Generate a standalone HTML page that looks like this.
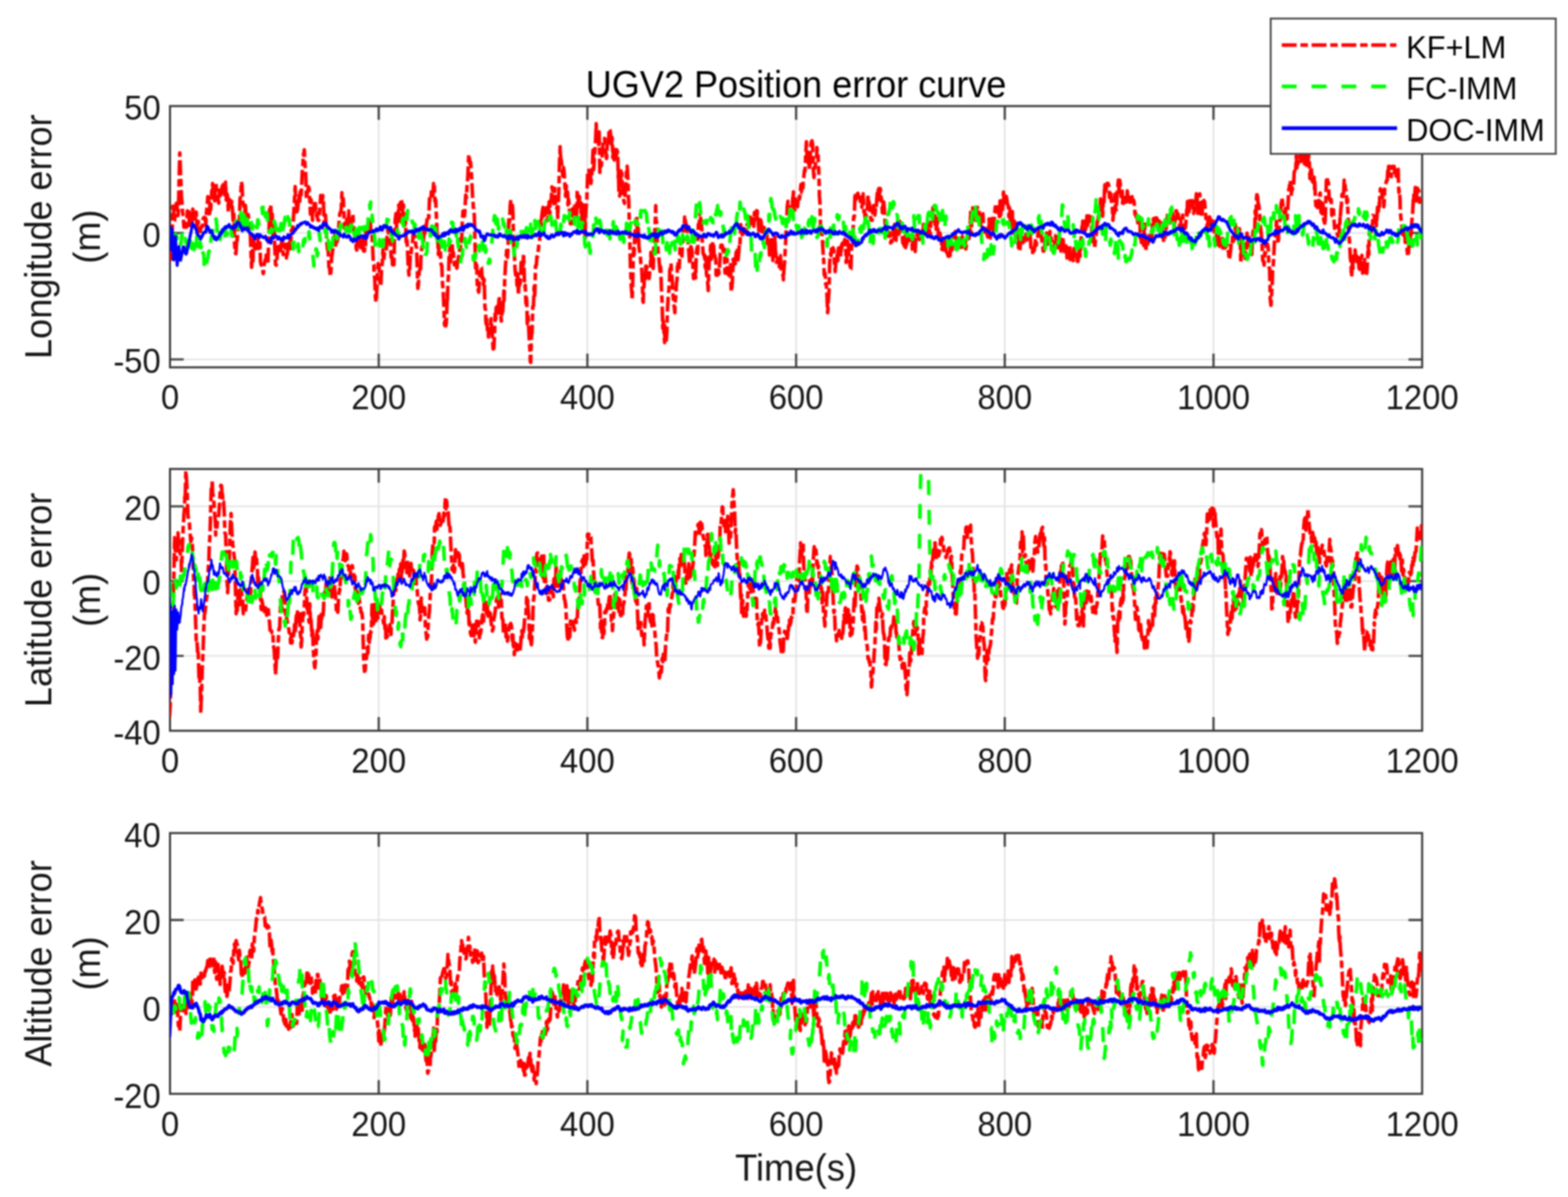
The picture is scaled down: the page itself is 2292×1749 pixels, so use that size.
<!DOCTYPE html><html><head><meta charset="utf-8"><title>UGV2 Position error curve</title><style>html,body{margin:0;padding:0;background:#fff;}svg{display:block;filter:blur(0.9px);}text{font-family:'Liberation Sans', Arial, Helvetica, sans-serif;}</style></head><body>
<svg width="2292" height="1749" viewBox="0 0 2292 1749">
<rect width="2292" height="1749" fill="#fff"/>
<defs>
<clipPath id="c0"><rect x="248.5" y="154.9" width="1830.3" height="381.8"/></clipPath>
<clipPath id="c1"><rect x="248.5" y="685.2" width="1830.3" height="382.5"/></clipPath>
<clipPath id="c2"><rect x="248.5" y="1217.3" width="1830.3" height="381.0"/></clipPath>
</defs>
<path d="M553.6 154.9V536.7M858.6 154.9V536.7M1163.7 154.9V536.7M1468.7 154.9V536.7M1773.8 154.9V536.7M248.5 340.4H2078.8M248.5 525.1H2078.8" stroke="#e3e3e3" stroke-width="2.4" fill="none"/>
<path d="M553.6 536.7v-20M553.6 154.9v20M858.6 536.7v-20M858.6 154.9v20M1163.7 536.7v-20M1163.7 154.9v20M1468.7 536.7v-20M1468.7 154.9v20M1773.8 536.7v-20M1773.8 154.9v20M248.5 340.4h20M2078.8 340.4h-20M248.5 525.1h20M2078.8 525.1h-20" stroke="#4a4a4a" stroke-width="3.4" fill="none"/>
<path d="M248.5 154.9H2078.8V536.7H248.5Z" stroke="#3a3a3a" stroke-width="3" fill="none" stroke-linejoin="miter"/>
<g clip-path="url(#c0)" fill="none" stroke-width="5.2" stroke-linejoin="round">
<path d="M247.8 364.6 248.8 370.5 249.8 378.8 250.2 375.5 250.8 356.8 251.8 336.1 252.8 301.1 253.8 306.2 254.8 323.3 255.2 322.6 255.8 312.1 256.8 304.9 257.8 297.2 258.8 301.1 259.8 315.2 260.2 314.9 260.8 306.9 261.8 261.6 262.8 223.4 263.8 249.8 264.8 275.5 265.2 288.0 265.8 293.5 266.8 309.3 267.8 316.0 268.8 332.0 269.8 332.0 270.8 325.8 271.5 332.1 271.8 329.2 272.8 332.0 273.8 308.0 274.0 315.0 274.8 321.0 275.8 305.5 276.8 329.4 277.8 321.2 278.8 311.6 279.8 317.6 280.8 326.7 281.5 311.8 281.8 305.5 282.8 312.2 283.8 307.1 284.8 318.1 285.2 313.7 285.8 320.2 286.8 309.8 287.8 327.9 288.8 339.5 289.0 323.4 289.8 323.3 290.8 335.4 291.8 334.2 292.8 338.2 293.8 331.7 294.8 331.7 295.8 331.1 296.5 321.2 296.8 319.8 297.8 318.2 298.8 320.4 299.8 315.5 300.2 313.8 300.8 329.5 301.8 309.5 302.8 301.4 303.8 287.3 304.8 292.3 305.8 316.3 306.5 310.7 306.8 296.8 307.8 308.1 308.8 294.8 309.5 278.6 309.8 290.6 310.8 268.0 311.8 284.3 312.8 277.0 313.8 293.6 314.8 277.2 315.8 268.0 316.5 280.8 316.8 284.4 317.8 292.6 318.8 289.1 319.0 291.3 319.8 296.8 320.8 277.7 321.8 281.6 322.8 285.0 323.8 281.6 324.8 272.1 325.8 273.9 326.5 268.3 326.8 265.5 327.8 281.8 328.8 285.0 329.8 266.2 330.2 282.1 330.8 292.5 331.8 283.4 332.8 287.4 333.8 309.5 334.0 293.8 334.8 296.5 335.8 291.8 336.8 302.1 337.8 301.2 338.8 294.2 339.8 306.9 340.8 322.2 341.5 314.6 341.8 312.9 342.8 354.5 343.5 366.8 343.8 369.2 344.8 370.7 345.8 354.4 346.5 346.8 346.8 351.1 347.8 331.2 348.8 323.0 349.8 330.0 350.2 314.1 350.8 291.2 351.8 285.9 352.8 265.3 353.8 270.7 354.8 295.7 355.2 296.3 355.8 298.2 356.8 302.7 357.8 309.0 358.8 300.1 359.8 321.5 360.8 331.6 361.5 317.1 361.8 314.2 362.8 313.7 363.8 320.8 364.8 337.2 365.2 339.8 365.8 338.7 366.8 367.5 367.8 390.6 368.8 366.0 369.8 381.8 370.2 359.1 370.8 348.0 371.8 361.7 372.8 362.3 373.8 359.4 374.0 363.5 374.8 357.1 375.8 362.9 376.8 348.0 377.8 359.4 378.8 363.0 379.8 352.3 380.8 382.6 381.5 386.4 381.8 387.3 382.8 386.7 383.8 393.5 384.8 399.8 385.2 398.6 385.8 388.1 386.8 383.9 387.8 379.4 388.8 380.8 389.0 372.8 389.8 378.7 390.8 372.7 391.5 384.2 391.8 379.0 392.8 349.9 393.8 317.2 394.0 306.3 394.8 319.1 395.8 298.0 396.8 326.7 397.8 309.9 398.8 340.8 399.8 347.8 400.2 342.8 400.8 338.2 401.8 363.3 402.8 386.6 403.8 387.4 404.8 378.5 405.8 364.8 406.5 360.9 406.8 360.0 407.8 366.8 408.8 362.3 409.8 366.3 410.2 370.2 410.8 358.5 411.8 353.0 412.8 353.0 413.8 372.1 414.0 360.4 414.8 359.5 415.8 358.6 416.8 362.7 417.8 356.9 418.8 377.0 419.0 368.6 419.8 372.0 420.8 364.7 421.8 357.0 422.8 354.8 423.8 345.7 424.0 348.2 424.8 363.3 425.8 336.6 426.8 335.3 427.8 333.3 428.8 325.2 429.0 317.5 429.8 304.9 430.8 285.4 431.5 272.5 431.8 280.9 432.8 296.9 433.8 301.0 434.0 309.6 434.8 307.0 435.8 297.4 436.5 293.3 436.8 284.2 437.8 298.3 438.8 280.4 439.8 289.2 440.2 284.5 440.8 274.7 441.8 251.7 442.8 239.6 443.5 225.2 443.8 227.0 444.8 218.9 445.8 242.0 446.5 246.8 446.8 252.2 447.8 290.6 448.8 283.6 449.0 283.2 449.8 279.7 450.8 272.9 451.8 275.0 452.8 292.4 453.8 313.0 454.8 291.9 455.8 310.1 456.5 315.4 456.8 322.0 457.8 302.6 458.8 297.8 459.8 307.7 460.2 299.1 460.8 293.0 461.8 309.7 462.8 315.5 463.8 310.9 464.0 318.4 464.8 321.8 465.8 322.0 466.8 316.7 467.8 300.2 468.8 285.5 469.8 287.6 470.8 296.4 471.5 288.7 471.8 285.5 472.8 294.8 473.8 327.9 474.8 319.8 475.2 319.1 475.8 314.1 476.8 333.9 477.8 355.3 478.8 364.8 479.0 356.3 479.8 368.1 480.8 390.2 481.8 392.4 482.8 403.9 483.8 395.5 484.8 375.9 485.8 369.5 486.5 364.6 486.8 347.6 487.8 349.2 488.8 354.4 489.8 341.3 490.2 349.8 490.8 358.4 491.8 345.9 492.8 353.3 493.8 349.1 494.0 348.1 494.8 337.0 495.8 321.5 496.8 311.5 497.8 310.5 498.8 305.7 499.8 281.5 500.2 290.3 500.8 294.1 501.8 290.3 502.8 313.2 503.8 334.1 504.8 325.7 505.8 336.0 506.5 334.4 506.8 320.5 507.8 336.1 508.8 327.9 509.8 308.0 510.2 323.6 510.8 331.9 511.8 316.2 512.8 325.4 513.8 329.2 514.0 322.1 514.8 314.4 515.8 313.0 516.8 329.9 517.8 339.0 518.8 345.7 519.8 345.8 520.8 363.7 521.5 365.4 521.8 355.3 522.8 340.3 523.8 348.3 524.8 359.7 525.2 353.4 525.8 348.2 526.8 361.7 527.8 359.6 528.8 349.2 529.0 355.1 529.8 350.7 530.8 365.0 531.8 367.0 532.8 367.0 533.8 352.4 534.0 362.7 534.8 338.7 535.8 338.5 536.8 344.4 537.8 338.4 538.8 333.6 539.8 332.0 540.8 328.2 541.5 322.9 541.8 333.8 542.8 341.3 543.8 342.9 544.8 364.4 545.8 385.8 546.5 386.8 546.8 398.7 547.8 407.5 548.8 434.6 549.0 436.3 549.8 441.6 550.8 421.5 551.8 397.1 552.8 385.2 553.8 387.8 554.0 388.4 554.8 409.6 555.8 415.6 556.5 418.1 556.8 414.8 557.8 391.6 558.8 384.2 559.8 364.8 560.2 374.0 560.8 381.7 561.8 371.5 562.8 365.8 563.8 363.0 564.0 362.4 564.8 363.8 565.8 345.6 566.8 335.5 567.8 338.3 568.8 355.2 569.8 350.4 570.8 352.2 571.5 370.6 571.8 376.1 572.8 372.2 573.8 387.0 574.8 385.2 575.2 380.0 575.8 387.0 576.8 339.6 577.8 320.3 578.8 312.0 579.8 333.4 580.8 315.6 581.5 315.5 581.8 316.0 582.8 299.5 583.8 310.2 584.8 323.2 585.2 297.7 585.8 293.6 586.8 290.8 587.8 299.8 588.8 310.2 589.0 312.4 589.8 299.3 590.8 333.9 591.8 328.9 592.8 323.7 593.8 354.0 594.8 348.9 595.2 356.7 595.8 368.0 596.8 391.1 597.8 402.1 598.8 394.6 599.8 369.9 600.8 371.8 601.5 363.5 601.8 359.7 602.8 357.4 603.8 344.3 604.0 341.4 604.8 342.8 605.8 346.2 606.8 345.8 607.8 358.7 608.8 361.2 609.8 388.9 610.8 421.4 611.5 415.6 611.8 412.2 612.8 396.7 613.8 393.2 614.8 396.8 615.2 377.5 615.8 369.7 616.8 360.8 617.8 361.9 618.8 350.5 619.0 352.6 619.8 337.3 620.8 343.7 621.8 327.1 622.8 333.9 623.8 324.3 624.8 316.9 625.8 318.5 626.5 315.0 626.8 318.5 627.8 290.1 628.8 294.3 629.8 291.5 630.2 285.7 630.8 278.0 631.8 285.5 632.8 285.2 633.8 268.0 634.0 272.3 634.8 270.5 635.8 294.5 636.8 291.9 637.8 314.0 638.8 339.8 639.8 345.8 640.2 357.2 640.8 371.9 641.8 357.6 642.8 360.6 643.8 367.1 644.0 375.6 644.8 386.6 645.8 387.8 646.8 413.6 647.8 425.4 648.8 447.5 649.8 474.8 650.8 468.1 651.5 479.1 651.8 479.5 652.8 464.3 653.8 427.6 654.0 439.7 654.8 412.5 655.8 399.2 656.5 373.6 656.8 373.4 657.8 361.1 658.8 382.5 659.8 361.6 660.2 354.8 660.8 354.6 661.8 369.9 662.8 369.3 663.8 384.7 664.0 387.1 664.8 382.8 665.8 384.3 666.8 388.6 667.8 391.8 668.8 384.0 669.8 377.6 670.8 372.2 671.5 372.6 671.8 366.2 672.8 364.6 673.8 348.4 674.8 353.1 675.2 338.3 675.8 323.8 676.8 308.5 677.8 316.2 678.8 310.6 679.0 315.5 679.8 302.7 680.8 284.9 681.8 289.1 682.8 269.3 683.8 259.5 684.8 234.5 685.2 225.9 685.8 226.3 686.8 239.5 687.8 236.6 688.8 248.3 689.0 254.0 689.8 267.7 690.8 287.5 691.5 293.1 691.8 303.2 692.8 305.0 693.8 328.0 694.0 339.7 694.8 377.5 695.2 391.9 695.8 396.1 696.8 387.0 697.8 421.2 698.8 424.0 699.0 423.1 699.8 427.0 700.8 410.1 701.8 391.1 702.8 390.8 703.8 391.2 704.8 407.2 705.8 405.5 706.5 415.8 706.8 413.5 707.8 408.5 708.8 448.2 709.8 453.8 710.2 469.7 710.8 473.7 711.8 466.9 712.8 487.4 713.8 485.5 714.0 492.5 714.8 477.2 715.8 478.4 716.8 474.8 717.8 465.7 718.8 479.0 719.8 491.9 720.8 509.9 721.5 504.4 721.8 509.5 722.8 490.6 723.8 458.3 724.8 466.2 725.2 449.7 725.8 455.4 726.8 447.6 727.8 452.8 728.8 457.6 729.0 443.5 729.8 432.5 730.8 452.4 731.8 457.9 732.8 469.2 733.8 457.1 734.8 455.6 735.8 439.5 736.5 425.1 736.8 439.2 737.8 408.1 738.8 389.2 739.0 386.4 739.8 376.9 740.8 363.0 741.8 376.1 742.8 356.8 743.8 316.5 744.8 324.5 745.2 314.7 745.8 299.7 746.8 292.0 747.8 306.7 748.8 299.8 749.0 300.3 749.8 312.0 750.8 360.0 751.5 367.2 751.8 368.8 752.8 392.8 753.8 402.0 754.0 401.4 754.8 398.7 755.8 417.2 756.8 400.6 757.8 431.3 758.8 408.0 759.8 416.1 760.8 410.2 761.5 389.3 761.8 383.6 762.8 396.9 763.8 383.1 764.8 387.8 765.2 370.7 765.8 385.8 766.8 418.2 767.8 417.0 768.8 443.6 769.0 442.5 769.8 433.1 770.8 473.1 771.8 462.1 772.8 479.3 773.8 499.8 774.8 513.6 775.2 528.6 775.8 529.5 776.8 491.8 777.8 484.6 778.8 447.9 779.8 447.0 780.8 418.4 781.5 431.9 781.8 429.5 782.8 388.5 783.8 387.2 784.0 387.6 784.8 375.2 785.8 375.3 786.8 366.1 787.8 356.0 788.8 352.6 789.8 324.2 790.2 322.6 790.8 329.1 791.8 316.7 792.8 308.3 793.8 303.0 794.0 307.2 794.8 315.7 795.8 308.1 796.8 313.7 797.8 306.1 798.8 303.5 799.0 320.4 799.8 322.0 800.8 321.7 801.8 308.5 802.8 294.9 803.8 313.4 804.0 297.0 804.8 293.5 805.8 291.6 806.8 273.0 807.8 278.7 808.8 294.4 809.8 297.6 810.8 275.1 811.5 297.5 811.8 284.9 812.8 298.2 813.8 304.4 814.8 301.6 815.2 317.8 815.8 304.4 816.8 280.9 817.8 238.5 818.8 214.4 819.0 224.0 819.8 230.3 820.8 236.8 821.8 249.7 822.8 257.4 823.8 244.9 824.8 254.1 825.8 271.3 826.5 281.9 826.8 287.0 827.8 271.4 828.8 276.6 829.8 282.2 830.2 299.3 830.8 290.6 831.8 296.9 832.8 314.6 833.8 327.0 834.0 322.9 834.8 327.0 835.8 327.0 836.8 305.0 837.8 316.6 838.8 309.1 839.0 312.6 839.8 301.0 840.8 309.3 841.8 313.4 842.8 316.6 843.8 279.2 844.0 278.5 844.8 287.5 845.8 301.7 846.8 286.9 847.8 299.0 848.8 295.8 849.8 320.6 850.8 312.4 851.5 317.9 851.8 298.9 852.8 301.5 853.8 337.7 854.8 320.6 855.2 347.6 855.8 320.9 856.8 302.0 857.8 291.0 858.8 260.8 859.0 252.6 859.8 253.5 860.8 248.7 861.8 257.1 862.8 252.1 863.8 268.2 864.0 266.7 864.8 256.9 865.8 245.4 866.8 219.4 867.8 247.8 868.8 231.1 869.8 216.4 870.8 200.6 871.5 180.5 871.8 203.8 872.8 200.2 873.8 200.4 874.8 211.4 875.2 213.8 875.8 192.7 876.8 252.0 877.8 243.7 878.8 241.5 879.0 242.1 879.8 231.9 880.8 218.7 881.8 203.0 882.8 202.5 883.8 202.3 884.8 222.7 885.8 222.9 886.5 231.6 886.8 231.0 887.8 203.9 888.8 205.4 889.8 208.6 890.2 191.8 890.8 188.0 891.8 190.1 892.8 200.1 893.8 203.9 894.0 211.5 894.8 200.8 895.8 230.4 896.8 218.6 897.8 233.8 898.8 225.5 899.8 218.4 900.8 227.4 901.5 214.8 901.8 224.7 902.8 221.9 903.8 259.5 904.0 252.4 904.8 283.5 905.8 286.5 906.5 281.0 906.8 275.0 907.8 249.6 908.8 256.8 909.0 252.7 909.8 272.5 910.8 280.1 911.8 293.4 912.8 297.2 913.8 282.2 914.8 272.9 915.8 248.5 916.5 246.8 916.8 242.8 917.8 261.9 918.8 292.3 919.0 291.5 919.8 320.7 920.8 359.4 921.5 389.4 921.8 394.3 922.8 419.1 923.8 430.9 924.0 438.5 924.8 415.6 925.8 370.5 926.5 362.5 926.8 374.8 927.8 342.1 928.8 334.7 929.8 320.9 930.2 315.3 930.8 318.9 931.8 357.0 932.8 328.9 933.8 355.1 934.0 360.7 934.8 366.7 935.8 371.9 936.8 385.1 937.8 389.2 938.8 411.0 939.8 439.8 940.2 441.8 940.8 426.0 941.8 410.9 942.8 413.0 943.8 395.0 944.0 384.5 944.8 393.8 945.8 390.6 946.8 403.8 947.8 405.6 948.8 406.9 949.8 396.9 950.8 389.9 951.5 368.5 951.8 383.3 952.8 373.6 953.8 375.0 954.8 392.3 955.2 381.1 955.8 355.0 956.8 344.5 957.8 323.0 958.5 300.3 958.8 321.2 959.8 324.8 960.8 350.6 961.5 359.7 961.8 366.5 962.8 374.6 963.8 385.1 964.8 396.7 965.2 389.1 965.8 391.5 966.8 421.2 967.8 440.9 968.8 479.7 969.0 466.9 969.8 471.9 970.8 490.1 971.5 500.7 971.8 476.2 972.8 501.3 973.8 499.3 974.8 484.2 975.2 467.1 975.8 450.4 976.8 432.8 977.8 422.3 978.8 408.1 979.0 394.8 979.8 392.7 980.8 384.9 981.8 400.2 982.8 412.7 983.8 431.3 984.8 442.6 985.8 450.5 986.5 457.0 986.8 444.2 987.8 431.4 988.8 414.2 989.8 407.0 990.2 389.0 990.8 382.7 991.8 389.5 992.8 391.3 993.8 370.5 994.0 362.5 994.8 360.9 995.8 371.8 996.8 374.1 997.8 351.5 998.8 330.1 999.8 337.3 1000.8 317.2 1001.5 323.0 1001.8 321.7 1002.8 329.7 1003.8 328.8 1004.0 334.2 1004.8 338.3 1005.8 357.3 1006.8 367.0 1007.8 381.7 1008.8 385.7 1009.8 360.4 1010.8 363.3 1011.5 367.1 1011.8 376.5 1012.8 387.6 1013.8 407.1 1014.8 400.8 1015.2 406.1 1015.8 398.2 1016.8 406.2 1017.8 369.1 1018.8 363.7 1019.0 358.6 1019.8 370.7 1020.8 327.9 1021.8 331.3 1022.8 313.7 1023.8 308.0 1024.0 319.2 1024.8 321.8 1025.8 334.8 1026.8 355.8 1027.8 370.3 1028.8 373.1 1029.8 372.4 1030.8 390.0 1031.5 392.1 1031.8 375.1 1032.8 401.9 1033.8 404.6 1034.8 418.0 1035.2 424.6 1035.8 403.3 1036.8 377.1 1037.8 373.7 1038.8 358.7 1039.0 366.0 1039.8 378.9 1040.8 370.7 1041.8 353.0 1042.8 354.1 1043.8 372.9 1044.8 375.1 1045.8 371.0 1046.5 385.6 1046.8 402.0 1047.8 396.7 1048.8 402.0 1049.8 400.4 1050.2 394.2 1050.8 400.0 1051.8 388.3 1052.8 370.4 1053.8 358.4 1054.0 364.3 1054.8 358.0 1055.8 358.7 1056.8 366.4 1057.8 367.9 1058.8 363.9 1059.0 371.2 1059.8 399.0 1060.8 396.9 1061.8 399.3 1062.8 378.6 1063.8 394.3 1064.0 391.6 1064.8 401.4 1065.8 401.4 1066.8 407.2 1067.8 386.6 1068.8 426.4 1069.0 422.1 1069.8 420.7 1070.8 406.4 1071.8 378.6 1072.8 386.6 1073.8 381.8 1074.8 385.5 1075.8 371.7 1076.5 364.7 1076.8 379.0 1077.8 363.1 1078.8 379.8 1079.8 369.6 1080.8 356.3 1081.5 358.6 1081.8 351.9 1082.8 328.0 1083.8 338.7 1084.8 343.0 1085.8 331.2 1086.5 341.4 1086.8 341.5 1087.8 334.1 1088.8 334.9 1089.8 335.8 1090.8 337.8 1091.5 335.0 1091.8 328.4 1092.8 328.5 1093.8 326.2 1094.8 334.7 1095.8 324.0 1096.5 322.4 1096.8 317.2 1097.8 329.0 1098.8 326.3 1099.8 316.6 1100.8 317.1 1101.5 315.8 1101.8 330.6 1102.8 310.7 1103.8 318.8 1104.8 313.7 1105.8 308.0 1106.5 320.7 1106.8 308.0 1107.8 317.2 1108.8 332.0 1109.8 342.0 1110.2 327.9 1110.8 321.9 1111.8 321.2 1112.8 325.7 1113.8 339.0 1114.0 335.4 1114.8 332.0 1115.8 336.5 1116.8 332.4 1117.8 334.1 1118.8 334.8 1119.0 337.0 1119.8 335.7 1120.8 336.7 1121.8 355.6 1122.8 361.3 1123.8 357.3 1124.0 351.0 1124.8 372.6 1125.8 365.0 1126.8 361.3 1127.8 345.6 1128.8 363.7 1129.0 362.0 1129.8 380.7 1130.8 364.4 1131.8 368.1 1132.8 345.6 1133.8 375.7 1134.0 368.3 1134.8 383.4 1135.8 382.0 1136.8 377.8 1137.8 381.2 1138.8 377.1 1139.0 389.6 1139.8 375.0 1140.8 373.4 1141.8 392.5 1142.8 397.9 1143.8 400.9 1144.8 402.6 1145.2 409.0 1145.8 394.0 1146.8 384.0 1147.8 365.0 1148.8 344.8 1149.8 320.4 1150.2 318.3 1150.8 301.5 1151.8 294.1 1152.8 301.1 1153.8 302.0 1154.0 302.8 1154.8 307.0 1155.8 307.7 1156.8 308.1 1157.8 309.0 1158.8 288.6 1159.0 294.7 1159.8 280.3 1160.8 307.0 1161.8 307.0 1162.8 288.3 1163.8 287.0 1164.0 290.7 1164.8 299.6 1165.8 302.0 1166.8 286.8 1167.8 286.4 1168.8 290.6 1169.8 280.6 1170.8 269.5 1171.5 275.8 1171.8 281.5 1172.8 280.7 1173.8 273.1 1174.0 264.2 1174.8 259.7 1175.8 250.2 1176.5 247.3 1176.8 249.8 1177.8 224.0 1178.8 207.0 1179.0 211.1 1179.8 234.8 1180.8 237.2 1181.8 223.7 1182.8 242.7 1183.8 247.1 1184.8 217.0 1185.8 208.1 1186.5 213.9 1186.8 205.5 1187.8 210.9 1188.8 246.6 1189.8 259.5 1190.2 250.6 1190.8 243.7 1191.8 242.2 1192.8 232.2 1193.8 230.3 1194.0 215.5 1194.8 224.2 1195.8 227.2 1196.5 250.5 1196.8 246.1 1197.8 286.6 1198.8 300.4 1199.0 317.3 1199.8 340.6 1200.8 333.8 1201.5 343.1 1201.8 343.4 1202.8 362.6 1203.8 379.8 1204.0 378.5 1204.8 401.6 1205.8 398.8 1206.5 404.1 1206.8 415.2 1207.8 414.5 1208.8 431.2 1209.8 457.0 1210.2 452.3 1210.8 439.1 1211.8 425.9 1212.8 383.6 1213.8 371.1 1214.8 373.5 1215.2 361.2 1215.8 368.2 1216.8 365.7 1217.8 362.0 1218.8 366.3 1219.8 385.9 1220.8 397.0 1221.5 386.3 1221.8 382.3 1222.8 385.9 1223.8 371.1 1224.8 380.8 1225.2 362.6 1225.8 358.9 1226.8 368.6 1227.8 370.0 1228.8 375.2 1229.0 360.6 1229.8 368.8 1230.8 356.2 1231.8 356.5 1232.8 350.4 1233.8 357.6 1234.8 349.8 1235.8 364.2 1236.5 367.2 1236.8 383.5 1237.8 378.3 1238.8 351.8 1239.8 359.8 1240.2 356.3 1240.8 373.7 1241.8 376.4 1242.8 394.6 1243.8 393.5 1244.8 360.8 1245.2 360.1 1245.8 345.5 1246.8 341.1 1247.8 316.8 1248.8 316.9 1249.8 282.0 1250.2 283.3 1250.8 292.4 1251.8 285.8 1252.8 284.0 1253.8 288.8 1254.0 282.3 1254.8 287.8 1255.8 285.2 1256.8 282.4 1257.8 300.3 1258.8 300.7 1259.8 302.6 1260.8 294.1 1261.5 290.3 1261.8 283.0 1262.8 309.7 1263.8 309.2 1264.8 322.0 1265.2 312.9 1265.8 318.2 1266.8 308.9 1267.8 305.0 1268.8 283.8 1269.0 301.4 1269.8 293.9 1270.8 298.1 1271.8 304.1 1272.8 319.2 1273.8 322.0 1274.8 322.0 1275.8 309.9 1276.5 309.9 1276.8 300.4 1277.8 304.8 1278.8 314.3 1279.8 304.1 1280.2 300.6 1280.8 302.5 1281.8 289.1 1282.8 276.1 1283.8 275.5 1284.0 284.6 1284.8 292.0 1285.8 281.1 1286.8 275.5 1287.8 287.7 1288.8 292.7 1289.8 310.8 1290.8 298.8 1291.5 309.8 1291.8 295.2 1292.8 307.0 1293.8 327.1 1294.8 321.1 1295.2 328.6 1295.8 347.4 1296.8 336.8 1297.8 332.7 1298.8 335.6 1299.0 345.3 1299.8 339.6 1300.8 345.1 1301.8 355.1 1302.8 351.4 1303.8 353.3 1304.8 346.6 1305.8 333.2 1306.5 334.6 1306.8 348.8 1307.8 327.8 1308.8 328.7 1309.8 351.1 1310.2 330.7 1310.8 331.3 1311.8 328.1 1312.8 333.3 1313.8 330.8 1314.0 342.2 1314.8 323.0 1315.8 327.1 1316.8 328.4 1317.8 340.3 1318.8 345.2 1319.8 355.6 1320.8 355.3 1321.5 351.3 1321.8 359.4 1322.8 345.7 1323.8 362.0 1324.8 337.9 1325.2 353.1 1325.8 357.3 1326.8 355.9 1327.8 349.4 1328.8 351.5 1329.0 343.6 1329.8 348.4 1330.8 351.0 1331.8 350.5 1332.8 350.6 1333.8 366.9 1334.8 344.5 1335.8 355.6 1336.5 359.2 1336.8 357.2 1337.8 367.6 1338.8 345.4 1339.8 343.4 1340.2 341.5 1340.8 344.6 1341.8 340.3 1342.8 340.8 1343.8 350.2 1344.0 344.6 1344.8 347.0 1345.8 335.3 1346.8 342.9 1347.8 339.2 1348.8 344.3 1349.8 327.9 1350.8 341.8 1351.5 330.2 1351.8 342.2 1352.8 342.0 1353.8 340.8 1354.8 338.8 1355.2 330.6 1355.8 330.0 1356.8 334.7 1357.8 324.8 1358.8 341.4 1359.0 338.6 1359.8 344.5 1360.8 315.9 1361.8 312.9 1362.8 313.6 1363.8 303.0 1364.8 311.1 1365.8 327.1 1366.5 315.0 1366.8 327.8 1367.8 324.2 1368.8 337.3 1369.8 325.1 1370.2 318.9 1370.8 333.3 1371.8 344.1 1372.8 340.5 1373.8 348.4 1374.0 340.5 1374.8 346.8 1375.8 344.1 1376.8 364.5 1377.8 359.3 1378.8 355.3 1379.8 370.1 1380.8 361.4 1381.5 353.6 1381.8 349.5 1382.8 367.5 1383.8 363.8 1384.8 371.0 1385.2 370.0 1385.8 374.2 1386.8 374.5 1387.8 369.7 1388.8 373.6 1389.0 361.4 1389.8 357.6 1390.8 357.3 1391.8 365.1 1392.8 353.2 1393.8 345.2 1394.0 343.2 1394.8 341.6 1395.8 345.7 1396.8 338.0 1397.8 352.7 1398.8 358.6 1399.0 358.3 1399.8 362.0 1400.8 351.4 1401.8 353.9 1402.8 349.3 1403.8 349.3 1404.0 357.3 1404.8 361.6 1405.8 349.1 1406.8 345.6 1407.8 357.4 1408.8 358.6 1409.0 357.7 1409.8 364.6 1410.8 348.2 1411.8 363.9 1412.8 357.1 1413.8 348.6 1414.8 339.3 1415.8 348.1 1416.5 348.3 1416.8 340.3 1417.8 335.5 1418.8 310.2 1419.0 320.6 1419.8 342.7 1420.8 312.5 1421.8 303.7 1422.8 308.9 1423.8 305.2 1424.8 317.6 1425.8 322.0 1426.5 314.8 1426.8 317.5 1427.8 303.4 1428.8 303.0 1429.8 311.2 1430.8 324.4 1431.5 310.2 1431.8 324.7 1432.8 316.2 1433.8 329.7 1434.8 317.7 1435.2 324.2 1435.8 321.2 1436.8 312.3 1437.8 335.6 1438.8 333.8 1439.0 342.9 1439.8 341.5 1440.8 334.2 1441.8 338.0 1442.8 342.5 1443.8 346.3 1444.8 345.8 1445.8 319.9 1446.5 341.6 1446.8 341.1 1447.8 347.6 1448.8 328.0 1449.8 328.6 1450.2 324.3 1450.8 315.0 1451.8 336.6 1452.8 325.4 1453.8 315.3 1454.0 311.7 1454.8 302.3 1455.8 309.8 1456.8 302.4 1457.8 302.6 1458.8 303.8 1459.8 304.3 1460.8 319.5 1461.5 308.3 1461.8 293.7 1462.8 314.3 1463.8 305.0 1464.8 293.1 1465.2 303.0 1465.8 307.8 1466.8 280.5 1467.8 297.5 1468.8 300.4 1469.0 292.7 1469.8 296.2 1470.8 286.9 1471.8 291.7 1472.8 299.0 1473.8 300.5 1474.8 316.8 1475.8 303.6 1476.5 314.0 1476.8 320.7 1477.8 325.0 1478.8 328.9 1479.8 309.0 1480.2 327.7 1480.8 336.8 1481.8 339.9 1482.8 323.1 1483.8 343.3 1484.0 332.2 1484.8 326.7 1485.8 342.1 1486.8 335.2 1487.8 343.4 1488.8 362.2 1489.0 360.1 1489.8 347.6 1490.8 367.0 1491.8 349.0 1492.8 342.7 1493.8 342.2 1494.8 346.7 1495.8 352.1 1496.8 355.5 1497.8 356.0 1498.8 348.3 1499.8 342.2 1500.8 350.9 1501.8 342.7 1502.8 338.9 1503.8 349.3 1504.8 349.4 1505.8 344.0 1506.5 353.4 1506.8 361.6 1507.8 362.4 1508.8 359.0 1509.8 372.0 1510.8 366.2 1511.5 364.6 1511.8 366.3 1512.8 357.2 1513.8 348.5 1514.8 358.4 1515.2 354.1 1515.8 352.8 1516.8 347.1 1517.8 333.0 1518.8 344.1 1519.0 332.7 1519.8 344.5 1520.8 341.9 1521.8 342.1 1522.8 350.9 1523.8 355.9 1524.8 367.0 1525.8 367.0 1526.5 358.7 1526.8 359.7 1527.8 347.3 1528.8 354.4 1529.8 340.4 1530.2 343.3 1530.8 357.1 1531.8 342.8 1532.8 343.3 1533.8 360.7 1534.0 351.1 1534.8 338.0 1535.8 349.0 1536.8 348.3 1537.8 362.5 1538.8 367.0 1539.0 360.2 1539.8 367.0 1540.8 367.0 1541.8 354.7 1542.8 344.5 1543.8 354.1 1544.0 346.1 1544.8 343.0 1545.8 352.5 1546.8 364.5 1547.8 352.3 1548.8 362.8 1549.0 357.4 1549.8 348.4 1550.8 367.0 1551.8 350.3 1552.8 357.9 1553.8 357.2 1554.0 350.1 1554.8 365.5 1555.8 365.8 1556.8 371.4 1557.8 356.3 1558.8 355.4 1559.0 366.5 1559.8 377.2 1560.8 373.3 1561.8 374.7 1562.8 376.4 1563.8 359.3 1564.8 382.0 1565.8 382.0 1566.5 377.1 1566.8 375.0 1567.8 378.0 1568.8 380.9 1569.8 363.0 1570.2 367.2 1570.8 378.5 1571.8 370.3 1572.8 374.1 1573.8 373.6 1574.0 375.6 1574.8 382.0 1575.8 382.0 1576.8 372.1 1577.8 362.9 1578.8 374.3 1579.8 352.3 1580.8 344.9 1581.5 331.4 1581.8 338.7 1582.8 323.0 1583.8 323.0 1584.8 337.2 1585.2 338.5 1585.8 330.4 1586.8 335.5 1587.8 330.4 1588.8 315.3 1589.0 328.5 1589.8 333.4 1590.8 317.2 1591.8 315.5 1592.8 317.8 1593.8 319.6 1594.8 313.0 1595.8 337.3 1596.5 330.3 1596.8 338.4 1597.8 357.5 1598.8 346.6 1599.8 357.3 1600.2 363.4 1600.8 354.3 1601.8 347.2 1602.8 339.7 1603.8 323.3 1604.0 326.8 1604.8 323.5 1605.8 314.0 1606.8 309.7 1607.8 307.3 1608.8 290.6 1609.8 307.5 1610.8 300.4 1611.5 302.3 1611.8 315.8 1612.8 289.5 1613.8 295.1 1614.8 270.0 1615.2 284.0 1615.8 277.9 1616.8 277.5 1617.8 268.4 1618.8 268.0 1619.0 267.9 1619.8 268.0 1620.8 271.5 1621.8 288.9 1622.8 293.1 1623.8 283.2 1624.8 297.7 1625.8 301.7 1626.5 314.2 1626.8 322.0 1627.8 308.6 1628.8 315.6 1629.0 304.7 1629.8 283.6 1630.8 307.2 1631.8 306.5 1632.8 284.6 1633.8 273.9 1634.8 263.0 1635.8 280.8 1636.5 271.3 1636.8 263.3 1637.8 271.6 1638.8 287.1 1639.8 288.0 1640.2 274.9 1640.8 297.0 1641.8 288.5 1642.8 297.0 1643.8 288.6 1644.0 288.6 1644.8 290.1 1645.8 290.2 1646.8 295.2 1647.8 278.9 1648.8 288.0 1649.8 292.6 1650.8 288.0 1651.5 289.1 1651.8 295.6 1652.8 295.1 1653.8 294.9 1654.8 287.4 1655.2 294.6 1655.8 291.5 1656.8 292.0 1657.8 295.2 1658.8 307.1 1659.0 313.2 1659.8 307.5 1660.8 317.2 1661.8 314.7 1662.8 322.1 1663.8 329.4 1664.8 323.3 1665.8 314.0 1666.5 332.3 1666.8 347.9 1667.8 348.9 1668.8 357.1 1669.8 344.5 1670.2 355.1 1670.8 349.7 1671.8 358.7 1672.8 323.1 1673.8 337.9 1674.0 354.1 1674.8 367.0 1675.8 355.1 1676.8 347.6 1677.8 356.4 1678.8 353.9 1679.0 351.9 1679.8 340.7 1680.8 349.5 1681.8 345.5 1682.8 344.7 1683.8 347.9 1684.8 324.3 1685.8 319.9 1686.5 326.0 1686.8 330.7 1687.8 318.8 1688.8 318.6 1689.8 320.8 1690.2 320.7 1690.8 318.5 1691.8 321.5 1692.8 327.7 1693.8 333.0 1694.0 335.7 1694.8 323.2 1695.8 336.7 1696.8 323.3 1697.8 333.0 1698.8 329.1 1699.8 346.8 1700.8 350.8 1701.5 353.7 1701.8 352.4 1702.8 350.1 1703.8 325.4 1704.8 334.3 1705.2 325.6 1705.8 324.6 1706.8 310.3 1707.8 313.1 1708.8 319.8 1709.0 321.4 1709.8 326.0 1710.8 312.4 1711.8 308.0 1712.8 313.0 1713.8 308.0 1714.8 314.4 1715.8 326.3 1716.8 332.0 1717.8 317.9 1718.8 308.0 1719.8 308.0 1720.8 318.6 1721.8 308.0 1722.8 323.0 1723.8 327.8 1724.8 332.7 1725.8 327.8 1726.8 315.4 1727.8 318.8 1728.8 314.3 1729.8 326.1 1730.8 332.2 1731.5 334.2 1731.8 333.3 1732.8 332.7 1733.8 320.1 1734.8 306.5 1735.2 314.3 1735.8 294.3 1736.8 306.0 1737.8 314.2 1738.8 294.3 1739.0 293.3 1739.8 299.9 1740.8 293.8 1741.8 304.0 1742.8 293.0 1743.8 303.9 1744.0 305.4 1744.8 312.0 1745.8 304.1 1746.8 304.9 1747.8 295.2 1748.8 283.0 1749.0 305.8 1749.8 287.4 1750.8 312.0 1751.8 306.9 1752.8 311.7 1753.8 283.0 1754.0 293.9 1754.8 294.8 1755.8 301.0 1756.8 316.9 1757.8 301.2 1758.8 303.6 1759.0 296.4 1759.8 292.8 1760.8 295.1 1761.8 306.5 1762.8 319.0 1763.8 325.5 1764.8 332.0 1765.8 322.6 1766.5 322.9 1766.8 328.5 1767.8 316.9 1768.8 318.4 1769.8 323.6 1770.2 322.7 1770.8 331.3 1771.8 322.7 1772.8 326.3 1773.8 323.4 1774.0 333.8 1774.8 340.7 1775.8 339.3 1776.8 342.2 1777.8 337.8 1778.8 351.5 1779.0 351.9 1779.8 360.4 1780.8 336.3 1781.8 354.5 1782.8 360.0 1783.8 351.9 1784.0 356.1 1784.8 350.4 1785.8 357.3 1786.8 348.3 1787.8 365.9 1788.8 367.3 1789.0 365.7 1789.8 357.7 1790.8 359.8 1791.8 361.4 1792.8 355.6 1793.8 357.2 1794.0 362.7 1794.8 365.1 1795.8 368.1 1796.8 379.5 1797.8 373.2 1798.8 365.9 1799.8 353.9 1800.8 356.2 1801.5 351.3 1801.8 341.8 1802.8 352.7 1803.8 348.3 1804.8 349.5 1805.8 325.3 1806.5 331.3 1806.8 342.6 1807.8 334.2 1808.8 344.1 1809.8 335.4 1810.8 354.0 1811.5 349.4 1811.8 334.1 1812.8 347.5 1813.8 384.5 1814.8 356.5 1815.8 372.8 1816.5 363.0 1816.8 371.1 1817.8 364.0 1818.8 356.6 1819.8 374.6 1820.2 377.7 1820.8 368.7 1821.8 371.6 1822.8 340.5 1823.8 353.2 1824.0 347.1 1824.8 356.5 1825.8 346.9 1826.8 359.5 1827.8 350.9 1828.8 368.5 1829.0 369.0 1829.8 372.0 1830.8 347.9 1831.8 337.4 1832.8 337.8 1833.8 341.8 1834.0 339.7 1834.8 308.0 1835.8 320.2 1836.8 287.8 1837.8 281.2 1838.8 295.9 1839.8 299.0 1840.8 305.4 1841.5 314.2 1841.8 327.3 1842.8 334.1 1843.8 343.3 1844.8 355.9 1845.2 369.0 1845.8 380.6 1846.8 381.0 1847.8 387.4 1848.8 369.2 1849.8 370.3 1850.8 357.6 1851.5 359.1 1851.8 355.9 1852.8 356.9 1853.8 362.8 1854.8 390.3 1855.2 391.2 1855.8 391.4 1856.8 437.4 1857.8 446.2 1858.8 430.2 1859.8 410.1 1860.2 395.3 1860.8 392.9 1861.8 376.7 1862.8 354.6 1863.8 348.0 1864.0 348.7 1864.8 339.6 1865.8 323.7 1866.8 341.0 1867.8 349.5 1868.8 355.6 1869.0 337.7 1869.8 332.7 1870.8 320.5 1871.8 320.1 1872.8 295.9 1873.8 297.5 1874.0 287.9 1874.8 296.0 1875.8 305.0 1876.8 308.4 1877.8 313.0 1878.8 304.5 1879.8 313.1 1880.8 318.6 1881.5 320.0 1881.8 311.9 1882.8 297.6 1883.8 276.7 1884.8 273.4 1885.2 264.1 1885.8 264.4 1886.8 271.8 1887.8 286.2 1888.8 274.0 1889.0 276.4 1889.8 275.7 1890.8 271.5 1891.8 251.3 1892.8 249.6 1893.8 252.0 1894.8 228.2 1895.8 245.2 1896.5 235.4 1896.8 240.3 1897.8 237.1 1898.8 233.2 1899.8 229.5 1900.8 222.8 1901.5 239.4 1901.8 220.5 1902.8 220.5 1903.8 233.7 1904.8 222.7 1905.8 222.0 1906.5 229.5 1906.8 239.3 1907.8 227.4 1908.8 236.6 1909.8 241.6 1910.2 241.2 1910.8 232.8 1911.8 241.2 1912.8 225.8 1913.8 236.2 1914.0 238.0 1914.8 261.0 1915.8 246.8 1916.8 244.4 1917.8 263.3 1918.8 265.8 1919.8 260.5 1920.8 258.8 1921.5 276.1 1921.8 262.7 1922.8 291.1 1923.8 304.1 1924.8 298.7 1925.2 297.8 1925.8 303.3 1926.8 300.5 1927.8 292.9 1928.8 294.1 1929.0 283.7 1929.8 282.0 1930.8 310.2 1931.8 302.4 1932.8 312.6 1933.8 297.3 1934.8 320.2 1935.8 324.6 1936.5 326.1 1936.8 328.9 1937.8 302.3 1938.8 263.5 1939.8 263.9 1940.2 258.2 1940.8 266.9 1941.8 266.7 1942.8 287.8 1943.8 292.3 1944.0 290.6 1944.8 297.7 1945.8 291.3 1946.8 314.8 1947.8 311.8 1948.8 301.7 1949.8 318.0 1950.8 333.7 1951.5 331.2 1951.8 329.9 1952.8 330.4 1953.8 335.1 1954.8 342.5 1955.2 343.5 1955.8 344.9 1956.8 328.7 1957.8 339.6 1958.8 318.1 1959.0 320.0 1959.8 307.5 1960.8 297.9 1961.8 283.8 1962.8 286.1 1963.8 289.4 1964.8 263.0 1965.8 266.2 1966.5 275.0 1966.8 276.1 1967.8 281.1 1968.8 296.3 1969.8 291.1 1970.2 308.1 1970.8 319.6 1971.8 343.5 1972.8 355.7 1973.8 376.4 1974.8 383.3 1975.2 397.0 1975.8 404.5 1976.8 380.0 1977.8 392.1 1978.8 373.7 1979.0 375.4 1979.8 379.6 1980.8 365.2 1981.8 377.7 1982.8 373.7 1983.8 382.5 1984.8 375.7 1985.8 382.5 1986.5 391.1 1986.8 397.0 1987.8 397.0 1988.8 371.3 1989.8 376.6 1990.2 377.2 1990.8 373.0 1991.8 399.1 1992.8 385.4 1993.8 398.2 1994.0 385.4 1994.8 379.4 1995.8 394.8 1996.8 390.1 1997.8 399.5 1998.8 385.2 1999.8 358.8 2000.2 363.6 2000.8 372.1 2001.8 334.7 2002.8 331.9 2003.8 332.2 2004.8 338.3 2005.8 328.8 2006.5 324.4 2006.8 314.7 2007.8 315.1 2008.8 316.8 2009.8 320.2 2010.8 325.3 2011.5 315.4 2011.8 330.0 2012.8 316.0 2013.8 300.9 2014.8 308.6 2015.8 295.1 2016.5 301.8 2016.8 287.0 2017.8 275.8 2018.8 287.1 2019.8 287.9 2020.2 283.0 2020.8 288.9 2021.8 274.8 2022.8 302.2 2023.8 288.0 2024.0 275.4 2024.8 271.0 2025.8 267.7 2026.8 263.9 2027.8 263.7 2028.8 245.5 2029.0 260.7 2029.8 243.0 2030.8 243.0 2031.8 243.0 2032.8 243.9 2033.8 258.2 2034.0 251.0 2034.8 245.5 2035.8 243.0 2036.8 243.0 2037.8 243.0 2038.8 252.6 2039.8 251.2 2040.2 247.8 2040.8 257.3 2041.8 257.8 2042.8 245.3 2043.8 247.7 2044.0 259.3 2044.8 281.1 2045.8 279.0 2046.5 292.6 2046.8 306.7 2047.8 319.4 2048.8 322.6 2049.8 340.4 2050.2 342.5 2050.8 338.3 2051.8 346.5 2052.8 346.9 2053.8 339.3 2054.0 354.0 2054.8 353.1 2055.8 348.1 2056.8 365.4 2057.8 374.5 2058.8 374.5 2059.0 366.4 2059.8 349.2 2060.8 360.1 2061.8 340.0 2062.8 343.0 2063.8 322.2 2064.8 313.0 2065.8 293.0 2066.5 285.0 2066.8 293.7 2067.8 290.2 2068.8 273.8 2069.8 293.8 2070.2 283.4 2070.8 286.5 2071.8 274.9 2072.8 277.2 2073.8 278.1 2074.0 286.7 2074.8 295.6 2075.8 291.7 2076.8 289.7 2077.8 294.7" stroke="#ff0000" stroke-dasharray="21.8 5.5 10.9 5.4"/>
<path d="M247.8 340.2 248.8 335.0 249.8 343.2 250.8 342.0 251.8 337.9 252.8 341.6 253.8 335.0 254.0 346.4 254.8 346.8 255.8 349.8 256.8 342.7 257.8 349.2 258.8 349.2 259.0 344.4 259.8 345.1 260.8 357.5 261.8 353.0 262.8 354.3 263.8 357.2 264.0 355.2 264.8 355.5 265.8 342.5 266.8 352.8 267.8 356.7 268.8 355.4 269.0 347.7 269.8 350.0 270.8 348.5 271.8 354.6 272.8 351.8 273.8 364.0 274.0 358.4 274.8 352.5 275.8 349.6 276.8 352.8 277.8 358.5 278.8 352.6 279.0 358.6 279.8 362.9 280.8 357.4 281.8 346.4 282.8 358.3 283.8 365.0 284.0 350.2 284.8 345.1 285.8 348.0 286.8 359.7 287.8 345.5 288.8 358.2 289.0 354.8 289.8 364.8 290.8 358.4 291.8 355.0 292.8 354.2 293.8 362.2 294.0 359.6 294.8 357.3 295.8 351.9 296.8 370.5 297.8 371.7 298.8 392.5 299.8 386.1 300.2 391.2 300.8 388.0 301.8 387.5 302.8 378.7 303.8 376.9 304.0 376.5 304.8 368.3 305.8 366.8 306.8 372.8 307.8 355.9 308.8 346.2 309.8 346.5 310.8 339.3 311.5 331.3 311.8 329.7 312.8 334.2 313.8 327.5 314.8 323.4 315.2 321.4 315.8 320.0 316.8 329.1 317.8 342.9 318.8 337.3 319.0 341.9 319.8 335.4 320.8 340.2 321.8 350.1 322.8 342.6 323.8 343.2 324.0 348.2 324.8 352.2 325.8 351.4 326.8 352.5 327.8 350.6 328.8 352.5 329.0 343.3 329.8 336.4 330.8 341.6 331.8 339.8 332.8 342.8 333.8 337.2 334.0 339.2 334.8 334.5 335.8 337.6 336.8 330.8 337.8 336.5 338.8 345.0 339.0 342.4 339.8 345.0 340.8 332.3 341.8 328.7 342.8 330.0 343.8 328.9 344.0 328.4 344.8 330.6 345.8 322.4 346.8 327.8 347.8 334.3 348.8 324.2 349.0 321.8 349.8 318.3 350.8 311.7 351.8 310.0 352.8 323.0 353.8 330.9 354.0 311.2 354.8 310.0 355.8 315.2 356.8 315.1 357.8 319.3 358.8 331.1 359.0 327.4 359.8 333.8 360.8 319.7 361.8 326.2 362.8 337.5 363.8 330.1 364.0 328.9 364.8 326.0 365.8 330.0 366.8 322.5 367.8 329.0 368.8 334.8 369.0 329.3 369.8 329.3 370.8 330.1 371.8 330.8 372.8 324.4 373.8 328.7 374.0 335.7 374.8 337.6 375.8 333.2 376.8 321.0 377.8 325.7 378.8 327.1 379.0 323.0 379.8 322.8 380.8 313.4 381.8 306.6 382.8 303.7 383.8 312.3 384.8 297.5 385.8 301.1 386.8 311.9 387.8 316.9 388.8 310.6 389.8 312.2 390.8 312.3 391.5 331.6 391.8 335.4 392.8 330.3 393.8 340.0 394.8 340.0 395.8 340.0 396.5 336.1 396.8 334.1 397.8 338.5 398.8 326.3 399.8 333.9 400.8 323.0 401.5 326.6 401.8 325.5 402.8 329.7 403.8 337.0 404.8 335.4 405.8 329.9 406.5 329.4 406.8 324.9 407.8 323.6 408.8 337.5 409.8 335.3 410.8 326.7 411.5 337.3 411.8 331.5 412.8 339.9 413.8 332.1 414.8 331.0 415.8 324.5 416.5 318.1 416.8 317.4 417.8 317.9 418.8 315.1 419.8 325.0 420.8 316.5 421.5 322.2 421.8 319.0 422.8 320.7 423.8 333.0 424.8 343.1 425.8 345.0 426.5 347.0 426.8 352.3 427.8 355.2 428.8 363.9 429.8 354.0 430.8 359.2 431.5 359.3 431.8 356.3 432.8 359.0 433.8 366.2 434.8 360.5 435.8 356.4 436.5 367.7 436.8 367.3 437.8 366.0 438.8 367.0 439.8 368.6 440.8 365.9 441.5 356.5 441.8 354.1 442.8 359.5 443.8 350.7 444.8 354.6 445.8 353.5 446.5 338.4 446.8 338.6 447.8 335.0 448.8 336.2 449.8 340.2 450.8 344.5 451.5 345.8 451.8 338.6 452.8 349.8 453.8 354.6 454.8 356.1 455.8 368.1 456.5 369.4 456.8 369.8 457.8 376.9 458.8 388.8 459.0 384.1 459.8 377.8 460.8 380.6 461.8 363.7 462.8 364.1 463.8 374.1 464.8 367.0 465.8 355.7 466.5 349.8 466.8 340.0 467.8 351.6 468.8 342.2 469.8 345.5 470.8 342.4 471.5 343.1 471.8 338.7 472.8 335.0 473.8 335.0 474.8 335.0 475.2 339.0 475.8 336.5 476.8 335.0 477.8 358.6 478.8 359.9 479.0 358.1 479.8 350.8 480.8 364.3 481.8 362.4 482.8 362.1 483.8 357.6 484.8 344.0 485.8 359.5 486.8 347.6 487.8 344.9 488.8 339.8 489.8 338.8 490.8 346.5 491.5 350.0 491.8 337.0 492.8 349.1 493.8 343.7 494.8 333.5 495.8 341.0 496.5 339.1 496.8 334.8 497.8 327.5 498.8 332.1 499.8 327.5 500.8 327.5 501.5 333.9 501.8 334.5 502.8 327.5 503.8 327.5 504.8 330.6 505.8 337.3 506.5 333.3 506.8 331.8 507.8 337.5 508.8 342.3 509.8 327.5 510.8 328.7 511.5 336.3 511.8 338.4 512.8 328.8 513.8 328.8 514.8 341.9 515.8 337.0 516.5 339.7 516.8 335.4 517.8 343.2 518.8 345.0 519.8 345.0 520.8 329.6 521.5 336.0 521.8 340.1 522.8 333.6 523.8 332.0 524.8 341.8 525.8 332.2 526.5 326.9 526.8 339.5 527.8 336.5 528.8 332.4 529.8 334.6 530.8 336.0 531.5 332.5 531.8 336.9 532.8 331.2 533.8 335.4 534.8 337.5 535.8 331.2 536.5 324.9 536.8 334.7 537.8 323.9 538.8 307.7 539.8 305.4 540.2 296.8 540.8 305.3 541.8 295.0 542.8 310.3 543.8 322.7 544.0 314.4 544.8 325.3 545.8 336.6 546.8 332.4 547.8 353.4 548.8 365.0 549.8 359.6 550.8 365.0 551.5 360.9 551.8 357.6 552.8 357.6 553.8 354.6 554.8 350.0 555.2 358.6 555.8 365.0 556.8 353.1 557.8 348.9 558.8 349.3 559.0 356.9 559.8 360.1 560.8 343.9 561.8 345.2 562.8 344.8 563.8 332.9 564.0 329.3 564.8 332.6 565.8 320.3 566.8 322.7 567.8 321.4 568.8 338.0 569.8 339.7 570.8 340.8 571.5 338.4 571.8 344.1 572.8 342.2 573.8 352.5 574.8 347.7 575.8 347.2 576.5 346.3 576.8 345.4 577.8 349.0 578.8 338.9 579.8 341.4 580.8 335.6 581.5 341.5 581.8 345.6 582.8 337.0 583.8 334.9 584.8 337.9 585.8 328.7 586.5 331.1 586.8 329.0 587.8 323.3 588.8 319.3 589.8 330.5 590.8 326.1 591.5 321.5 591.8 311.1 592.8 312.7 593.8 320.4 594.8 320.5 595.8 307.6 596.8 312.5 597.8 312.9 598.8 320.3 599.8 317.6 600.8 317.0 601.5 320.9 601.8 319.7 602.8 325.1 603.8 326.1 604.8 326.0 605.8 333.2 606.5 332.4 606.8 324.3 607.8 331.3 608.8 333.1 609.8 336.1 610.8 334.6 611.5 340.7 611.8 347.9 612.8 339.3 613.8 339.6 614.8 351.3 615.8 339.2 616.5 348.2 616.8 349.1 617.8 351.0 618.8 365.4 619.8 371.0 620.2 377.9 620.8 379.4 621.8 372.1 622.8 371.8 623.8 368.8 624.0 368.6 624.8 350.4 625.8 352.5 626.8 354.1 627.8 344.8 628.8 348.7 629.8 335.7 630.8 330.9 631.5 332.0 631.8 327.5 632.8 346.7 633.8 331.4 634.8 336.0 635.8 327.5 636.5 339.4 636.8 333.5 637.8 346.4 638.8 347.0 639.8 357.9 640.8 349.2 641.5 352.7 641.8 350.6 642.8 354.0 643.8 348.4 644.8 351.0 645.8 361.1 646.5 357.0 646.8 347.5 647.8 356.7 648.8 359.3 649.8 352.7 650.8 365.4 651.5 363.2 651.8 365.2 652.8 368.0 653.8 354.7 654.8 358.5 655.8 358.4 656.5 349.0 656.8 351.4 657.8 354.5 658.8 347.9 659.8 328.8 660.2 324.5 660.8 325.0 661.8 325.2 662.8 343.2 663.8 336.1 664.0 343.0 664.8 334.1 665.8 337.3 666.8 344.7 667.8 339.4 668.8 359.7 669.0 348.8 669.8 358.6 670.8 366.6 671.8 384.1 672.8 384.9 673.8 379.4 674.8 375.2 675.8 372.7 676.5 364.9 676.8 371.7 677.8 354.6 678.8 354.3 679.8 348.4 680.8 357.4 681.5 360.2 681.8 361.3 682.8 354.1 683.8 352.5 684.8 361.4 685.8 351.1 686.5 348.6 686.8 350.9 687.8 345.0 688.8 356.9 689.8 364.4 690.8 368.1 691.5 373.0 691.8 380.0 692.8 380.0 693.8 378.6 694.8 377.1 695.8 360.6 696.5 364.3 696.8 362.6 697.8 361.0 698.8 365.1 699.8 358.8 700.8 366.6 701.5 355.4 701.8 356.7 702.8 363.2 703.8 360.9 704.8 351.0 705.8 361.4 706.5 358.6 706.8 370.6 707.8 376.6 708.8 359.0 709.8 368.8 710.8 363.0 711.5 360.9 711.8 367.8 712.8 377.6 713.8 385.0 714.8 383.2 715.2 378.7 715.8 383.9 716.8 370.7 717.8 363.5 718.8 358.9 719.0 351.2 719.8 346.6 720.8 330.1 721.5 316.9 721.8 322.3 722.8 315.0 723.8 316.1 724.8 327.1 725.8 320.7 726.5 328.9 726.8 319.8 727.8 328.1 728.8 335.2 729.8 328.6 730.8 327.2 731.5 331.7 731.8 323.4 732.8 325.0 733.8 324.6 734.8 320.0 735.8 328.7 736.5 326.6 736.8 326.0 737.8 332.6 738.8 341.0 739.8 330.4 740.8 345.0 741.5 336.6 741.8 336.2 742.8 343.6 743.8 332.7 744.8 338.1 745.8 336.9 746.5 340.3 746.8 354.0 747.8 344.9 748.8 349.2 749.8 358.1 750.8 361.8 751.5 373.1 751.8 364.3 752.8 373.9 753.8 363.5 754.8 363.8 755.8 358.1 756.5 345.0 756.8 347.4 757.8 351.6 758.8 341.3 759.8 341.6 760.8 340.3 761.5 337.1 761.8 335.0 762.8 343.8 763.8 343.2 764.8 345.7 765.8 335.0 766.8 336.6 767.8 347.7 768.8 335.0 769.0 341.6 769.8 332.7 770.8 340.7 771.8 347.5 772.8 347.5 773.8 335.8 774.8 339.1 775.8 327.5 776.5 339.9 776.8 335.1 777.8 347.5 778.8 329.4 779.8 326.1 780.8 326.9 781.5 334.0 781.8 322.2 782.8 334.2 783.8 324.3 784.8 330.3 785.2 323.6 785.8 320.0 786.8 329.0 787.8 328.9 788.8 330.8 789.8 335.5 790.8 342.5 791.5 342.5 791.8 342.5 792.8 342.5 793.8 333.9 794.8 342.5 795.8 326.7 796.8 323.0 797.8 334.3 798.8 332.0 799.8 332.7 800.8 326.2 801.8 324.5 802.8 318.3 803.8 316.7 804.8 315.7 805.8 320.5 806.8 329.2 807.8 316.8 808.8 322.1 809.8 323.9 810.8 327.5 811.8 322.7 812.8 330.5 813.8 338.6 814.8 327.7 815.8 340.0 816.8 339.8 817.8 340.0 818.8 340.0 819.0 338.2 819.8 327.7 820.8 330.7 821.8 336.7 822.8 323.5 823.8 320.0 824.0 323.8 824.8 315.0 825.8 315.5 826.8 317.5 827.8 316.4 828.8 322.0 829.0 327.0 829.8 313.9 830.8 315.3 831.8 321.9 832.8 310.0 833.8 316.4 834.0 323.8 834.8 322.5 835.8 320.2 836.8 322.7 837.8 319.1 838.8 318.5 839.8 327.7 840.2 311.6 840.8 313.4 841.8 316.3 842.8 324.8 843.8 324.9 844.8 332.7 845.2 330.8 845.8 314.7 846.8 319.3 847.8 326.5 848.8 321.0 849.8 326.0 850.2 334.0 850.8 325.0 851.8 325.8 852.8 338.3 853.8 335.7 854.0 340.0 854.8 356.9 855.8 360.8 856.8 357.8 857.8 367.8 858.8 367.6 859.8 365.0 860.8 354.8 861.8 363.3 862.8 370.0 863.8 354.2 864.0 355.0 864.8 356.9 865.8 352.6 866.8 343.8 867.8 328.7 868.8 333.2 869.0 328.1 869.8 315.0 870.8 317.9 871.8 326.5 872.8 321.3 873.8 327.2 874.8 329.7 875.8 339.0 876.8 321.9 877.8 327.1 878.8 337.2 879.8 338.1 880.8 334.1 881.5 336.2 881.8 335.0 882.8 337.8 883.8 333.9 884.8 332.2 885.8 338.8 886.5 341.9 886.8 336.2 887.8 341.2 888.8 347.7 889.8 355.0 890.8 342.4 891.5 349.1 891.8 333.7 892.8 341.3 893.8 342.3 894.8 341.3 895.8 329.0 896.5 323.8 896.8 329.9 897.8 335.8 898.8 320.0 899.8 329.1 900.8 333.5 901.5 338.6 901.8 333.3 902.8 351.9 903.8 348.5 904.8 351.0 905.8 343.6 906.5 349.9 906.8 348.5 907.8 345.0 908.8 336.5 909.8 353.5 910.8 344.8 911.5 348.7 911.8 354.2 912.8 342.5 913.8 343.6 914.8 348.2 915.8 326.2 916.5 335.9 916.8 333.6 917.8 345.6 918.8 333.9 919.8 334.8 920.8 334.4 921.5 326.1 921.8 328.1 922.8 317.8 923.8 319.4 924.8 319.1 925.8 317.0 926.5 322.1 926.8 327.3 927.8 323.7 928.8 325.0 929.8 322.3 930.8 328.1 931.5 324.8 931.8 325.6 932.8 328.4 933.8 318.4 934.8 310.9 935.8 308.2 936.5 317.6 936.8 307.5 937.8 307.5 938.8 308.3 939.8 318.4 940.8 316.8 941.5 311.2 941.8 313.3 942.8 307.5 943.8 310.6 944.8 311.4 945.8 324.2 946.5 324.1 946.8 339.1 947.8 330.9 948.8 336.9 949.8 343.2 950.8 363.0 951.5 353.4 951.8 342.4 952.8 341.8 953.8 363.0 954.8 372.5 955.2 369.3 955.8 369.6 956.8 368.9 957.8 371.0 958.8 348.2 959.8 346.1 960.2 342.2 960.8 348.3 961.8 341.7 962.8 335.0 963.8 343.8 964.0 341.3 964.8 341.8 965.8 349.2 966.8 335.0 967.8 339.6 968.8 350.0 969.0 354.4 969.8 366.4 970.8 370.0 971.8 370.0 972.8 363.4 973.8 359.5 974.0 365.2 974.8 358.0 975.8 350.0 976.8 350.1 977.8 353.3 978.8 370.0 979.0 361.0 979.8 358.8 980.8 359.1 981.8 355.0 982.8 368.5 983.8 365.1 984.0 363.9 984.8 355.1 985.8 352.6 986.8 365.0 987.8 352.6 988.8 357.0 989.0 360.8 989.8 354.5 990.8 343.4 991.8 348.4 992.8 355.0 993.8 349.5 994.0 344.2 994.8 357.0 995.8 355.2 996.8 349.4 997.8 343.0 998.8 348.1 999.0 340.8 999.8 339.6 1000.8 337.0 1001.8 347.4 1002.8 350.5 1003.8 348.1 1004.0 347.8 1004.8 344.7 1005.8 352.9 1006.8 357.2 1007.8 353.7 1008.8 358.9 1009.0 362.1 1009.8 362.6 1010.8 353.8 1011.8 340.9 1012.8 328.7 1013.8 343.6 1014.0 348.0 1014.8 353.8 1015.8 338.2 1016.8 315.1 1017.8 299.5 1018.8 304.4 1019.0 298.3 1019.8 295.2 1020.8 297.3 1021.8 302.5 1022.8 296.0 1023.8 308.5 1024.0 311.6 1024.8 310.1 1025.8 310.3 1026.8 311.7 1027.8 329.4 1028.8 323.2 1029.0 325.6 1029.8 324.3 1030.8 323.2 1031.8 324.6 1032.8 326.8 1033.8 319.1 1034.0 319.2 1034.8 317.3 1035.8 315.0 1036.8 315.0 1037.8 326.4 1038.8 317.8 1039.0 320.4 1039.8 322.8 1040.8 319.5 1041.8 321.3 1042.8 332.5 1043.8 331.3 1044.0 327.0 1044.8 323.6 1045.8 312.9 1046.8 314.1 1047.8 305.6 1048.8 306.7 1049.0 300.2 1049.8 302.0 1050.8 318.1 1051.8 308.7 1052.8 314.9 1053.8 309.7 1054.0 319.3 1054.8 315.2 1055.8 322.9 1056.8 329.1 1057.8 337.4 1058.8 335.6 1059.0 345.6 1059.8 355.6 1060.8 359.9 1061.8 373.2 1062.8 371.9 1063.8 364.6 1064.8 368.3 1065.8 352.6 1066.5 347.9 1066.8 353.0 1067.8 342.6 1068.8 333.2 1069.8 336.2 1070.8 335.0 1071.5 328.3 1071.8 324.5 1072.8 333.0 1073.8 341.1 1074.8 324.2 1075.8 336.6 1076.5 322.5 1076.8 317.5 1077.8 312.5 1078.8 305.7 1079.8 315.0 1080.8 315.6 1081.5 299.3 1081.8 295.3 1082.8 306.3 1083.8 303.5 1084.8 295.0 1085.8 298.1 1086.5 302.1 1086.8 304.5 1087.8 308.5 1088.8 309.4 1089.8 319.9 1090.8 305.7 1091.5 311.5 1091.8 309.2 1092.8 316.4 1093.8 328.0 1094.8 337.8 1095.8 339.9 1096.5 337.6 1096.8 334.8 1097.8 344.4 1098.8 370.7 1099.8 370.8 1100.8 371.6 1101.5 369.1 1101.8 369.6 1102.8 374.0 1103.8 367.4 1104.8 395.0 1105.8 379.3 1106.5 390.0 1106.8 395.0 1107.8 386.0 1108.8 390.2 1109.8 395.0 1110.2 380.8 1110.8 372.1 1111.8 374.9 1112.8 365.9 1113.8 352.5 1114.0 355.5 1114.8 348.6 1115.8 356.5 1116.8 354.9 1117.8 364.2 1118.8 340.1 1119.0 343.1 1119.8 337.9 1120.8 335.4 1121.8 339.5 1122.8 333.8 1123.8 313.6 1124.0 323.0 1124.8 321.0 1125.8 290.9 1126.5 294.4 1126.8 290.0 1127.8 294.9 1128.8 304.7 1129.8 318.2 1130.2 308.4 1130.8 305.7 1131.8 308.3 1132.8 316.0 1133.8 320.2 1134.0 318.6 1134.8 320.3 1135.8 321.7 1136.8 318.3 1137.8 312.0 1138.8 319.0 1139.0 319.3 1139.8 316.3 1140.8 316.5 1141.8 319.0 1142.8 319.0 1143.8 326.7 1144.0 326.2 1144.8 319.2 1145.8 333.3 1146.8 329.8 1147.8 331.1 1148.8 327.6 1149.0 331.5 1149.8 320.2 1150.8 323.1 1151.8 310.2 1152.8 323.4 1153.8 318.0 1154.0 316.8 1154.8 305.5 1155.8 310.3 1156.8 300.0 1157.8 300.0 1158.8 312.1 1159.0 308.1 1159.8 320.9 1160.8 320.0 1161.8 313.1 1162.8 313.5 1163.8 320.7 1164.0 330.7 1164.8 333.2 1165.8 337.3 1166.8 333.3 1167.8 330.4 1168.8 348.5 1169.0 345.0 1169.8 342.8 1170.8 340.6 1171.8 347.1 1172.8 339.0 1173.8 346.0 1174.0 342.7 1174.8 350.0 1175.8 333.4 1176.8 339.4 1177.8 339.1 1178.8 341.5 1179.0 332.6 1179.8 333.1 1180.8 319.2 1181.8 329.9 1182.8 321.1 1183.8 324.0 1184.0 319.4 1184.8 328.1 1185.8 330.6 1186.8 316.6 1187.8 327.6 1188.8 344.8 1189.0 330.8 1189.8 326.0 1190.8 319.0 1191.8 332.8 1192.8 335.5 1193.8 334.7 1194.0 346.8 1194.8 346.2 1195.8 344.5 1196.8 331.8 1197.8 338.9 1198.8 329.4 1199.0 326.6 1199.8 334.9 1200.8 330.0 1201.8 336.6 1202.8 335.5 1203.8 337.0 1204.0 342.1 1204.8 350.0 1205.8 344.2 1206.8 348.5 1207.8 351.8 1208.8 357.0 1209.0 360.0 1209.8 345.2 1210.8 353.4 1211.8 349.1 1212.8 341.6 1213.8 346.3 1214.0 333.0 1214.8 333.3 1215.8 341.3 1216.8 330.6 1217.8 325.8 1218.8 330.3 1219.0 337.4 1219.8 342.5 1220.8 340.4 1221.8 323.2 1222.8 325.3 1223.8 313.9 1224.0 313.8 1224.8 320.8 1225.8 320.8 1226.8 314.3 1227.8 310.0 1228.8 319.3 1229.8 319.5 1230.8 321.6 1231.5 324.8 1231.8 326.6 1232.8 324.8 1233.8 335.2 1234.8 337.9 1235.8 336.7 1236.5 335.8 1236.8 331.3 1237.8 335.6 1238.8 334.2 1239.8 338.8 1240.8 333.6 1241.5 344.6 1241.8 339.0 1242.8 341.1 1243.8 344.4 1244.8 341.5 1245.8 351.7 1246.5 347.6 1246.8 335.0 1247.8 346.5 1248.8 346.7 1249.8 345.8 1250.8 364.3 1251.5 366.6 1251.8 354.2 1252.8 351.2 1253.8 355.7 1254.8 348.3 1255.8 335.4 1256.5 340.7 1256.8 333.5 1257.8 339.1 1258.8 339.3 1259.8 321.1 1260.8 322.2 1261.5 320.8 1261.8 334.4 1262.8 328.1 1263.8 326.0 1264.8 319.4 1265.8 318.8 1266.5 315.7 1266.8 307.5 1267.8 325.8 1268.8 323.7 1269.8 332.0 1270.8 336.7 1271.5 340.4 1271.8 357.9 1272.8 339.0 1273.8 360.0 1274.8 351.0 1275.8 354.4 1276.5 355.8 1276.8 344.0 1277.8 341.7 1278.8 342.0 1279.8 342.7 1280.8 337.7 1281.5 338.6 1281.8 344.5 1282.8 346.5 1283.8 346.1 1284.8 334.7 1285.8 334.1 1286.5 335.5 1286.8 333.7 1287.8 333.9 1288.8 342.0 1289.8 342.4 1290.8 339.3 1291.5 348.2 1291.8 350.0 1292.8 336.4 1293.8 347.8 1294.8 336.8 1295.8 322.7 1296.5 332.0 1296.8 341.1 1297.8 314.0 1298.8 313.2 1299.8 307.7 1300.8 304.0 1301.5 292.2 1301.8 290.0 1302.8 291.7 1303.8 306.5 1304.8 300.4 1305.2 302.0 1305.8 294.6 1306.8 296.3 1307.8 306.4 1308.8 311.7 1309.8 310.1 1310.2 316.6 1310.8 313.6 1311.8 314.9 1312.8 333.1 1313.8 329.0 1314.8 318.5 1315.2 324.0 1315.8 326.9 1316.8 328.1 1317.8 329.1 1318.8 325.9 1319.8 334.9 1320.2 345.8 1320.8 349.3 1321.8 344.5 1322.8 340.5 1323.8 339.2 1324.8 335.6 1325.8 344.9 1326.5 344.7 1326.8 340.3 1327.8 344.1 1328.8 352.5 1329.8 339.4 1330.8 341.6 1331.8 345.1 1332.8 348.1 1333.8 349.9 1334.0 333.9 1334.8 336.3 1335.8 315.0 1336.8 331.9 1337.8 323.3 1338.8 320.3 1339.0 319.1 1339.8 324.2 1340.8 324.7 1341.8 315.0 1342.8 315.0 1343.8 315.0 1344.0 329.7 1344.8 336.6 1345.8 348.5 1346.8 342.1 1347.8 344.0 1348.8 346.8 1349.0 355.3 1349.8 341.2 1350.8 342.7 1351.8 329.3 1352.8 336.4 1353.8 327.7 1354.0 333.1 1354.8 338.2 1355.8 319.2 1356.8 311.7 1357.8 310.0 1358.8 310.0 1359.0 316.0 1359.8 304.2 1360.8 312.8 1361.8 311.7 1362.8 320.7 1363.8 309.8 1364.0 310.6 1364.8 318.4 1365.8 300.1 1366.8 300.0 1367.8 300.7 1368.8 308.1 1369.8 309.0 1370.8 309.7 1371.5 314.2 1371.8 301.2 1372.8 313.6 1373.8 322.0 1374.8 310.8 1375.8 322.0 1376.5 318.6 1376.8 313.8 1377.8 307.5 1378.8 328.9 1379.8 337.6 1380.8 334.5 1381.5 326.9 1381.8 316.2 1382.8 315.8 1383.8 337.5 1384.8 339.6 1385.8 360.0 1386.5 357.6 1386.8 365.0 1387.8 357.1 1388.8 358.2 1389.8 345.7 1390.8 356.8 1391.5 355.2 1391.8 357.1 1392.8 355.1 1393.8 350.0 1394.8 360.0 1395.8 362.7 1396.5 359.1 1396.8 352.4 1397.8 365.0 1398.8 350.0 1399.8 359.8 1400.8 363.2 1401.5 358.0 1401.8 347.5 1402.8 353.2 1403.8 348.6 1404.8 356.8 1405.8 353.7 1406.5 356.2 1406.8 352.9 1407.8 351.0 1408.8 349.9 1409.8 360.0 1410.8 357.1 1411.5 351.6 1411.8 359.4 1412.8 360.0 1413.8 343.8 1414.8 331.6 1415.8 337.4 1416.5 331.1 1416.8 331.0 1417.8 329.1 1418.8 320.6 1419.8 325.7 1420.8 316.1 1421.5 309.5 1421.8 310.4 1422.8 316.7 1423.8 312.3 1424.8 313.1 1425.2 307.3 1425.8 302.5 1426.8 316.2 1427.8 325.8 1428.8 319.0 1429.0 326.2 1429.8 328.3 1430.8 317.3 1431.8 334.1 1432.8 329.1 1433.8 337.6 1434.0 333.9 1434.8 351.8 1435.8 356.7 1436.8 371.2 1437.8 379.2 1438.8 371.0 1439.8 377.4 1440.8 369.0 1441.5 377.6 1441.8 383.0 1442.8 375.0 1443.8 364.3 1444.8 379.3 1445.8 365.7 1446.5 371.8 1446.8 371.8 1447.8 370.5 1448.8 357.6 1449.8 369.8 1450.8 360.3 1451.5 364.4 1451.8 371.1 1452.8 364.6 1453.8 348.8 1454.8 340.8 1455.2 342.4 1455.8 339.6 1456.8 323.3 1457.8 323.8 1458.8 323.3 1459.0 324.5 1459.8 322.5 1460.8 317.9 1461.8 319.7 1462.8 317.5 1463.8 322.4 1464.0 320.9 1464.8 317.5 1465.8 326.4 1466.8 320.8 1467.8 328.5 1468.8 334.0 1469.0 330.8 1469.8 326.2 1470.8 331.7 1471.8 324.5 1472.8 326.3 1473.8 326.3 1474.0 328.7 1474.8 325.0 1475.8 332.8 1476.8 353.3 1477.8 346.5 1478.8 359.3 1479.0 353.6 1479.8 351.2 1480.8 351.3 1481.8 343.2 1482.8 348.0 1483.8 354.2 1484.0 348.8 1484.8 338.7 1485.8 342.4 1486.8 343.3 1487.8 338.6 1488.8 330.0 1489.0 334.3 1489.8 331.5 1490.8 342.2 1491.8 350.1 1492.8 333.0 1493.8 341.4 1494.0 341.6 1494.8 331.8 1495.8 330.5 1496.8 331.4 1497.8 331.8 1498.8 331.0 1499.0 332.6 1499.8 325.0 1500.8 333.4 1501.8 330.6 1502.8 344.3 1503.8 328.9 1504.0 327.0 1504.8 326.0 1505.8 337.1 1506.8 333.0 1507.8 328.7 1508.8 341.1 1509.0 340.6 1509.8 339.2 1510.8 336.8 1511.8 333.7 1512.8 335.8 1513.8 332.9 1514.0 333.3 1514.8 326.1 1515.8 322.4 1516.8 323.7 1517.8 318.3 1518.8 326.2 1519.0 315.1 1519.8 322.8 1520.8 327.3 1521.8 319.1 1522.8 339.7 1523.8 342.3 1524.8 345.5 1525.8 349.3 1526.5 348.9 1526.8 350.7 1527.8 363.7 1528.8 343.7 1529.8 345.6 1530.8 355.1 1531.5 357.0 1531.8 349.0 1532.8 348.4 1533.8 346.9 1534.8 353.1 1535.8 357.6 1536.5 359.9 1536.8 367.8 1537.8 356.4 1538.8 362.1 1539.8 370.0 1540.8 370.0 1541.5 363.7 1541.8 365.5 1542.8 358.8 1543.8 357.6 1544.8 360.0 1545.8 347.6 1546.5 346.6 1546.8 355.4 1547.8 351.7 1548.8 338.7 1549.8 339.2 1550.2 337.9 1550.8 332.9 1551.8 317.7 1552.8 299.4 1553.8 301.5 1554.0 300.0 1554.8 307.0 1555.8 325.1 1556.8 333.5 1557.8 334.9 1558.8 326.0 1559.8 326.5 1560.8 310.4 1561.5 327.9 1561.8 336.5 1562.8 338.3 1563.8 335.9 1564.8 337.5 1565.8 335.1 1566.5 338.2 1566.8 334.1 1567.8 334.3 1568.8 328.3 1569.8 340.3 1570.8 353.7 1571.5 351.1 1571.8 344.1 1572.8 360.4 1573.8 364.0 1574.8 348.5 1575.8 345.8 1576.5 362.1 1576.8 362.0 1577.8 353.1 1578.8 362.9 1579.8 361.9 1580.8 358.1 1581.5 367.5 1581.8 357.8 1582.8 350.2 1583.8 371.0 1584.8 361.9 1585.8 361.5 1586.5 370.5 1586.8 374.6 1587.8 365.5 1588.8 363.1 1589.8 361.4 1590.8 368.6 1591.5 357.7 1591.8 353.1 1592.8 354.8 1593.8 349.8 1594.8 338.4 1595.8 338.3 1596.5 329.0 1596.8 337.7 1597.8 311.5 1598.8 301.2 1599.8 306.4 1600.2 308.9 1600.8 309.7 1601.8 298.5 1602.8 284.3 1603.8 299.7 1604.8 300.1 1605.8 310.9 1606.5 314.8 1606.8 320.8 1607.8 321.3 1608.8 320.6 1609.8 316.9 1610.2 335.9 1610.8 331.7 1611.8 342.4 1612.8 341.0 1613.8 349.8 1614.0 353.7 1614.8 358.3 1615.8 357.7 1616.8 331.9 1617.8 335.9 1618.8 342.3 1619.8 343.8 1620.8 342.9 1621.5 342.5 1621.8 350.8 1622.8 358.5 1623.8 349.4 1624.8 353.7 1625.2 357.4 1625.8 368.5 1626.8 369.8 1627.8 365.4 1628.8 368.8 1629.0 370.5 1629.8 364.5 1630.8 355.0 1631.8 350.2 1632.8 365.0 1633.8 358.2 1634.0 363.7 1634.8 377.4 1635.8 353.4 1636.8 351.5 1637.8 354.1 1638.8 354.0 1639.0 354.5 1639.8 357.9 1640.8 357.1 1641.8 367.6 1642.8 370.5 1643.8 382.5 1644.0 377.0 1644.8 373.2 1645.8 382.5 1646.8 382.5 1647.8 378.0 1648.8 368.2 1649.0 375.5 1649.8 381.6 1650.8 381.7 1651.8 376.2 1652.8 376.3 1653.8 370.9 1654.0 372.5 1654.8 365.2 1655.8 373.6 1656.8 369.3 1657.8 358.5 1658.8 357.1 1659.0 358.2 1659.8 347.0 1660.8 343.4 1661.5 329.5 1661.8 330.5 1662.8 315.0 1663.8 321.0 1664.8 316.4 1665.2 325.9 1665.8 316.7 1666.8 318.8 1667.8 322.2 1668.8 320.9 1669.0 319.0 1669.8 333.5 1670.8 333.2 1671.8 326.8 1672.8 324.9 1673.8 325.4 1674.0 326.9 1674.8 335.3 1675.8 336.2 1676.8 331.0 1677.8 329.0 1678.8 319.9 1679.0 325.8 1679.8 336.5 1680.8 328.3 1681.8 330.6 1682.8 337.7 1683.8 340.0 1684.0 336.1 1684.8 340.0 1685.8 336.2 1686.8 326.3 1687.8 329.9 1688.8 336.9 1689.0 337.2 1689.8 337.8 1690.8 327.5 1691.8 327.5 1692.8 336.7 1693.8 337.3 1694.0 335.2 1694.8 342.5 1695.8 330.1 1696.8 339.1 1697.8 336.9 1698.8 328.0 1699.0 340.5 1699.8 339.1 1700.8 342.5 1701.8 339.5 1702.8 321.4 1703.8 327.5 1704.0 334.0 1704.8 322.6 1705.8 320.9 1706.8 321.6 1707.8 314.2 1708.8 325.5 1709.8 303.6 1710.2 309.7 1710.8 306.2 1711.8 312.7 1712.8 302.5 1713.8 312.7 1714.0 317.0 1714.8 314.6 1715.8 330.8 1716.8 352.5 1717.8 335.0 1718.8 342.2 1719.8 341.6 1720.8 350.1 1721.5 349.8 1721.8 351.1 1722.8 339.2 1723.8 358.5 1724.8 353.4 1725.8 347.5 1726.5 358.3 1726.8 356.6 1727.8 340.0 1728.8 348.9 1729.8 357.2 1730.8 354.4 1731.5 353.3 1731.8 356.1 1732.8 341.9 1733.8 348.1 1734.8 354.0 1735.8 346.8 1736.5 346.3 1736.8 345.1 1737.8 356.8 1738.8 358.2 1739.8 360.4 1740.8 349.9 1741.8 354.4 1742.8 364.4 1743.8 366.1 1744.8 355.2 1745.8 362.3 1746.5 351.5 1746.8 351.8 1747.8 354.7 1748.8 342.2 1749.8 340.4 1750.8 340.0 1751.5 343.9 1751.8 335.0 1752.8 347.6 1753.8 342.0 1754.8 343.8 1755.8 340.6 1756.5 341.2 1756.8 346.7 1757.8 338.9 1758.8 335.0 1759.8 336.4 1760.8 336.1 1761.5 339.3 1761.8 335.0 1762.8 335.9 1763.8 339.3 1764.8 344.6 1765.8 354.0 1766.5 346.1 1766.8 339.7 1767.8 360.0 1768.8 355.9 1769.8 360.0 1770.8 354.7 1771.5 356.4 1771.8 357.8 1772.8 360.0 1773.8 355.8 1774.8 347.6 1775.8 359.4 1776.5 351.7 1776.8 341.4 1777.8 346.2 1778.8 331.1 1779.8 332.4 1780.8 344.1 1781.5 328.6 1781.8 341.3 1782.8 336.4 1783.8 338.3 1784.8 345.6 1785.2 336.9 1785.8 341.0 1786.8 342.6 1787.8 354.5 1788.8 353.5 1789.0 357.4 1789.8 344.1 1790.8 342.0 1791.8 358.9 1792.8 355.9 1793.8 354.2 1794.0 350.3 1794.8 335.7 1795.8 343.3 1796.8 332.8 1797.8 318.9 1798.8 320.8 1799.0 317.9 1799.8 316.5 1800.8 329.1 1801.8 335.2 1802.8 321.9 1803.8 321.7 1804.0 329.8 1804.8 325.5 1805.8 333.4 1806.8 332.0 1807.8 333.5 1808.8 339.2 1809.0 334.7 1809.8 337.7 1810.8 355.9 1811.8 355.6 1812.8 355.9 1813.8 355.8 1814.0 356.4 1814.8 358.8 1815.8 363.2 1816.8 351.1 1817.8 369.5 1818.8 375.2 1819.0 364.5 1819.8 364.1 1820.8 373.9 1821.8 371.4 1822.8 379.1 1823.8 378.1 1824.0 373.5 1824.8 373.6 1825.8 363.6 1826.8 375.2 1827.8 369.2 1828.8 355.9 1829.0 365.5 1829.8 362.1 1830.8 363.1 1831.8 358.2 1832.8 360.2 1833.8 358.2 1834.0 344.4 1834.8 332.1 1835.8 333.3 1836.8 326.2 1837.8 337.9 1838.8 327.1 1839.0 327.1 1839.8 332.0 1840.8 317.5 1841.8 321.3 1842.8 323.3 1843.8 323.3 1844.0 323.7 1844.8 319.9 1845.8 324.2 1846.8 319.2 1847.8 317.5 1848.8 325.6 1849.0 328.3 1849.8 317.5 1850.8 326.8 1851.8 330.4 1852.8 330.5 1853.8 345.0 1854.0 341.3 1854.8 334.6 1855.8 329.5 1856.8 339.3 1857.8 318.7 1858.8 331.0 1859.0 332.0 1859.8 328.8 1860.8 325.6 1861.8 310.8 1862.8 321.2 1863.8 319.1 1864.0 322.6 1864.8 313.4 1865.8 300.3 1866.8 310.2 1867.8 294.8 1868.8 296.9 1869.0 296.5 1869.8 300.3 1870.8 317.9 1871.8 305.5 1872.8 307.6 1873.8 308.2 1874.0 316.2 1874.8 315.7 1875.8 321.1 1876.8 315.5 1877.8 322.5 1878.8 335.0 1879.0 329.6 1879.8 330.5 1880.8 331.3 1881.8 342.2 1882.8 330.4 1883.8 332.1 1884.0 334.3 1884.8 337.0 1885.8 330.4 1886.8 334.1 1887.8 332.6 1888.8 339.0 1889.0 335.8 1889.8 334.1 1890.8 342.5 1891.8 322.9 1892.8 328.3 1893.8 315.0 1894.0 322.0 1894.8 330.2 1895.8 315.0 1896.8 315.0 1897.8 321.3 1898.8 315.0 1899.0 332.7 1899.8 330.6 1900.8 332.4 1901.8 325.5 1902.8 332.9 1903.8 337.7 1904.0 343.4 1904.8 339.1 1905.8 330.9 1906.8 333.8 1907.8 338.1 1908.8 336.9 1909.0 343.4 1909.8 337.9 1910.8 343.6 1911.8 348.8 1912.8 356.8 1913.8 348.8 1914.0 351.9 1914.8 351.4 1915.8 353.8 1916.8 357.8 1917.8 363.5 1918.8 362.3 1919.0 360.3 1919.8 347.2 1920.8 350.5 1921.8 336.8 1922.8 330.0 1923.8 330.0 1924.0 336.1 1924.8 341.3 1925.8 344.1 1926.8 356.3 1927.8 352.3 1928.8 349.2 1929.0 344.4 1929.8 356.9 1930.8 347.3 1931.8 365.0 1932.8 355.9 1933.8 363.2 1934.0 361.8 1934.8 353.7 1935.8 362.4 1936.8 359.4 1937.8 346.6 1938.8 344.0 1939.0 355.7 1939.8 359.5 1940.8 358.2 1941.8 364.5 1942.8 367.7 1943.8 371.2 1944.0 368.7 1944.8 371.6 1945.8 366.3 1946.8 378.1 1947.8 378.5 1948.8 381.2 1949.0 380.4 1949.8 382.5 1950.8 372.5 1951.8 361.7 1952.8 362.2 1953.8 378.8 1954.0 369.4 1954.8 370.5 1955.8 367.4 1956.8 353.9 1957.8 352.0 1958.8 360.1 1959.0 355.5 1959.8 349.3 1960.8 342.1 1961.8 353.4 1962.8 345.5 1963.8 341.0 1964.0 336.1 1964.8 344.8 1965.8 354.0 1966.8 327.2 1967.8 323.5 1968.8 323.5 1969.0 322.1 1969.8 328.0 1970.8 325.0 1971.8 325.6 1972.8 336.4 1973.8 330.8 1974.0 333.1 1974.8 329.9 1975.8 329.9 1976.8 324.1 1977.8 325.8 1978.8 324.7 1979.0 321.7 1979.8 320.7 1980.8 316.5 1981.8 314.2 1982.8 317.2 1983.8 315.4 1984.0 315.0 1984.8 321.0 1985.8 305.0 1986.8 313.5 1987.8 305.0 1988.8 305.0 1989.0 308.1 1989.8 305.0 1990.8 305.9 1991.8 305.0 1992.8 317.0 1993.8 315.2 1994.0 313.3 1994.8 309.8 1995.8 332.8 1996.8 311.0 1997.8 309.9 1998.8 319.6 1999.0 321.3 1999.8 316.4 2000.8 330.2 2001.8 339.9 2002.8 343.0 2003.8 352.5 2004.0 348.2 2004.8 351.5 2005.8 348.5 2006.8 352.5 2007.8 352.5 2008.8 346.1 2009.0 346.5 2009.8 348.8 2010.8 335.5 2011.8 338.3 2012.8 345.2 2013.8 344.4 2014.0 339.5 2014.8 354.5 2015.8 361.9 2016.8 366.5 2017.8 376.9 2018.8 381.4 2019.8 379.5 2020.8 362.7 2021.5 368.2 2021.8 365.6 2022.8 357.9 2023.8 360.7 2024.8 350.3 2025.8 356.3 2026.5 353.3 2026.8 360.3 2027.8 360.8 2028.8 358.0 2029.8 352.7 2030.8 364.0 2031.5 350.6 2031.8 347.5 2032.8 349.9 2033.8 347.4 2034.8 354.0 2035.8 351.9 2036.8 357.5 2037.8 353.8 2038.8 349.7 2039.8 347.4 2040.8 345.6 2041.8 352.0 2042.8 354.0 2043.8 348.7 2044.0 343.6 2044.8 331.8 2045.8 330.0 2046.8 331.1 2047.8 332.7 2048.8 330.9 2049.0 338.0 2049.8 334.2 2050.8 330.0 2051.8 334.8 2052.8 334.7 2053.8 330.0 2054.0 346.5 2054.8 349.8 2055.8 351.8 2056.8 336.7 2057.8 350.8 2058.8 340.4 2059.0 355.9 2059.8 347.8 2060.8 356.6 2061.8 353.0 2062.8 342.5 2063.8 342.5 2064.0 351.8 2064.8 359.8 2065.8 354.0 2066.8 349.9 2067.8 350.9 2068.8 356.2 2069.0 359.4 2069.8 350.9 2070.8 344.1 2071.8 358.0 2072.8 338.4 2073.8 334.7 2074.0 337.4 2074.8 337.7 2075.8 334.0 2076.8 347.9 2077.8 341.1 2078.8 336.0" stroke="#00ff00" stroke-dasharray="21.8 21.8"/>
<path d="M249.0 330.3 250.0 358.9 250.2 365.3 251.0 345.9 251.5 334.7 252.0 345.6 253.0 361.9 254.0 379.8 255.0 367.1 256.0 355.1 256.5 345.4 257.0 356.4 258.0 371.4 259.0 387.8 260.0 377.1 261.0 365.7 261.5 360.4 262.0 365.5 263.0 373.5 264.0 380.3 265.0 375.2 266.0 370.6 267.0 365.1 267.8 360.7 268.0 362.3 269.0 361.0 270.0 364.5 271.0 370.3 271.5 370.3 272.0 371.4 273.0 369.1 274.0 363.5 275.0 359.8 275.2 358.5 276.0 353.9 277.0 349.4 278.0 344.5 279.0 340.1 280.0 335.2 281.0 326.5 281.5 327.0 282.0 328.5 283.0 330.7 284.0 329.2 285.0 331.9 285.2 332.8 286.0 334.3 287.0 335.7 288.0 341.3 289.0 342.3 290.0 344.6 291.0 344.4 292.0 346.0 292.8 346.7 293.0 349.5 294.0 347.9 295.0 346.3 296.0 343.7 296.5 343.4 297.0 340.3 298.0 340.4 299.0 339.8 300.0 338.8 300.2 337.7 301.0 339.1 302.0 332.2 303.0 330.5 304.0 331.8 305.0 334.3 306.0 336.4 307.0 339.7 308.0 337.1 309.0 336.9 310.0 340.0 311.0 344.2 312.0 344.7 312.8 344.9 313.0 347.3 314.0 349.5 315.0 346.4 316.0 348.3 316.5 350.6 317.0 348.9 318.0 348.4 319.0 347.6 320.0 345.0 320.2 344.4 321.0 344.9 322.0 340.9 323.0 339.6 324.0 340.9 325.0 335.4 325.2 336.5 326.0 337.6 327.0 335.8 328.0 332.6 329.0 333.8 330.0 331.1 330.2 332.3 331.0 332.3 332.0 332.5 333.0 329.9 334.0 329.9 335.0 328.0 335.2 329.7 336.0 330.8 337.0 332.4 338.0 332.7 339.0 331.7 340.0 331.2 340.2 334.3 341.0 334.5 342.0 331.6 343.0 331.3 344.0 328.8 345.0 331.6 346.0 327.0 347.0 324.8 348.0 325.8 349.0 325.6 350.0 326.3 351.0 330.9 352.0 330.1 353.0 333.9 354.0 337.3 355.0 336.4 356.0 334.8 357.0 332.9 358.0 334.4 359.0 335.5 360.0 334.9 361.0 333.0 362.0 333.0 363.0 337.9 364.0 337.7 365.0 340.2 366.0 341.2 367.0 340.9 368.0 343.1 369.0 342.8 370.0 343.3 371.0 347.3 372.0 346.7 372.8 349.2 373.0 347.6 374.0 344.9 375.0 343.2 376.0 343.0 376.5 342.4 377.0 343.5 378.0 344.2 379.0 347.1 380.0 342.8 381.0 344.9 381.5 345.3 382.0 344.5 383.0 345.6 384.0 346.2 385.0 347.4 386.0 347.4 387.0 346.6 387.8 346.7 388.0 345.2 389.0 348.3 390.0 351.2 391.0 351.9 392.0 352.2 393.0 350.9 394.0 353.8 395.0 353.8 396.0 355.3 397.0 346.9 398.0 346.2 399.0 347.8 400.0 347.4 401.0 346.5 402.0 344.9 403.0 344.2 404.0 345.7 405.0 346.1 406.0 349.5 407.0 348.4 408.0 346.4 409.0 348.3 410.0 350.0 411.0 349.9 412.0 350.7 413.0 347.9 414.0 350.7 415.0 345.9 416.0 347.1 417.0 347.9 418.0 347.7 419.0 347.4 420.0 346.4 421.0 343.1 422.0 348.1 423.0 346.3 424.0 343.6 425.0 342.8 426.0 342.3 427.0 341.6 428.0 340.8 429.0 339.9 430.0 337.0 430.2 338.1 431.0 334.6 432.0 336.1 433.0 334.4 434.0 333.2 435.0 329.6 436.0 331.5 436.5 330.7 437.0 329.9 438.0 328.6 439.0 327.1 440.0 327.9 441.0 326.0 442.0 326.2 443.0 325.7 444.0 325.1 445.0 324.6 446.0 324.2 447.0 324.6 448.0 327.7 449.0 326.3 450.0 325.4 451.0 327.9 452.0 328.0 453.0 328.9 454.0 332.0 455.0 329.9 455.2 330.1 456.0 330.9 457.0 330.9 458.0 333.0 459.0 332.3 460.0 333.7 461.0 333.1 461.5 334.5 462.0 334.1 463.0 335.2 464.0 333.3 465.0 336.5 466.0 336.9 466.5 334.1 467.0 332.5 468.0 330.9 469.0 332.0 470.0 332.4 471.0 333.2 471.5 330.3 472.0 327.1 473.0 328.4 474.0 328.8 475.0 326.6 475.2 326.1 476.0 327.1 477.0 327.0 478.0 330.7 479.0 331.2 480.0 333.5 480.2 332.4 481.0 332.8 482.0 334.8 483.0 334.9 484.0 336.6 485.0 339.5 485.2 337.8 486.0 338.3 487.0 336.6 488.0 339.3 489.0 338.0 490.0 336.6 491.0 338.3 491.5 339.1 492.0 338.3 493.0 338.6 494.0 340.9 495.0 339.4 496.0 341.5 496.5 341.5 497.0 342.8 498.0 344.5 499.0 343.8 500.0 344.7 501.0 344.6 502.0 346.4 502.8 343.0 503.0 342.0 504.0 345.3 505.0 344.7 506.0 345.0 507.0 346.8 508.0 345.8 509.0 344.3 510.0 344.1 511.0 346.4 512.0 346.8 513.0 350.9 514.0 350.5 515.0 350.9 516.0 353.2 517.0 349.0 518.0 349.5 519.0 351.3 520.0 351.8 521.0 350.7 522.0 348.8 523.0 346.6 524.0 347.3 525.0 347.7 526.0 346.3 527.0 345.4 528.0 344.6 529.0 344.5 530.0 345.1 531.0 346.4 532.0 348.2 533.0 344.3 534.0 346.5 535.0 346.9 535.2 346.2 536.0 348.2 537.0 342.6 538.0 341.1 539.0 340.0 540.0 339.4 541.0 339.7 542.0 339.3 543.0 339.3 544.0 337.4 545.0 337.1 546.0 338.8 547.0 337.0 548.0 336.9 549.0 337.2 550.0 334.5 551.0 334.5 552.0 337.2 553.0 334.9 554.0 336.0 555.0 335.3 556.0 331.2 557.0 336.0 558.0 335.4 559.0 336.0 560.0 331.7 561.0 329.6 561.5 330.6 562.0 331.0 563.0 332.0 564.0 329.8 565.0 331.6 566.0 332.5 567.0 331.9 568.0 333.5 569.0 334.2 570.0 336.0 571.0 332.2 572.0 338.3 573.0 336.9 574.0 340.8 575.0 340.7 576.0 341.7 576.5 340.1 577.0 340.9 578.0 343.3 579.0 344.2 580.0 344.3 581.0 344.4 582.0 346.5 583.0 349.4 584.0 347.3 585.0 345.0 586.0 344.8 587.0 345.2 588.0 344.8 589.0 344.9 590.0 344.1 591.0 342.9 592.0 343.8 593.0 342.0 594.0 340.4 595.0 341.0 596.0 340.1 597.0 338.0 598.0 338.4 599.0 337.8 600.0 339.2 601.0 338.7 601.5 338.5 602.0 337.7 603.0 337.1 604.0 338.6 605.0 342.0 606.0 339.3 607.0 337.3 608.0 334.9 609.0 338.0 610.0 337.3 611.0 335.9 612.0 334.7 613.0 336.8 614.0 336.0 615.0 333.0 616.0 333.6 617.0 335.3 618.0 331.2 619.0 331.4 620.0 334.3 621.0 334.3 622.0 333.5 623.0 335.8 624.0 334.6 625.0 335.1 626.0 336.7 626.5 335.1 627.0 336.4 628.0 336.4 629.0 335.6 630.0 335.6 631.0 336.0 632.0 338.9 633.0 338.9 634.0 340.5 635.0 343.2 636.0 340.9 637.0 344.7 638.0 344.3 639.0 345.7 640.0 348.2 640.2 346.1 641.0 348.2 642.0 346.3 643.0 345.6 644.0 345.4 645.0 344.6 646.0 345.2 646.5 344.0 647.0 341.5 648.0 342.8 649.0 344.7 650.0 340.1 651.0 343.6 652.0 342.0 653.0 340.2 654.0 339.7 655.0 339.1 656.0 341.9 657.0 336.9 658.0 337.8 659.0 335.5 660.0 337.8 661.0 338.9 661.5 338.0 662.0 338.0 663.0 338.3 664.0 336.1 665.0 339.5 666.0 335.2 667.0 338.7 668.0 335.1 669.0 337.1 670.0 337.4 671.0 337.2 672.0 333.5 673.0 334.0 674.0 335.9 675.0 333.2 676.0 331.4 676.5 335.3 677.0 336.8 678.0 335.1 679.0 331.1 680.0 332.2 681.0 329.5 682.0 331.0 682.8 329.5 683.0 331.9 684.0 327.4 685.0 330.3 686.0 329.5 687.0 329.6 687.8 327.6 688.0 329.3 689.0 329.2 690.0 328.5 691.0 329.3 692.0 330.8 693.0 331.6 694.0 332.2 695.0 335.9 696.0 335.2 697.0 336.7 698.0 336.5 699.0 337.8 700.0 339.0 701.0 337.5 702.0 341.5 703.0 346.3 704.0 345.5 705.0 345.7 706.0 344.9 707.0 350.1 707.8 350.0 708.0 351.8 709.0 350.1 710.0 345.6 711.0 343.5 711.5 343.1 712.0 341.6 713.0 341.7 714.0 342.7 715.0 343.3 716.0 343.4 717.0 343.4 718.0 343.1 719.0 343.4 720.0 343.4 721.0 344.4 722.0 343.4 723.0 343.7 724.0 345.5 725.0 346.5 726.0 344.5 726.5 345.2 727.0 345.2 728.0 346.4 729.0 344.9 730.0 341.8 731.0 341.8 732.0 343.2 733.0 344.6 734.0 344.5 735.0 345.3 736.0 345.9 737.0 344.1 738.0 344.5 739.0 345.9 740.0 346.7 741.0 348.4 741.5 347.6 742.0 348.7 743.0 344.8 744.0 344.7 745.0 348.7 746.0 344.3 746.5 345.2 747.0 345.5 748.0 345.4 749.0 347.9 750.0 350.6 751.0 349.1 751.5 349.6 752.0 348.0 753.0 348.3 754.0 349.6 755.0 346.9 756.0 347.6 756.5 346.5 757.0 346.8 758.0 349.8 759.0 346.3 760.0 345.0 761.0 344.6 762.0 345.5 763.0 347.1 764.0 345.2 765.0 344.2 766.0 345.8 767.0 347.0 768.0 343.8 769.0 346.7 770.0 344.5 771.0 348.2 771.5 346.1 772.0 343.9 773.0 346.6 774.0 346.2 775.0 346.3 776.0 347.3 777.0 345.9 778.0 345.2 779.0 345.4 780.0 345.0 781.0 344.0 782.0 343.3 783.0 342.1 784.0 344.6 785.0 343.8 786.0 342.9 786.5 342.3 787.0 341.4 788.0 339.2 789.0 341.6 790.0 345.2 791.0 342.7 792.0 343.4 793.0 341.5 794.0 341.0 795.0 340.0 796.0 343.6 797.0 344.1 798.0 345.8 799.0 346.6 800.0 345.0 800.2 347.4 801.0 348.5 802.0 347.7 803.0 348.5 804.0 348.0 805.0 344.4 806.0 345.2 806.5 344.4 807.0 343.2 808.0 344.7 809.0 346.2 810.0 345.7 811.0 343.9 812.0 343.6 813.0 340.9 814.0 343.1 815.0 341.5 816.0 340.1 817.0 343.0 818.0 342.0 819.0 339.9 820.0 340.3 821.0 339.9 822.0 339.5 823.0 343.3 824.0 344.8 825.0 339.8 826.0 339.8 827.0 341.4 828.0 343.6 829.0 341.2 830.0 341.3 831.0 342.1 832.0 342.6 833.0 345.4 834.0 342.0 835.0 343.3 836.0 342.6 837.0 340.1 838.0 339.6 839.0 338.5 840.0 338.6 841.0 339.6 841.5 340.0 842.0 338.8 843.0 336.8 844.0 341.3 845.0 337.6 846.0 338.1 847.0 341.3 848.0 339.3 849.0 338.7 850.0 338.0 851.0 339.4 852.0 339.6 853.0 338.9 854.0 338.2 855.0 339.4 856.0 337.8 856.5 340.5 857.0 342.4 858.0 343.3 859.0 341.5 860.0 341.9 861.0 343.3 862.0 342.0 863.0 341.4 864.0 342.2 865.0 343.1 866.0 342.7 867.0 341.8 868.0 340.2 869.0 338.5 870.0 336.0 871.0 335.9 872.0 334.3 872.8 333.8 873.0 337.0 874.0 335.3 875.0 335.0 876.0 340.3 877.0 338.2 878.0 336.1 879.0 336.2 880.0 338.1 881.0 337.5 882.0 337.1 883.0 340.4 884.0 339.0 885.0 337.5 886.0 339.5 886.5 338.8 887.0 339.6 888.0 340.1 889.0 339.9 890.0 341.8 891.0 337.2 892.0 340.3 893.0 340.7 894.0 339.6 895.0 337.8 896.0 339.6 897.0 341.5 898.0 340.2 899.0 339.2 900.0 340.1 901.0 342.2 901.5 339.7 902.0 338.6 903.0 338.0 904.0 338.0 905.0 341.7 906.0 341.1 907.0 341.1 908.0 339.9 909.0 340.5 910.0 338.8 911.0 339.7 912.0 340.4 913.0 340.9 914.0 338.3 915.0 339.2 916.0 341.8 916.5 341.3 917.0 340.0 918.0 341.1 919.0 341.5 920.0 341.4 921.0 341.1 922.0 341.4 923.0 343.4 924.0 343.1 925.0 342.8 926.0 342.6 927.0 345.0 928.0 343.9 929.0 343.4 930.0 343.5 931.0 346.0 931.5 344.5 932.0 341.8 933.0 342.0 934.0 345.0 935.0 343.8 936.0 343.9 937.0 345.3 938.0 344.3 939.0 344.2 940.0 346.5 941.0 346.8 942.0 343.4 943.0 346.8 944.0 347.2 945.0 346.4 946.0 348.2 946.5 346.3 947.0 348.2 948.0 346.8 949.0 347.4 950.0 344.3 951.0 345.3 952.0 344.4 953.0 342.2 954.0 343.7 955.0 344.0 956.0 341.5 957.0 343.7 958.0 346.1 959.0 341.6 960.0 342.3 961.0 346.9 961.5 343.0 962.0 345.8 963.0 344.2 964.0 341.1 965.0 340.0 966.0 339.5 967.0 338.9 968.0 342.4 969.0 339.9 970.0 341.0 971.0 339.6 972.0 337.5 973.0 340.1 974.0 337.5 975.0 338.3 976.0 338.7 976.5 336.2 977.0 335.8 978.0 337.4 979.0 338.0 980.0 337.4 981.0 338.1 982.0 340.0 982.8 338.2 983.0 338.0 984.0 338.9 985.0 339.5 986.0 343.3 987.0 341.6 988.0 343.6 989.0 342.2 990.0 339.3 991.0 338.9 992.0 336.8 993.0 337.6 994.0 335.2 995.0 336.0 996.0 335.8 997.0 332.8 998.0 330.3 999.0 331.0 1000.0 329.2 1001.0 330.8 1002.0 330.4 1003.0 330.0 1004.0 334.5 1005.0 332.6 1006.0 332.6 1006.5 332.8 1007.0 331.4 1008.0 335.3 1009.0 335.7 1010.0 339.7 1011.0 339.1 1012.0 337.3 1013.0 336.5 1014.0 338.8 1015.0 338.5 1016.0 342.2 1017.0 343.2 1018.0 341.2 1019.0 343.2 1020.0 343.7 1021.0 345.0 1021.5 344.1 1022.0 346.5 1023.0 345.9 1024.0 345.0 1025.0 345.0 1026.0 345.4 1026.5 345.1 1027.0 345.2 1028.0 344.3 1029.0 342.2 1030.0 345.6 1031.0 344.9 1031.5 343.5 1032.0 346.6 1033.0 345.1 1034.0 342.5 1035.0 341.1 1036.0 342.6 1037.0 341.7 1038.0 342.3 1039.0 344.3 1040.0 343.2 1041.0 343.1 1042.0 343.3 1043.0 345.4 1044.0 344.0 1045.0 342.1 1046.0 342.0 1046.5 341.7 1047.0 339.2 1048.0 340.3 1049.0 344.4 1050.0 347.2 1051.0 344.8 1052.0 345.1 1053.0 344.2 1054.0 346.1 1055.0 342.9 1056.0 346.3 1057.0 346.3 1058.0 345.0 1059.0 342.6 1060.0 342.5 1061.0 340.2 1061.5 342.3 1062.0 341.3 1063.0 341.4 1064.0 340.3 1065.0 339.8 1066.0 337.9 1067.0 340.5 1068.0 338.6 1069.0 337.9 1070.0 336.5 1071.0 334.9 1072.0 332.3 1073.0 330.8 1074.0 329.7 1075.0 327.8 1076.0 328.4 1076.5 326.8 1077.0 326.5 1078.0 327.2 1079.0 330.8 1080.0 333.5 1081.0 331.4 1081.5 332.1 1082.0 333.5 1083.0 335.2 1084.0 334.7 1085.0 335.3 1086.0 334.0 1086.5 336.9 1087.0 335.6 1088.0 338.6 1089.0 338.2 1090.0 339.5 1091.0 339.2 1091.5 339.9 1092.0 342.8 1093.0 339.1 1094.0 343.1 1095.0 340.4 1096.0 341.3 1097.0 343.8 1098.0 342.7 1099.0 342.1 1100.0 341.5 1101.0 340.4 1102.0 342.7 1103.0 343.3 1104.0 346.1 1105.0 342.4 1106.0 343.0 1106.5 343.1 1107.0 344.6 1108.0 342.1 1109.0 345.4 1110.0 344.7 1111.0 348.6 1111.5 348.9 1112.0 347.7 1113.0 348.9 1114.0 346.5 1115.0 348.7 1116.0 347.7 1116.5 345.2 1117.0 345.0 1118.0 341.9 1119.0 341.6 1120.0 339.1 1121.0 338.1 1122.0 338.2 1123.0 335.2 1124.0 334.8 1125.0 336.7 1126.0 337.1 1127.0 339.5 1128.0 339.6 1129.0 341.4 1130.0 343.8 1131.0 341.9 1132.0 341.1 1133.0 340.5 1134.0 340.8 1135.0 340.6 1136.0 340.9 1136.5 342.2 1137.0 342.5 1138.0 345.7 1139.0 346.1 1140.0 346.8 1141.0 347.0 1141.5 345.0 1142.0 347.0 1143.0 344.1 1144.0 345.7 1145.0 345.2 1146.0 346.3 1146.5 345.6 1147.0 347.0 1148.0 347.0 1149.0 344.8 1150.0 343.4 1151.0 341.1 1152.0 341.9 1153.0 343.5 1154.0 340.0 1155.0 340.7 1156.0 337.4 1157.0 339.1 1158.0 342.1 1159.0 340.5 1160.0 339.3 1161.0 340.8 1161.5 342.3 1162.0 342.4 1163.0 341.1 1164.0 341.0 1165.0 340.4 1166.0 341.4 1167.0 339.7 1168.0 339.1 1169.0 338.7 1170.0 338.8 1171.0 341.3 1172.0 336.1 1173.0 337.4 1174.0 338.0 1175.0 339.9 1176.0 340.6 1177.0 336.7 1178.0 338.3 1179.0 336.4 1180.0 340.7 1181.0 338.7 1181.5 339.3 1182.0 338.1 1183.0 337.8 1184.0 337.3 1185.0 340.8 1186.0 340.8 1187.0 337.6 1188.0 337.3 1189.0 336.9 1190.0 336.2 1191.0 337.2 1192.0 339.0 1193.0 335.9 1194.0 335.6 1195.0 338.6 1196.0 335.5 1196.5 334.9 1197.0 334.5 1198.0 336.1 1199.0 336.0 1200.0 333.0 1201.0 333.8 1202.0 334.2 1203.0 336.5 1204.0 335.9 1205.0 337.8 1206.0 339.3 1207.0 341.0 1208.0 337.5 1209.0 339.3 1210.0 338.0 1211.0 337.2 1211.5 339.8 1212.0 336.6 1213.0 338.5 1214.0 338.6 1215.0 337.4 1216.0 339.4 1217.0 340.1 1218.0 341.9 1219.0 341.5 1220.0 338.7 1221.0 338.4 1222.0 341.6 1223.0 339.6 1224.0 339.9 1225.0 342.1 1226.0 340.7 1226.5 340.6 1227.0 338.0 1228.0 339.5 1229.0 340.6 1230.0 340.4 1231.0 341.6 1232.0 339.3 1233.0 339.2 1234.0 340.8 1235.0 343.5 1236.0 341.4 1237.0 343.8 1238.0 345.2 1239.0 345.0 1240.0 346.4 1241.0 346.9 1241.5 347.0 1242.0 346.6 1243.0 348.3 1244.0 347.2 1245.0 351.4 1246.0 352.5 1247.0 354.1 1248.0 351.2 1249.0 352.2 1250.0 355.7 1251.0 359.3 1252.0 357.5 1253.0 354.6 1254.0 354.1 1255.0 356.1 1255.2 357.3 1256.0 356.4 1257.0 355.4 1258.0 354.8 1259.0 354.4 1260.0 352.7 1260.2 349.4 1261.0 347.5 1262.0 348.9 1263.0 345.7 1264.0 344.6 1265.0 343.1 1266.0 344.7 1266.5 343.1 1267.0 343.5 1268.0 341.2 1269.0 341.6 1270.0 339.1 1271.0 336.5 1272.0 336.3 1273.0 339.7 1274.0 337.2 1275.0 338.3 1276.0 335.6 1277.0 338.3 1278.0 335.3 1279.0 336.6 1280.0 339.2 1281.0 339.0 1281.5 337.7 1282.0 338.4 1283.0 337.0 1284.0 335.8 1285.0 336.7 1286.0 336.3 1287.0 337.3 1288.0 337.9 1289.0 335.6 1290.0 335.5 1291.0 335.4 1292.0 332.7 1293.0 333.7 1294.0 330.5 1295.0 334.3 1296.0 335.9 1296.5 332.5 1297.0 331.8 1298.0 332.2 1299.0 332.3 1300.0 331.8 1301.0 332.1 1302.0 332.8 1303.0 332.9 1304.0 333.4 1305.0 334.8 1306.0 331.4 1307.0 330.0 1308.0 329.2 1309.0 329.0 1310.0 329.4 1311.0 326.8 1311.5 325.8 1312.0 327.8 1313.0 326.8 1314.0 328.4 1315.0 330.7 1316.0 333.6 1317.0 333.7 1317.8 333.3 1318.0 331.5 1319.0 334.7 1320.0 331.7 1321.0 331.2 1322.0 332.8 1323.0 330.5 1324.0 332.9 1325.0 334.3 1326.0 337.8 1327.0 335.2 1328.0 333.9 1329.0 335.3 1330.0 335.1 1331.0 336.0 1331.5 334.8 1332.0 335.8 1333.0 333.4 1334.0 335.7 1335.0 337.4 1336.0 336.9 1337.0 337.7 1338.0 336.2 1339.0 338.0 1340.0 336.5 1341.0 337.7 1342.0 336.2 1343.0 338.6 1344.0 338.3 1345.0 338.9 1346.0 340.8 1346.5 340.3 1347.0 339.9 1348.0 338.2 1349.0 337.8 1350.0 340.7 1351.0 341.1 1352.0 340.7 1353.0 341.3 1354.0 344.0 1355.0 343.9 1356.0 346.3 1357.0 344.7 1358.0 344.3 1359.0 345.0 1360.0 346.1 1361.0 347.1 1361.5 346.8 1362.0 344.9 1363.0 347.2 1364.0 347.0 1365.0 348.8 1366.0 348.7 1367.0 347.7 1368.0 345.5 1369.0 347.3 1370.0 346.0 1371.0 347.6 1372.0 350.5 1373.0 351.0 1374.0 351.2 1375.0 350.7 1376.0 349.4 1376.5 350.1 1377.0 352.0 1378.0 347.9 1379.0 348.4 1380.0 347.8 1381.0 348.1 1382.0 347.1 1383.0 346.7 1384.0 345.6 1385.0 345.7 1386.0 345.2 1387.0 347.9 1388.0 345.3 1389.0 345.7 1390.0 345.1 1391.0 344.4 1391.5 344.0 1392.0 342.1 1393.0 341.6 1394.0 340.7 1395.0 342.2 1396.0 340.0 1397.0 339.2 1398.0 339.7 1399.0 337.9 1400.0 337.4 1401.0 335.5 1402.0 337.4 1403.0 338.7 1404.0 339.4 1405.0 339.3 1406.0 339.5 1406.5 340.6 1407.0 339.3 1408.0 339.7 1409.0 338.9 1410.0 338.6 1411.0 339.0 1412.0 338.6 1413.0 340.1 1414.0 338.9 1415.0 340.5 1416.0 337.6 1417.0 341.4 1418.0 340.8 1419.0 343.2 1420.0 342.3 1421.0 342.3 1421.5 343.6 1422.0 342.7 1423.0 342.3 1424.0 344.0 1425.0 342.4 1426.0 344.4 1427.0 342.3 1428.0 340.9 1429.0 342.8 1430.0 341.7 1431.0 341.7 1432.0 338.0 1433.0 337.4 1434.0 336.7 1435.0 334.9 1436.0 333.4 1436.5 332.4 1437.0 332.2 1438.0 334.2 1439.0 335.9 1440.0 336.4 1441.0 337.1 1442.0 335.5 1443.0 337.8 1444.0 337.5 1445.0 338.2 1446.0 338.6 1447.0 340.6 1448.0 342.7 1449.0 343.3 1450.0 342.7 1451.0 339.8 1451.5 342.4 1452.0 341.2 1453.0 341.6 1454.0 345.1 1455.0 346.4 1456.0 345.5 1456.5 347.1 1457.0 349.5 1458.0 345.7 1459.0 347.1 1460.0 343.6 1461.0 344.4 1462.0 346.5 1463.0 342.5 1464.0 343.6 1465.0 343.4 1466.0 345.5 1467.0 344.9 1468.0 347.2 1469.0 348.2 1470.0 346.3 1471.0 345.7 1471.5 344.9 1472.0 344.9 1473.0 342.8 1474.0 342.0 1475.0 340.9 1476.0 339.9 1477.0 341.3 1478.0 341.1 1479.0 337.5 1480.0 337.5 1481.0 337.5 1482.0 337.3 1483.0 335.6 1484.0 335.5 1485.0 334.6 1486.0 332.9 1487.0 330.7 1488.0 325.8 1489.0 327.1 1490.0 325.8 1491.0 327.1 1491.5 325.0 1492.0 325.7 1493.0 327.9 1494.0 327.4 1495.0 330.2 1496.0 329.9 1497.0 329.4 1498.0 330.9 1499.0 333.2 1500.0 334.1 1501.0 332.8 1502.0 335.4 1503.0 331.1 1504.0 329.6 1505.0 330.9 1506.0 333.2 1506.5 332.3 1507.0 331.2 1508.0 334.9 1509.0 334.7 1510.0 336.3 1511.0 336.0 1511.5 337.3 1512.0 338.9 1513.0 335.9 1514.0 335.2 1515.0 335.5 1516.0 334.8 1517.0 333.0 1518.0 334.0 1519.0 332.1 1520.0 332.3 1521.0 331.1 1522.0 331.7 1523.0 330.9 1524.0 330.6 1525.0 333.6 1526.0 329.0 1527.0 329.6 1528.0 327.6 1529.0 326.9 1530.0 327.8 1531.0 328.3 1531.5 325.9 1532.0 326.8 1533.0 326.5 1534.0 328.4 1535.0 327.8 1536.0 329.1 1536.5 327.9 1537.0 324.4 1538.0 324.8 1539.0 325.7 1540.0 329.6 1541.0 330.4 1542.0 328.8 1543.0 329.0 1544.0 332.0 1545.0 333.0 1546.0 332.3 1547.0 335.6 1548.0 335.0 1549.0 336.0 1550.0 337.1 1551.0 332.4 1551.5 335.3 1552.0 334.7 1553.0 334.2 1554.0 335.7 1555.0 336.5 1556.0 338.0 1557.0 338.1 1558.0 336.6 1559.0 336.0 1560.0 336.4 1561.0 336.2 1562.0 336.5 1563.0 337.8 1564.0 340.4 1565.0 341.0 1566.0 340.8 1567.0 340.2 1568.0 340.5 1569.0 338.7 1570.0 338.2 1571.0 337.4 1571.5 338.8 1572.0 340.2 1573.0 335.9 1574.0 336.0 1575.0 336.7 1576.0 337.2 1577.0 339.4 1578.0 338.2 1579.0 337.9 1580.0 339.1 1581.0 339.3 1582.0 339.5 1583.0 340.0 1584.0 339.5 1585.0 338.3 1586.0 341.8 1587.0 342.3 1588.0 342.5 1589.0 345.5 1590.0 343.5 1591.0 343.0 1591.5 344.4 1592.0 345.2 1593.0 342.4 1594.0 343.7 1595.0 341.6 1596.0 342.5 1597.0 343.4 1598.0 340.9 1599.0 338.9 1600.0 339.3 1601.0 336.7 1602.0 338.0 1603.0 334.6 1604.0 333.3 1605.0 332.8 1606.0 334.4 1606.5 334.1 1607.0 332.6 1608.0 331.5 1609.0 330.9 1610.0 330.6 1611.0 334.0 1611.5 329.2 1612.0 329.9 1613.0 329.1 1614.0 327.5 1615.0 326.2 1616.0 328.8 1617.0 329.4 1618.0 327.7 1619.0 327.4 1620.0 328.4 1621.0 328.5 1622.0 332.4 1623.0 333.8 1624.0 332.5 1625.0 333.8 1626.0 334.2 1626.5 334.7 1627.0 334.6 1628.0 336.3 1629.0 337.0 1630.0 336.8 1631.0 339.3 1632.0 341.7 1633.0 342.1 1634.0 343.4 1635.0 344.9 1636.0 340.0 1637.0 341.3 1638.0 340.9 1639.0 340.1 1640.0 338.9 1641.0 341.5 1642.0 337.8 1643.0 334.8 1644.0 334.5 1645.0 333.6 1646.0 333.2 1647.0 334.8 1648.0 337.6 1649.0 337.6 1650.0 338.5 1651.0 337.8 1652.0 338.5 1653.0 338.6 1654.0 339.0 1655.0 340.6 1656.0 342.2 1656.5 341.7 1657.0 342.9 1658.0 342.2 1659.0 341.3 1660.0 341.5 1661.0 341.5 1662.0 342.1 1663.0 343.5 1664.0 342.1 1665.0 344.6 1666.0 345.3 1667.0 344.4 1668.0 343.2 1669.0 344.8 1670.0 345.3 1671.0 346.0 1671.5 344.3 1672.0 343.3 1673.0 346.4 1674.0 345.6 1675.0 347.7 1676.0 348.0 1677.0 347.7 1678.0 346.8 1679.0 348.4 1680.0 349.5 1681.0 351.5 1682.0 349.4 1683.0 349.1 1684.0 351.7 1685.0 353.9 1685.2 352.8 1686.0 353.4 1687.0 349.6 1688.0 348.3 1689.0 346.5 1690.0 344.2 1691.0 345.5 1691.5 344.6 1692.0 344.6 1693.0 345.2 1694.0 345.5 1695.0 342.8 1696.0 344.7 1697.0 345.0 1698.0 345.9 1699.0 342.9 1700.0 344.6 1701.0 341.2 1702.0 339.2 1703.0 341.3 1704.0 338.7 1705.0 340.8 1706.0 341.4 1706.5 341.1 1707.0 342.9 1708.0 340.0 1709.0 341.6 1710.0 341.5 1711.0 338.2 1712.0 340.3 1713.0 338.5 1714.0 339.1 1715.0 336.8 1716.0 336.5 1717.0 338.2 1718.0 336.8 1719.0 335.6 1720.0 334.5 1721.0 333.4 1721.5 334.7 1722.0 334.7 1723.0 334.0 1724.0 333.3 1725.0 335.2 1726.0 337.4 1726.5 333.9 1727.0 335.4 1728.0 333.3 1729.0 334.8 1730.0 337.9 1731.0 340.2 1732.0 339.8 1733.0 341.7 1734.0 340.0 1735.0 341.1 1736.0 342.7 1737.0 343.9 1738.0 348.5 1739.0 348.2 1740.0 347.2 1741.0 351.1 1741.5 347.8 1742.0 350.2 1743.0 350.7 1744.0 352.4 1745.0 351.6 1746.0 352.5 1746.5 352.8 1747.0 353.5 1748.0 351.8 1749.0 350.1 1750.0 347.1 1751.0 348.3 1752.0 346.4 1752.8 345.7 1753.0 344.1 1754.0 340.7 1755.0 344.6 1756.0 340.4 1757.0 337.4 1758.0 338.0 1759.0 335.9 1760.0 335.1 1761.0 335.8 1762.0 333.0 1763.0 334.0 1764.0 336.0 1765.0 334.5 1766.0 337.5 1766.5 337.3 1767.0 337.1 1768.0 336.6 1769.0 334.6 1770.0 336.4 1771.0 332.8 1772.0 327.7 1773.0 330.4 1774.0 330.2 1775.0 329.6 1776.0 327.8 1777.0 325.8 1778.0 323.1 1779.0 321.8 1780.0 319.6 1781.0 316.6 1781.5 317.0 1782.0 318.0 1783.0 317.2 1784.0 320.9 1785.0 320.8 1786.0 322.0 1787.0 322.3 1787.8 320.8 1788.0 320.4 1789.0 322.0 1790.0 322.6 1791.0 322.8 1792.0 324.4 1793.0 323.9 1794.0 326.2 1795.0 329.0 1796.0 331.3 1797.0 332.8 1798.0 335.8 1799.0 337.3 1800.0 337.3 1801.0 338.9 1802.0 340.8 1803.0 341.8 1804.0 344.4 1805.0 345.3 1806.0 344.1 1807.0 344.5 1808.0 345.1 1809.0 348.2 1810.0 349.4 1811.0 346.5 1812.0 343.9 1813.0 341.8 1814.0 343.4 1815.0 341.8 1816.0 346.1 1817.0 346.6 1818.0 348.6 1819.0 347.3 1820.0 347.2 1821.0 346.6 1822.0 347.9 1823.0 348.1 1824.0 347.6 1825.0 350.6 1826.0 349.5 1827.0 349.1 1828.0 352.6 1829.0 351.1 1830.0 352.3 1831.0 349.9 1832.0 349.4 1833.0 349.5 1834.0 349.4 1835.0 350.3 1836.0 351.8 1837.0 349.0 1838.0 349.3 1839.0 348.4 1840.0 349.7 1841.0 348.5 1842.0 351.9 1843.0 349.0 1844.0 350.0 1845.0 350.7 1846.0 354.2 1847.0 351.2 1848.0 356.1 1849.0 355.8 1850.0 354.8 1851.0 351.5 1852.0 350.7 1853.0 350.6 1854.0 347.2 1855.0 344.4 1856.0 343.2 1857.0 343.9 1858.0 343.1 1859.0 342.6 1860.0 341.5 1861.0 342.0 1862.0 342.6 1863.0 342.4 1864.0 337.3 1865.0 339.2 1866.0 337.3 1866.5 339.7 1867.0 341.5 1868.0 340.8 1869.0 338.2 1870.0 338.5 1871.0 338.1 1872.0 336.0 1873.0 337.3 1874.0 337.0 1875.0 337.1 1876.0 335.5 1877.0 335.0 1878.0 332.7 1879.0 334.3 1880.0 332.8 1880.2 333.6 1881.0 331.8 1882.0 334.3 1883.0 337.8 1884.0 334.6 1885.0 338.0 1886.0 337.1 1886.5 338.3 1887.0 339.0 1888.0 340.6 1889.0 338.4 1890.0 338.4 1891.0 340.9 1892.0 340.2 1892.8 340.6 1893.0 339.4 1894.0 341.0 1895.0 337.6 1896.0 335.0 1897.0 338.2 1898.0 335.4 1899.0 334.5 1900.0 332.8 1901.0 331.9 1902.0 330.1 1903.0 329.9 1904.0 330.8 1905.0 328.5 1906.0 327.0 1906.5 327.6 1907.0 328.7 1908.0 326.2 1909.0 326.6 1910.0 325.6 1911.0 326.4 1912.0 323.2 1913.0 325.1 1914.0 323.8 1915.0 323.7 1916.0 326.8 1917.0 326.1 1918.0 329.2 1919.0 329.2 1920.0 327.2 1921.0 330.3 1921.5 330.7 1922.0 333.6 1923.0 330.8 1924.0 331.6 1925.0 331.7 1926.0 335.9 1927.0 337.0 1928.0 336.7 1929.0 337.7 1930.0 339.6 1931.0 339.3 1932.0 340.1 1933.0 340.6 1934.0 335.9 1935.0 339.1 1936.0 340.4 1936.5 340.8 1937.0 340.6 1938.0 341.2 1939.0 342.8 1940.0 343.1 1941.0 344.8 1942.0 345.8 1943.0 343.4 1944.0 345.3 1945.0 346.8 1946.0 347.5 1947.0 347.1 1948.0 347.5 1949.0 347.3 1950.0 349.6 1951.0 350.9 1951.5 349.8 1952.0 354.0 1953.0 349.0 1954.0 351.1 1955.0 353.0 1956.0 353.8 1957.0 355.7 1958.0 355.5 1959.0 355.3 1960.0 353.5 1961.0 352.7 1962.0 351.5 1963.0 350.2 1964.0 346.7 1965.0 347.7 1966.0 344.7 1966.5 345.4 1967.0 342.0 1968.0 341.5 1969.0 341.5 1970.0 340.0 1971.0 337.7 1972.0 335.0 1973.0 334.6 1974.0 331.7 1975.0 330.4 1976.0 328.8 1977.0 327.9 1978.0 328.4 1979.0 329.5 1980.0 329.0 1980.2 327.5 1981.0 329.9 1982.0 328.1 1983.0 329.2 1984.0 331.0 1985.0 330.5 1986.0 330.1 1986.5 330.1 1987.0 326.9 1988.0 327.7 1989.0 329.1 1990.0 329.3 1991.0 330.1 1992.0 329.5 1993.0 327.5 1994.0 330.4 1995.0 330.7 1996.0 332.5 1997.0 329.3 1998.0 330.4 1999.0 328.6 2000.0 332.1 2001.0 334.5 2001.5 332.7 2002.0 331.0 2003.0 333.7 2004.0 335.0 2005.0 336.4 2006.0 334.9 2007.0 334.1 2007.8 335.1 2008.0 332.6 2009.0 335.7 2010.0 336.9 2011.0 338.7 2012.0 341.3 2013.0 342.6 2014.0 341.8 2015.0 343.7 2016.0 343.2 2017.0 344.3 2018.0 342.8 2019.0 342.9 2020.0 339.3 2021.0 341.3 2021.5 341.7 2022.0 342.8 2023.0 341.5 2024.0 340.6 2025.0 339.8 2026.0 338.6 2027.0 336.0 2027.8 337.4 2028.0 336.6 2029.0 336.9 2030.0 340.2 2031.0 336.6 2032.0 337.4 2033.0 336.9 2034.0 340.1 2035.0 341.9 2036.0 341.6 2037.0 340.2 2038.0 341.1 2039.0 343.8 2040.0 341.6 2041.0 344.5 2041.5 342.8 2042.0 343.1 2043.0 344.5 2044.0 342.1 2045.0 340.4 2046.0 340.7 2046.5 340.2 2047.0 339.3 2048.0 337.7 2049.0 336.9 2050.0 337.2 2051.0 336.8 2052.0 335.5 2053.0 335.7 2054.0 333.6 2055.0 334.3 2056.0 332.7 2057.0 333.7 2058.0 336.2 2059.0 333.0 2060.0 333.7 2061.0 333.5 2061.5 332.2 2062.0 332.5 2063.0 329.1 2064.0 332.2 2065.0 331.9 2066.0 329.3 2067.0 331.5 2068.0 328.1 2069.0 328.6 2070.0 331.2 2071.0 328.3 2072.0 331.9 2073.0 329.1 2074.0 332.4 2075.0 334.8 2076.0 336.6 2077.0 335.3 2078.0 339.5 2078.8 338.3" stroke="#0000ff" stroke-width="4.4"/>
</g>
<text transform="translate(248.5 598.47) scale(1 1.045)" font-size="48.0" fill="#161616" text-anchor="middle">0</text>
<text transform="translate(553.6 598.47) scale(1 1.045)" font-size="48.0" fill="#161616" text-anchor="middle">200</text>
<text transform="translate(858.6 598.47) scale(1 1.045)" font-size="48.0" fill="#161616" text-anchor="middle">400</text>
<text transform="translate(1163.7 598.47) scale(1 1.045)" font-size="48.0" fill="#161616" text-anchor="middle">600</text>
<text transform="translate(1468.7 598.47) scale(1 1.045)" font-size="48.0" fill="#161616" text-anchor="middle">800</text>
<text transform="translate(1773.8 598.47) scale(1 1.045)" font-size="48.0" fill="#161616" text-anchor="middle">1000</text>
<text transform="translate(2078.8 598.47) scale(1 1.045)" font-size="48.0" fill="#161616" text-anchor="middle">1200</text>
<text transform="translate(235.0 175.17) scale(1 1.045)" font-size="48.0" fill="#161616" text-anchor="end">50</text>
<text transform="translate(235.0 360.67) scale(1 1.045)" font-size="48.0" fill="#161616" text-anchor="end">0</text>
<text transform="translate(235.0 545.37) scale(1 1.045)" font-size="48.0" fill="#161616" text-anchor="end">-50</text>
<text transform="translate(74.6 345.8) rotate(-90) translate(0 0.85) scale(1 1.045)" font-size="52.7" fill="#161616" text-anchor="middle">Longitude error</text>
<text transform="translate(145.4 345.8) rotate(-90) translate(0 0.85) scale(1 1.045)" font-size="52.7" fill="#161616" text-anchor="middle">(m)</text>
<path d="M553.6 685.2V1067.7M858.6 685.2V1067.7M1163.7 685.2V1067.7M1468.7 685.2V1067.7M1773.8 685.2V1067.7M248.5 739.9H2078.8M248.5 849.1H2078.8M248.5 958.4H2078.8" stroke="#e3e3e3" stroke-width="2.4" fill="none"/>
<path d="M553.6 1067.7v-20M553.6 685.2v20M858.6 1067.7v-20M858.6 685.2v20M1163.7 1067.7v-20M1163.7 685.2v20M1468.7 1067.7v-20M1468.7 685.2v20M1773.8 1067.7v-20M1773.8 685.2v20M248.5 739.9h20M2078.8 739.9h-20M248.5 849.1h20M2078.8 849.1h-20M248.5 958.4h20M2078.8 958.4h-20" stroke="#4a4a4a" stroke-width="3.4" fill="none"/>
<path d="M248.5 685.2H2078.8V1067.7H248.5Z" stroke="#3a3a3a" stroke-width="3" fill="none" stroke-linejoin="miter"/>
<g clip-path="url(#c1)" fill="none" stroke-width="5.2" stroke-linejoin="round">
<path d="M247.8 1047.6 248.8 1031.6 249.8 996.5 250.2 986.8 250.8 960.1 251.8 928.3 252.8 894.8 253.8 854.9 254.8 810.2 255.2 785.6 255.8 801.1 256.8 811.8 257.8 817.9 258.8 795.7 259.8 782.8 260.2 778.7 260.8 798.7 261.8 788.8 262.8 807.3 263.8 809.5 264.8 813.8 265.2 833.6 265.8 822.6 266.8 793.0 267.8 771.1 268.8 752.1 269.8 742.0 270.2 722.8 270.8 726.5 271.5 693.6 271.8 688.1 272.8 703.4 273.8 721.2 274.0 733.2 274.8 755.3 275.8 757.9 276.5 761.1 276.8 763.8 277.8 778.3 278.8 790.1 279.0 791.5 279.8 785.5 280.8 789.4 281.5 803.5 281.8 815.2 282.8 840.8 283.8 856.0 284.0 869.1 284.8 872.4 285.8 904.6 286.5 922.3 286.8 935.2 287.8 933.6 288.8 952.6 289.0 946.3 289.8 953.8 290.8 987.8 291.5 994.9 291.8 990.2 292.8 1007.8 293.5 1042.0 293.8 1032.1 294.8 1007.1 295.2 989.9 295.8 971.9 296.8 953.6 297.8 919.1 298.8 898.0 299.8 893.9 300.2 890.4 300.8 880.4 301.8 874.7 302.8 869.5 303.8 839.2 304.8 825.4 305.2 822.2 305.8 801.0 306.8 783.8 307.8 752.3 308.8 714.4 309.8 718.9 310.2 701.2 310.8 720.1 311.8 725.8 312.8 735.9 313.8 750.9 314.8 763.2 315.2 781.8 315.8 761.7 316.8 775.1 317.8 760.6 318.8 754.3 319.8 753.1 320.2 745.1 320.8 738.3 321.8 719.5 322.8 709.1 323.8 709.6 324.8 728.4 325.2 721.8 325.8 734.2 326.8 733.3 327.8 750.4 328.8 778.7 329.8 781.6 330.2 795.0 330.8 808.3 331.8 846.4 332.8 866.1 333.8 840.0 334.8 818.4 335.2 818.1 335.8 797.7 336.8 762.0 337.8 750.3 338.8 775.0 339.8 789.7 340.2 796.6 340.8 798.8 341.8 809.3 342.8 816.6 343.8 847.9 344.8 882.4 345.2 896.8 345.8 882.7 346.8 892.5 347.8 871.2 348.8 874.1 349.8 858.0 350.2 883.6 350.8 874.1 351.8 861.7 352.8 863.0 353.8 871.6 354.8 878.9 355.2 889.8 355.8 897.0 356.8 896.0 357.8 897.0 358.8 894.1 359.0 891.3 359.8 880.4 360.8 880.3 361.8 861.7 362.8 875.4 363.8 874.7 364.8 866.6 365.8 875.2 366.5 861.6 366.8 852.6 367.8 843.4 368.8 828.4 369.0 827.5 369.8 814.7 370.8 829.8 371.5 813.2 371.8 828.9 372.8 806.5 373.8 819.4 374.0 818.3 374.8 812.3 375.8 829.0 376.5 836.2 376.8 853.0 377.8 843.9 378.8 854.1 379.8 857.0 380.2 861.3 380.8 874.9 381.8 890.5 382.8 876.7 383.8 883.2 384.0 882.9 384.8 894.0 385.8 897.0 386.8 897.0 387.8 884.1 388.8 888.8 389.8 899.0 390.8 897.9 391.5 889.1 391.8 886.0 392.8 899.1 393.8 908.6 394.0 908.9 394.8 921.0 395.8 921.2 396.8 921.9 397.8 924.9 398.8 923.7 399.8 945.9 400.2 944.9 400.8 949.9 401.8 965.9 402.8 985.6 403.8 965.9 404.8 949.0 405.2 955.4 405.8 961.1 406.8 935.0 407.8 918.6 408.8 917.5 409.8 888.4 410.2 881.5 410.8 878.9 411.8 893.0 412.8 867.7 413.8 868.6 414.8 864.4 415.8 865.0 416.5 873.8 416.8 892.6 417.8 899.4 418.8 910.0 419.0 902.2 419.8 907.5 420.8 914.4 421.8 916.3 422.8 924.5 423.8 925.6 424.8 939.5 425.8 926.7 426.5 937.1 426.8 939.5 427.8 927.6 428.8 929.3 429.8 923.3 430.2 919.0 430.8 909.0 431.8 924.3 432.8 903.6 433.8 895.1 434.0 908.5 434.8 894.2 435.8 910.2 436.8 900.3 437.8 892.9 438.8 923.8 439.8 932.4 440.2 945.3 440.8 938.8 441.8 912.1 442.8 896.3 443.8 899.1 444.8 886.5 445.2 875.0 445.8 864.9 446.8 858.0 447.8 861.2 448.8 889.4 449.8 883.7 450.2 892.4 450.8 901.3 451.8 909.1 452.8 882.2 453.8 907.8 454.0 903.7 454.8 907.4 455.8 929.0 456.8 917.7 457.8 944.6 458.8 963.4 459.8 974.1 460.2 975.7 460.8 969.8 461.8 957.1 462.8 929.0 463.8 921.4 464.0 921.9 464.8 933.7 465.8 911.8 466.5 897.2 466.8 900.8 467.8 905.9 468.8 917.0 469.8 893.8 470.2 903.6 470.8 905.2 471.8 906.0 472.8 890.6 473.8 868.9 474.0 874.2 474.8 864.8 475.8 864.3 476.8 852.6 477.8 855.9 478.8 848.2 479.8 864.9 480.8 851.4 481.5 850.2 481.8 844.6 482.8 856.0 483.8 866.6 484.8 861.8 485.2 872.5 485.8 863.1 486.8 863.7 487.8 867.4 488.8 854.0 489.0 859.9 489.8 866.1 490.8 876.2 491.8 894.5 492.8 891.8 493.8 894.5 494.8 874.0 495.8 864.8 496.5 860.6 496.8 862.4 497.8 841.1 498.8 844.5 499.8 823.7 500.2 823.1 500.8 821.1 501.8 815.9 502.8 805.3 503.8 818.6 504.0 810.5 504.8 819.4 505.8 817.9 506.8 809.4 507.8 823.9 508.8 826.9 509.8 828.1 510.8 842.6 511.5 839.8 511.8 844.8 512.8 828.6 513.8 830.3 514.8 826.5 515.2 827.9 515.8 835.7 516.8 839.8 517.8 846.2 518.8 841.9 519.0 853.3 519.8 868.2 520.8 863.6 521.8 864.4 522.8 868.9 523.8 881.6 524.8 872.3 525.8 880.1 526.5 889.3 526.8 888.1 527.8 895.0 528.8 895.0 529.8 902.2 530.2 907.3 530.8 934.8 531.8 968.6 532.8 981.1 533.8 979.6 534.8 963.7 535.8 961.2 536.5 946.5 536.8 946.5 537.8 954.2 538.8 927.8 539.8 938.7 540.2 933.3 540.8 932.6 541.8 922.7 542.8 922.9 543.8 883.8 544.0 897.9 544.8 909.4 545.8 911.8 546.8 907.5 547.8 883.0 548.8 900.5 549.0 891.8 549.8 907.0 550.8 902.7 551.8 900.4 552.8 902.7 553.8 894.3 554.0 895.9 554.8 883.1 555.8 892.2 556.8 893.8 557.8 891.1 558.8 903.6 559.8 904.5 560.8 910.9 561.5 909.3 561.8 900.9 562.8 918.8 563.8 911.5 564.0 932.2 564.8 924.6 565.8 931.0 566.8 927.4 567.8 920.2 568.8 922.4 569.8 912.9 570.8 917.7 571.5 927.2 571.8 919.0 572.8 914.3 573.8 891.8 574.0 893.1 574.8 877.7 575.8 865.1 576.8 858.1 577.8 857.2 578.8 862.6 579.8 857.6 580.8 842.4 581.5 845.6 581.8 839.0 582.8 848.6 583.8 831.8 584.8 830.9 585.2 838.6 585.8 823.8 586.8 846.4 587.8 834.0 588.8 823.0 589.0 818.3 589.8 829.7 590.8 805.1 591.5 807.6 591.8 812.0 592.8 829.3 593.8 828.0 594.8 837.0 595.2 827.5 595.8 818.5 596.8 829.9 597.8 825.3 598.8 841.8 599.0 834.2 599.8 832.8 600.8 823.1 601.8 835.7 602.8 831.9 603.8 833.3 604.8 833.7 605.8 854.6 606.5 843.4 606.8 846.6 607.8 839.2 608.8 857.8 609.8 861.8 610.2 867.1 610.8 875.9 611.8 882.4 612.8 882.1 613.8 897.4 614.0 905.8 614.8 898.3 615.8 873.6 616.8 896.8 617.8 896.6 618.8 890.2 619.8 888.0 620.8 888.0 621.5 901.9 621.8 916.6 622.8 924.8 623.8 934.0 624.8 929.4 625.2 930.2 625.8 913.6 626.8 900.2 627.8 891.5 628.8 869.8 629.8 862.1 630.2 851.7 630.8 845.3 631.8 807.5 632.8 795.0 633.8 790.8 634.8 793.0 635.2 770.7 635.8 769.4 636.8 768.6 637.8 761.7 638.8 773.3 639.0 765.6 639.8 767.4 640.8 753.8 641.8 750.5 642.8 760.3 643.8 767.3 644.8 764.3 645.8 757.3 646.5 757.4 646.8 759.2 647.8 761.4 648.8 749.7 649.8 753.9 650.2 747.0 650.8 727.6 651.8 743.7 652.8 731.5 653.8 744.5 654.8 748.1 655.2 749.0 655.8 760.4 656.8 773.3 657.8 770.1 658.8 792.4 659.8 813.5 660.2 817.5 660.8 832.7 661.8 830.0 662.8 825.9 663.8 839.5 664.0 832.5 664.8 832.4 665.8 803.0 666.8 808.6 667.8 813.2 668.8 803.0 669.8 808.1 670.8 809.7 671.5 811.5 671.8 825.6 672.8 825.5 673.8 831.1 674.8 831.6 675.2 819.4 675.8 821.2 676.8 836.2 677.8 845.6 678.8 848.3 679.8 869.3 680.2 871.9 680.8 873.4 681.8 884.9 682.8 896.1 683.8 887.9 684.8 887.3 685.8 916.0 686.5 908.9 686.8 915.9 687.8 925.4 688.8 928.7 689.8 924.1 690.2 915.8 690.8 910.2 691.8 913.4 692.8 929.2 693.8 918.6 694.0 926.7 694.8 938.3 695.8 917.0 696.8 907.6 697.8 908.7 698.8 904.3 699.8 920.9 700.8 932.0 701.5 920.0 701.8 927.0 702.8 923.6 703.8 912.7 704.8 904.1 705.2 898.6 705.8 898.0 706.8 910.0 707.8 879.1 708.8 883.3 709.0 889.1 709.8 879.9 710.8 894.3 711.8 897.1 712.8 884.2 713.8 900.9 714.8 902.1 715.8 901.7 716.5 895.5 716.8 897.6 717.8 908.2 718.8 916.4 719.8 922.0 720.2 919.2 720.8 919.0 721.8 904.3 722.8 900.4 723.8 893.1 724.0 891.2 724.8 883.8 725.8 875.9 726.8 874.3 727.8 868.5 728.8 887.1 729.8 880.4 730.8 868.0 731.5 881.2 731.8 876.0 732.8 877.0 733.8 908.3 734.8 904.4 735.2 906.5 735.8 922.4 736.8 925.0 737.8 925.0 738.8 910.9 739.0 918.3 739.8 931.2 740.8 926.9 741.8 937.0 742.8 928.0 743.8 917.8 744.8 913.7 745.8 912.7 746.5 911.0 746.8 911.2 747.8 915.9 748.8 935.9 749.8 927.9 750.2 942.1 750.8 944.3 751.8 956.6 752.8 939.9 753.8 944.2 754.0 948.4 754.8 946.7 755.8 941.7 756.8 949.6 757.8 948.1 758.8 944.8 759.8 952.8 760.8 944.0 761.5 936.1 761.8 924.5 762.8 921.6 763.8 930.5 764.8 925.4 765.2 921.4 765.8 918.3 766.8 905.9 767.8 899.7 768.8 899.8 769.0 891.3 769.8 873.0 770.8 888.7 771.5 877.2 771.8 889.0 772.8 898.2 773.8 932.9 774.0 932.8 774.8 914.6 775.8 936.6 776.5 940.4 776.8 942.1 777.8 927.5 778.8 905.5 779.0 892.7 779.8 877.4 780.8 869.7 781.5 855.5 781.8 854.7 782.8 831.8 783.8 835.9 784.0 821.8 784.8 808.9 785.8 808.0 786.8 829.9 787.8 817.1 788.8 828.3 789.8 823.5 790.8 815.0 791.5 825.5 791.8 812.6 792.8 824.2 793.8 844.1 794.8 808.6 795.2 837.6 795.8 849.9 796.8 837.1 797.8 853.7 798.8 871.8 799.0 858.0 799.8 856.6 800.8 858.4 801.8 877.0 802.8 877.0 803.8 875.8 804.0 867.9 804.8 862.3 805.8 858.5 806.8 862.5 807.8 857.2 808.8 872.2 809.8 845.5 810.8 847.5 811.5 846.9 811.8 856.8 812.8 828.0 813.8 837.2 814.8 850.6 815.2 846.8 815.8 857.0 816.8 847.1 817.8 854.5 818.8 850.6 819.0 834.6 819.8 843.6 820.8 849.9 821.8 850.6 822.8 847.5 823.8 862.7 824.8 875.3 825.8 876.9 826.5 883.1 826.8 883.0 827.8 902.5 828.8 921.1 829.8 937.0 830.2 935.1 830.8 922.2 831.8 929.6 832.8 931.0 833.8 907.3 834.0 912.9 834.8 916.8 835.8 911.7 836.8 908.2 837.8 912.7 838.8 916.6 839.8 920.9 840.8 908.5 841.5 905.5 841.8 906.1 842.8 909.4 843.8 904.5 844.8 883.0 845.2 880.1 845.8 883.0 846.8 872.9 847.8 851.6 848.8 843.4 849.0 839.2 849.8 823.8 850.8 819.5 851.8 817.2 852.8 828.0 853.8 812.0 854.8 821.6 855.8 824.5 856.5 821.6 856.8 816.0 857.8 817.4 858.8 780.5 859.8 788.0 860.2 783.7 860.8 780.5 861.8 784.5 862.8 783.7 863.8 784.9 864.0 791.4 864.8 801.9 865.8 819.3 866.5 820.8 866.8 815.3 867.8 837.5 868.8 852.0 869.0 846.4 869.8 848.4 870.8 863.8 871.8 854.4 872.8 861.5 873.8 874.1 874.8 885.5 875.8 884.0 876.5 881.6 876.8 885.3 877.8 917.8 878.8 906.9 879.8 931.1 880.2 931.4 880.8 931.7 881.8 913.5 882.8 925.8 883.8 912.5 884.0 894.6 884.8 892.9 885.8 894.4 886.8 889.2 887.8 890.0 888.8 877.3 889.8 879.4 890.8 872.2 891.5 873.2 891.8 868.0 892.8 885.8 893.8 907.4 894.8 907.0 895.2 921.5 895.8 913.1 896.8 900.7 897.8 883.8 898.8 868.1 899.0 885.1 899.8 883.2 900.8 888.1 901.8 876.6 902.8 873.0 903.8 881.1 904.8 893.8 905.8 875.5 906.5 883.8 906.8 898.6 907.8 899.7 908.8 902.7 909.8 899.3 910.2 896.9 910.8 883.7 911.8 881.9 912.8 874.4 913.8 864.5 914.0 868.2 914.8 864.3 915.8 841.3 916.8 842.0 917.8 834.0 918.8 818.0 919.8 808.0 920.2 813.0 920.8 809.6 921.8 831.9 922.8 817.3 923.8 852.2 924.0 832.5 924.8 829.5 925.8 842.0 926.8 848.6 927.8 866.7 928.8 876.0 929.8 879.8 930.8 859.7 931.5 882.6 931.8 891.8 932.8 918.5 933.8 905.4 934.8 908.7 935.2 913.5 935.8 917.1 936.8 909.6 937.8 925.9 938.8 932.9 939.0 932.0 939.8 929.7 940.8 926.3 941.5 942.3 941.8 935.7 942.8 910.0 943.8 896.7 944.0 896.6 944.8 885.4 945.8 899.4 946.8 897.5 947.8 884.8 948.8 878.0 949.8 903.7 950.8 908.3 951.5 909.7 951.8 904.9 952.8 914.7 953.8 897.9 954.8 898.7 955.2 910.8 955.8 910.2 956.8 918.6 957.8 930.4 958.8 941.2 959.0 941.3 959.8 958.1 960.8 964.6 961.8 972.2 962.8 974.7 963.8 990.6 964.0 989.3 964.8 983.3 965.8 977.7 966.8 982.3 967.8 962.4 968.8 967.0 969.8 955.4 970.8 951.9 971.5 957.2 971.8 967.8 972.8 945.3 973.8 932.7 974.8 925.8 975.2 921.1 975.8 922.2 976.8 889.4 977.8 898.3 978.8 886.5 979.0 883.8 979.8 886.5 980.8 876.7 981.8 873.9 982.8 867.6 983.8 851.6 984.8 865.9 985.8 851.1 986.5 842.7 986.8 847.3 987.8 852.0 988.8 842.5 989.8 841.8 990.8 843.6 991.5 833.5 991.8 844.1 992.8 824.3 993.8 816.0 994.8 829.2 995.2 827.2 995.8 810.0 996.8 820.1 997.8 812.4 998.8 810.8 999.8 817.4 1000.8 828.7 1001.5 841.7 1001.8 851.9 1002.8 852.0 1003.8 841.1 1004.8 842.7 1005.2 832.5 1005.8 846.0 1006.8 823.7 1007.8 837.2 1008.8 840.0 1009.0 843.2 1009.8 837.4 1010.8 843.9 1011.8 834.7 1012.8 825.4 1013.8 817.8 1014.8 806.8 1015.8 789.8 1016.5 774.5 1016.8 782.4 1017.8 778.7 1018.8 770.5 1019.8 769.9 1020.2 767.0 1020.8 765.9 1021.8 773.1 1022.8 779.3 1023.8 763.0 1024.0 775.0 1024.8 770.0 1025.8 765.5 1026.8 778.3 1027.8 784.0 1028.8 787.8 1029.8 788.0 1030.8 797.8 1031.5 798.0 1031.8 811.5 1032.8 804.7 1033.8 781.3 1034.8 780.7 1035.2 800.6 1035.8 789.4 1036.8 798.3 1037.8 812.1 1038.8 821.0 1039.0 810.0 1039.8 819.2 1040.8 818.1 1041.8 824.8 1042.8 819.7 1043.8 831.5 1044.8 828.4 1045.8 811.5 1046.5 817.9 1046.8 815.6 1047.8 809.9 1048.8 826.5 1049.8 804.0 1050.2 812.5 1050.8 811.2 1051.8 802.9 1052.8 765.7 1053.8 765.2 1054.0 766.4 1054.8 755.9 1055.8 740.5 1056.5 741.4 1056.8 751.5 1057.8 766.0 1058.8 768.8 1059.8 764.2 1060.2 760.3 1060.8 781.4 1061.8 763.8 1062.8 767.1 1063.8 754.3 1064.0 773.0 1064.8 768.1 1065.8 793.6 1066.8 791.1 1067.8 787.9 1068.8 763.2 1069.8 741.7 1070.2 726.5 1070.8 726.2 1071.8 715.5 1072.8 734.3 1073.8 746.3 1074.8 778.1 1075.2 772.9 1075.8 777.0 1076.8 802.3 1077.8 819.2 1078.8 824.5 1079.8 821.5 1080.8 843.7 1081.5 838.7 1081.8 850.2 1082.8 877.7 1083.8 869.1 1084.0 894.9 1084.8 888.8 1085.8 877.4 1086.8 900.4 1087.8 899.6 1088.8 896.2 1089.8 891.1 1090.8 900.4 1091.5 886.2 1091.8 891.9 1092.8 875.4 1093.8 854.6 1094.8 844.7 1095.2 852.9 1095.8 860.0 1096.8 854.8 1097.8 864.9 1098.8 851.8 1099.0 847.1 1099.8 854.0 1100.8 862.2 1101.8 870.0 1102.8 874.4 1103.8 874.4 1104.8 875.1 1105.8 874.4 1106.5 895.1 1106.8 903.3 1107.8 912.8 1108.8 910.2 1109.8 930.3 1110.2 942.5 1110.8 945.3 1111.8 936.9 1112.8 915.5 1113.8 901.6 1114.0 903.4 1114.8 896.6 1115.8 902.4 1116.8 900.6 1117.8 891.7 1118.8 893.9 1119.8 904.1 1120.8 911.0 1121.5 922.1 1121.8 926.6 1122.8 934.4 1123.8 947.0 1124.8 934.9 1125.2 940.1 1125.8 947.0 1126.8 925.5 1127.8 925.8 1128.8 922.8 1129.0 916.9 1129.8 909.7 1130.8 911.6 1131.8 900.9 1132.8 893.5 1133.8 885.8 1134.8 901.8 1135.8 902.8 1136.5 901.7 1136.8 906.5 1137.8 912.9 1138.8 920.0 1139.8 930.2 1140.2 938.3 1140.8 942.2 1141.8 949.2 1142.8 957.0 1143.8 948.6 1144.0 947.5 1144.8 955.0 1145.8 929.2 1146.8 922.4 1147.8 923.3 1148.8 926.4 1149.8 921.0 1150.8 933.0 1151.5 924.2 1151.8 928.0 1152.8 915.3 1153.8 906.4 1154.8 913.5 1155.2 911.4 1155.8 910.1 1156.8 901.6 1157.8 901.8 1158.8 898.0 1159.0 899.3 1159.8 875.5 1160.8 876.7 1161.8 878.3 1162.8 867.8 1163.8 870.0 1164.8 843.8 1165.8 845.2 1166.5 843.8 1166.8 841.0 1167.8 848.4 1168.8 820.2 1169.8 804.0 1170.2 793.1 1170.8 806.2 1171.8 810.9 1172.8 799.4 1173.8 798.5 1174.0 792.2 1174.8 825.7 1175.8 844.2 1176.5 844.6 1176.8 845.0 1177.8 858.2 1178.8 877.9 1179.0 889.0 1179.8 897.0 1180.8 871.1 1181.8 861.8 1182.8 869.7 1183.8 845.6 1184.8 857.5 1185.8 849.9 1186.5 845.8 1186.8 852.4 1187.8 849.5 1188.8 819.1 1189.8 802.2 1190.2 798.8 1190.8 805.8 1191.8 803.2 1192.8 803.8 1193.8 819.2 1194.0 824.4 1194.8 821.6 1195.8 829.8 1196.8 827.9 1197.8 845.8 1198.8 844.8 1199.8 860.3 1200.8 858.8 1201.5 871.0 1201.8 881.1 1202.8 865.4 1203.8 898.1 1204.8 904.1 1205.2 908.6 1205.8 914.9 1206.8 890.4 1207.8 889.8 1208.8 868.5 1209.0 865.8 1209.8 864.5 1210.8 868.3 1211.8 844.0 1212.8 830.1 1213.8 813.0 1214.8 814.4 1215.2 817.9 1215.8 832.1 1216.8 844.4 1217.8 873.0 1218.8 894.7 1219.0 895.1 1219.8 891.9 1220.8 920.0 1221.8 920.4 1222.8 936.3 1223.8 927.0 1224.8 929.6 1225.8 927.3 1226.5 921.1 1226.8 927.2 1227.8 927.3 1228.8 927.6 1229.8 925.3 1230.2 932.8 1230.8 926.4 1231.8 928.9 1232.8 913.8 1233.8 898.5 1234.0 903.6 1234.8 895.7 1235.8 888.0 1236.8 909.7 1237.8 896.3 1238.8 893.9 1239.8 890.7 1240.8 912.6 1241.5 901.2 1241.8 895.8 1242.8 928.9 1243.8 916.4 1244.8 925.6 1245.2 926.7 1245.8 920.5 1246.8 917.0 1247.8 891.3 1248.8 872.2 1249.0 881.1 1249.8 889.2 1250.8 862.0 1251.8 836.7 1252.8 827.1 1253.8 829.1 1254.8 842.5 1255.8 851.9 1256.5 843.9 1256.8 852.6 1257.8 863.8 1258.8 877.3 1259.8 894.3 1260.2 888.3 1260.8 905.9 1261.8 893.3 1262.8 900.5 1263.8 920.8 1264.0 911.3 1264.8 920.5 1265.8 939.4 1266.8 940.1 1267.8 945.1 1268.8 962.7 1269.8 962.0 1270.8 968.2 1271.5 967.0 1271.8 971.4 1272.8 976.2 1273.8 1004.0 1274.0 1003.4 1274.8 991.0 1275.8 984.2 1276.5 974.1 1276.8 971.9 1277.8 955.0 1278.8 942.4 1279.8 921.1 1280.2 909.1 1280.8 920.2 1281.8 887.8 1282.8 895.2 1283.8 889.9 1284.0 875.7 1284.8 874.2 1285.8 884.5 1286.8 892.9 1287.8 893.4 1288.8 901.9 1289.8 896.7 1290.8 919.7 1291.5 926.5 1291.8 923.0 1292.8 935.3 1293.8 969.8 1294.8 970.9 1295.2 971.0 1295.8 959.9 1296.8 963.9 1297.8 947.5 1298.8 934.1 1299.0 931.9 1299.8 936.4 1300.8 933.1 1301.8 917.0 1302.8 918.1 1303.8 914.4 1304.8 907.5 1305.8 909.9 1306.5 901.4 1306.8 903.0 1307.8 902.0 1308.8 904.8 1309.8 925.4 1310.2 920.9 1310.8 930.8 1311.8 929.2 1312.8 926.2 1313.8 932.7 1314.0 944.1 1314.8 954.5 1315.8 963.6 1316.8 963.4 1317.8 962.5 1318.8 976.2 1319.8 969.1 1320.8 980.0 1321.5 979.7 1321.8 966.5 1322.8 979.4 1323.8 990.6 1324.8 1014.1 1325.2 1014.0 1325.8 1015.0 1326.8 997.0 1327.8 977.6 1328.8 978.4 1329.0 978.2 1329.8 953.8 1330.8 966.8 1331.8 963.1 1332.8 944.0 1333.8 929.7 1334.8 915.6 1335.8 908.0 1336.5 916.1 1336.8 911.6 1337.8 926.5 1338.8 911.5 1339.8 916.0 1340.2 920.7 1340.8 916.4 1341.8 923.1 1342.8 955.9 1343.8 931.5 1344.0 936.5 1344.8 947.4 1345.8 947.1 1346.8 959.6 1347.8 953.7 1348.8 931.7 1349.8 925.0 1350.2 902.6 1350.8 896.1 1351.8 888.3 1352.8 890.6 1353.8 897.2 1354.0 877.3 1354.8 868.8 1355.8 867.0 1356.8 851.8 1357.8 848.8 1358.8 853.5 1359.8 833.8 1360.8 839.0 1361.5 821.3 1361.8 828.7 1362.8 825.0 1363.8 811.9 1364.8 803.0 1365.8 804.1 1366.5 807.3 1366.8 790.0 1367.8 819.3 1368.8 807.5 1369.8 810.8 1370.8 804.1 1371.5 807.1 1371.8 812.5 1372.8 810.0 1373.8 804.5 1374.8 787.6 1375.2 785.7 1375.8 795.8 1376.8 785.2 1377.8 789.2 1378.8 794.0 1379.0 797.6 1379.8 804.7 1380.8 810.0 1381.8 811.4 1382.8 814.8 1383.8 810.8 1384.8 809.0 1385.8 802.5 1386.5 802.9 1386.8 808.7 1387.8 800.3 1388.8 806.9 1389.8 822.1 1390.2 816.0 1390.8 812.6 1391.8 834.9 1392.8 858.6 1393.8 880.3 1394.0 880.1 1394.8 888.4 1395.8 881.4 1396.5 897.0 1396.8 889.6 1397.8 897.2 1398.8 875.2 1399.8 870.8 1400.2 867.4 1400.8 850.1 1401.8 863.3 1402.8 846.7 1403.8 833.7 1404.0 837.6 1404.8 836.3 1405.8 810.9 1406.8 807.4 1407.8 804.8 1408.8 800.5 1409.8 778.9 1410.8 776.9 1411.5 777.9 1411.8 771.6 1412.8 770.0 1413.8 785.2 1414.8 771.0 1415.2 767.1 1415.8 774.8 1416.8 780.8 1417.8 772.6 1418.8 767.4 1419.0 779.0 1419.8 790.8 1420.8 804.8 1421.5 809.5 1421.8 815.7 1422.8 846.5 1423.8 849.4 1424.0 863.6 1424.8 861.2 1425.8 893.6 1426.5 918.2 1426.8 930.1 1427.8 946.4 1428.8 950.4 1429.0 961.7 1429.8 950.4 1430.8 956.6 1431.8 933.7 1432.8 929.8 1433.8 915.0 1434.8 918.6 1435.8 908.9 1436.5 908.2 1436.8 918.7 1437.8 936.0 1438.8 943.6 1439.8 980.7 1440.2 991.2 1440.8 994.5 1441.8 969.2 1442.8 950.9 1443.8 955.8 1444.0 964.5 1444.8 963.0 1445.8 948.5 1446.8 945.4 1447.8 942.1 1448.8 930.7 1449.8 918.2 1450.8 904.3 1451.5 903.8 1451.8 905.1 1452.8 887.0 1453.8 878.9 1454.8 869.1 1455.2 872.1 1455.8 872.3 1456.8 868.9 1457.8 853.3 1458.8 843.0 1459.0 846.6 1459.8 858.6 1460.8 851.1 1461.8 856.3 1462.8 869.1 1463.8 875.9 1464.8 877.0 1465.8 887.8 1466.5 886.4 1466.8 888.9 1467.8 875.7 1468.8 887.8 1469.8 868.2 1470.8 859.1 1471.5 857.7 1471.8 838.0 1472.8 853.7 1473.8 857.9 1474.8 852.5 1475.2 846.6 1475.8 832.4 1476.8 837.3 1477.8 830.6 1478.8 825.5 1479.0 831.6 1479.8 853.2 1480.8 857.9 1481.8 859.6 1482.8 873.2 1483.8 870.2 1484.0 879.8 1484.8 883.9 1485.8 881.5 1486.5 866.6 1486.8 843.6 1487.8 839.8 1488.8 833.0 1489.8 826.2 1490.2 829.3 1490.8 821.5 1491.8 792.2 1492.8 793.6 1493.8 791.8 1494.0 777.0 1494.8 806.1 1495.8 779.7 1496.8 812.1 1497.8 813.6 1498.8 810.4 1499.8 821.9 1500.8 828.2 1501.5 829.5 1501.8 833.6 1502.8 834.6 1503.8 819.1 1504.8 824.4 1505.2 830.2 1505.8 830.6 1506.8 819.3 1507.8 821.9 1508.8 816.9 1509.0 811.7 1509.8 834.6 1510.8 819.0 1511.8 812.5 1512.8 792.0 1513.8 783.9 1514.8 797.9 1515.2 797.1 1515.8 799.2 1516.8 807.0 1517.8 801.7 1518.8 796.9 1519.8 783.7 1520.8 779.2 1521.5 782.0 1521.8 780.0 1522.8 772.0 1523.8 771.9 1524.0 770.4 1524.8 788.9 1525.8 797.7 1526.5 793.2 1526.8 785.6 1527.8 825.6 1528.8 825.5 1529.0 851.5 1529.8 848.8 1530.8 849.1 1531.8 869.0 1532.8 871.3 1533.8 890.6 1534.8 892.2 1535.8 897.0 1536.5 886.4 1536.8 888.9 1537.8 879.1 1538.8 868.4 1539.8 863.7 1540.2 859.9 1540.8 862.2 1541.8 876.0 1542.8 885.7 1543.8 886.9 1544.0 885.7 1544.8 887.4 1545.8 863.3 1546.8 878.0 1547.8 865.9 1548.8 854.6 1549.8 835.4 1550.8 840.4 1551.5 829.8 1551.8 823.5 1552.8 820.0 1553.8 824.1 1554.0 825.5 1554.8 850.2 1555.8 889.4 1556.5 911.8 1556.8 910.3 1557.8 887.0 1558.8 878.9 1559.0 876.2 1559.8 874.5 1560.8 857.4 1561.8 850.0 1562.8 833.8 1563.8 826.7 1564.8 826.8 1565.8 821.9 1566.5 828.5 1566.8 824.5 1567.8 831.2 1568.8 855.9 1569.8 849.2 1570.2 864.4 1570.8 872.6 1571.8 869.5 1572.8 881.3 1573.8 905.2 1574.0 894.4 1574.8 907.4 1575.8 914.1 1576.5 913.1 1576.8 912.3 1577.8 914.0 1578.8 907.3 1579.8 900.7 1580.2 895.5 1580.8 896.7 1581.8 892.4 1582.8 887.6 1583.8 914.6 1584.0 895.6 1584.8 879.2 1585.8 880.2 1586.8 864.6 1587.8 880.8 1588.8 863.5 1589.8 869.5 1590.8 872.3 1591.5 864.6 1591.8 869.8 1592.8 872.4 1593.8 877.4 1594.8 871.0 1595.2 874.9 1595.8 886.8 1596.8 886.6 1597.8 899.0 1598.8 898.8 1599.0 895.5 1599.8 886.8 1600.8 886.9 1601.8 896.0 1602.8 885.8 1603.8 881.2 1604.8 864.9 1605.8 861.5 1606.5 844.7 1606.8 839.7 1607.8 818.6 1608.8 804.6 1609.8 812.9 1610.2 810.9 1610.8 802.2 1611.8 783.0 1612.8 785.3 1613.8 785.8 1614.8 799.5 1615.2 807.5 1615.8 819.2 1616.8 819.2 1617.8 834.2 1618.8 844.5 1619.0 846.7 1619.8 846.9 1620.8 859.4 1621.8 861.2 1622.8 862.9 1623.8 860.4 1624.8 857.6 1625.8 892.2 1626.5 888.0 1626.8 902.2 1627.8 901.3 1628.8 921.6 1629.0 920.0 1629.8 937.0 1630.8 929.2 1631.8 936.1 1632.8 953.3 1633.8 909.1 1634.8 898.1 1635.2 908.6 1635.8 893.5 1636.8 907.2 1637.8 880.7 1638.8 876.2 1639.0 874.6 1639.8 885.4 1640.8 878.3 1641.5 864.1 1641.8 877.0 1642.8 848.8 1643.8 845.4 1644.8 841.3 1645.2 834.5 1645.8 835.1 1646.8 829.6 1647.8 834.5 1648.8 816.0 1649.0 816.0 1649.8 813.0 1650.8 813.0 1651.8 817.6 1652.8 819.2 1653.8 834.1 1654.8 851.8 1655.8 855.7 1656.5 860.1 1656.8 858.6 1657.8 869.3 1658.8 885.8 1659.0 889.5 1659.8 905.2 1660.8 892.3 1661.8 887.0 1662.8 893.2 1663.8 902.9 1664.8 925.3 1665.8 922.0 1666.5 921.9 1666.8 909.4 1667.8 920.8 1668.8 931.1 1669.8 936.9 1670.2 931.9 1670.8 935.3 1671.8 927.9 1672.8 947.0 1673.8 938.7 1674.0 940.1 1674.8 930.6 1675.8 936.3 1676.8 946.4 1677.8 930.0 1678.8 906.8 1679.8 913.9 1680.8 921.5 1681.5 914.5 1681.8 918.5 1682.8 911.3 1683.8 908.9 1684.8 913.8 1685.2 892.3 1685.8 890.1 1686.8 885.3 1687.8 899.4 1688.8 873.5 1689.0 875.5 1689.8 880.7 1690.8 865.9 1691.8 873.9 1692.8 856.7 1693.8 848.9 1694.8 821.7 1695.8 808.0 1696.5 818.1 1696.8 810.8 1697.8 810.6 1698.8 809.6 1699.8 808.9 1700.2 812.0 1700.8 815.7 1701.8 809.9 1702.8 820.0 1703.8 828.3 1704.0 832.8 1704.8 842.0 1705.8 842.0 1706.8 842.0 1707.8 821.6 1708.8 815.9 1709.8 819.0 1710.2 806.2 1710.8 807.5 1711.8 825.2 1712.8 839.2 1713.8 840.5 1714.0 828.4 1714.8 825.5 1715.8 840.3 1716.8 819.3 1717.8 849.5 1718.8 859.8 1719.8 858.2 1720.8 858.1 1721.5 853.3 1721.8 862.7 1722.8 861.0 1723.8 845.7 1724.8 857.3 1725.2 863.1 1725.8 867.7 1726.8 879.0 1727.8 878.2 1728.8 894.9 1729.0 883.5 1729.8 884.9 1730.8 902.8 1731.8 899.9 1732.8 909.4 1733.8 922.6 1734.8 909.7 1735.8 916.4 1736.5 931.1 1736.8 919.0 1737.8 937.0 1738.8 926.6 1739.0 916.1 1739.8 906.8 1740.8 910.0 1741.8 903.8 1742.8 883.0 1743.8 892.5 1744.8 878.2 1745.8 864.1 1746.5 859.9 1746.8 846.2 1747.8 858.8 1748.8 858.5 1749.8 846.2 1750.2 841.3 1750.8 829.3 1751.8 846.1 1752.8 847.2 1753.8 838.7 1754.0 828.8 1754.8 820.6 1755.8 819.5 1756.8 803.8 1757.8 797.1 1758.8 792.0 1759.8 781.4 1760.8 778.9 1761.5 785.0 1761.8 781.0 1762.8 796.0 1763.8 778.3 1764.8 750.9 1765.2 760.1 1765.8 756.8 1766.8 760.2 1767.8 758.1 1768.8 745.1 1769.0 754.2 1769.8 757.1 1770.8 753.1 1771.8 742.3 1772.8 744.7 1773.8 769.1 1774.8 743.5 1775.8 744.1 1776.5 759.4 1776.8 760.9 1777.8 773.5 1778.8 784.6 1779.8 779.1 1780.2 779.9 1780.8 808.3 1781.8 791.1 1782.8 803.1 1783.8 808.3 1784.0 795.7 1784.8 773.0 1785.8 807.7 1786.8 808.6 1787.8 811.3 1788.8 836.0 1789.8 831.1 1790.8 845.7 1791.5 862.9 1791.8 861.0 1792.8 887.6 1793.8 906.8 1794.0 912.5 1794.8 927.0 1795.8 917.4 1796.5 917.9 1796.8 920.9 1797.8 914.1 1798.8 897.1 1799.0 907.7 1799.8 890.6 1800.8 906.8 1801.8 881.5 1802.8 876.0 1803.8 886.2 1804.8 891.7 1805.8 871.3 1806.5 889.8 1806.8 892.0 1807.8 873.2 1808.8 870.5 1809.8 883.5 1810.2 871.1 1810.8 866.9 1811.8 869.9 1812.8 848.5 1813.8 860.1 1814.0 855.6 1814.8 871.8 1815.8 859.7 1816.8 870.0 1817.8 880.8 1818.8 877.8 1819.8 849.4 1820.8 832.8 1821.5 822.2 1821.8 815.9 1822.8 817.9 1823.8 813.0 1824.8 820.7 1825.2 820.4 1825.8 822.9 1826.8 834.4 1827.8 814.1 1828.8 842.0 1829.0 836.6 1829.8 835.4 1830.8 822.7 1831.5 819.4 1831.8 826.4 1832.8 816.9 1833.8 814.3 1834.8 819.9 1835.2 806.6 1835.8 815.9 1836.8 819.2 1837.8 812.4 1838.8 827.8 1839.0 826.9 1839.8 820.6 1840.8 800.3 1841.5 784.4 1841.8 779.6 1842.8 776.1 1843.8 782.7 1844.0 773.9 1844.8 788.8 1845.8 796.8 1846.8 790.1 1847.8 794.6 1848.8 788.2 1849.8 794.5 1850.8 790.1 1851.5 783.4 1851.8 784.7 1852.8 803.3 1853.8 818.1 1854.0 809.9 1854.8 811.8 1855.8 820.1 1856.5 822.4 1856.8 837.0 1857.8 855.8 1858.8 874.8 1859.0 889.6 1859.8 888.9 1860.8 867.2 1861.5 852.4 1861.8 842.0 1862.8 860.0 1863.8 849.2 1864.8 838.0 1865.2 843.0 1865.8 853.9 1866.8 867.0 1867.8 851.3 1868.8 865.8 1869.0 859.2 1869.8 858.0 1870.8 842.5 1871.8 857.9 1872.8 845.9 1873.8 834.6 1874.8 813.0 1875.8 822.5 1876.5 820.0 1876.8 828.7 1877.8 833.1 1878.8 835.1 1879.8 848.7 1880.2 842.0 1880.8 863.5 1881.8 879.3 1882.8 907.9 1883.8 894.6 1884.8 903.0 1885.8 895.8 1886.5 889.8 1886.8 885.6 1887.8 876.9 1888.8 871.2 1889.8 874.4 1890.2 866.7 1890.8 863.0 1891.8 874.6 1892.8 893.9 1893.8 902.0 1894.0 896.6 1894.8 897.3 1895.8 891.1 1896.8 878.3 1897.8 879.7 1898.8 841.1 1899.8 813.2 1900.2 811.9 1900.8 812.0 1901.8 801.9 1902.8 794.6 1903.8 793.2 1904.0 791.9 1904.8 793.8 1905.8 769.3 1906.8 758.9 1907.8 756.6 1908.8 774.9 1909.8 758.0 1910.8 755.3 1911.5 750.7 1911.8 743.0 1912.8 756.6 1913.8 768.5 1914.8 778.9 1915.2 777.5 1915.8 785.9 1916.8 784.2 1917.8 795.3 1918.8 777.8 1919.8 784.8 1920.8 791.4 1921.5 787.3 1921.8 786.1 1922.8 797.9 1923.8 792.1 1924.8 812.0 1925.2 808.8 1925.8 796.8 1926.8 803.0 1927.8 814.5 1928.8 824.9 1929.0 814.3 1929.8 804.8 1930.8 808.8 1931.8 802.6 1932.8 796.5 1933.8 800.4 1934.8 801.2 1935.8 810.3 1936.5 812.7 1936.8 813.6 1937.8 824.1 1938.8 827.0 1939.8 812.5 1940.2 812.9 1940.8 818.3 1941.8 819.9 1942.8 806.0 1943.8 788.0 1944.0 792.4 1944.8 800.6 1945.8 804.7 1946.8 829.9 1947.8 818.9 1948.8 835.2 1949.8 862.5 1950.2 866.2 1950.8 879.3 1951.8 909.2 1952.8 921.9 1953.8 922.4 1954.8 940.1 1955.8 937.3 1956.5 934.7 1956.8 926.7 1957.8 926.0 1958.8 920.5 1959.0 911.1 1959.8 905.9 1960.8 896.0 1961.8 887.5 1962.8 874.5 1963.8 863.6 1964.8 877.9 1965.8 880.0 1966.5 877.6 1966.8 873.9 1967.8 860.4 1968.8 881.1 1969.8 874.0 1970.2 866.0 1970.8 865.1 1971.8 867.6 1972.8 861.6 1973.8 861.9 1974.0 879.5 1974.8 887.0 1975.8 887.0 1976.8 873.8 1977.8 862.4 1978.8 855.3 1979.8 854.5 1980.8 844.0 1981.5 827.9 1981.8 816.2 1982.8 822.0 1983.8 808.0 1984.8 808.0 1985.2 812.3 1985.8 827.3 1986.8 856.4 1987.8 872.7 1988.8 884.4 1989.0 884.3 1989.8 899.7 1990.8 904.6 1991.5 921.2 1991.8 928.0 1992.8 920.0 1993.8 935.8 1994.8 952.0 1995.2 943.6 1995.8 931.4 1996.8 937.2 1997.8 929.2 1998.8 922.2 1999.0 922.0 1999.8 921.7 2000.8 932.5 2001.8 942.7 2002.8 939.1 2003.8 936.9 2004.8 948.7 2005.8 941.0 2006.5 949.6 2006.8 944.2 2007.8 938.7 2008.8 909.9 2009.0 913.6 2009.8 898.6 2010.8 891.3 2011.8 897.6 2012.8 890.5 2013.8 884.7 2014.8 877.2 2015.8 838.0 2016.5 840.8 2016.8 838.0 2017.8 867.3 2018.8 846.9 2019.8 843.5 2020.2 853.4 2020.8 854.1 2021.8 872.0 2022.8 860.8 2023.8 854.3 2024.0 863.1 2024.8 847.0 2025.8 869.8 2026.8 838.7 2027.8 824.6 2028.8 820.3 2029.8 818.0 2030.8 837.2 2031.5 827.3 2031.8 835.7 2032.8 820.9 2033.8 836.7 2034.8 838.5 2035.2 839.2 2035.8 833.0 2036.8 817.0 2037.8 822.1 2038.8 831.1 2039.0 817.4 2039.8 801.8 2040.8 807.1 2041.8 798.9 2042.8 797.1 2043.8 807.9 2044.8 812.0 2045.8 808.5 2046.5 816.9 2046.8 810.8 2047.8 817.5 2048.8 834.7 2049.8 818.1 2050.2 829.2 2050.8 840.0 2051.8 832.1 2052.8 839.9 2053.8 853.7 2054.0 846.4 2054.8 858.0 2055.8 852.3 2056.8 856.1 2057.8 854.6 2058.8 849.4 2059.8 836.7 2060.8 837.3 2061.5 838.5 2061.8 840.1 2062.8 837.5 2063.8 825.3 2064.8 818.5 2065.2 826.1 2065.8 814.9 2066.8 820.1 2067.8 813.4 2068.8 802.3 2069.0 803.3 2069.8 805.8 2070.8 789.8 2071.8 771.6 2072.8 781.4 2073.8 784.4 2074.8 779.5 2075.8 787.0 2076.5 777.3 2076.8 789.7 2077.8 768.0 2078.8 779.9" stroke="#ff0000" stroke-dasharray="21.8 5.5 10.9 5.4"/>
<path d="M247.8 849.6 248.8 858.6 249.8 869.7 250.8 870.4 251.5 884.3 251.8 878.9 252.8 884.5 253.8 870.8 254.8 860.4 255.2 862.8 255.8 858.4 256.8 847.3 257.8 859.1 258.8 848.8 259.0 848.9 259.8 840.0 260.8 843.9 261.8 844.9 262.8 854.8 263.8 841.6 264.8 858.1 265.8 852.3 266.5 847.8 266.8 845.7 267.8 840.3 268.8 840.9 269.8 834.2 270.2 828.4 270.8 827.5 271.8 822.5 272.8 816.5 273.8 810.2 274.0 809.8 274.8 798.3 275.8 801.9 276.8 792.5 277.8 792.5 278.8 792.5 279.0 795.8 279.8 802.8 280.8 799.9 281.8 820.3 282.8 811.8 283.8 832.7 284.8 825.4 285.8 830.8 286.5 834.4 286.8 825.2 287.8 841.5 288.8 845.5 289.8 838.7 290.2 847.8 290.8 852.1 291.8 837.4 292.8 857.3 293.8 862.8 294.0 859.8 294.8 857.6 295.8 870.0 296.8 868.6 297.8 865.4 298.8 853.1 299.8 853.9 300.8 864.2 301.5 859.9 301.8 866.9 302.8 870.0 303.8 870.0 304.8 857.0 305.2 850.7 305.8 849.1 306.8 849.3 307.8 862.7 308.8 858.4 309.0 854.9 309.8 861.5 310.8 847.5 311.8 868.5 312.8 864.1 313.8 862.4 314.8 851.4 315.8 859.4 316.5 865.5 316.8 872.5 317.8 864.8 318.8 852.0 319.8 852.1 320.2 847.8 320.8 843.5 321.8 840.4 322.8 821.9 323.8 814.6 324.0 812.5 324.8 806.5 325.8 807.4 326.8 806.5 327.8 809.5 328.8 818.5 329.8 805.9 330.8 806.4 331.5 818.8 331.8 824.0 332.8 810.6 333.8 832.5 334.8 828.8 335.2 825.0 335.8 822.2 336.8 817.1 337.8 834.0 338.8 828.4 339.0 824.4 339.8 823.9 340.8 820.1 341.8 830.3 342.8 834.3 343.8 826.5 344.0 828.9 344.8 832.8 345.8 820.0 346.8 833.5 347.8 833.4 348.8 831.4 349.0 824.3 349.8 827.1 350.8 827.2 351.8 845.8 352.8 840.6 353.8 857.1 354.8 865.4 355.8 852.5 356.5 859.9 356.8 864.0 357.8 869.2 358.8 877.5 359.8 878.9 360.8 872.5 361.5 872.6 361.8 866.8 362.8 879.3 363.8 885.0 364.8 882.7 365.8 873.7 366.5 876.8 366.8 871.9 367.8 880.3 368.8 878.4 369.8 867.6 370.8 875.2 371.5 864.6 371.8 866.6 372.8 862.6 373.8 873.8 374.8 863.1 375.8 863.0 376.5 864.6 376.8 868.3 377.8 862.1 378.8 854.7 379.8 874.3 380.8 875.0 381.5 862.6 381.8 860.2 382.8 852.5 383.8 863.0 384.8 853.6 385.2 848.9 385.8 856.9 386.8 831.9 387.8 835.6 388.8 818.1 389.0 824.2 389.8 824.5 390.8 832.3 391.8 827.4 392.8 804.2 393.8 804.1 394.0 812.4 394.8 811.1 395.8 810.4 396.8 808.7 397.8 813.6 398.8 808.0 399.0 806.6 399.8 800.0 400.8 800.1 401.8 804.3 402.8 824.5 403.8 811.6 404.0 821.9 404.8 832.0 405.8 831.0 406.8 843.3 407.8 844.6 408.8 862.3 409.8 875.6 410.2 881.6 410.8 891.0 411.8 897.9 412.8 902.7 413.8 902.0 414.8 897.3 415.8 909.7 416.5 908.5 416.8 915.0 417.8 897.8 418.8 896.4 419.8 890.3 420.2 899.8 420.8 889.6 421.8 876.9 422.8 888.8 423.8 862.1 424.8 841.6 425.2 821.5 425.8 828.0 426.8 813.3 427.8 814.2 428.8 787.6 429.0 788.7 429.8 788.6 430.8 782.8 431.8 785.6 432.8 791.1 433.8 792.3 434.0 786.5 434.8 788.4 435.8 785.3 436.8 789.3 437.8 809.4 438.8 800.4 439.0 797.3 439.8 802.5 440.8 812.9 441.8 823.3 442.8 819.6 443.8 836.5 444.8 838.7 445.8 860.0 446.5 842.1 446.8 856.8 447.8 850.8 448.8 849.5 449.8 861.5 450.8 848.2 451.5 857.2 451.8 854.6 452.8 861.2 453.8 861.9 454.8 856.3 455.8 861.3 456.5 862.9 456.8 850.9 457.8 869.4 458.8 867.9 459.8 868.6 460.8 865.3 461.5 860.3 461.8 855.6 462.8 855.0 463.8 871.9 464.8 873.5 465.8 868.8 466.5 862.3 466.8 862.3 467.8 866.1 468.8 861.3 469.8 867.8 470.8 869.8 471.5 869.1 471.8 871.2 472.8 868.7 473.8 874.5 474.8 866.0 475.8 875.0 476.5 868.7 476.8 860.6 477.8 863.7 478.8 868.1 479.8 870.9 480.8 854.7 481.5 857.8 481.8 847.4 482.8 858.3 483.8 855.8 484.8 837.6 485.2 845.5 485.8 834.5 486.8 814.5 487.8 794.1 488.8 792.5 489.8 793.0 490.8 805.3 491.5 809.5 491.8 798.1 492.8 816.0 493.8 802.7 494.8 804.4 495.2 815.1 495.8 817.6 496.8 827.7 497.8 850.0 498.8 841.1 499.0 840.7 499.8 825.5 500.8 842.5 501.8 832.1 502.8 834.1 503.8 846.1 504.0 842.7 504.8 846.0 505.8 853.1 506.8 861.2 507.8 867.0 508.8 870.1 509.0 885.4 509.8 878.8 510.8 894.2 511.5 900.6 511.8 893.1 512.8 905.0 513.8 902.9 514.8 896.1 515.2 883.9 515.8 877.4 516.8 874.1 517.8 869.1 518.8 865.0 519.0 875.5 519.8 882.1 520.8 871.2 521.8 878.9 522.8 875.7 523.8 874.9 524.0 869.2 524.8 880.0 525.8 861.5 526.8 862.9 527.8 867.1 528.8 865.6 529.0 862.9 529.8 866.8 530.8 862.1 531.8 861.4 532.8 847.2 533.8 845.5 534.0 854.3 534.8 836.9 535.8 811.3 536.8 804.2 537.8 790.0 538.8 786.5 539.8 780.0 540.8 791.2 541.5 786.5 541.8 781.2 542.8 790.9 543.8 802.9 544.8 814.8 545.2 815.6 545.8 835.5 546.8 838.4 547.8 860.2 548.8 876.3 549.0 869.2 549.8 866.2 550.8 863.0 551.8 891.2 552.8 882.2 553.8 882.2 554.0 890.8 554.8 891.2 555.8 884.0 556.8 882.2 557.8 882.3 558.8 868.8 559.8 863.3 560.8 872.3 561.5 865.0 561.8 858.3 562.8 859.0 563.8 842.6 564.8 824.8 565.2 827.6 565.8 828.4 566.8 818.8 567.8 808.8 568.8 800.8 569.0 803.7 569.8 827.0 570.8 818.6 571.8 816.9 572.8 818.4 573.8 834.6 574.8 842.7 575.8 868.7 576.5 871.8 576.8 875.0 577.8 889.4 578.8 894.4 579.0 899.4 579.8 892.1 580.8 900.7 581.5 909.6 581.8 919.5 582.8 909.8 583.8 928.1 584.8 942.3 585.2 940.4 585.8 945.0 586.8 930.2 587.8 918.4 588.8 935.4 589.0 925.2 589.8 909.7 590.8 911.1 591.8 916.3 592.8 901.7 593.8 894.7 594.8 906.5 595.8 899.7 596.5 888.3 596.8 884.1 597.8 881.3 598.8 867.5 599.8 859.8 600.2 860.4 600.8 863.5 601.8 863.8 602.8 854.1 603.8 848.3 604.0 849.5 604.8 848.0 605.8 853.9 606.8 853.5 607.8 846.3 608.8 846.5 609.8 844.3 610.8 842.7 611.5 847.4 611.8 847.1 612.8 836.4 613.8 823.5 614.8 828.9 615.2 823.5 615.8 823.4 616.8 823.9 617.8 823.6 618.8 826.4 619.0 811.7 619.8 814.9 620.8 810.0 621.8 822.7 622.8 829.6 623.8 835.0 624.8 835.0 625.8 835.0 626.5 821.7 626.8 820.5 627.8 825.7 628.8 824.3 629.8 819.1 630.2 816.5 630.8 830.0 631.8 829.2 632.8 813.6 633.8 814.0 634.0 809.9 634.8 825.0 635.8 809.8 636.8 808.5 637.8 798.3 638.8 800.1 639.0 796.8 639.8 788.8 640.8 802.2 641.8 796.3 642.8 790.6 643.8 798.5 644.8 801.8 645.8 802.4 646.5 802.3 646.8 801.8 647.8 793.4 648.8 806.7 649.8 824.9 650.2 819.5 650.8 823.8 651.8 829.3 652.8 836.6 653.8 831.8 654.0 838.7 654.8 851.9 655.8 856.4 656.5 863.3 656.8 867.7 657.8 872.9 658.8 896.4 659.0 896.1 659.8 900.5 660.8 889.1 661.8 901.1 662.8 908.1 663.8 914.3 664.8 911.8 665.8 912.4 666.5 906.1 666.8 910.2 667.8 891.7 668.8 889.0 669.8 880.5 670.2 882.7 670.8 869.6 671.8 878.3 672.8 871.8 673.8 866.5 674.0 870.6 674.8 865.6 675.8 863.5 676.8 854.9 677.8 857.3 678.8 852.5 679.8 859.5 680.8 867.8 681.5 861.3 681.8 859.3 682.8 858.5 683.8 861.5 684.8 887.2 685.2 873.0 685.8 883.3 686.8 873.4 687.8 874.2 688.8 880.8 689.0 886.3 689.8 888.4 690.8 878.8 691.8 877.9 692.8 873.4 693.8 849.4 694.8 836.5 695.8 842.9 696.5 843.5 696.8 850.6 697.8 832.4 698.8 837.3 699.8 837.0 700.2 834.1 700.8 836.3 701.8 844.7 702.8 857.2 703.8 875.7 704.0 865.6 704.8 869.6 705.8 867.8 706.8 878.6 707.8 875.0 708.8 867.8 709.8 873.4 710.8 855.0 711.5 864.9 711.8 878.0 712.8 869.7 713.8 873.6 714.8 876.7 715.2 882.8 715.8 872.9 716.8 881.2 717.8 879.5 718.8 868.2 719.0 869.8 719.8 873.6 720.8 857.4 721.8 851.3 722.8 851.2 723.8 845.8 724.8 860.7 725.8 855.3 726.5 859.2 726.8 840.0 727.8 857.5 728.8 874.6 729.8 868.4 730.2 873.3 730.8 873.5 731.8 855.3 732.8 858.6 733.8 852.0 734.0 844.1 734.8 834.8 735.8 815.6 736.5 802.8 736.8 805.0 737.8 806.4 738.8 800.9 739.8 805.5 740.8 813.2 741.5 806.0 741.8 800.0 742.8 814.4 743.8 818.7 744.8 806.7 745.2 815.5 745.8 808.5 746.8 831.6 747.8 829.6 748.8 841.5 749.0 845.2 749.8 849.8 750.8 855.8 751.8 863.1 752.8 863.1 753.8 865.0 754.8 847.8 755.8 855.0 756.5 853.9 756.8 862.0 757.8 865.0 758.8 850.1 759.8 849.2 760.8 848.0 761.5 854.7 761.8 851.1 762.8 859.5 763.8 860.2 764.8 860.1 765.8 848.2 766.5 849.0 766.8 852.8 767.8 847.1 768.8 846.7 769.8 849.0 770.8 856.0 771.5 845.4 771.8 846.5 772.8 842.2 773.8 847.6 774.8 838.1 775.8 843.7 776.5 839.4 776.8 843.5 777.8 825.5 778.8 823.6 779.8 815.0 780.2 821.6 780.8 824.2 781.8 820.8 782.8 826.7 783.8 822.2 784.0 824.0 784.8 831.6 785.8 828.6 786.8 828.9 787.8 824.1 788.8 822.8 789.8 835.4 790.8 840.4 791.5 838.7 791.8 842.8 792.8 845.0 793.8 843.0 794.8 841.5 795.2 837.8 795.8 845.0 796.8 832.3 797.8 826.0 798.8 834.0 799.0 829.8 799.8 836.5 800.8 825.6 801.8 830.4 802.8 824.8 803.8 819.2 804.0 827.5 804.8 810.0 805.8 821.9 806.8 815.1 807.8 810.0 808.8 810.0 809.0 817.2 809.8 823.3 810.8 820.5 811.8 826.5 812.8 813.4 813.8 824.2 814.0 828.2 814.8 835.2 815.8 842.5 816.8 850.0 817.8 837.0 818.8 850.0 819.0 846.9 819.8 839.3 820.8 828.0 821.8 829.9 822.8 825.4 823.8 824.5 824.8 820.6 825.8 810.2 826.5 813.6 826.8 812.7 827.8 811.3 828.8 820.8 829.8 828.8 830.2 825.2 830.8 840.0 831.8 833.3 832.8 827.5 833.8 827.7 834.0 830.5 834.8 827.0 835.8 840.5 836.8 844.9 837.8 849.6 838.8 847.3 839.8 859.4 840.8 861.0 841.5 863.8 841.8 857.7 842.8 869.1 843.8 865.6 844.8 884.3 845.2 885.3 845.8 888.7 846.8 883.8 847.8 863.2 848.8 875.2 849.0 875.2 849.8 879.9 850.8 882.0 851.8 875.4 852.8 871.6 853.8 854.3 854.0 869.8 854.8 865.0 855.8 866.0 856.8 859.0 857.8 857.3 858.8 856.0 859.0 854.8 859.8 852.5 860.8 858.0 861.8 861.3 862.8 854.4 863.8 842.3 864.0 845.6 864.8 853.2 865.8 849.6 866.8 849.4 867.8 853.5 868.8 849.4 869.8 865.8 870.8 865.3 871.5 860.1 871.8 851.8 872.8 852.9 873.8 867.5 874.8 851.7 875.2 846.9 875.8 843.0 876.8 836.0 877.8 833.9 878.8 839.3 879.0 832.2 879.8 843.0 880.8 832.8 881.8 831.5 882.8 845.9 883.8 850.3 884.8 844.4 885.8 852.1 886.5 857.3 886.8 857.3 887.8 851.6 888.8 851.3 889.8 840.6 890.2 844.2 890.8 849.0 891.8 838.1 892.8 835.0 893.8 844.4 894.0 838.6 894.8 836.0 895.8 860.4 896.5 885.1 896.8 877.4 897.8 887.9 898.8 868.0 899.0 874.2 899.8 877.8 900.8 861.9 901.8 860.1 902.8 844.1 903.8 838.0 904.8 852.3 905.8 850.1 906.5 841.7 906.8 838.6 907.8 846.8 908.8 845.0 909.8 839.7 910.2 845.2 910.8 840.5 911.8 840.0 912.8 839.2 913.8 827.9 914.0 830.0 914.8 821.3 915.8 826.3 916.8 819.8 917.8 819.1 918.8 829.0 919.8 825.4 920.8 826.5 921.5 834.9 921.8 831.2 922.8 834.5 923.8 835.9 924.8 843.0 925.2 864.3 925.8 854.1 926.8 865.4 927.8 870.1 928.8 873.5 929.0 870.3 929.8 856.8 930.8 863.3 931.8 861.5 932.8 858.4 933.8 857.7 934.8 850.0 935.8 840.0 936.5 845.2 936.8 840.0 937.8 855.4 938.8 849.6 939.8 856.0 940.2 855.5 940.8 854.4 941.8 852.4 942.8 850.4 943.8 865.0 944.0 859.7 944.8 858.5 945.8 850.0 946.8 845.8 947.8 829.3 948.8 832.1 949.8 823.5 950.8 822.5 951.5 827.3 951.8 822.5 952.8 832.9 953.8 832.8 954.8 831.3 955.2 830.6 955.8 831.4 956.8 832.2 957.8 834.6 958.8 832.5 959.0 833.4 959.8 816.5 960.8 802.8 961.5 796.6 961.8 800.2 962.8 816.0 963.8 827.6 964.0 819.2 964.8 830.9 965.8 832.5 966.8 826.9 967.8 834.8 968.8 835.9 969.8 838.2 970.8 837.8 971.5 847.7 971.8 851.4 972.8 842.2 973.8 855.5 974.8 863.1 975.2 870.4 975.8 857.2 976.8 857.7 977.8 840.8 978.8 826.4 979.0 828.8 979.8 826.5 980.8 827.1 981.8 828.1 982.8 835.7 983.8 826.8 984.8 855.4 985.8 844.5 986.5 856.3 986.8 861.0 987.8 852.9 988.8 866.4 989.8 856.0 990.2 870.4 990.8 871.6 991.8 880.0 992.8 883.4 993.8 885.0 994.0 883.6 994.8 882.1 995.8 875.8 996.8 872.5 997.8 857.5 998.8 833.3 999.8 820.0 1000.2 800.1 1000.8 799.0 1001.8 803.7 1002.8 798.1 1003.8 794.6 1004.0 794.2 1004.8 802.6 1005.8 808.4 1006.8 803.1 1007.8 808.7 1008.8 804.2 1009.8 802.9 1010.8 819.2 1011.5 808.1 1011.8 815.7 1012.8 832.3 1013.8 841.5 1014.0 838.2 1014.8 833.9 1015.8 846.8 1016.5 858.1 1016.8 860.8 1017.8 882.2 1018.8 901.0 1019.0 894.5 1019.8 896.7 1020.8 909.3 1021.5 907.7 1021.8 904.2 1022.8 899.1 1023.8 901.9 1024.8 906.9 1025.2 901.5 1025.8 896.2 1026.8 895.3 1027.8 878.9 1028.8 876.0 1029.0 883.7 1029.8 874.4 1030.8 872.1 1031.5 863.4 1031.8 860.6 1032.8 850.4 1033.8 831.9 1034.0 830.1 1034.8 837.1 1035.8 819.6 1036.8 819.9 1037.8 808.5 1038.8 794.2 1039.8 787.6 1040.2 779.6 1040.8 789.9 1041.8 794.7 1042.8 789.7 1043.8 809.1 1044.0 799.1 1044.8 804.8 1045.8 787.9 1046.8 805.0 1047.8 797.8 1048.8 799.7 1049.8 792.1 1050.8 785.0 1051.5 788.5 1051.8 788.8 1052.8 786.0 1053.8 802.9 1054.8 811.2 1055.2 806.9 1055.8 802.0 1056.8 823.5 1057.8 822.2 1058.8 823.9 1059.0 830.2 1059.8 834.1 1060.8 843.8 1061.5 851.2 1061.8 847.7 1062.8 858.1 1063.8 865.2 1064.0 874.4 1064.8 874.2 1065.8 872.4 1066.8 875.1 1067.8 871.7 1068.8 865.3 1069.8 847.9 1070.8 848.4 1071.5 843.1 1071.8 835.7 1072.8 840.9 1073.8 838.6 1074.8 826.3 1075.2 825.3 1075.8 829.4 1076.8 824.3 1077.8 825.9 1078.8 822.4 1079.0 821.9 1079.8 824.1 1080.8 824.9 1081.8 825.0 1082.8 824.3 1083.8 815.0 1084.8 823.6 1085.8 823.5 1086.5 826.7 1086.8 820.0 1087.8 820.0 1088.8 836.0 1089.8 822.1 1090.2 828.9 1090.8 825.7 1091.8 845.9 1092.8 838.6 1093.8 845.8 1094.0 843.1 1094.8 842.1 1095.8 847.8 1096.8 858.4 1097.8 860.6 1098.8 861.5 1099.8 875.3 1100.8 885.0 1101.5 882.4 1101.8 874.6 1102.8 859.3 1103.8 835.4 1104.0 816.6 1104.8 821.2 1105.8 821.3 1106.8 830.3 1107.8 810.1 1108.8 808.5 1109.8 819.9 1110.8 813.8 1111.5 813.9 1111.8 821.7 1112.8 820.8 1113.8 826.2 1114.8 821.5 1115.2 823.9 1115.8 832.7 1116.8 845.9 1117.8 858.6 1118.8 863.7 1119.0 874.4 1119.8 855.9 1120.8 871.4 1121.8 871.5 1122.8 884.2 1123.8 879.5 1124.8 880.1 1125.8 896.2 1126.5 896.9 1126.8 896.6 1127.8 900.0 1128.8 897.0 1129.8 898.4 1130.2 891.6 1130.8 884.5 1131.8 883.1 1132.8 874.2 1133.8 874.1 1134.0 885.8 1134.8 884.0 1135.8 863.9 1136.8 848.7 1137.8 854.7 1138.8 833.6 1139.8 838.7 1140.8 837.1 1141.5 828.2 1141.8 840.7 1142.8 826.6 1143.8 835.1 1144.8 835.1 1145.2 826.1 1145.8 825.2 1146.8 825.5 1147.8 836.5 1148.8 833.8 1149.0 839.7 1149.8 834.3 1150.8 845.0 1151.8 842.1 1152.8 833.4 1153.8 833.0 1154.0 829.8 1154.8 825.0 1155.8 833.6 1156.8 843.4 1157.8 838.3 1158.8 838.8 1159.0 836.1 1159.8 842.1 1160.8 838.4 1161.8 845.0 1162.8 837.4 1163.8 839.2 1164.0 833.1 1164.8 836.2 1165.8 843.2 1166.8 842.5 1167.8 839.6 1168.8 847.5 1169.0 840.9 1169.8 834.6 1170.8 844.2 1171.8 844.0 1172.8 847.5 1173.8 833.9 1174.0 839.8 1174.8 837.1 1175.8 847.5 1176.8 839.5 1177.8 836.2 1178.8 839.6 1179.8 836.7 1180.8 822.3 1181.5 821.4 1181.8 831.7 1182.8 820.0 1183.8 830.9 1184.8 834.6 1185.8 832.0 1186.5 843.5 1186.8 840.7 1187.8 830.8 1188.8 841.8 1189.8 835.1 1190.2 835.1 1190.8 841.3 1191.8 846.5 1192.8 868.2 1193.8 875.0 1194.0 868.0 1194.8 860.1 1195.8 875.0 1196.8 862.5 1197.8 862.1 1198.8 843.7 1199.8 841.4 1200.8 847.4 1201.5 847.2 1201.8 851.8 1202.8 835.2 1203.8 836.1 1204.8 820.0 1205.2 822.5 1205.8 822.0 1206.8 831.8 1207.8 820.8 1208.8 820.0 1209.0 827.5 1209.8 824.4 1210.8 834.7 1211.8 834.4 1212.8 841.7 1213.8 843.3 1214.8 863.9 1215.8 849.1 1216.5 862.0 1216.8 851.1 1217.8 855.3 1218.8 846.7 1219.8 865.0 1220.2 845.6 1220.8 844.0 1221.8 843.6 1222.8 849.4 1223.8 854.4 1224.0 858.4 1224.8 870.2 1225.8 866.0 1226.8 880.4 1227.8 880.5 1228.8 877.5 1229.8 869.8 1230.8 866.9 1231.5 869.4 1231.8 861.5 1232.8 877.0 1233.8 865.6 1234.8 872.2 1235.2 861.0 1235.8 863.6 1236.8 867.0 1237.8 851.2 1238.8 852.2 1239.0 848.0 1239.8 849.0 1240.8 856.4 1241.8 846.6 1242.8 842.0 1243.8 843.8 1244.8 844.5 1245.8 845.1 1246.5 850.7 1246.8 852.3 1247.8 837.9 1248.8 838.5 1249.8 836.3 1250.2 840.0 1250.8 839.5 1251.8 845.5 1252.8 855.9 1253.8 860.0 1254.0 853.8 1254.8 870.0 1255.8 854.9 1256.8 844.3 1257.8 850.3 1258.8 852.7 1259.8 870.3 1260.8 857.3 1261.5 869.0 1261.8 875.6 1262.8 870.5 1263.8 868.0 1264.8 866.4 1265.2 876.1 1265.8 878.8 1266.8 864.5 1267.8 864.8 1268.8 846.4 1269.0 848.8 1269.8 838.9 1270.8 846.7 1271.8 821.9 1272.8 815.6 1273.8 812.5 1274.8 827.4 1275.8 826.9 1276.5 826.7 1276.8 819.2 1277.8 841.9 1278.8 840.3 1279.8 848.8 1280.2 844.6 1280.8 842.8 1281.8 845.9 1282.8 859.0 1283.8 856.4 1284.0 850.5 1284.8 844.1 1285.8 852.7 1286.8 863.7 1287.8 862.8 1288.8 861.9 1289.8 858.8 1290.8 869.8 1291.5 873.3 1291.8 874.7 1292.8 872.8 1293.8 862.3 1294.8 861.5 1295.2 869.4 1295.8 871.8 1296.8 886.4 1297.8 887.6 1298.8 890.0 1299.0 886.0 1299.8 873.9 1300.8 849.8 1301.8 846.5 1302.8 842.5 1303.8 841.2 1304.8 851.6 1305.8 861.3 1306.5 869.0 1306.8 866.1 1307.8 881.8 1308.8 877.9 1309.8 881.2 1310.2 897.0 1310.8 896.7 1311.8 891.3 1312.8 934.6 1313.8 929.7 1314.0 938.3 1314.8 940.7 1315.8 939.1 1316.8 943.5 1317.8 943.7 1318.8 931.0 1319.8 936.2 1320.8 932.3 1321.5 939.8 1321.8 926.1 1322.8 937.8 1323.8 925.3 1324.8 923.6 1325.2 921.8 1325.8 933.2 1326.8 936.6 1327.8 929.6 1328.8 928.7 1329.0 932.4 1329.8 941.0 1330.8 931.4 1331.8 934.6 1332.8 948.3 1333.8 936.8 1334.8 945.7 1335.8 949.3 1336.5 942.0 1336.8 937.7 1337.8 938.1 1338.8 919.7 1339.0 913.4 1339.8 888.6 1340.8 896.7 1341.5 884.8 1341.8 874.4 1342.8 865.0 1343.2 845.7 1343.8 814.8 1344.2 782.1 1344.8 743.4 1345.2 719.3 1345.8 694.9 1346.2 670.4 1346.8 669.1 1347.8 671.0 1348.8 665.0 1349.8 668.9 1350.8 679.7 1351.8 673.1 1352.8 680.5 1353.8 678.6 1354.8 679.4 1355.8 668.3 1356.8 669.9 1357.8 730.3 1358.8 792.8 1359.8 830.8 1360.0 840.7 1360.8 845.1 1361.8 843.9 1362.8 845.2 1363.8 842.1 1364.8 851.1 1365.2 841.1 1365.8 847.7 1366.8 861.6 1367.8 853.8 1368.8 847.9 1369.0 850.9 1369.8 850.9 1370.8 859.2 1371.8 859.3 1372.8 858.9 1373.8 859.7 1374.8 856.0 1375.8 864.5 1376.5 867.9 1376.8 858.1 1377.8 858.9 1378.8 852.4 1379.8 842.3 1380.2 846.6 1380.8 839.7 1381.8 845.4 1382.8 838.2 1383.8 839.5 1384.0 837.0 1384.8 838.5 1385.8 834.2 1386.8 825.0 1387.8 831.1 1388.8 828.7 1389.8 836.1 1390.8 835.3 1391.5 839.5 1391.8 835.8 1392.8 853.7 1393.8 839.9 1394.8 847.3 1395.8 845.9 1396.5 847.7 1396.8 845.0 1397.8 845.3 1398.8 870.0 1399.8 881.3 1400.2 887.7 1400.8 880.6 1401.8 875.6 1402.8 855.1 1403.8 872.3 1404.0 864.1 1404.8 867.8 1405.8 854.6 1406.8 847.3 1407.8 851.2 1408.8 853.7 1409.8 846.5 1410.8 839.2 1411.5 845.2 1411.8 845.5 1412.8 843.7 1413.8 832.3 1414.8 825.5 1415.2 832.6 1415.8 842.3 1416.8 820.5 1417.8 815.0 1418.8 818.4 1419.0 820.3 1419.8 822.3 1420.8 837.1 1421.8 843.4 1422.8 836.8 1423.8 835.4 1424.8 828.6 1425.8 850.0 1426.5 844.6 1426.8 850.0 1427.8 843.8 1428.8 837.1 1429.8 832.9 1430.2 833.6 1430.8 845.1 1431.8 837.9 1432.8 847.5 1433.8 845.0 1434.0 841.9 1434.8 847.1 1435.8 854.6 1436.8 840.6 1437.8 839.6 1438.8 852.9 1439.0 850.9 1439.8 844.5 1440.8 856.8 1441.8 856.2 1442.8 847.8 1443.8 856.5 1444.0 853.5 1444.8 861.3 1445.8 858.1 1446.8 853.7 1447.8 856.9 1448.8 852.5 1449.0 859.4 1449.8 865.0 1450.8 866.7 1451.8 863.1 1452.8 875.0 1453.8 875.0 1454.0 870.3 1454.8 870.1 1455.8 864.0 1456.8 867.5 1457.8 845.0 1458.8 850.2 1459.0 850.6 1459.8 846.2 1460.8 843.4 1461.8 836.9 1462.8 830.8 1463.8 832.2 1464.8 837.5 1465.8 842.0 1466.5 847.1 1466.8 845.3 1467.8 846.6 1468.8 848.5 1469.8 875.0 1470.8 875.0 1471.5 867.9 1471.8 874.4 1472.8 873.7 1473.8 857.2 1474.8 859.0 1475.8 860.5 1476.5 846.8 1476.8 853.8 1477.8 841.4 1478.8 846.6 1479.8 840.0 1480.2 842.2 1480.8 844.6 1481.8 857.9 1482.8 871.7 1483.8 880.0 1484.0 878.9 1484.8 872.3 1485.8 857.0 1486.8 871.7 1487.8 858.0 1488.8 860.0 1489.8 858.0 1490.8 854.0 1491.5 843.9 1491.8 843.9 1492.8 835.1 1493.8 812.0 1494.8 814.1 1495.2 816.1 1495.8 818.8 1496.8 823.7 1497.8 834.9 1498.8 826.7 1499.0 830.7 1499.8 847.1 1500.8 826.3 1501.8 837.7 1502.8 842.0 1503.8 844.7 1504.8 850.4 1505.8 865.3 1506.5 850.9 1506.8 847.3 1507.8 863.0 1508.8 865.4 1509.8 883.6 1510.2 887.2 1510.8 880.9 1511.8 886.5 1512.8 906.6 1513.8 899.9 1514.0 908.7 1514.8 897.5 1515.8 905.1 1516.8 912.2 1517.8 899.0 1518.8 897.0 1519.8 873.9 1520.8 872.0 1521.5 880.2 1521.8 865.6 1522.8 888.1 1523.8 878.7 1524.8 871.3 1525.2 874.4 1525.8 874.2 1526.8 870.1 1527.8 868.9 1528.8 868.2 1529.0 855.6 1529.8 847.5 1530.8 849.1 1531.8 848.8 1532.8 843.2 1533.8 847.8 1534.0 843.1 1534.8 852.4 1535.8 841.7 1536.8 840.2 1537.8 856.8 1538.8 850.7 1539.8 877.7 1540.8 855.6 1541.5 875.1 1541.8 876.2 1542.8 879.9 1543.8 879.9 1544.8 888.1 1545.8 877.6 1546.5 890.5 1546.8 887.5 1547.8 872.9 1548.8 887.7 1549.8 869.2 1550.2 864.4 1550.8 860.1 1551.8 847.0 1552.8 847.1 1553.8 828.6 1554.0 831.6 1554.8 814.6 1555.8 815.3 1556.8 814.6 1557.8 814.4 1558.8 807.5 1559.8 812.7 1560.8 805.0 1561.5 807.2 1561.8 811.1 1562.8 805.0 1563.8 805.0 1564.8 813.0 1565.2 823.5 1565.8 810.0 1566.8 835.0 1567.8 816.2 1568.8 813.5 1569.8 810.9 1570.2 810.2 1570.8 817.1 1571.8 814.4 1572.8 815.0 1573.8 839.2 1574.0 841.4 1574.8 846.0 1575.8 850.2 1576.8 847.0 1577.8 854.2 1578.8 858.9 1579.8 874.6 1580.8 887.3 1581.5 882.6 1581.8 883.7 1582.8 868.7 1583.8 877.2 1584.8 868.0 1585.2 867.3 1585.8 863.0 1586.8 850.2 1587.8 855.1 1588.8 854.9 1589.0 853.9 1589.8 851.8 1590.8 844.1 1591.8 839.3 1592.8 828.2 1593.8 821.5 1594.8 823.1 1595.8 820.8 1596.5 818.7 1596.8 811.9 1597.8 810.0 1598.8 823.7 1599.8 828.1 1600.2 813.9 1600.8 828.0 1601.8 817.6 1602.8 825.7 1603.8 833.1 1604.0 831.7 1604.8 824.2 1605.8 826.7 1606.8 836.3 1607.8 832.7 1608.8 837.7 1609.0 835.2 1609.8 828.7 1610.8 823.3 1611.8 817.3 1612.8 806.7 1613.8 808.8 1614.8 805.6 1615.8 810.3 1616.5 827.7 1616.8 827.9 1617.8 830.4 1618.8 816.7 1619.8 835.2 1620.2 846.1 1620.8 864.6 1621.8 853.3 1622.8 852.6 1623.8 858.0 1624.0 851.6 1624.8 849.5 1625.8 852.0 1626.8 862.5 1627.8 860.4 1628.8 857.8 1629.8 865.5 1630.8 870.0 1631.5 864.8 1631.8 869.9 1632.8 865.8 1633.8 856.5 1634.8 844.3 1635.2 850.6 1635.8 866.4 1636.8 857.0 1637.8 854.2 1638.8 845.5 1639.0 841.2 1639.8 832.0 1640.8 826.7 1641.8 828.1 1642.8 824.7 1643.8 830.6 1644.8 809.6 1645.8 808.3 1646.5 809.1 1646.8 807.5 1647.8 810.5 1648.8 820.4 1649.8 818.0 1650.2 815.8 1650.8 817.6 1651.8 826.0 1652.8 826.8 1653.8 836.5 1654.0 836.0 1654.8 840.9 1655.8 848.4 1656.8 842.8 1657.8 858.6 1658.8 862.3 1659.8 851.7 1660.8 844.9 1661.5 847.7 1661.8 834.7 1662.8 849.4 1663.8 836.8 1664.8 830.9 1665.2 826.0 1665.8 828.1 1666.8 820.6 1667.8 812.0 1668.8 834.1 1669.0 826.0 1669.8 821.0 1670.8 813.2 1671.8 824.4 1672.8 824.8 1673.8 818.6 1674.0 813.9 1674.8 814.8 1675.8 812.4 1676.8 810.6 1677.8 807.7 1678.8 811.6 1679.0 804.1 1679.8 805.0 1680.8 815.0 1681.8 807.3 1682.8 811.7 1683.8 806.8 1684.0 809.0 1684.8 815.0 1685.8 801.9 1686.8 800.0 1687.8 803.1 1688.8 800.0 1689.8 800.0 1690.8 800.0 1691.5 806.7 1691.8 800.0 1692.8 808.4 1693.8 803.6 1694.8 815.1 1695.2 814.3 1695.8 822.4 1696.8 811.6 1697.8 820.9 1698.8 824.7 1699.0 822.4 1699.8 834.4 1700.8 818.8 1701.8 832.2 1702.8 833.9 1703.8 844.3 1704.8 863.7 1705.8 866.3 1706.5 871.2 1706.8 864.2 1707.8 877.7 1708.8 879.7 1709.8 875.1 1710.2 883.5 1710.8 874.5 1711.8 884.9 1712.8 873.7 1713.8 876.7 1714.0 874.5 1714.8 879.1 1715.8 890.0 1716.8 890.0 1717.8 885.7 1718.8 890.0 1719.8 853.7 1720.8 856.4 1721.5 845.3 1721.8 844.8 1722.8 855.9 1723.8 844.6 1724.8 838.5 1725.2 831.0 1725.8 827.9 1726.8 835.2 1727.8 847.4 1728.8 859.7 1729.0 855.0 1729.8 866.2 1730.8 854.1 1731.8 863.0 1732.8 863.7 1733.8 862.8 1734.8 865.3 1735.8 860.1 1736.5 881.3 1736.8 890.0 1737.8 890.0 1738.8 888.1 1739.8 884.6 1740.2 888.5 1740.8 885.7 1741.8 873.4 1742.8 868.7 1743.8 869.1 1744.0 866.9 1744.8 856.8 1745.8 850.0 1746.8 861.3 1747.8 851.9 1748.8 844.8 1749.8 834.2 1750.8 844.8 1751.5 824.7 1751.8 829.7 1752.8 818.8 1753.8 818.0 1754.8 800.0 1755.2 809.1 1755.8 805.7 1756.8 804.5 1757.8 800.0 1758.8 811.0 1759.0 811.0 1759.8 807.8 1760.8 809.9 1761.8 816.3 1762.8 820.0 1763.8 813.5 1764.8 824.1 1765.8 830.0 1766.5 825.0 1766.8 830.0 1767.8 829.9 1768.8 825.3 1769.8 810.8 1770.8 810.1 1771.5 820.7 1771.8 820.4 1772.8 815.0 1773.8 815.0 1774.8 815.0 1775.8 828.2 1776.5 824.5 1776.8 825.2 1777.8 820.5 1778.8 825.5 1779.8 823.9 1780.8 815.0 1781.5 822.9 1781.8 823.8 1782.8 821.2 1783.8 815.0 1784.8 824.7 1785.8 826.1 1786.5 828.2 1786.8 832.9 1787.8 837.5 1788.8 820.4 1789.8 832.0 1790.2 829.5 1790.8 823.1 1791.8 842.3 1792.8 836.0 1793.8 831.7 1794.0 834.3 1794.8 831.5 1795.8 833.9 1796.8 831.4 1797.8 843.3 1798.8 842.8 1799.8 852.4 1800.8 852.5 1801.5 860.3 1801.8 867.8 1802.8 864.6 1803.8 880.1 1804.8 874.0 1805.2 869.5 1805.8 874.8 1806.8 885.8 1807.8 875.9 1808.8 877.0 1809.0 887.2 1809.8 883.7 1810.8 893.6 1811.8 895.6 1812.8 896.8 1813.8 892.2 1814.8 882.1 1815.8 888.4 1816.5 885.9 1816.8 893.3 1817.8 883.9 1818.8 885.9 1819.8 857.3 1820.2 864.5 1820.8 863.6 1821.8 854.7 1822.8 856.9 1823.8 848.0 1824.0 845.6 1824.8 846.0 1825.8 844.5 1826.8 854.8 1827.8 853.9 1828.8 849.9 1829.8 851.1 1830.8 853.5 1831.5 851.3 1831.8 862.3 1832.8 864.1 1833.8 853.5 1834.8 854.5 1835.2 861.0 1835.8 858.5 1836.8 856.7 1837.8 853.7 1838.8 842.0 1839.0 843.9 1839.8 842.2 1840.8 841.2 1841.8 830.0 1842.8 825.4 1843.8 815.3 1844.8 805.0 1845.8 800.0 1846.5 804.1 1846.8 800.7 1847.8 806.6 1848.8 819.4 1849.8 820.9 1850.2 817.8 1850.8 818.1 1851.8 829.9 1852.8 839.2 1853.8 836.8 1854.0 839.3 1854.8 845.0 1855.8 826.6 1856.8 824.9 1857.8 822.7 1858.8 820.9 1859.8 817.7 1860.8 819.9 1861.5 815.5 1861.8 820.1 1862.8 813.5 1863.8 814.4 1864.8 805.0 1865.2 808.0 1865.8 818.0 1866.8 821.1 1867.8 830.1 1868.8 832.2 1869.0 832.6 1869.8 845.3 1870.8 859.9 1871.8 862.1 1872.8 885.4 1873.8 884.6 1874.8 882.5 1875.8 879.5 1876.5 880.2 1876.8 883.7 1877.8 870.9 1878.8 884.5 1879.8 863.2 1880.2 862.5 1880.8 858.9 1881.8 855.1 1882.8 844.0 1883.8 845.7 1884.0 840.6 1884.8 850.8 1885.8 836.6 1886.8 825.0 1887.8 827.5 1888.8 832.8 1889.8 825.0 1890.8 827.9 1891.5 829.6 1891.8 825.9 1892.8 840.8 1893.8 844.4 1894.8 848.5 1895.2 852.3 1895.8 858.9 1896.8 855.8 1897.8 879.3 1898.8 903.8 1899.0 903.2 1899.8 905.0 1900.8 898.8 1901.8 885.4 1902.8 893.0 1903.8 881.8 1904.8 898.9 1905.8 888.3 1906.5 892.1 1906.8 895.1 1907.8 882.4 1908.8 860.4 1909.8 842.7 1910.2 844.9 1910.8 852.7 1911.8 841.4 1912.8 826.0 1913.8 802.6 1914.0 815.0 1914.8 808.1 1915.8 799.1 1916.8 804.9 1917.8 791.3 1918.8 789.9 1919.8 794.3 1920.8 817.9 1921.5 811.5 1921.8 802.0 1922.8 812.9 1923.8 812.2 1924.8 830.2 1925.2 826.1 1925.8 835.7 1926.8 835.3 1927.8 856.3 1928.8 841.7 1929.0 845.0 1929.8 850.4 1930.8 851.3 1931.8 853.4 1932.8 855.8 1933.8 867.8 1934.8 871.2 1935.8 879.8 1936.5 884.0 1936.8 887.5 1937.8 878.4 1938.8 864.4 1939.8 863.4 1940.2 861.2 1940.8 862.8 1941.8 861.0 1942.8 858.0 1943.8 842.0 1944.0 842.4 1944.8 848.3 1945.8 829.2 1946.8 829.2 1947.8 823.8 1948.8 834.5 1949.8 832.3 1950.8 844.0 1951.5 846.9 1951.8 859.0 1952.8 845.0 1953.8 873.7 1954.8 880.0 1955.2 870.4 1955.8 870.2 1956.8 874.4 1957.8 878.6 1958.8 880.0 1959.0 875.7 1959.8 879.4 1960.8 853.1 1961.8 859.5 1962.8 863.0 1963.8 861.0 1964.8 840.0 1965.8 843.3 1966.5 838.0 1966.8 854.3 1967.8 848.7 1968.8 857.6 1969.8 846.1 1970.2 852.4 1970.8 855.0 1971.8 851.5 1972.8 855.0 1973.8 840.9 1974.0 847.7 1974.8 840.2 1975.8 846.7 1976.8 839.5 1977.8 846.3 1978.8 823.3 1979.0 833.5 1979.8 829.1 1980.8 820.9 1981.8 834.1 1982.8 830.7 1983.8 821.8 1984.0 817.7 1984.8 818.5 1985.8 821.3 1986.8 831.6 1987.8 822.0 1988.8 809.5 1989.0 811.8 1989.8 795.9 1990.8 804.3 1991.8 801.6 1992.8 812.1 1993.8 805.8 1994.0 807.1 1994.8 806.9 1995.8 797.4 1996.8 785.0 1997.8 790.3 1998.8 797.2 1999.8 795.7 2000.8 806.7 2001.5 800.1 2001.8 798.7 2002.8 806.6 2003.8 808.3 2004.8 807.8 2005.2 814.3 2005.8 813.2 2006.8 820.4 2007.8 821.0 2008.8 821.5 2009.0 828.2 2009.8 835.2 2010.8 831.5 2011.8 843.6 2012.8 834.0 2013.8 844.9 2014.8 852.2 2015.8 861.0 2016.5 862.4 2016.8 868.8 2017.8 881.6 2018.8 876.1 2019.8 885.0 2020.2 877.6 2020.8 872.2 2021.8 876.9 2022.8 881.4 2023.8 866.2 2024.0 875.2 2024.8 879.9 2025.8 873.7 2026.8 874.8 2027.8 865.2 2028.8 863.7 2029.8 867.8 2030.8 852.3 2031.5 846.7 2031.8 847.7 2032.8 847.2 2033.8 844.4 2034.8 828.1 2035.2 835.1 2035.8 835.2 2036.8 823.2 2037.8 830.9 2038.8 820.0 2039.0 826.4 2039.8 833.2 2040.8 836.7 2041.8 847.0 2042.8 840.3 2043.8 840.4 2044.8 854.2 2045.8 855.5 2046.5 850.0 2046.8 852.0 2047.8 858.9 2048.8 867.0 2049.8 860.0 2050.2 854.5 2050.8 850.1 2051.8 859.8 2052.8 845.0 2053.8 869.8 2054.0 864.3 2054.8 854.1 2055.8 868.8 2056.8 868.0 2057.8 867.5 2058.8 873.1 2059.8 869.1 2060.8 883.7 2061.5 886.6 2061.8 885.8 2062.8 894.7 2063.8 882.1 2064.8 877.1 2065.2 891.0 2065.8 899.5 2066.8 884.6 2067.8 884.3 2068.8 862.2 2069.0 867.1 2069.8 853.4 2070.8 857.4 2071.8 855.9 2072.8 842.2 2073.8 837.1 2074.8 840.3 2075.8 816.0 2076.5 818.6 2076.8 812.9 2077.8 797.2 2078.8 791.6" stroke="#00ff00" stroke-dasharray="21.8 21.8"/>
<path d="M247.8 850.5 248.5 1020.1 248.7 1001.6 249.5 884.9 249.6 893.7 250.4 1006.5 250.5 1014.4 251.3 912.2 251.5 893.2 252.2 973.8 252.5 999.5 253.2 926.3 253.5 890.5 254.1 944.6 254.5 985.1 254.9 935.4 255.5 885.1 255.8 916.6 256.5 979.9 256.8 963.5 257.6 893.7 257.8 890.5 258.6 907.5 259.0 919.9 259.4 913.3 260.4 898.8 260.5 894.7 261.2 903.0 262.1 910.1 262.8 909.5 263.1 905.6 263.9 900.6 264.9 888.7 265.8 883.8 266.5 882.9 266.6 877.5 267.6 872.7 268.4 865.3 269.0 859.0 269.4 863.2 270.2 854.6 271.1 855.3 272.1 850.7 272.8 845.6 272.9 846.0 273.9 840.9 274.8 833.7 275.6 833.1 276.5 824.2 276.6 829.1 277.4 823.4 278.4 819.0 279.2 816.1 280.1 810.1 280.2 812.4 281.1 812.9 281.9 818.3 282.9 830.8 283.8 831.7 284.0 832.0 284.6 841.3 285.6 847.9 286.4 861.8 287.4 872.2 287.8 874.3 288.2 881.2 289.1 891.2 290.1 893.0 290.2 896.6 290.9 891.4 291.9 886.6 292.8 889.5 293.6 879.9 294.0 875.5 294.6 880.2 295.4 888.1 296.4 893.3 296.5 889.4 297.2 884.0 298.1 883.3 299.1 874.1 299.9 868.3 300.2 859.2 300.9 861.7 301.8 853.2 302.6 850.6 303.6 850.2 304.0 850.2 304.4 848.1 305.4 841.2 306.2 830.8 307.1 832.8 308.1 829.8 308.9 819.1 309.0 817.7 309.9 826.4 310.8 825.4 311.6 830.5 312.6 839.3 312.8 839.8 313.4 834.3 314.4 837.0 315.2 840.4 316.1 840.4 317.1 842.3 317.8 839.1 317.9 836.2 318.9 838.8 319.8 838.8 320.6 832.4 321.5 824.8 321.6 823.2 322.4 826.7 323.4 830.0 324.2 830.4 325.1 828.7 326.1 830.9 326.5 834.4 326.9 836.9 327.9 838.4 328.8 837.1 329.6 838.3 330.6 839.2 331.4 841.8 331.5 839.7 332.4 838.0 333.2 844.3 334.1 845.9 335.1 848.8 335.9 851.0 336.5 849.6 336.9 846.1 337.8 843.7 338.6 843.0 339.6 846.1 340.2 839.6 340.4 842.2 341.4 842.4 342.2 843.3 343.1 845.0 344.0 844.9 344.1 846.2 344.9 849.5 345.9 845.2 346.8 848.0 347.6 853.7 348.6 851.7 349.0 854.1 349.4 854.9 350.4 853.5 351.2 856.8 352.1 856.1 353.1 854.4 353.9 852.7 354.0 849.9 354.9 849.8 355.8 856.1 356.6 861.4 357.6 859.7 357.8 862.2 358.4 861.6 359.4 865.2 360.2 865.0 361.1 866.1 361.5 865.8 362.1 866.2 362.9 867.8 363.9 858.8 364.8 857.8 365.2 854.0 365.6 853.1 366.6 848.5 367.4 843.6 368.4 840.3 369.0 839.9 369.2 843.8 370.1 844.1 371.1 847.5 371.9 853.0 372.8 851.4 372.9 853.9 373.8 856.0 374.6 854.0 375.6 854.7 376.4 857.1 376.5 859.1 377.4 859.2 378.2 855.7 379.1 852.7 380.1 855.3 380.9 851.1 381.5 853.6 381.9 852.1 382.8 853.8 383.6 850.0 384.6 848.9 385.4 847.1 386.4 845.9 386.5 845.2 387.2 847.5 388.1 848.8 389.1 847.9 389.9 845.2 390.9 849.2 391.5 852.4 391.8 855.5 392.6 852.2 393.6 851.9 394.4 848.4 395.4 844.6 396.2 842.8 396.5 839.6 397.1 840.3 398.1 837.4 398.9 831.3 399.9 830.2 400.2 830.4 400.8 833.5 401.6 838.5 402.6 832.6 403.4 832.3 404.4 833.8 405.2 839.9 406.1 841.8 407.1 841.0 407.9 842.1 408.9 842.7 409.8 843.1 410.2 844.4 410.6 844.4 411.6 847.1 412.4 852.6 413.4 858.4 414.0 858.5 414.2 861.8 415.1 861.5 416.1 865.0 416.9 870.2 417.9 873.5 418.8 875.5 419.0 877.6 419.6 876.1 420.6 874.3 421.4 874.6 422.4 869.0 422.8 867.6 423.2 871.1 424.1 867.7 425.1 865.0 425.9 862.1 426.5 867.5 426.9 868.0 427.8 863.7 428.6 861.2 429.6 862.9 430.2 857.8 430.4 861.6 431.4 863.4 432.2 857.6 433.1 861.6 434.0 867.7 434.1 867.5 434.9 867.3 435.9 868.5 436.8 864.4 437.6 866.1 437.8 865.3 438.6 865.8 439.4 861.8 440.4 859.7 441.2 853.7 441.5 854.2 442.1 852.8 443.1 851.6 443.9 848.1 444.9 850.2 445.8 848.0 446.5 847.0 446.6 844.5 447.6 848.6 448.4 853.1 449.4 849.6 450.2 849.6 451.1 851.7 451.5 849.5 452.1 853.0 452.9 848.3 453.9 850.3 454.8 849.7 455.6 848.6 456.5 850.5 456.6 853.0 457.4 848.2 458.4 848.5 459.2 849.0 460.1 850.9 461.1 852.6 461.5 849.0 461.9 847.7 462.9 845.2 463.8 848.4 464.6 848.4 465.6 841.3 466.4 848.0 466.5 844.4 467.4 843.8 468.2 840.6 469.1 839.7 470.1 842.4 470.2 842.6 470.9 841.8 471.9 846.7 472.8 843.2 473.6 839.5 474.0 842.9 474.6 844.6 475.4 842.5 476.4 852.6 477.2 847.9 478.1 853.2 479.0 854.3 479.1 855.5 479.9 851.1 480.9 848.9 481.8 849.6 482.6 853.3 483.6 844.7 484.0 846.9 484.4 845.7 485.4 848.3 486.2 843.3 487.1 852.4 488.1 848.8 488.9 851.4 489.0 850.6 489.9 849.9 490.8 846.3 491.6 847.6 492.6 848.6 493.4 844.7 494.0 841.0 494.4 840.6 495.2 841.1 496.1 840.9 497.1 835.1 497.9 837.8 498.9 834.9 499.0 832.7 499.8 831.7 500.6 832.3 501.6 839.1 502.4 840.4 503.4 841.2 504.0 840.8 504.2 841.8 505.1 839.4 506.1 847.2 506.9 845.6 507.9 843.8 508.8 847.0 509.0 843.8 509.6 843.8 510.6 843.8 511.4 843.3 512.4 840.8 513.2 846.4 514.0 849.2 514.1 849.9 515.0 853.9 516.0 848.9 516.9 852.7 517.8 852.6 518.6 850.5 519.0 853.8 519.5 853.2 520.5 859.3 521.4 854.4 522.2 858.8 523.1 854.6 524.0 856.3 524.0 852.0 525.0 856.1 525.9 856.5 526.8 858.9 527.6 863.0 528.5 861.7 529.0 860.9 529.5 859.7 530.4 860.7 531.2 860.1 532.1 860.4 533.0 859.3 534.0 857.2 534.0 857.8 534.9 853.6 535.8 847.3 536.6 850.2 537.5 843.3 537.8 844.3 538.5 848.3 539.4 845.8 540.2 848.0 541.1 848.5 541.5 853.0 542.0 847.3 543.0 850.7 543.9 854.4 544.8 852.0 545.6 862.6 546.5 859.0 546.5 861.2 547.5 863.0 548.4 857.7 549.2 857.3 550.1 857.2 551.0 858.3 552.0 859.6 552.9 855.5 553.8 854.7 554.0 856.4 554.6 855.9 555.5 854.9 556.5 860.7 557.4 858.2 558.2 855.2 559.0 855.2 559.1 854.2 560.0 857.0 561.0 855.9 561.9 854.2 562.8 853.3 563.6 857.7 564.0 856.0 564.5 855.5 565.5 855.3 566.4 855.0 567.2 856.3 568.1 859.5 569.0 859.9 569.0 856.9 570.0 860.3 570.9 862.6 571.8 864.8 572.6 871.9 573.5 866.8 574.0 870.1 574.5 870.6 575.4 865.2 576.2 864.6 577.1 861.1 578.0 859.0 579.0 853.3 579.0 852.4 579.9 850.5 580.8 855.2 581.6 850.9 582.5 849.6 583.5 845.6 584.0 848.0 584.4 848.9 585.2 844.5 586.1 849.6 587.0 853.2 588.0 852.0 588.9 850.3 589.0 849.9 589.8 850.0 590.6 845.8 591.5 848.6 592.5 853.6 593.4 855.2 594.0 852.8 594.2 853.2 595.1 854.8 596.0 854.7 597.0 855.5 597.9 855.5 598.8 858.0 599.0 853.9 599.6 858.0 600.5 852.8 601.5 846.1 602.4 848.9 603.2 848.6 604.0 844.2 604.1 846.2 605.0 837.2 606.0 842.0 606.9 842.8 607.8 839.2 608.6 839.9 609.0 837.6 609.5 839.0 610.5 843.3 611.4 834.3 612.2 835.1 613.1 834.1 614.0 834.6 614.0 832.0 615.0 835.9 615.9 842.4 616.8 841.6 617.6 841.6 617.8 843.7 618.5 847.7 619.5 842.1 620.4 837.1 621.2 842.8 621.5 843.6 622.1 841.4 623.0 848.2 624.0 851.8 624.9 853.3 625.8 855.8 626.5 856.1 626.6 856.9 627.5 853.0 628.5 858.4 629.4 856.5 630.2 860.8 631.1 863.0 631.5 861.0 632.0 856.7 633.0 861.4 633.9 860.4 634.8 851.9 635.6 859.9 636.5 857.2 636.5 859.3 637.5 857.2 638.4 854.1 639.2 847.0 640.1 847.6 641.0 847.0 641.5 850.0 642.0 850.5 642.9 850.0 643.8 849.2 644.6 851.4 645.5 849.4 646.5 847.9 646.5 850.8 647.4 849.8 648.2 848.6 649.1 841.5 650.0 843.4 650.2 845.6 651.0 840.3 651.9 843.1 652.8 844.4 653.6 837.0 654.0 841.8 654.5 845.1 655.5 839.7 656.4 838.6 657.2 841.9 657.8 840.2 658.1 844.9 659.0 842.6 660.0 842.9 660.9 846.8 661.5 847.8 661.8 848.4 662.6 848.9 663.5 854.2 664.5 851.6 665.2 856.6 665.4 861.2 666.2 861.8 667.1 861.6 668.0 866.5 669.0 870.5 669.0 867.6 669.9 869.0 670.8 864.4 671.6 866.4 672.5 861.4 673.5 862.8 674.0 865.2 674.4 860.7 675.2 860.1 676.1 867.3 677.0 869.9 678.0 866.0 678.9 870.3 679.0 870.7 679.8 871.6 680.6 871.1 681.5 869.3 682.5 864.7 683.4 859.5 684.0 863.1 684.2 861.8 685.1 863.5 686.0 863.5 687.0 870.0 687.9 858.1 688.8 862.0 689.0 862.6 689.6 865.0 690.5 860.2 691.5 860.3 692.4 857.4 693.2 857.5 694.0 860.8 694.1 865.5 695.0 856.9 696.0 858.7 696.9 854.7 697.8 850.7 698.6 849.8 699.0 849.6 699.5 845.1 700.5 844.9 701.4 845.4 702.2 846.7 703.1 843.6 704.0 840.0 704.0 838.9 705.0 836.9 705.9 838.6 706.8 836.4 707.6 838.9 708.5 842.4 709.0 837.9 709.5 839.6 710.4 840.2 711.2 841.8 712.1 834.5 713.0 841.8 714.0 843.0 714.0 842.4 714.9 841.5 715.8 845.6 716.6 843.6 717.5 843.5 718.5 848.2 719.0 843.7 719.4 848.4 720.2 847.4 721.1 846.1 722.0 846.0 723.0 851.7 723.9 849.1 724.0 848.1 724.8 846.4 725.6 851.7 726.5 852.1 727.5 849.7 728.4 855.6 729.0 853.5 729.2 859.3 730.1 859.6 731.0 860.6 732.0 860.1 732.9 860.0 733.8 864.9 734.0 864.2 734.6 867.4 735.5 862.9 736.5 868.3 737.4 866.7 738.2 866.0 739.0 865.8 739.1 868.6 740.0 865.6 741.0 865.4 741.9 865.5 742.8 869.2 743.6 865.2 744.0 866.4 744.5 867.1 745.5 867.9 746.4 870.5 747.2 867.0 748.1 870.5 749.0 868.5 749.0 868.0 750.0 866.7 750.9 862.5 751.8 860.9 752.6 855.2 753.5 848.7 754.0 850.3 754.5 852.1 755.4 851.9 756.2 848.2 757.1 849.6 758.0 845.9 759.0 848.1 759.0 847.9 759.9 847.5 760.8 847.8 761.6 848.1 762.5 838.3 763.5 839.0 764.0 843.7 764.4 836.9 765.2 834.9 766.1 840.7 767.0 839.4 768.0 835.0 768.9 837.7 769.0 835.5 769.8 836.9 770.6 830.1 771.5 825.9 772.5 830.4 772.8 825.8 773.4 826.8 774.2 828.6 775.1 829.7 776.0 831.8 776.5 832.8 777.0 829.2 777.9 831.9 778.8 841.4 779.6 834.5 780.5 839.1 781.5 845.9 781.5 845.7 782.4 846.5 783.2 853.5 784.1 854.9 785.0 858.6 786.0 852.0 786.5 857.8 786.9 860.8 787.8 862.8 788.6 866.5 789.5 868.0 790.2 866.5 790.5 862.9 791.4 865.6 792.2 868.9 793.1 864.1 794.0 861.8 794.0 867.8 795.0 861.4 795.9 862.1 796.8 864.6 797.6 859.4 798.5 867.5 799.0 860.8 799.5 862.4 800.4 855.8 801.2 858.1 802.1 863.0 803.0 859.0 804.0 857.3 804.0 857.7 804.9 858.7 805.8 857.6 806.6 854.6 807.5 858.0 808.5 857.7 809.0 859.5 809.4 861.6 810.2 861.2 811.1 861.3 812.0 863.2 813.0 863.0 813.9 865.2 814.0 865.1 814.8 864.8 815.6 864.8 816.5 863.8 817.5 862.1 818.4 864.3 819.0 862.1 819.2 861.8 820.1 853.5 821.0 855.4 822.0 859.2 822.9 852.5 823.8 848.0 824.0 850.1 824.6 848.9 825.5 848.5 826.5 849.9 827.4 846.8 828.2 844.9 829.0 847.7 829.1 850.4 830.0 849.2 831.0 852.0 831.9 849.7 832.8 845.4 833.6 841.7 834.0 845.1 834.5 843.1 835.5 841.2 836.4 843.6 837.2 838.9 838.1 835.4 839.0 835.7 839.0 837.4 840.0 830.5 840.9 833.3 841.8 837.0 842.6 836.0 843.5 830.2 844.0 830.5 844.5 830.5 845.4 839.1 846.2 833.3 847.1 839.1 848.0 837.4 849.0 841.8 849.0 842.9 849.9 843.2 850.8 849.0 851.6 845.4 852.5 843.4 853.5 843.1 854.0 844.6 854.4 845.3 855.2 849.0 856.1 850.5 857.0 848.7 858.0 851.6 858.9 856.6 859.0 855.0 859.8 857.1 860.6 852.9 861.5 854.8 862.5 858.2 863.4 853.9 864.0 856.8 864.2 856.8 865.1 860.9 866.0 861.8 867.0 857.4 867.9 857.6 868.8 857.5 869.0 855.5 869.6 852.0 870.5 852.1 871.5 856.6 872.4 856.8 873.2 855.7 874.0 856.2 874.1 856.7 875.0 856.5 876.0 852.1 876.9 857.0 877.8 852.0 878.6 854.4 879.0 854.8 879.5 852.0 880.5 852.0 881.4 854.3 882.2 857.2 883.1 858.6 884.0 860.4 884.0 856.8 885.0 856.6 885.9 853.6 886.8 858.9 887.6 857.8 888.5 857.8 889.0 855.5 889.5 855.8 890.4 852.9 891.2 856.5 892.1 852.0 893.0 850.8 894.0 856.5 894.0 852.6 894.9 852.9 895.8 856.0 896.6 852.3 897.5 849.5 898.5 852.8 899.0 854.9 899.4 853.1 900.2 856.6 901.1 856.3 902.0 858.2 903.0 859.5 903.9 858.2 904.0 859.5 904.8 862.7 905.6 859.2 906.5 858.0 907.5 858.1 908.4 857.5 909.0 855.7 909.2 857.0 910.1 855.1 911.0 862.1 912.0 853.7 912.9 849.0 913.8 851.3 914.0 850.5 914.6 849.9 915.5 848.1 916.5 846.7 917.4 843.8 917.8 844.9 918.2 843.4 919.1 839.7 920.0 837.0 921.0 840.3 921.5 839.1 921.9 838.8 922.8 845.4 923.6 848.7 924.5 843.7 925.2 849.3 925.5 849.9 926.4 852.6 927.2 858.2 928.1 860.7 929.0 866.6 929.0 863.7 930.0 864.3 930.9 867.4 931.8 864.8 932.6 867.2 933.5 868.2 934.0 867.9 934.5 870.3 935.4 867.1 936.2 867.5 937.1 866.9 938.0 867.5 939.0 866.0 939.0 864.7 939.9 863.0 940.8 870.3 941.6 867.5 942.5 873.0 943.5 870.2 944.0 869.5 944.4 867.8 945.2 868.5 946.1 859.5 947.0 858.3 948.0 862.0 948.9 856.0 949.0 855.7 949.8 852.4 950.6 853.5 951.5 851.6 952.5 847.1 953.4 847.0 954.0 849.5 954.2 847.0 955.1 852.1 956.0 848.5 957.0 851.4 957.9 854.2 958.8 851.8 959.0 852.6 959.6 854.7 960.5 852.7 961.5 858.5 962.4 863.0 963.2 866.6 964.0 868.5 964.1 867.7 965.0 867.1 966.0 869.0 966.9 862.6 967.8 860.6 968.6 856.0 969.0 859.0 969.5 859.2 970.5 853.7 971.4 862.5 972.2 855.5 973.1 852.3 974.0 853.6 974.0 852.3 975.0 854.7 975.9 856.9 976.8 848.4 977.6 847.6 978.5 848.7 979.0 846.0 979.5 845.7 980.4 845.4 981.2 848.4 982.1 845.6 982.8 845.1 983.0 846.8 984.0 853.3 984.9 855.4 985.8 855.4 986.5 860.1 986.6 863.8 987.5 864.6 988.5 861.6 989.4 862.7 990.2 866.2 991.1 867.8 991.5 865.4 992.0 866.1 993.0 861.9 993.9 866.9 994.8 869.3 995.6 865.2 996.5 868.5 996.5 866.1 997.5 867.6 998.4 868.8 999.2 868.0 1000.1 870.0 1001.0 871.1 1001.5 872.4 1002.0 870.9 1002.9 875.4 1003.8 878.0 1004.6 874.5 1005.5 876.6 1006.5 882.3 1006.5 877.7 1007.4 881.0 1008.2 881.8 1009.1 879.0 1010.0 884.3 1010.2 887.7 1011.0 890.5 1011.9 880.8 1012.8 881.4 1013.6 879.4 1014.0 876.8 1014.5 876.5 1015.5 874.9 1016.4 872.8 1017.2 873.3 1017.8 871.1 1018.1 873.3 1019.0 871.3 1020.0 870.2 1020.9 864.4 1021.5 867.1 1021.8 868.5 1022.6 864.7 1023.5 871.5 1024.5 865.4 1025.2 861.2 1025.3 858.9 1026.2 864.6 1027.2 859.4 1028.0 862.4 1029.0 862.7 1029.0 861.8 1029.8 859.9 1030.8 861.1 1031.7 863.4 1032.5 864.2 1032.8 864.8 1033.5 863.1 1034.3 866.0 1035.2 865.5 1036.2 859.3 1036.5 859.2 1037.0 859.0 1038.0 862.1 1038.8 853.8 1039.8 853.4 1040.7 853.0 1041.5 853.0 1041.5 852.8 1042.5 851.4 1043.3 847.8 1044.2 847.3 1045.2 848.5 1046.0 846.2 1046.5 845.0 1047.0 843.9 1047.8 844.6 1048.8 850.0 1049.7 843.0 1050.2 840.4 1050.5 837.5 1051.5 844.8 1052.3 848.5 1053.2 855.4 1054.0 853.5 1054.2 847.9 1055.0 852.5 1056.0 851.1 1056.8 843.2 1057.8 839.0 1058.7 830.4 1059.5 824.1 1060.2 824.1 1060.5 824.6 1061.3 822.6 1062.2 824.3 1063.2 829.7 1064.0 826.0 1064.0 823.3 1065.0 826.8 1065.8 826.8 1066.8 828.3 1067.7 828.1 1067.8 830.4 1068.5 830.3 1069.5 833.3 1070.3 832.7 1071.2 829.4 1071.5 827.6 1072.2 829.9 1073.0 828.2 1074.0 835.1 1074.8 834.5 1075.2 832.0 1075.8 831.2 1076.7 830.9 1077.5 830.1 1078.5 837.8 1079.0 838.6 1079.3 842.0 1080.2 841.1 1081.2 843.5 1082.0 841.8 1082.8 846.3 1083.0 844.9 1083.8 850.9 1084.8 848.1 1085.7 848.7 1086.5 849.8 1086.5 849.3 1087.5 845.3 1088.3 847.7 1089.2 847.2 1090.2 851.8 1091.0 852.4 1091.5 850.7 1092.0 848.3 1092.8 850.4 1093.8 844.3 1094.7 844.1 1095.5 847.8 1096.5 847.4 1096.5 845.1 1097.3 844.4 1098.2 848.6 1099.2 847.3 1100.0 849.9 1100.2 849.5 1101.0 851.2 1101.8 858.1 1102.8 855.9 1103.7 856.8 1104.0 858.6 1104.5 851.7 1105.5 857.1 1106.3 857.2 1107.2 858.0 1108.2 852.4 1109.0 860.9 1109.0 861.6 1110.0 861.0 1110.8 858.8 1111.8 854.5 1112.7 859.5 1113.5 852.0 1114.0 857.2 1114.5 855.8 1115.3 855.6 1116.2 853.4 1117.2 853.1 1117.8 848.5 1118.0 849.4 1119.0 853.8 1119.8 852.9 1120.8 859.9 1121.5 860.2 1121.7 859.0 1122.5 857.8 1123.5 863.2 1124.3 862.7 1125.2 866.6 1126.2 869.5 1126.5 867.4 1127.0 861.9 1128.0 864.9 1128.8 865.0 1129.8 860.9 1130.7 860.9 1131.5 859.7 1131.5 859.8 1132.5 852.0 1133.3 858.7 1134.2 852.0 1135.2 852.0 1135.2 854.4 1136.0 852.0 1137.0 853.5 1137.8 856.3 1138.8 862.4 1139.0 858.7 1139.7 861.8 1140.5 868.1 1141.5 868.6 1142.3 870.9 1143.2 872.5 1144.0 874.3 1144.2 873.7 1145.0 871.4 1146.0 875.5 1146.8 872.7 1147.8 867.6 1148.7 870.9 1149.0 871.1 1149.5 869.5 1150.5 865.5 1151.3 865.6 1152.2 866.4 1153.2 863.9 1154.0 860.2 1154.0 858.5 1155.0 855.1 1155.8 857.2 1156.8 854.6 1157.7 856.4 1158.5 860.2 1159.0 856.3 1159.5 859.3 1160.3 859.7 1161.2 864.4 1162.2 863.6 1163.0 864.1 1164.0 863.7 1164.0 864.8 1164.8 864.2 1165.8 860.4 1166.7 863.0 1167.5 858.6 1168.5 857.1 1169.0 855.3 1169.3 853.2 1170.2 850.3 1171.2 853.3 1172.0 853.3 1173.0 849.5 1173.8 854.6 1174.0 852.8 1174.8 854.6 1175.7 860.3 1176.5 859.0 1177.5 858.6 1178.3 862.4 1179.0 861.1 1179.2 857.1 1180.2 858.5 1181.0 861.8 1182.0 856.7 1182.8 855.5 1183.8 850.6 1184.0 852.4 1184.7 851.7 1185.5 855.0 1186.5 851.1 1187.3 852.4 1188.2 854.7 1189.0 854.8 1189.2 854.5 1190.0 855.9 1191.0 860.1 1191.8 862.4 1192.8 859.9 1193.7 859.5 1194.0 859.9 1194.5 862.4 1195.5 859.6 1196.3 855.7 1197.2 854.0 1198.2 854.3 1199.0 850.4 1199.0 846.1 1200.0 849.6 1200.8 844.2 1201.8 850.9 1202.7 850.4 1203.5 849.5 1204.0 845.0 1204.5 843.8 1205.3 846.1 1206.2 848.2 1207.2 844.2 1208.0 845.9 1209.0 843.2 1209.0 842.4 1209.8 840.6 1210.8 837.2 1211.7 836.2 1212.5 841.6 1213.5 841.7 1214.0 839.1 1214.3 839.6 1215.2 835.0 1216.2 827.4 1217.0 823.7 1217.8 819.4 1218.0 825.2 1218.8 820.7 1219.8 821.9 1220.7 832.0 1221.5 824.9 1221.5 821.7 1222.5 829.8 1223.3 828.6 1224.2 831.1 1225.2 833.9 1225.2 834.7 1226.0 839.8 1227.0 841.0 1227.8 840.5 1228.8 840.9 1229.0 842.8 1229.7 839.1 1230.5 844.5 1231.5 842.1 1232.3 845.7 1233.2 843.0 1234.0 844.4 1234.2 844.5 1235.0 846.4 1236.0 847.2 1236.8 851.2 1237.8 850.0 1238.7 851.0 1239.0 850.2 1239.5 852.9 1240.5 850.9 1241.3 853.2 1242.2 852.8 1242.8 857.8 1243.2 860.5 1244.0 851.9 1245.0 846.6 1245.8 842.5 1246.5 839.2 1246.8 840.6 1247.7 839.0 1248.5 844.4 1249.5 847.5 1250.2 845.3 1250.3 840.1 1251.2 845.6 1252.2 845.5 1253.0 845.5 1254.0 845.8 1254.0 847.4 1254.8 846.7 1255.8 850.3 1256.7 851.4 1257.5 848.4 1258.5 850.0 1259.0 852.6 1259.3 856.5 1260.2 856.9 1261.2 853.1 1262.0 858.0 1263.0 856.5 1263.8 852.9 1264.0 855.5 1264.8 857.8 1265.7 853.9 1266.5 854.3 1267.5 846.6 1268.3 849.2 1269.0 851.0 1269.2 850.4 1270.2 852.3 1271.0 844.6 1272.0 848.6 1272.8 843.3 1273.8 841.8 1274.0 845.0 1274.7 843.1 1275.5 842.9 1276.5 838.1 1277.3 841.9 1278.2 840.0 1279.0 839.6 1279.2 840.5 1280.0 840.5 1281.0 838.9 1281.8 843.5 1282.8 841.4 1283.7 847.1 1284.0 841.9 1284.5 840.4 1285.5 844.5 1286.3 842.8 1287.2 842.1 1288.2 846.0 1289.0 844.7 1289.0 842.4 1290.0 841.2 1290.8 835.6 1291.8 831.5 1292.7 833.7 1293.5 831.5 1294.0 829.2 1294.5 830.3 1295.3 833.6 1296.2 835.1 1297.2 838.3 1297.8 842.3 1298.0 843.7 1299.0 852.2 1299.8 848.3 1300.8 856.4 1301.5 855.2 1301.7 854.2 1302.5 854.7 1303.5 852.2 1304.3 857.0 1305.2 861.2 1306.2 859.0 1306.5 860.3 1307.0 861.4 1308.0 864.8 1308.8 864.2 1309.8 868.1 1310.7 869.1 1311.5 865.6 1311.5 861.7 1312.5 864.2 1313.3 867.9 1314.2 870.8 1315.2 872.3 1316.0 872.9 1316.5 869.5 1317.0 864.9 1317.8 872.7 1318.8 866.0 1319.7 874.4 1320.2 875.1 1320.5 874.8 1321.5 870.6 1322.3 866.6 1323.2 861.5 1324.0 864.7 1324.2 861.7 1325.0 861.5 1326.0 856.1 1326.8 858.6 1327.8 855.6 1328.7 853.3 1329.5 841.5 1330.5 847.3 1331.3 845.0 1331.5 842.3 1332.2 841.9 1333.2 846.2 1334.0 849.1 1335.0 849.5 1335.2 849.7 1335.8 849.8 1336.8 846.7 1337.7 845.4 1338.5 848.6 1339.0 845.6 1339.5 845.0 1340.3 848.5 1341.2 851.6 1342.2 853.3 1342.8 854.3 1343.0 852.1 1344.0 855.6 1344.8 855.5 1345.8 855.8 1346.5 857.3 1346.7 855.5 1347.5 854.5 1348.5 862.3 1349.3 862.3 1350.2 859.4 1351.2 857.0 1351.5 855.1 1352.0 858.3 1353.0 856.9 1353.8 856.5 1354.8 859.1 1355.7 859.4 1356.5 860.0 1356.5 864.9 1357.5 860.6 1358.3 859.6 1359.2 863.2 1360.2 863.9 1361.0 864.1 1361.5 863.9 1362.0 868.4 1362.8 872.8 1363.8 876.1 1364.7 870.9 1365.2 877.3 1365.5 874.1 1366.5 879.1 1367.3 876.4 1368.2 868.6 1369.0 868.5 1369.2 867.3 1370.0 869.8 1371.0 868.7 1371.8 874.9 1372.8 870.1 1373.7 874.0 1374.0 875.4 1374.5 874.0 1375.5 876.9 1376.3 875.9 1377.2 870.6 1378.2 868.1 1379.0 871.6 1379.0 869.5 1380.0 869.5 1380.8 869.5 1381.8 874.8 1382.7 874.3 1383.5 876.1 1384.0 877.7 1384.5 883.3 1385.3 881.8 1386.2 883.5 1387.2 881.2 1388.0 882.4 1389.0 888.0 1389.0 887.1 1389.8 886.9 1390.8 879.0 1391.7 883.9 1392.5 876.4 1392.8 874.5 1393.5 871.7 1394.3 865.7 1395.2 862.8 1396.2 858.8 1396.5 860.5 1397.0 862.2 1398.0 858.7 1398.8 851.2 1399.8 845.9 1400.2 850.0 1400.7 847.0 1401.5 846.4 1402.5 848.2 1403.3 844.7 1404.0 844.3 1404.2 845.1 1405.2 844.3 1406.0 848.2 1407.0 842.2 1407.8 844.5 1408.8 846.8 1409.0 846.5 1409.7 845.8 1410.5 838.1 1411.5 836.9 1412.3 837.5 1413.2 837.1 1414.0 840.9 1414.2 842.1 1415.0 839.5 1416.0 838.4 1416.8 834.6 1417.8 836.0 1418.7 839.2 1419.0 837.7 1419.5 834.9 1420.5 840.6 1421.3 835.6 1422.2 835.9 1423.2 840.7 1424.0 835.1 1424.0 838.9 1425.0 835.6 1425.8 834.2 1426.8 834.3 1427.7 830.0 1428.5 827.1 1429.0 825.4 1429.5 831.4 1430.3 833.1 1431.2 835.9 1432.2 832.3 1433.0 832.9 1434.0 837.3 1434.0 837.3 1434.8 839.9 1435.8 842.2 1436.7 847.1 1437.5 845.7 1438.5 838.6 1439.0 839.1 1439.3 840.5 1440.2 840.4 1441.2 843.9 1442.0 846.1 1443.0 849.4 1443.8 849.3 1444.0 849.4 1444.8 849.6 1445.7 851.4 1446.5 855.0 1447.5 847.5 1448.3 855.3 1449.0 855.9 1449.2 851.9 1450.2 854.1 1451.0 852.7 1452.0 851.4 1452.8 855.9 1453.8 854.2 1454.0 849.7 1454.7 853.2 1455.5 844.5 1456.5 845.0 1457.3 847.4 1458.2 845.9 1459.0 838.9 1459.2 839.8 1460.0 839.9 1461.0 843.3 1461.8 847.4 1462.8 843.9 1463.7 847.4 1464.0 844.9 1464.5 845.3 1465.5 849.5 1466.3 846.4 1467.2 844.4 1468.2 844.7 1469.0 849.8 1469.0 852.2 1470.0 854.4 1470.8 851.5 1471.8 853.0 1472.7 851.7 1473.5 854.1 1474.0 854.7 1474.5 852.2 1475.3 858.6 1476.2 857.5 1477.2 855.2 1478.0 865.3 1479.0 864.2 1479.0 857.2 1479.8 859.6 1480.8 860.6 1481.7 858.0 1482.5 862.1 1483.5 862.8 1484.0 865.9 1484.3 862.8 1485.2 867.7 1486.2 864.9 1487.0 859.8 1488.0 858.4 1488.8 859.3 1489.0 856.6 1489.8 858.9 1490.7 859.2 1491.5 864.2 1492.5 858.4 1493.3 860.6 1494.0 857.9 1494.2 856.6 1495.2 858.6 1496.0 854.4 1497.0 853.3 1497.8 855.7 1498.8 857.0 1499.0 855.7 1499.7 852.9 1500.5 854.3 1501.5 850.0 1502.3 854.6 1503.2 850.6 1504.0 851.0 1504.2 850.9 1505.0 852.1 1506.0 859.4 1506.8 858.2 1507.8 855.9 1508.7 861.2 1509.0 860.9 1509.5 864.6 1510.5 858.1 1511.3 858.4 1512.2 852.0 1513.2 856.8 1514.0 853.2 1514.0 855.0 1515.0 849.2 1515.8 854.7 1516.8 854.7 1517.7 855.2 1518.5 849.6 1519.0 855.4 1519.5 855.3 1520.3 858.0 1521.2 855.5 1522.2 850.8 1523.0 851.9 1524.0 850.1 1524.0 851.9 1524.8 854.5 1525.8 854.9 1526.7 850.4 1527.5 852.0 1528.5 843.2 1529.0 844.5 1529.3 845.4 1530.2 843.3 1531.2 842.6 1532.0 843.9 1533.0 839.3 1533.8 837.0 1534.0 839.2 1534.8 839.0 1535.7 843.8 1536.5 842.3 1537.5 844.5 1538.3 844.7 1539.0 841.9 1539.2 837.6 1540.2 837.1 1541.0 843.1 1542.0 844.9 1542.8 844.6 1543.8 847.8 1544.0 843.7 1544.7 847.4 1545.5 848.0 1546.5 843.2 1547.3 848.0 1548.2 837.5 1549.0 842.8 1549.2 839.9 1550.0 842.7 1551.0 841.2 1551.8 836.4 1552.8 842.5 1553.7 841.0 1554.0 838.5 1554.5 841.5 1555.5 843.2 1556.3 841.6 1557.2 845.3 1558.2 840.7 1559.0 844.0 1559.0 850.8 1560.0 851.3 1560.8 849.0 1561.8 848.2 1562.7 847.7 1563.5 847.0 1564.0 849.9 1564.5 847.7 1565.3 846.4 1566.2 856.1 1567.2 859.4 1568.0 862.0 1569.0 861.3 1569.8 866.9 1570.2 864.9 1570.8 862.9 1571.7 858.3 1572.5 862.3 1573.5 859.6 1574.0 860.5 1574.3 862.7 1575.2 855.9 1576.2 855.6 1577.0 855.5 1578.0 850.7 1578.8 860.5 1579.0 850.2 1579.8 847.8 1580.7 848.0 1581.5 848.8 1582.5 845.3 1583.3 846.7 1584.0 845.4 1584.2 848.1 1585.2 842.7 1586.0 849.2 1587.0 838.6 1587.8 839.1 1588.8 839.1 1589.0 839.3 1589.7 845.3 1590.5 848.5 1591.5 850.5 1592.3 844.1 1593.2 842.9 1594.0 844.9 1594.2 846.4 1595.0 845.2 1596.0 847.4 1596.8 850.4 1597.8 852.5 1598.7 852.7 1599.0 850.0 1599.5 855.0 1600.5 844.9 1601.3 849.9 1602.2 856.6 1603.2 859.9 1604.0 860.0 1604.0 859.8 1605.0 864.6 1605.8 863.7 1606.8 862.8 1607.7 871.1 1608.5 868.7 1609.0 871.6 1609.5 867.5 1610.3 863.5 1611.2 863.6 1612.2 864.0 1613.0 861.8 1614.0 860.7 1614.0 859.7 1614.8 854.9 1615.8 854.5 1616.7 854.3 1617.5 850.7 1618.5 854.1 1619.0 850.4 1619.3 846.6 1620.2 852.2 1621.2 847.9 1622.0 848.2 1623.0 840.8 1623.8 839.8 1624.0 843.7 1624.8 845.4 1625.7 843.8 1626.5 842.6 1627.5 842.7 1628.3 836.0 1629.0 838.4 1629.2 839.6 1630.2 839.5 1631.0 836.3 1632.0 835.9 1632.8 829.6 1633.8 833.9 1634.0 834.9 1634.7 833.3 1635.5 827.0 1636.5 831.9 1637.3 831.3 1638.2 831.0 1639.0 829.9 1639.2 829.6 1640.0 829.9 1641.0 831.5 1641.8 831.7 1642.8 834.1 1643.7 835.5 1644.0 836.6 1644.5 837.0 1645.5 831.5 1646.3 834.3 1647.2 840.4 1648.2 838.2 1649.0 840.3 1649.0 838.2 1650.0 846.2 1650.8 845.3 1651.8 840.4 1652.7 839.7 1653.5 843.2 1654.0 844.7 1654.5 841.4 1655.3 842.3 1656.2 847.5 1657.2 853.0 1658.0 850.3 1659.0 852.6 1659.0 850.2 1659.8 845.7 1660.8 846.6 1661.7 847.8 1662.5 844.7 1663.5 845.9 1664.0 842.6 1664.3 839.5 1665.2 840.7 1666.2 843.3 1667.0 848.3 1668.0 846.2 1668.8 851.2 1669.0 845.2 1669.8 849.3 1670.7 843.6 1671.5 847.6 1672.5 844.0 1673.3 848.8 1674.0 847.9 1674.2 848.6 1675.2 848.5 1676.0 849.6 1677.0 847.8 1677.8 848.0 1678.8 845.4 1679.0 848.2 1679.7 844.5 1680.5 845.2 1681.5 846.3 1682.3 848.5 1683.2 853.4 1684.0 854.4 1684.2 857.7 1685.0 859.5 1686.0 856.5 1686.8 856.6 1687.8 863.5 1688.7 862.4 1689.0 861.9 1689.5 866.6 1690.5 868.2 1691.3 870.1 1692.2 874.7 1693.2 873.7 1694.0 874.1 1695.0 875.0 1695.2 874.9 1695.8 874.1 1696.8 872.2 1697.7 869.5 1698.5 872.2 1699.0 869.3 1699.5 870.8 1700.3 863.7 1701.2 860.6 1702.2 863.1 1703.0 859.5 1704.0 855.8 1704.0 859.9 1704.8 859.7 1705.8 860.1 1706.7 857.8 1707.5 857.3 1708.5 853.2 1709.0 855.7 1709.3 856.9 1710.2 858.5 1711.2 848.5 1712.0 851.0 1713.0 849.7 1713.8 850.3 1714.0 848.4 1714.8 851.2 1715.7 850.9 1716.5 846.0 1717.5 847.9 1718.3 847.6 1719.0 846.2 1719.2 843.1 1720.2 847.5 1721.0 842.9 1722.0 840.2 1722.8 836.2 1723.8 840.9 1724.0 840.0 1724.7 840.2 1725.5 836.7 1726.5 837.0 1727.3 833.3 1728.2 837.6 1729.0 836.4 1729.2 834.7 1730.0 833.7 1731.0 834.9 1731.8 838.9 1732.8 839.8 1733.7 842.7 1734.0 839.5 1734.5 842.4 1735.5 840.9 1736.3 844.9 1737.2 848.0 1738.2 852.5 1739.0 850.9 1739.0 850.7 1740.0 850.2 1740.8 854.8 1741.8 855.4 1742.7 851.8 1743.5 851.9 1744.0 853.6 1744.5 852.9 1745.3 857.3 1746.2 857.1 1747.2 859.5 1748.0 860.6 1749.0 863.0 1749.0 861.0 1749.8 862.5 1750.8 857.3 1751.7 853.9 1752.5 850.8 1753.5 849.2 1754.0 849.2 1754.3 847.3 1755.2 853.4 1756.2 844.6 1757.0 845.3 1758.0 841.6 1758.8 843.3 1759.0 843.0 1759.8 836.5 1760.7 841.0 1761.5 841.3 1762.5 840.9 1763.3 837.6 1764.0 838.7 1764.2 837.8 1765.2 838.4 1766.0 836.8 1767.0 835.3 1767.8 837.2 1768.8 837.4 1769.0 834.1 1769.7 836.6 1770.5 836.7 1771.5 842.0 1772.3 841.1 1773.2 845.6 1774.0 845.4 1774.2 838.6 1775.0 844.7 1776.0 847.8 1776.8 843.2 1777.8 847.0 1778.7 844.2 1779.0 848.3 1779.5 849.8 1780.5 850.5 1781.3 848.9 1782.2 848.4 1783.2 841.9 1784.0 843.8 1784.0 845.1 1785.0 843.7 1785.8 842.9 1786.8 845.0 1787.7 841.0 1788.5 842.0 1789.0 839.7 1789.5 838.3 1790.3 833.2 1791.2 839.7 1792.2 836.9 1793.0 840.9 1794.0 839.1 1794.0 836.5 1794.8 841.8 1795.8 845.2 1796.7 844.8 1797.5 852.2 1797.8 851.4 1798.5 853.6 1799.3 850.0 1800.2 847.5 1801.2 847.0 1801.5 844.4 1802.0 851.3 1803.0 845.5 1803.8 846.9 1804.8 856.9 1805.2 853.9 1805.7 855.0 1806.5 849.0 1807.5 845.1 1808.3 839.5 1809.0 841.5 1809.2 843.2 1810.2 839.5 1811.0 844.0 1812.0 848.6 1812.8 857.2 1813.8 853.9 1814.0 854.5 1814.7 857.1 1815.5 860.3 1816.5 859.9 1817.3 860.8 1818.2 862.8 1819.0 860.3 1819.2 862.8 1820.0 860.3 1821.0 858.4 1821.8 862.0 1822.8 865.8 1823.7 866.9 1824.0 865.9 1824.5 868.2 1825.5 866.7 1826.3 872.2 1826.5 875.6 1827.2 875.0 1828.2 870.2 1829.0 871.8 1830.0 868.1 1830.8 866.0 1831.5 863.6 1831.8 863.5 1832.7 863.6 1833.5 863.3 1834.5 865.5 1835.3 864.1 1836.2 867.5 1836.5 868.5 1837.2 873.7 1838.0 874.0 1839.0 873.1 1839.8 872.2 1840.2 873.7 1840.8 874.0 1841.7 872.0 1842.5 864.4 1843.5 863.8 1844.0 867.9 1844.3 866.9 1845.2 861.9 1846.2 867.4 1847.0 861.7 1848.0 853.2 1848.8 853.7 1849.0 854.7 1849.8 853.5 1850.7 855.1 1851.5 849.4 1852.5 842.0 1853.3 845.9 1854.0 844.8 1854.2 842.1 1855.2 846.4 1856.0 842.0 1857.0 844.8 1857.8 847.4 1858.8 843.7 1859.0 846.1 1859.7 850.6 1860.5 850.2 1861.5 854.6 1862.3 859.1 1863.2 857.4 1864.0 859.6 1864.2 864.3 1865.0 865.2 1866.0 860.0 1866.8 862.5 1867.8 862.6 1868.7 864.0 1869.0 867.3 1869.5 868.5 1870.5 867.5 1871.3 868.9 1872.2 869.6 1873.2 869.7 1874.0 869.2 1874.0 871.6 1875.0 871.3 1875.8 871.8 1876.8 867.1 1877.7 866.9 1878.5 870.4 1879.0 868.4 1879.5 873.0 1880.3 865.3 1881.2 865.9 1882.2 865.8 1882.8 870.5 1883.0 872.9 1884.0 870.9 1884.8 867.5 1885.8 857.0 1886.5 859.2 1886.7 863.9 1887.5 859.2 1888.5 853.9 1889.3 858.7 1890.2 854.4 1891.2 856.0 1891.5 855.1 1892.0 851.0 1893.0 855.6 1893.8 850.1 1894.8 854.0 1895.7 857.8 1896.5 853.3 1896.5 854.3 1897.5 851.4 1898.3 850.3 1899.2 843.1 1900.2 843.2 1900.2 839.7 1901.0 839.2 1902.0 841.3 1902.8 834.4 1903.8 829.5 1904.0 832.7 1904.7 831.5 1905.5 832.5 1906.5 840.0 1907.3 841.5 1907.8 839.7 1908.2 840.3 1909.2 841.1 1910.0 839.0 1911.0 839.4 1911.5 841.2 1911.8 842.8 1912.8 841.6 1913.7 840.2 1914.5 841.0 1915.5 840.9 1916.3 842.2 1916.5 844.7 1917.2 846.5 1918.2 842.5 1919.0 850.5 1920.0 846.1 1920.2 846.8 1920.8 840.6 1921.8 847.9 1922.7 841.0 1923.5 839.8 1924.0 834.8 1924.5 834.0 1925.3 834.3 1926.2 835.7 1927.2 838.4 1928.0 828.8 1929.0 830.8 1929.0 831.9 1929.8 835.2 1930.8 832.7 1931.7 834.0 1932.5 827.0 1932.8 830.3 1933.5 831.3 1934.3 836.1 1935.2 832.2 1936.2 834.7 1936.5 839.2 1937.0 840.8 1938.0 844.7 1938.8 847.8 1939.8 842.1 1940.7 840.1 1941.5 845.8 1941.5 846.0 1942.5 840.4 1943.3 843.3 1944.2 850.5 1945.2 847.0 1946.0 843.2 1946.5 843.2 1947.0 839.8 1947.8 843.4 1948.8 843.8 1949.7 842.4 1950.2 838.5 1950.5 837.0 1951.5 843.9 1952.3 842.3 1953.2 847.1 1954.0 850.1 1954.2 848.4 1955.0 851.9 1956.0 852.7 1956.8 856.4 1957.8 855.9 1958.7 862.9 1959.0 860.5 1959.5 860.8 1960.5 861.4 1961.3 867.4 1962.2 866.9 1962.8 864.2 1963.2 867.0 1964.0 857.4 1965.0 857.3 1965.8 859.8 1966.5 853.9 1966.8 860.2 1967.7 855.3 1968.5 847.3 1969.5 852.7 1970.3 852.5 1971.2 855.7 1971.5 850.0 1972.2 851.4 1973.0 853.5 1974.0 848.7 1974.8 845.4 1975.8 843.4 1976.5 842.1 1976.7 842.7 1977.5 844.1 1978.5 843.3 1979.3 838.6 1980.2 838.8 1981.2 836.8 1981.5 834.3 1982.0 832.8 1983.0 833.0 1983.8 831.1 1984.8 821.4 1985.2 824.6 1985.7 822.3 1986.5 823.8 1987.5 824.4 1988.3 823.6 1989.0 819.9 1989.2 817.3 1990.2 827.8 1991.0 825.1 1992.0 825.6 1992.8 830.0 1993.8 829.8 1994.0 832.4 1994.7 830.6 1995.5 834.6 1996.5 835.3 1997.3 832.9 1998.2 833.1 1999.0 833.9 1999.2 829.1 2000.0 831.6 2001.0 837.3 2001.8 831.9 2002.8 830.2 2003.7 827.5 2004.0 829.5 2004.5 827.0 2005.5 828.4 2006.3 832.1 2007.2 832.4 2008.2 831.3 2009.0 835.0 2009.0 836.1 2010.0 834.9 2010.8 840.1 2011.8 838.4 2012.7 842.7 2013.5 846.5 2014.0 844.4 2014.5 846.9 2015.3 844.4 2016.2 846.8 2017.2 851.6 2017.8 851.8 2018.0 853.3 2019.0 855.5 2019.8 855.5 2020.8 853.1 2021.5 852.8 2021.7 850.9 2022.5 852.8 2023.5 851.0 2024.3 845.7 2025.2 844.4 2026.2 843.7 2026.5 843.7 2027.0 841.6 2028.0 844.9 2028.8 842.8 2029.8 845.4 2030.7 839.5 2031.5 842.9 2031.5 845.0 2032.5 843.5 2033.3 843.8 2034.2 840.7 2035.2 844.2 2036.0 843.5 2036.5 847.2 2037.0 846.8 2037.8 847.3 2038.8 839.9 2039.7 840.4 2040.5 838.2 2041.5 846.9 2041.5 842.7 2042.3 843.2 2043.2 837.9 2044.2 839.1 2045.0 841.3 2045.2 842.0 2046.0 844.5 2046.8 853.4 2047.8 849.8 2048.7 852.2 2049.0 855.6 2049.6 857.9 2050.4 858.9 2051.3 860.1 2052.2 856.4 2053.2 856.4 2054.0 855.7 2054.1 859.7 2054.9 856.0 2055.8 856.5 2056.8 861.6 2057.7 855.5 2058.6 853.7 2059.0 857.7 2059.4 863.7 2060.3 859.1 2061.2 862.2 2062.2 857.9 2063.1 859.6 2063.9 858.5 2064.0 861.2 2064.8 859.9 2065.8 856.2 2066.7 865.1 2067.6 858.4 2068.4 862.0 2069.0 863.7 2069.3 863.5 2070.2 865.5 2071.2 855.0 2072.1 859.1 2072.9 861.8 2073.8 854.6 2074.0 856.5 2074.8 857.6 2075.7 853.8 2076.6 861.0 2077.4 854.2 2078.3 855.8 2078.8 852.5" stroke="#0000ff" stroke-width="3.0"/>
</g>
<text transform="translate(248.5 1129.47) scale(1 1.045)" font-size="48.0" fill="#161616" text-anchor="middle">0</text>
<text transform="translate(553.6 1129.47) scale(1 1.045)" font-size="48.0" fill="#161616" text-anchor="middle">200</text>
<text transform="translate(858.6 1129.47) scale(1 1.045)" font-size="48.0" fill="#161616" text-anchor="middle">400</text>
<text transform="translate(1163.7 1129.47) scale(1 1.045)" font-size="48.0" fill="#161616" text-anchor="middle">600</text>
<text transform="translate(1468.7 1129.47) scale(1 1.045)" font-size="48.0" fill="#161616" text-anchor="middle">800</text>
<text transform="translate(1773.8 1129.47) scale(1 1.045)" font-size="48.0" fill="#161616" text-anchor="middle">1000</text>
<text transform="translate(2078.8 1129.47) scale(1 1.045)" font-size="48.0" fill="#161616" text-anchor="middle">1200</text>
<text transform="translate(235.0 760.17) scale(1 1.045)" font-size="48.0" fill="#161616" text-anchor="end">20</text>
<text transform="translate(235.0 869.37) scale(1 1.045)" font-size="48.0" fill="#161616" text-anchor="end">0</text>
<text transform="translate(235.0 978.67) scale(1 1.045)" font-size="48.0" fill="#161616" text-anchor="end">-20</text>
<text transform="translate(235.0 1087.97) scale(1 1.045)" font-size="48.0" fill="#161616" text-anchor="end">-40</text>
<text transform="translate(74.6 876.5) rotate(-90) translate(0 0.85) scale(1 1.045)" font-size="52.7" fill="#161616" text-anchor="middle">Latitude error</text>
<text transform="translate(145.4 876.5) rotate(-90) translate(0 0.85) scale(1 1.045)" font-size="52.7" fill="#161616" text-anchor="middle">(m)</text>
<path d="M553.6 1217.3V1598.3M858.6 1217.3V1598.3M1163.7 1217.3V1598.3M1468.7 1217.3V1598.3M1773.8 1217.3V1598.3M248.5 1344.3H2078.8M248.5 1471.3H2078.8" stroke="#e3e3e3" stroke-width="2.4" fill="none"/>
<path d="M553.6 1598.3v-20M553.6 1217.3v20M858.6 1598.3v-20M858.6 1217.3v20M1163.7 1598.3v-20M1163.7 1217.3v20M1468.7 1598.3v-20M1468.7 1217.3v20M1773.8 1598.3v-20M1773.8 1217.3v20M248.5 1344.3h20M2078.8 1344.3h-20M248.5 1471.3h20M2078.8 1471.3h-20" stroke="#4a4a4a" stroke-width="3.4" fill="none"/>
<path d="M248.5 1217.3H2078.8V1598.3H248.5Z" stroke="#3a3a3a" stroke-width="3" fill="none" stroke-linejoin="miter"/>
<g clip-path="url(#c2)" fill="none" stroke-width="5.2" stroke-linejoin="round">
<path d="M247.8 1474.1 248.8 1476.6 249.8 1466.6 250.8 1464.9 251.5 1478.5 251.8 1481.0 252.8 1471.1 253.8 1463.3 254.8 1469.9 255.2 1462.4 255.8 1470.6 256.8 1478.5 257.8 1467.5 258.8 1468.9 259.0 1474.4 259.8 1482.0 260.8 1498.9 261.5 1498.9 261.8 1506.0 262.8 1506.0 263.8 1483.2 264.0 1479.7 264.8 1469.0 265.8 1476.4 266.8 1474.3 267.8 1476.9 268.8 1471.0 269.8 1476.6 270.8 1469.0 271.5 1475.5 271.8 1481.0 272.8 1476.4 273.8 1465.0 274.8 1472.5 275.2 1469.9 275.8 1468.9 276.8 1460.9 277.8 1456.5 278.8 1447.8 279.0 1463.9 279.8 1473.6 280.8 1461.5 281.5 1453.8 281.8 1432.2 282.8 1448.9 283.8 1434.8 284.8 1432.0 285.2 1438.9 285.8 1437.7 286.8 1445.2 287.8 1437.1 288.8 1436.4 289.0 1429.8 289.8 1437.9 290.8 1424.2 291.8 1427.9 292.8 1437.8 293.8 1421.9 294.8 1425.4 295.8 1428.7 296.5 1424.4 296.8 1422.6 297.8 1420.3 298.8 1426.3 299.8 1415.2 300.2 1419.8 300.8 1417.4 301.8 1414.1 302.8 1411.8 303.8 1403.6 304.0 1409.9 304.8 1404.1 305.8 1415.0 306.8 1401.5 307.8 1413.6 308.8 1401.5 309.8 1402.2 310.8 1403.0 311.5 1411.5 311.8 1409.4 312.8 1401.7 313.8 1421.0 314.8 1420.3 315.2 1405.5 315.8 1421.0 316.8 1431.0 317.8 1413.7 318.8 1409.1 319.0 1414.3 319.8 1427.5 320.8 1415.9 321.8 1438.5 322.8 1424.7 323.8 1426.4 324.8 1411.8 325.8 1423.7 326.5 1431.1 326.8 1426.2 327.8 1421.1 328.8 1444.2 329.8 1452.0 330.2 1448.0 330.8 1436.5 331.8 1456.0 332.8 1449.0 333.8 1439.4 334.8 1450.1 335.8 1437.0 336.5 1430.2 336.8 1420.5 337.8 1418.3 338.8 1400.4 339.8 1405.1 340.2 1402.4 340.8 1407.6 341.8 1386.5 342.8 1379.3 343.8 1390.6 344.8 1376.2 345.2 1374.3 345.8 1378.2 346.8 1380.6 347.8 1394.2 348.8 1402.4 349.8 1388.4 350.8 1397.3 351.5 1399.8 351.8 1403.7 352.8 1422.8 353.8 1428.7 354.0 1423.0 354.8 1423.9 355.8 1414.2 356.8 1414.3 357.8 1421.9 358.8 1412.7 359.8 1420.8 360.8 1398.6 361.5 1409.7 361.8 1404.3 362.8 1413.0 363.8 1408.1 364.8 1401.8 365.2 1390.2 365.8 1388.5 366.8 1397.7 367.8 1403.0 368.8 1379.3 369.0 1381.1 369.8 1387.9 370.8 1389.7 371.8 1369.9 372.8 1362.3 373.8 1354.1 374.8 1342.2 375.8 1342.7 376.5 1339.3 376.8 1330.0 377.8 1332.5 378.8 1323.8 379.8 1316.5 380.2 1316.3 380.8 1311.5 381.8 1321.4 382.8 1326.3 383.8 1329.8 384.0 1335.8 384.8 1337.6 385.8 1339.2 386.8 1339.7 387.8 1353.4 388.8 1350.0 389.8 1358.7 390.8 1358.6 391.5 1352.5 391.8 1352.7 392.8 1355.1 393.8 1362.7 394.8 1385.9 395.2 1377.3 395.8 1369.5 396.8 1378.1 397.8 1390.5 398.8 1382.9 399.0 1399.2 399.8 1403.4 400.8 1416.7 401.5 1426.9 401.8 1430.3 402.8 1443.3 403.8 1443.0 404.0 1448.1 404.8 1453.3 405.8 1469.2 406.8 1461.8 407.8 1467.1 408.8 1467.2 409.8 1474.5 410.8 1481.7 411.5 1475.8 411.8 1475.6 412.8 1473.7 413.8 1480.7 414.8 1492.9 415.2 1490.3 415.8 1494.5 416.8 1496.7 417.8 1489.6 418.8 1499.4 419.0 1499.2 419.8 1495.2 420.8 1498.5 421.8 1503.9 422.8 1501.0 423.8 1503.1 424.8 1492.9 425.8 1500.8 426.5 1490.4 426.8 1482.3 427.8 1497.0 428.8 1499.3 429.8 1493.8 430.2 1489.6 430.8 1495.6 431.8 1490.5 432.8 1491.9 433.8 1495.2 434.0 1486.1 434.8 1464.9 435.8 1486.0 436.8 1484.9 437.8 1473.5 438.8 1471.6 439.8 1468.4 440.8 1461.4 441.5 1462.0 441.8 1476.0 442.8 1455.8 443.8 1450.5 444.8 1435.3 445.2 1442.6 445.8 1437.2 446.8 1436.5 447.8 1436.0 448.8 1419.0 449.0 1426.7 449.8 1419.0 450.8 1419.0 451.8 1430.1 452.8 1436.2 453.8 1437.0 454.8 1425.7 455.8 1438.0 456.5 1437.9 456.8 1451.1 457.8 1442.5 458.8 1448.6 459.8 1441.9 460.2 1449.1 460.8 1453.3 461.8 1433.2 462.8 1432.1 463.8 1424.0 464.0 1426.4 464.8 1424.0 465.8 1443.9 466.8 1428.0 467.8 1433.9 468.8 1442.4 469.8 1443.7 470.8 1461.2 471.5 1453.3 471.8 1444.1 472.8 1442.5 473.8 1457.5 474.8 1461.5 475.2 1461.9 475.8 1470.1 476.8 1454.7 477.8 1459.8 478.8 1469.6 479.0 1467.8 479.8 1473.6 480.8 1478.1 481.8 1473.8 482.8 1478.9 483.8 1464.0 484.8 1468.2 485.8 1470.9 486.5 1474.8 486.8 1468.8 487.8 1455.3 488.8 1465.3 489.8 1454.0 490.2 1457.9 490.8 1463.6 491.8 1474.6 492.8 1467.2 493.8 1469.1 494.0 1468.1 494.8 1459.2 495.8 1465.9 496.8 1456.6 497.8 1450.4 498.8 1446.6 499.8 1438.7 500.8 1452.2 501.5 1440.6 501.8 1435.3 502.8 1452.9 503.8 1441.5 504.8 1444.4 505.2 1439.1 505.8 1443.3 506.8 1441.7 507.8 1446.0 508.8 1416.6 509.0 1425.4 509.8 1425.6 510.8 1404.4 511.8 1411.6 512.8 1413.5 513.8 1411.0 514.8 1392.7 515.2 1393.0 515.8 1391.3 516.8 1385.6 517.8 1401.8 518.8 1420.0 519.8 1423.3 520.8 1428.2 521.5 1433.5 521.8 1426.6 522.8 1425.2 523.8 1430.4 524.8 1440.3 525.2 1431.6 525.8 1430.0 526.8 1435.2 527.8 1440.1 528.8 1437.4 529.0 1435.9 529.8 1443.1 530.8 1427.9 531.8 1427.6 532.8 1437.3 533.8 1444.4 534.0 1448.4 534.8 1451.6 535.8 1446.6 536.8 1443.5 537.8 1451.3 538.8 1452.0 539.0 1453.7 539.8 1456.1 540.8 1459.7 541.8 1458.0 542.8 1469.2 543.8 1474.7 544.0 1464.2 544.8 1467.9 545.8 1476.0 546.8 1487.2 547.8 1478.1 548.8 1477.1 549.0 1479.4 549.8 1480.2 550.8 1485.2 551.8 1494.4 552.8 1503.9 553.8 1521.3 554.0 1505.7 554.8 1509.4 555.8 1517.7 556.8 1525.6 557.8 1520.6 558.8 1512.0 559.8 1506.8 560.8 1513.8 561.5 1502.7 561.8 1506.0 562.8 1494.8 563.8 1476.4 564.8 1469.6 565.2 1480.9 565.8 1476.4 566.8 1484.9 567.8 1474.7 568.8 1476.5 569.0 1479.7 569.8 1486.3 570.8 1480.8 571.8 1458.2 572.8 1471.8 573.8 1467.1 574.8 1453.9 575.8 1453.3 576.5 1455.3 576.8 1457.6 577.8 1452.7 578.8 1452.0 579.8 1458.4 580.2 1452.0 580.8 1449.0 581.8 1449.2 582.8 1459.9 583.8 1455.4 584.0 1458.0 584.8 1465.3 585.8 1458.3 586.8 1453.2 587.8 1453.5 588.8 1461.7 589.8 1464.0 590.8 1449.0 591.5 1456.9 591.8 1469.4 592.8 1469.1 593.8 1475.3 594.8 1461.5 595.2 1465.8 595.8 1474.7 596.8 1461.7 597.8 1471.1 598.8 1468.6 599.0 1467.8 599.8 1478.9 600.8 1488.1 601.8 1463.1 602.8 1491.2 603.8 1485.4 604.8 1491.0 605.8 1506.0 606.5 1499.5 606.8 1514.0 607.8 1494.5 608.8 1502.4 609.8 1497.0 610.2 1496.6 610.8 1497.2 611.8 1510.6 612.8 1521.8 613.8 1531.0 614.0 1515.7 614.8 1513.8 615.8 1526.4 616.8 1536.3 617.8 1525.7 618.8 1535.2 619.8 1535.8 620.8 1525.8 621.5 1530.9 621.8 1535.6 622.8 1553.6 623.8 1544.0 624.8 1558.2 625.2 1568.1 625.8 1565.7 626.8 1563.5 627.8 1560.3 628.8 1558.2 629.0 1544.3 629.8 1544.2 630.8 1534.2 631.8 1522.8 632.8 1525.0 633.8 1502.1 634.8 1534.8 635.8 1510.2 636.5 1507.9 636.8 1521.7 637.8 1499.8 638.8 1508.1 639.8 1476.0 640.2 1475.1 640.8 1480.3 641.8 1471.1 642.8 1452.0 643.8 1428.6 644.8 1428.1 645.2 1427.7 645.8 1430.5 646.8 1422.7 647.8 1419.2 648.8 1415.5 649.8 1415.2 650.8 1422.2 651.5 1429.8 651.8 1428.6 652.8 1425.3 653.8 1413.2 654.8 1394.5 655.2 1400.5 655.8 1403.5 656.8 1410.5 657.8 1421.6 658.8 1441.6 659.8 1434.6 660.2 1449.0 660.8 1454.6 661.8 1447.1 662.8 1452.1 663.8 1451.5 664.0 1450.3 664.8 1445.4 665.8 1437.2 666.8 1453.1 667.8 1438.4 668.8 1427.8 669.8 1424.1 670.8 1421.0 671.5 1420.0 671.8 1408.2 672.8 1393.7 673.8 1387.4 674.0 1379.2 674.8 1374.5 675.8 1387.2 676.8 1378.9 677.8 1384.4 678.8 1395.6 679.8 1398.3 680.8 1401.0 681.5 1400.5 681.8 1390.1 682.8 1386.3 683.8 1382.6 684.8 1369.5 685.2 1375.8 685.8 1389.9 686.8 1382.5 687.8 1395.7 688.8 1392.0 689.0 1391.7 689.8 1394.5 690.8 1406.2 691.8 1404.2 692.8 1401.6 693.8 1385.6 694.8 1401.2 695.8 1403.4 696.5 1400.1 696.8 1396.9 697.8 1389.5 698.8 1406.7 699.8 1404.1 700.2 1400.2 700.8 1395.0 701.8 1396.5 702.8 1398.1 703.8 1396.3 704.0 1392.7 704.8 1397.8 705.8 1404.2 706.5 1406.9 706.8 1397.3 707.8 1423.5 708.8 1436.2 709.0 1441.0 709.8 1446.2 710.8 1474.5 711.5 1487.2 711.8 1501.0 712.8 1484.4 713.8 1494.9 714.8 1501.0 715.2 1498.0 715.8 1489.2 716.8 1463.3 717.8 1441.5 718.8 1418.6 719.8 1437.4 720.2 1411.6 720.8 1420.6 721.8 1426.3 722.8 1426.2 723.8 1443.7 724.0 1441.2 724.8 1454.8 725.8 1454.3 726.8 1445.8 727.8 1443.8 728.8 1451.0 729.8 1441.8 730.8 1455.1 731.5 1449.4 731.8 1461.0 732.8 1461.0 733.8 1449.4 734.0 1452.4 734.8 1439.3 735.8 1419.6 736.5 1408.5 736.8 1413.5 737.8 1428.0 738.8 1460.2 739.0 1454.6 739.8 1461.0 740.8 1468.8 741.8 1459.1 742.8 1471.3 743.8 1476.7 744.8 1475.7 745.8 1483.2 746.5 1491.4 746.8 1486.8 747.8 1500.6 748.8 1499.5 749.8 1512.0 750.2 1514.1 750.8 1511.6 751.8 1515.8 752.8 1532.0 753.8 1530.9 754.0 1520.9 754.8 1522.9 755.8 1531.1 756.8 1538.4 757.8 1545.3 758.8 1560.6 759.8 1553.2 760.8 1549.3 761.5 1551.0 761.8 1552.4 762.8 1558.6 763.8 1556.2 764.8 1553.2 765.2 1564.7 765.8 1553.6 766.8 1571.0 767.8 1571.0 768.8 1556.8 769.0 1563.1 769.8 1558.9 770.8 1558.8 771.8 1551.6 772.8 1545.2 773.8 1552.6 774.8 1539.0 775.8 1548.5 776.5 1558.7 776.8 1559.2 777.8 1565.4 778.8 1557.4 779.8 1566.0 780.2 1571.6 780.8 1578.3 781.8 1567.3 782.8 1569.2 783.8 1583.5 784.0 1578.4 784.8 1573.4 785.8 1564.5 786.8 1546.6 787.8 1543.4 788.8 1531.6 789.8 1518.6 790.2 1515.5 790.8 1524.8 791.8 1509.2 792.8 1504.7 793.8 1516.5 794.0 1507.5 794.8 1510.0 795.8 1512.0 796.8 1513.5 797.8 1508.8 798.8 1492.8 799.8 1505.5 800.8 1501.9 801.5 1496.8 801.8 1489.3 802.8 1490.9 803.8 1485.1 804.0 1490.5 804.8 1478.4 805.8 1456.3 806.5 1450.9 806.8 1449.0 807.8 1452.4 808.8 1456.8 809.8 1471.9 810.2 1469.0 810.8 1453.4 811.8 1462.4 812.8 1473.7 813.8 1479.4 814.0 1478.7 814.8 1486.0 815.8 1474.9 816.8 1478.0 817.8 1476.0 818.8 1462.0 819.8 1466.2 820.8 1462.2 821.5 1463.5 821.8 1465.5 822.8 1455.0 823.8 1439.0 824.8 1452.6 825.2 1457.6 825.8 1458.6 826.8 1461.3 827.8 1447.8 828.8 1440.4 829.0 1447.8 829.8 1445.1 830.8 1468.9 831.8 1447.6 832.8 1449.2 833.8 1457.6 834.8 1447.9 835.8 1465.3 836.5 1466.2 836.8 1469.8 837.8 1471.0 838.8 1466.9 839.8 1471.0 840.2 1460.6 840.8 1462.3 841.8 1449.1 842.8 1444.9 843.8 1444.2 844.0 1443.0 844.8 1434.3 845.8 1440.5 846.8 1445.1 847.8 1436.7 848.8 1428.1 849.8 1425.4 850.8 1418.3 851.5 1414.3 851.8 1418.3 852.8 1415.4 853.8 1418.6 854.8 1407.7 855.2 1407.8 855.8 1404.0 856.8 1409.9 857.8 1404.0 858.8 1413.3 859.0 1421.3 859.8 1422.2 860.8 1429.9 861.8 1424.1 862.8 1426.1 863.8 1436.7 864.0 1439.8 864.8 1426.1 865.8 1434.1 866.5 1420.6 866.8 1412.8 867.8 1392.5 868.8 1399.2 869.0 1376.1 869.8 1372.7 870.8 1368.7 871.8 1373.9 872.8 1358.4 873.8 1358.9 874.8 1347.4 875.2 1344.6 875.8 1339.0 876.8 1360.0 877.8 1372.8 878.8 1365.7 879.0 1378.2 879.8 1388.6 880.8 1392.7 881.5 1399.1 881.8 1410.2 882.8 1395.8 883.8 1379.5 884.8 1365.6 885.2 1379.8 885.8 1370.1 886.8 1373.5 887.8 1369.3 888.8 1375.9 889.0 1370.7 889.8 1370.9 890.8 1372.6 891.8 1360.4 892.8 1365.4 893.8 1383.1 894.8 1394.2 895.8 1380.6 896.5 1398.2 896.8 1401.0 897.8 1378.5 898.8 1381.6 899.8 1384.7 900.2 1380.3 900.8 1372.3 901.8 1367.4 902.8 1361.4 903.8 1360.6 904.0 1361.0 904.8 1373.9 905.8 1373.4 906.8 1394.6 907.8 1397.9 908.8 1400.9 909.8 1394.4 910.8 1375.1 911.5 1379.2 911.8 1383.8 912.8 1368.4 913.8 1374.5 914.8 1368.2 915.2 1365.0 915.8 1367.9 916.8 1378.9 917.8 1387.3 918.8 1396.0 919.8 1389.3 920.8 1376.0 921.5 1376.3 921.8 1361.5 922.8 1363.7 923.8 1362.0 924.8 1362.6 925.2 1358.4 925.8 1357.1 926.8 1353.2 927.8 1334.7 928.8 1339.2 929.0 1339.9 929.8 1359.3 930.8 1366.0 931.8 1371.2 932.8 1391.6 933.8 1393.9 934.8 1392.0 935.8 1404.0 936.5 1407.4 936.8 1401.5 937.8 1411.0 938.8 1411.0 939.8 1398.2 940.2 1398.3 940.8 1390.5 941.8 1403.8 942.8 1381.8 943.8 1378.8 944.0 1376.1 944.8 1372.1 945.8 1354.2 946.8 1346.9 947.8 1348.4 948.8 1365.9 949.8 1359.7 950.8 1358.9 951.5 1367.6 951.8 1369.1 952.8 1368.7 953.8 1380.1 954.8 1374.5 955.2 1378.5 955.8 1380.8 956.8 1395.7 957.8 1404.8 958.8 1412.1 959.8 1425.7 960.2 1438.0 960.8 1450.2 961.8 1448.4 962.8 1441.3 963.8 1434.9 964.0 1455.7 964.8 1454.3 965.8 1459.6 966.8 1471.6 967.8 1463.3 968.8 1460.0 969.8 1460.4 970.8 1454.9 971.5 1467.4 971.8 1468.0 972.8 1451.2 973.8 1457.1 974.8 1436.0 975.2 1437.7 975.8 1434.4 976.8 1430.5 977.8 1416.5 978.8 1428.6 979.0 1412.6 979.8 1406.0 980.8 1404.0 981.8 1412.7 982.8 1427.4 983.8 1421.8 984.8 1422.9 985.8 1432.5 986.5 1442.5 986.8 1440.7 987.8 1432.6 988.8 1450.0 989.8 1459.8 990.2 1460.2 990.8 1473.5 991.8 1473.5 992.8 1459.7 993.8 1469.0 994.0 1464.5 994.8 1455.3 995.8 1454.7 996.8 1444.0 997.8 1458.6 998.8 1464.5 999.8 1459.2 1000.8 1456.2 1001.5 1450.7 1001.8 1460.5 1002.8 1464.1 1003.8 1450.4 1004.8 1447.9 1005.2 1444.7 1005.8 1445.8 1006.8 1427.9 1007.8 1421.1 1008.8 1413.7 1009.8 1405.0 1010.8 1401.3 1011.5 1402.7 1011.8 1396.9 1012.8 1408.1 1013.8 1415.4 1014.8 1405.3 1015.2 1423.8 1015.8 1416.3 1016.8 1408.6 1017.8 1395.3 1018.8 1386.2 1019.0 1392.3 1019.8 1398.5 1020.8 1390.4 1021.8 1380.8 1022.8 1384.2 1023.8 1383.3 1024.8 1389.0 1025.2 1373.5 1025.8 1372.4 1026.8 1386.7 1027.8 1379.9 1028.8 1391.2 1029.0 1396.4 1029.8 1407.8 1030.8 1399.8 1031.8 1389.3 1032.8 1408.4 1033.8 1406.4 1034.8 1426.0 1035.8 1398.9 1036.5 1418.6 1036.8 1419.6 1037.8 1406.7 1038.8 1426.0 1039.8 1407.9 1040.2 1407.7 1040.8 1408.0 1041.8 1413.2 1042.8 1406.8 1043.8 1401.5 1044.0 1409.7 1044.8 1420.3 1045.8 1404.7 1046.8 1410.3 1047.8 1412.4 1048.8 1413.0 1049.0 1415.4 1049.8 1406.9 1050.8 1414.8 1051.8 1406.3 1052.8 1407.0 1053.8 1421.4 1054.0 1412.4 1054.8 1409.0 1055.8 1414.5 1056.8 1425.7 1057.8 1425.2 1058.8 1422.0 1059.0 1419.8 1059.8 1428.5 1060.8 1428.5 1061.8 1422.2 1062.8 1416.5 1063.8 1420.7 1064.0 1420.7 1064.8 1420.3 1065.8 1423.2 1066.8 1427.1 1067.8 1422.7 1068.8 1414.0 1069.0 1421.0 1069.8 1437.3 1070.8 1433.8 1071.8 1424.8 1072.8 1423.4 1073.8 1436.5 1074.8 1429.7 1075.8 1434.3 1076.5 1441.5 1076.8 1438.0 1077.8 1438.7 1078.8 1452.4 1079.8 1458.5 1080.2 1447.1 1080.8 1447.0 1081.8 1457.9 1082.8 1461.0 1083.8 1458.4 1084.0 1455.4 1084.8 1452.0 1085.8 1450.9 1086.8 1458.8 1087.8 1453.9 1088.8 1456.0 1089.8 1448.4 1090.8 1453.2 1091.5 1460.5 1091.8 1459.6 1092.8 1459.3 1093.8 1439.0 1094.8 1448.8 1095.2 1446.3 1095.8 1457.8 1096.8 1443.9 1097.8 1450.5 1098.8 1446.1 1099.0 1445.2 1099.8 1455.5 1100.8 1447.2 1101.8 1450.3 1102.8 1448.1 1103.8 1441.5 1104.8 1453.8 1105.8 1436.5 1106.5 1444.2 1106.8 1449.2 1107.8 1456.0 1108.8 1454.4 1109.8 1456.0 1110.2 1451.6 1110.8 1452.1 1111.8 1456.0 1112.8 1445.1 1113.8 1442.2 1114.0 1442.7 1114.8 1434.0 1115.8 1434.0 1116.8 1439.9 1117.8 1440.2 1118.8 1435.9 1119.0 1442.2 1119.8 1444.6 1120.8 1441.6 1121.8 1452.8 1122.8 1448.4 1123.8 1452.6 1124.8 1445.6 1125.8 1438.9 1126.5 1451.9 1126.8 1450.8 1127.8 1451.4 1128.8 1458.7 1129.8 1478.0 1130.2 1476.2 1130.8 1491.1 1131.8 1496.0 1132.8 1484.9 1133.8 1485.2 1134.0 1491.8 1134.8 1494.6 1135.8 1481.8 1136.8 1477.4 1137.8 1480.5 1138.8 1482.2 1139.8 1482.5 1140.8 1471.5 1141.5 1472.3 1141.8 1458.7 1142.8 1458.9 1143.8 1463.6 1144.8 1451.8 1145.2 1459.0 1145.8 1452.3 1146.8 1455.7 1147.8 1449.6 1148.8 1449.6 1149.0 1444.1 1149.8 1446.7 1150.8 1440.0 1151.8 1436.3 1152.8 1440.4 1153.8 1438.8 1154.8 1445.6 1155.8 1440.9 1156.5 1436.4 1156.8 1446.8 1157.8 1466.4 1158.8 1459.6 1159.8 1432.3 1160.2 1448.3 1160.8 1460.6 1161.8 1471.3 1162.8 1486.7 1163.8 1504.2 1164.0 1488.2 1164.8 1500.4 1165.8 1483.3 1166.8 1483.7 1167.8 1498.1 1168.8 1497.0 1169.8 1505.8 1170.8 1487.2 1171.5 1494.9 1171.8 1481.5 1172.8 1492.4 1173.8 1492.8 1174.0 1487.7 1174.8 1489.4 1175.8 1497.3 1176.5 1495.3 1176.8 1497.4 1177.8 1489.0 1178.8 1493.5 1179.8 1481.2 1180.2 1475.1 1180.8 1470.2 1181.8 1466.5 1182.8 1466.0 1183.8 1461.5 1184.0 1469.8 1184.8 1467.3 1185.8 1474.9 1186.8 1461.5 1187.8 1465.6 1188.8 1473.5 1189.8 1490.1 1190.8 1461.5 1191.5 1468.3 1191.8 1467.9 1192.8 1466.9 1193.8 1479.8 1194.0 1484.8 1194.8 1493.8 1195.8 1499.4 1196.5 1494.5 1196.8 1487.9 1197.8 1491.7 1198.8 1497.4 1199.8 1502.9 1200.2 1513.4 1200.8 1510.1 1201.8 1525.5 1202.8 1517.1 1203.8 1529.2 1204.0 1526.3 1204.8 1550.4 1205.8 1531.5 1206.8 1536.7 1207.8 1542.0 1208.8 1553.3 1209.8 1546.1 1210.2 1555.2 1210.8 1574.9 1211.8 1581.8 1212.8 1579.4 1213.8 1563.3 1214.8 1552.3 1215.2 1538.4 1215.8 1540.8 1216.8 1544.4 1217.8 1549.5 1218.8 1548.3 1219.0 1554.3 1219.8 1547.4 1220.8 1560.9 1221.8 1561.5 1222.8 1568.1 1223.8 1550.0 1224.8 1558.2 1225.8 1557.4 1226.5 1545.4 1226.8 1540.6 1227.8 1532.6 1228.8 1537.8 1229.8 1541.2 1230.2 1543.1 1230.8 1540.7 1231.8 1538.1 1232.8 1525.6 1233.8 1518.4 1234.0 1519.2 1234.8 1514.8 1235.8 1503.2 1236.8 1524.9 1237.8 1505.8 1238.8 1520.9 1239.8 1501.9 1240.8 1499.0 1241.5 1508.9 1241.8 1516.0 1242.8 1512.4 1243.8 1503.2 1244.8 1497.4 1245.2 1500.9 1245.8 1502.4 1246.8 1490.3 1247.8 1498.9 1248.8 1490.9 1249.0 1496.7 1249.8 1484.0 1250.8 1484.0 1251.8 1495.2 1252.8 1490.4 1253.8 1491.4 1254.8 1501.0 1255.8 1499.5 1256.5 1488.9 1256.8 1493.4 1257.8 1484.1 1258.8 1496.0 1259.8 1479.0 1260.2 1483.7 1260.8 1489.3 1261.8 1484.6 1262.8 1475.8 1263.8 1478.1 1264.0 1476.8 1264.8 1467.2 1265.8 1469.2 1266.8 1469.7 1267.8 1468.8 1268.8 1472.0 1269.8 1465.2 1270.8 1465.1 1271.5 1466.0 1271.8 1470.6 1272.8 1462.3 1273.8 1451.3 1274.8 1472.4 1275.2 1455.2 1275.8 1449.0 1276.8 1461.6 1277.8 1455.8 1278.8 1460.9 1279.0 1456.6 1279.8 1459.4 1280.8 1462.1 1281.8 1449.0 1282.8 1455.7 1283.8 1449.0 1284.8 1459.4 1285.8 1459.6 1286.5 1456.0 1286.8 1466.3 1287.8 1462.4 1288.8 1459.0 1289.8 1451.5 1290.2 1454.8 1290.8 1464.9 1291.8 1451.5 1292.8 1452.4 1293.8 1451.5 1294.0 1459.0 1294.8 1458.2 1295.8 1451.5 1296.8 1451.5 1297.8 1462.0 1298.8 1455.7 1299.8 1458.1 1300.8 1462.6 1301.5 1459.2 1301.8 1450.7 1302.8 1453.1 1303.8 1456.9 1304.8 1450.8 1305.2 1459.5 1305.8 1460.1 1306.8 1466.0 1307.8 1456.7 1308.8 1456.5 1309.0 1452.6 1309.8 1458.4 1310.8 1460.8 1311.8 1462.0 1312.8 1462.7 1313.8 1449.0 1314.8 1449.2 1315.8 1449.1 1316.5 1457.4 1316.8 1458.8 1317.8 1459.2 1318.8 1461.1 1319.8 1462.1 1320.2 1456.8 1320.8 1459.7 1321.8 1451.5 1322.8 1457.9 1323.8 1444.0 1324.0 1450.4 1324.8 1446.6 1325.8 1449.4 1326.8 1452.8 1327.8 1454.9 1328.8 1457.3 1329.8 1455.3 1330.8 1459.3 1331.5 1447.5 1331.8 1441.2 1332.8 1433.3 1333.8 1447.6 1334.8 1432.4 1335.2 1437.6 1335.8 1440.2 1336.8 1440.3 1337.8 1451.0 1338.8 1451.0 1339.0 1443.1 1339.8 1451.0 1340.8 1433.8 1341.8 1446.9 1342.8 1445.7 1343.8 1451.9 1344.8 1449.5 1345.8 1447.0 1346.5 1449.7 1346.8 1444.7 1347.8 1439.5 1348.8 1449.4 1349.8 1451.6 1350.2 1445.2 1350.8 1439.3 1351.8 1436.5 1352.8 1439.2 1353.8 1437.6 1354.0 1451.0 1354.8 1450.5 1355.8 1459.8 1356.8 1447.6 1357.8 1456.8 1358.8 1444.0 1359.8 1468.9 1360.8 1450.9 1361.5 1463.6 1361.8 1455.4 1362.8 1456.9 1363.8 1472.6 1364.8 1483.1 1365.2 1481.4 1365.8 1482.8 1366.8 1486.2 1367.8 1486.9 1368.8 1488.8 1369.0 1491.1 1369.8 1490.5 1370.8 1480.7 1371.8 1484.7 1372.8 1470.0 1373.8 1460.3 1374.8 1446.0 1375.8 1444.6 1376.5 1435.5 1376.8 1428.4 1377.8 1419.8 1378.8 1420.5 1379.8 1413.2 1380.2 1424.8 1380.8 1433.1 1381.8 1415.1 1382.8 1413.7 1383.8 1411.9 1384.0 1415.3 1384.8 1400.3 1385.8 1404.7 1386.5 1401.7 1386.8 1400.7 1387.8 1405.7 1388.8 1416.7 1389.0 1410.2 1389.8 1413.9 1390.8 1428.4 1391.8 1423.6 1392.8 1435.8 1393.8 1413.8 1394.8 1421.6 1395.8 1422.5 1396.5 1421.0 1396.8 1429.4 1397.8 1427.6 1398.8 1416.0 1399.8 1421.4 1400.2 1414.8 1400.8 1411.1 1401.8 1423.3 1402.8 1435.3 1403.8 1435.0 1404.0 1424.8 1404.8 1427.6 1405.8 1434.7 1406.8 1421.8 1407.8 1423.7 1408.8 1423.6 1409.8 1406.4 1410.8 1409.5 1411.5 1410.5 1411.8 1412.2 1412.8 1412.5 1413.8 1404.0 1414.8 1404.0 1415.2 1409.9 1415.8 1411.5 1416.8 1439.1 1417.8 1437.2 1418.8 1461.9 1419.8 1478.2 1420.2 1478.9 1420.8 1483.2 1421.8 1485.3 1422.8 1496.8 1423.8 1498.1 1424.0 1493.5 1424.8 1500.7 1425.8 1500.8 1426.8 1480.8 1427.8 1484.3 1428.8 1482.0 1429.8 1473.3 1430.8 1498.1 1431.5 1478.6 1431.8 1481.8 1432.8 1481.1 1433.8 1486.3 1434.8 1465.4 1435.2 1470.8 1435.8 1476.9 1436.8 1469.2 1437.8 1459.0 1438.8 1459.7 1439.0 1464.0 1439.8 1457.8 1440.8 1476.0 1441.8 1456.1 1442.8 1466.9 1443.8 1467.4 1444.8 1463.7 1445.8 1468.4 1446.5 1457.1 1446.8 1453.9 1447.8 1465.5 1448.8 1460.8 1449.8 1449.2 1450.2 1452.5 1450.8 1452.7 1451.8 1443.7 1452.8 1428.4 1453.8 1424.0 1454.0 1429.9 1454.8 1431.8 1455.8 1424.0 1456.8 1424.0 1457.8 1426.3 1458.8 1442.8 1459.8 1424.0 1460.8 1431.9 1461.5 1434.3 1461.8 1433.0 1462.8 1427.3 1463.8 1435.4 1464.8 1446.0 1465.2 1434.8 1465.8 1438.1 1466.8 1443.8 1467.8 1437.2 1468.8 1424.0 1469.0 1431.9 1469.8 1438.8 1470.8 1432.9 1471.8 1430.9 1472.8 1427.8 1473.8 1418.9 1474.8 1435.6 1475.8 1417.7 1476.5 1414.1 1476.8 1414.3 1477.8 1425.8 1478.8 1410.8 1479.0 1397.5 1479.8 1398.5 1480.8 1412.8 1481.8 1400.5 1482.8 1400.9 1483.8 1405.3 1484.0 1400.0 1484.8 1396.9 1485.8 1399.2 1486.8 1404.3 1487.8 1398.9 1488.8 1391.5 1489.8 1402.1 1490.8 1408.8 1491.5 1406.0 1491.8 1416.9 1492.8 1415.1 1493.8 1431.7 1494.0 1425.9 1494.8 1422.9 1495.8 1426.6 1496.8 1448.7 1497.8 1443.3 1498.8 1454.5 1499.8 1458.5 1500.8 1471.0 1501.5 1462.3 1501.8 1467.5 1502.8 1457.1 1503.8 1461.8 1504.8 1464.9 1505.2 1466.0 1505.8 1448.6 1506.8 1455.1 1507.8 1457.2 1508.8 1444.0 1509.0 1447.9 1509.8 1451.0 1510.8 1475.6 1511.8 1483.6 1512.8 1478.5 1513.8 1468.3 1514.8 1476.1 1515.8 1467.9 1516.5 1479.5 1516.8 1476.0 1517.8 1500.5 1518.8 1493.0 1519.8 1492.7 1520.2 1493.4 1520.8 1494.5 1521.8 1491.4 1522.8 1490.7 1523.8 1501.0 1524.0 1489.8 1524.8 1482.7 1525.8 1481.0 1526.8 1474.0 1527.8 1480.2 1528.8 1479.1 1529.8 1485.9 1530.8 1501.1 1531.5 1492.9 1531.8 1493.5 1532.8 1496.6 1533.8 1502.4 1534.8 1496.5 1535.2 1497.9 1535.8 1496.0 1536.8 1485.0 1537.8 1489.0 1538.8 1475.1 1539.0 1477.4 1539.8 1480.1 1540.8 1475.3 1541.8 1475.2 1542.8 1475.6 1543.8 1474.4 1544.8 1473.9 1545.8 1479.2 1546.5 1469.2 1546.8 1459.0 1547.8 1461.5 1548.8 1459.0 1549.8 1467.5 1550.2 1468.1 1550.8 1460.6 1551.8 1481.0 1552.8 1473.9 1553.8 1462.7 1554.0 1474.2 1554.8 1461.1 1555.8 1459.0 1556.8 1473.9 1557.8 1465.3 1558.8 1474.5 1559.8 1467.0 1560.8 1460.9 1561.5 1466.2 1561.8 1469.5 1562.8 1471.0 1563.8 1461.2 1564.8 1457.1 1565.2 1448.5 1565.8 1451.9 1566.8 1450.8 1567.8 1449.6 1568.8 1461.2 1569.0 1457.8 1569.8 1467.5 1570.8 1470.8 1571.8 1456.6 1572.8 1465.9 1573.8 1465.0 1574.8 1466.3 1575.8 1468.7 1576.5 1465.1 1576.8 1473.9 1577.8 1468.8 1578.8 1478.4 1579.8 1481.0 1580.2 1469.6 1580.8 1479.2 1581.8 1459.0 1582.8 1475.3 1583.8 1479.5 1584.0 1475.0 1584.8 1486.0 1585.8 1474.1 1586.8 1472.1 1587.8 1481.4 1588.8 1470.2 1589.8 1479.9 1590.8 1459.0 1591.5 1464.8 1591.8 1470.7 1592.8 1460.3 1593.8 1463.1 1594.8 1469.7 1595.2 1464.5 1595.8 1463.9 1596.8 1469.3 1597.8 1474.3 1598.8 1477.7 1599.0 1470.4 1599.8 1480.8 1600.8 1478.0 1601.8 1477.9 1602.8 1477.1 1603.8 1474.6 1604.8 1475.1 1605.8 1466.8 1606.5 1462.9 1606.8 1461.5 1607.8 1458.2 1608.8 1460.8 1609.8 1455.9 1610.2 1462.7 1610.8 1448.2 1611.8 1461.6 1612.8 1459.3 1613.8 1461.6 1614.0 1449.8 1614.8 1450.8 1615.8 1449.6 1616.8 1437.7 1617.8 1439.3 1618.8 1421.6 1619.8 1434.6 1620.8 1430.0 1621.5 1417.2 1621.8 1419.3 1622.8 1407.5 1623.8 1405.2 1624.0 1397.9 1624.8 1400.9 1625.8 1409.7 1626.8 1417.6 1627.8 1414.0 1628.8 1413.9 1629.8 1421.4 1630.8 1434.8 1631.5 1437.3 1631.8 1450.3 1632.8 1441.3 1633.8 1444.0 1634.8 1453.0 1635.2 1452.3 1635.8 1448.5 1636.8 1455.0 1637.8 1456.0 1638.8 1459.3 1639.0 1463.1 1639.8 1453.4 1640.8 1462.3 1641.8 1457.4 1642.8 1463.0 1643.8 1465.0 1644.8 1483.0 1645.8 1472.2 1646.5 1466.7 1646.8 1472.2 1647.8 1475.2 1648.8 1477.3 1649.8 1476.6 1650.2 1485.9 1650.8 1468.2 1651.8 1470.5 1652.8 1443.9 1653.8 1437.5 1654.0 1441.1 1654.8 1453.3 1655.8 1431.0 1656.8 1433.1 1657.8 1411.3 1658.8 1433.7 1659.8 1416.1 1660.8 1421.8 1661.5 1439.0 1661.8 1450.2 1662.8 1440.8 1663.8 1447.0 1664.8 1455.0 1665.2 1453.0 1665.8 1457.9 1666.8 1451.5 1667.8 1447.7 1668.8 1442.5 1669.0 1438.8 1669.8 1434.0 1670.8 1434.0 1671.8 1447.3 1672.8 1458.7 1673.8 1459.1 1674.8 1474.7 1675.8 1469.4 1676.5 1477.9 1676.8 1481.0 1677.8 1473.2 1678.8 1471.6 1679.8 1469.0 1680.2 1464.1 1680.8 1464.2 1681.8 1452.7 1682.8 1450.1 1683.8 1444.0 1684.0 1450.4 1684.8 1460.2 1685.8 1444.6 1686.8 1459.3 1687.8 1459.6 1688.8 1460.7 1689.8 1469.9 1690.8 1477.3 1691.5 1479.6 1691.8 1468.5 1692.8 1469.4 1693.8 1470.0 1694.8 1472.5 1695.2 1469.7 1695.8 1468.1 1696.8 1461.7 1697.8 1457.5 1698.8 1451.8 1699.0 1464.4 1699.8 1476.0 1700.8 1476.0 1701.8 1452.6 1702.8 1456.9 1703.8 1470.2 1704.8 1466.5 1705.8 1471.0 1706.5 1469.2 1706.8 1459.3 1707.8 1465.3 1708.8 1462.9 1709.8 1462.9 1710.2 1459.9 1710.8 1452.2 1711.8 1466.3 1712.8 1457.2 1713.8 1456.8 1714.0 1452.7 1714.8 1441.5 1715.8 1435.1 1716.8 1446.1 1717.8 1435.0 1718.8 1421.3 1719.8 1433.4 1720.8 1428.4 1721.5 1427.2 1721.8 1426.7 1722.8 1431.9 1723.8 1421.2 1724.8 1430.6 1725.2 1421.8 1725.8 1425.8 1726.8 1423.2 1727.8 1424.3 1728.8 1420.6 1729.0 1424.3 1729.8 1430.5 1730.8 1415.3 1731.8 1417.4 1732.8 1419.5 1733.8 1441.1 1734.8 1470.5 1735.2 1464.2 1735.8 1480.5 1736.8 1477.7 1737.8 1498.5 1738.8 1498.7 1739.8 1503.9 1740.8 1493.2 1741.5 1506.2 1741.8 1513.3 1742.8 1519.1 1743.8 1514.8 1744.8 1516.5 1745.2 1514.7 1745.8 1514.9 1746.8 1524.7 1747.8 1517.2 1748.8 1510.6 1749.0 1522.7 1749.8 1544.6 1750.8 1539.5 1751.8 1561.4 1752.8 1564.2 1753.8 1565.4 1754.8 1557.3 1755.8 1547.6 1756.5 1555.3 1756.8 1561.0 1757.8 1546.1 1758.8 1543.3 1759.8 1529.0 1760.2 1536.9 1760.8 1529.0 1761.8 1545.5 1762.8 1538.8 1763.8 1527.2 1764.0 1534.2 1764.8 1529.5 1765.8 1528.3 1766.8 1532.3 1767.8 1531.5 1768.8 1538.9 1769.8 1533.4 1770.8 1528.6 1771.5 1526.5 1771.8 1526.3 1772.8 1536.1 1773.8 1528.6 1774.0 1535.8 1774.8 1538.9 1775.8 1525.8 1776.8 1517.5 1777.8 1502.9 1778.8 1490.6 1779.8 1481.3 1780.8 1470.3 1781.5 1471.3 1781.8 1467.7 1782.8 1475.3 1783.8 1465.6 1784.8 1467.7 1785.2 1463.7 1785.8 1457.2 1786.8 1470.6 1787.8 1458.2 1788.8 1453.6 1789.0 1458.6 1789.8 1445.9 1790.8 1437.8 1791.8 1459.1 1792.8 1428.2 1793.8 1432.8 1794.0 1435.5 1794.8 1432.2 1795.8 1438.8 1796.5 1428.4 1796.8 1428.2 1797.8 1428.6 1798.8 1431.5 1799.8 1415.6 1800.2 1419.8 1800.8 1432.7 1801.8 1440.1 1802.8 1437.5 1803.8 1433.5 1804.0 1434.3 1804.8 1444.2 1805.8 1427.5 1806.8 1427.0 1807.8 1439.7 1808.8 1439.8 1809.8 1452.5 1810.8 1457.4 1811.5 1452.6 1811.8 1449.1 1812.8 1439.0 1813.8 1440.9 1814.8 1456.0 1815.2 1460.6 1815.8 1466.0 1816.8 1457.7 1817.8 1441.8 1818.8 1430.1 1819.0 1430.7 1819.8 1414.1 1820.8 1415.0 1821.8 1420.5 1822.8 1409.9 1823.8 1399.0 1824.8 1409.5 1825.8 1412.5 1826.5 1395.6 1826.8 1394.0 1827.8 1394.0 1828.8 1394.1 1829.8 1394.0 1830.2 1399.2 1830.8 1388.7 1831.8 1411.0 1832.8 1394.2 1833.8 1394.2 1834.0 1404.7 1834.8 1405.8 1835.8 1401.6 1836.8 1387.8 1837.8 1385.8 1838.8 1383.6 1839.8 1376.9 1840.2 1373.9 1840.8 1375.8 1841.8 1349.0 1842.8 1351.7 1843.8 1352.4 1844.8 1353.8 1845.2 1344.7 1845.8 1352.4 1846.8 1352.5 1847.8 1369.4 1848.8 1362.4 1849.8 1365.0 1850.2 1379.4 1850.8 1371.8 1851.8 1364.9 1852.8 1369.1 1853.8 1358.9 1854.8 1354.0 1855.8 1371.3 1856.5 1363.4 1856.8 1372.2 1857.8 1373.8 1858.8 1363.6 1859.8 1378.1 1860.2 1376.7 1860.8 1385.4 1861.8 1380.4 1862.8 1383.4 1863.8 1391.1 1864.0 1389.9 1864.8 1376.8 1865.8 1394.7 1866.8 1390.9 1867.8 1375.0 1868.8 1377.6 1869.8 1376.7 1870.8 1364.6 1871.5 1360.5 1871.8 1371.1 1872.8 1359.8 1873.8 1369.6 1874.8 1373.7 1875.2 1371.1 1875.8 1360.9 1876.8 1376.0 1877.8 1364.7 1878.8 1354.0 1879.0 1360.1 1879.8 1381.0 1880.8 1376.0 1881.8 1368.6 1882.8 1367.6 1883.8 1383.6 1884.8 1381.3 1885.2 1376.1 1885.8 1359.0 1886.8 1383.1 1887.8 1378.0 1888.8 1384.9 1889.0 1386.7 1889.8 1400.5 1890.8 1409.6 1891.5 1406.1 1891.8 1408.2 1892.8 1413.1 1893.8 1425.5 1894.0 1417.5 1894.8 1427.0 1895.8 1428.6 1896.5 1436.2 1896.8 1432.7 1897.8 1431.4 1898.8 1446.0 1899.8 1444.6 1900.2 1441.9 1900.8 1442.7 1901.8 1440.6 1902.8 1447.2 1903.8 1433.5 1904.0 1440.0 1904.8 1431.8 1905.8 1435.6 1906.8 1439.2 1907.8 1445.3 1908.8 1443.8 1909.8 1438.9 1910.8 1436.2 1911.5 1433.5 1911.8 1432.2 1912.8 1410.0 1913.8 1397.5 1914.8 1403.1 1915.2 1394.1 1915.8 1420.6 1916.8 1404.3 1917.8 1424.6 1918.8 1433.5 1919.8 1442.6 1920.2 1451.1 1920.8 1455.1 1921.8 1439.4 1922.8 1424.9 1923.8 1411.2 1924.8 1404.5 1925.2 1391.4 1925.8 1396.2 1926.8 1385.0 1927.8 1376.1 1928.8 1404.2 1929.0 1377.4 1929.8 1382.4 1930.8 1360.5 1931.5 1350.8 1931.8 1345.6 1932.8 1338.0 1933.8 1323.9 1934.0 1319.6 1934.8 1306.2 1935.8 1315.8 1936.8 1315.2 1937.8 1308.2 1938.8 1329.7 1939.8 1325.3 1940.8 1323.8 1941.5 1328.5 1941.8 1333.4 1942.8 1323.4 1943.8 1336.0 1944.8 1320.0 1945.2 1326.7 1945.8 1316.5 1946.8 1315.9 1947.8 1288.5 1948.8 1286.7 1949.0 1292.6 1949.8 1298.0 1950.8 1284.0 1951.5 1288.9 1951.8 1291.0 1952.8 1299.2 1953.8 1314.1 1954.0 1308.1 1954.8 1322.3 1955.8 1336.7 1956.5 1341.8 1956.8 1359.6 1957.8 1378.2 1958.8 1368.6 1959.0 1381.1 1959.8 1392.1 1960.8 1401.0 1961.5 1418.7 1961.8 1419.9 1962.8 1443.9 1963.8 1460.4 1964.0 1463.2 1964.8 1458.7 1965.8 1458.2 1966.5 1467.4 1966.8 1469.2 1967.8 1459.0 1968.8 1442.0 1969.0 1448.1 1969.8 1437.2 1970.8 1425.1 1971.5 1423.9 1971.8 1419.2 1972.8 1424.2 1973.8 1416.6 1974.0 1423.4 1974.8 1432.2 1975.8 1449.0 1976.5 1462.5 1976.8 1459.3 1977.8 1464.2 1978.8 1488.2 1979.0 1474.8 1979.8 1495.1 1980.8 1492.6 1981.5 1500.8 1981.8 1499.5 1982.8 1521.5 1983.8 1520.5 1984.0 1526.3 1984.8 1517.6 1985.8 1515.3 1986.5 1514.9 1986.8 1509.6 1987.8 1511.3 1988.8 1528.1 1989.0 1503.1 1989.8 1495.2 1990.8 1482.3 1991.5 1475.7 1991.8 1461.3 1992.8 1459.0 1993.8 1470.4 1994.0 1469.0 1994.8 1469.7 1995.8 1463.3 1996.8 1478.2 1997.8 1484.2 1998.8 1489.5 1999.8 1487.4 2000.8 1492.8 2001.5 1494.2 2001.8 1489.8 2002.8 1485.8 2003.8 1474.3 2004.8 1459.3 2005.2 1469.5 2005.8 1479.5 2006.8 1442.0 2007.8 1435.5 2008.8 1431.2 2009.0 1424.6 2009.8 1433.0 2010.8 1427.6 2011.8 1430.2 2012.8 1436.2 2013.8 1440.8 2014.8 1459.9 2015.8 1451.1 2016.5 1453.7 2016.8 1454.8 2017.8 1446.7 2018.8 1451.8 2019.8 1447.2 2020.2 1434.3 2020.8 1429.8 2021.8 1422.7 2022.8 1428.0 2023.8 1409.0 2024.0 1414.5 2024.8 1412.2 2025.8 1415.4 2026.8 1409.6 2027.8 1421.3 2028.8 1435.5 2029.8 1433.3 2030.8 1428.9 2031.5 1429.4 2031.8 1428.6 2032.8 1425.9 2033.8 1451.0 2034.8 1445.7 2035.2 1443.5 2035.8 1449.9 2036.8 1426.2 2037.8 1420.9 2038.8 1417.8 2039.0 1413.1 2039.8 1421.6 2040.8 1418.9 2041.8 1408.7 2042.8 1404.1 2043.8 1397.3 2044.8 1414.2 2045.8 1422.9 2046.5 1429.8 2046.8 1425.2 2047.8 1430.5 2048.8 1412.1 2049.8 1406.0 2050.2 1402.3 2050.8 1406.8 2051.8 1423.6 2052.8 1423.7 2053.8 1411.8 2054.0 1422.1 2054.8 1432.1 2055.8 1413.4 2056.8 1427.4 2057.8 1435.5 2058.8 1444.3 2059.8 1450.3 2060.8 1453.8 2061.5 1451.9 2061.8 1449.2 2062.8 1435.9 2063.8 1434.9 2064.8 1441.4 2065.2 1434.4 2065.8 1456.0 2066.8 1437.0 2067.8 1456.0 2068.8 1449.2 2069.0 1453.6 2069.8 1456.0 2070.8 1445.8 2071.8 1431.9 2072.8 1422.9 2073.8 1426.2 2074.8 1404.4 2075.2 1392.6 2075.8 1394.3 2076.8 1411.1 2077.8 1414.1 2078.8 1419.0" stroke="#ff0000" stroke-dasharray="21.8 5.5 10.9 5.4"/>
<path d="M247.8 1469.5 248.8 1473.9 249.8 1467.3 250.2 1485.1 250.8 1484.1 251.8 1479.7 252.8 1482.5 253.8 1485.1 254.0 1473.4 254.8 1473.9 255.8 1469.7 256.8 1474.6 257.8 1466.0 258.8 1459.2 259.8 1457.5 260.8 1457.5 261.5 1461.6 261.8 1457.5 262.8 1470.5 263.8 1471.2 264.8 1479.2 265.2 1478.4 265.8 1480.0 266.8 1470.0 267.8 1469.6 268.8 1474.6 269.0 1470.5 269.8 1455.8 270.8 1463.0 271.8 1463.3 272.8 1456.7 273.8 1460.3 274.8 1450.0 275.8 1450.0 276.5 1459.2 276.8 1454.3 277.8 1465.8 278.8 1485.1 279.8 1495.1 280.2 1489.3 280.8 1491.6 281.8 1503.4 282.8 1494.4 283.8 1491.2 284.0 1493.3 284.8 1494.5 285.8 1486.9 286.8 1505.4 287.8 1505.4 288.8 1517.2 289.8 1509.0 290.8 1513.5 291.5 1515.2 291.8 1512.3 292.8 1520.0 293.8 1518.2 294.8 1508.2 295.2 1511.5 295.8 1499.3 296.8 1492.6 297.8 1490.5 298.8 1483.1 299.0 1475.7 299.8 1463.6 300.8 1478.3 301.8 1465.5 302.8 1462.7 303.8 1470.1 304.8 1468.2 305.8 1477.0 306.5 1470.8 306.8 1480.5 307.8 1482.3 308.8 1494.5 309.8 1499.5 310.2 1504.2 310.8 1500.7 311.8 1499.3 312.8 1507.0 313.8 1497.3 314.0 1498.3 314.8 1480.7 315.8 1468.9 316.8 1459.8 317.8 1453.0 318.8 1456.8 319.8 1463.6 320.2 1458.1 320.8 1464.9 321.8 1461.5 322.8 1487.8 323.8 1486.9 324.0 1494.1 324.8 1507.1 325.8 1512.3 326.8 1528.6 327.8 1538.6 328.8 1539.3 329.8 1542.5 330.8 1536.8 331.5 1532.9 331.8 1531.8 332.8 1545.0 333.8 1530.0 334.8 1533.8 335.2 1535.2 335.8 1530.8 336.8 1534.2 337.8 1530.7 338.8 1537.5 339.0 1539.7 339.8 1536.6 340.8 1538.5 341.8 1537.1 342.8 1530.9 343.8 1511.3 344.8 1516.5 345.8 1507.5 346.5 1502.5 346.8 1514.2 347.8 1491.8 348.8 1490.7 349.8 1473.5 350.2 1480.2 350.8 1478.8 351.8 1473.3 352.8 1463.3 353.8 1452.9 354.0 1450.0 354.8 1436.7 355.8 1427.4 356.8 1411.6 357.8 1402.5 358.8 1400.0 359.8 1410.2 360.8 1415.6 361.5 1408.5 361.8 1406.3 362.8 1410.9 363.8 1431.7 364.8 1450.0 365.2 1441.4 365.8 1441.2 366.8 1446.9 367.8 1441.8 368.8 1454.8 369.0 1447.8 369.8 1456.2 370.8 1453.8 371.8 1464.6 372.8 1457.7 373.8 1463.8 374.0 1460.2 374.8 1453.6 375.8 1444.5 376.8 1449.6 377.8 1449.5 378.8 1442.2 379.0 1449.8 379.8 1445.3 380.8 1445.5 381.8 1456.4 382.8 1465.0 383.8 1457.3 384.0 1452.2 384.8 1457.0 385.8 1467.5 386.8 1458.0 387.8 1450.2 388.8 1463.1 389.8 1474.7 390.8 1499.1 391.5 1495.2 391.8 1491.9 392.8 1484.7 393.8 1454.7 394.0 1446.4 394.8 1449.7 395.8 1440.5 396.8 1433.7 397.8 1436.0 398.8 1423.7 399.8 1400.0 400.2 1408.1 400.8 1412.0 401.8 1413.9 402.8 1403.2 403.8 1405.1 404.0 1411.6 404.8 1417.3 405.8 1412.8 406.8 1426.2 407.8 1427.5 408.8 1439.2 409.8 1429.4 410.8 1436.3 411.5 1447.6 411.8 1439.1 412.8 1452.7 413.8 1436.1 414.8 1448.0 415.8 1449.3 416.5 1446.6 416.8 1450.0 417.8 1440.0 418.8 1455.3 419.8 1446.8 420.2 1461.6 420.8 1474.0 421.8 1468.8 422.8 1467.3 423.8 1487.9 424.0 1484.2 424.8 1482.3 425.8 1492.3 426.8 1488.4 427.8 1499.3 428.8 1494.6 429.8 1489.2 430.8 1492.0 431.5 1490.0 431.8 1468.8 432.8 1461.4 433.8 1468.2 434.8 1450.9 435.2 1447.0 435.8 1439.1 436.8 1431.3 437.8 1429.0 438.5 1414.0 438.8 1411.6 439.8 1415.1 440.8 1411.9 441.5 1425.9 441.8 1441.0 442.8 1450.0 443.8 1441.2 444.8 1449.7 445.2 1457.7 445.8 1470.0 446.8 1466.0 447.8 1485.6 448.8 1477.8 449.0 1482.3 449.8 1486.3 450.8 1485.6 451.8 1476.3 452.8 1488.3 453.8 1491.3 454.8 1476.4 455.8 1478.5 456.5 1470.9 456.8 1480.8 457.8 1475.4 458.8 1478.0 459.8 1475.9 460.2 1480.7 460.8 1490.2 461.8 1482.4 462.8 1484.3 463.8 1500.0 464.0 1499.5 464.8 1500.0 465.8 1495.4 466.8 1473.2 467.8 1471.4 468.8 1465.1 469.8 1441.5 470.8 1433.3 471.5 1430.6 471.8 1425.0 472.8 1437.4 473.8 1459.6 474.8 1459.6 475.2 1458.1 475.8 1460.1 476.8 1475.1 477.8 1482.3 478.8 1496.4 479.0 1492.2 479.8 1488.3 480.8 1488.5 481.8 1511.9 482.8 1520.4 483.8 1525.0 484.8 1511.2 485.8 1515.9 486.5 1514.8 486.8 1507.1 487.8 1513.8 488.8 1502.4 489.8 1507.0 490.2 1498.3 490.8 1503.2 491.8 1485.0 492.8 1488.5 493.8 1498.7 494.0 1488.2 494.8 1486.0 495.8 1501.5 496.8 1507.9 497.8 1517.1 498.8 1503.9 499.8 1498.5 500.8 1491.1 501.5 1479.1 501.8 1463.2 502.8 1472.1 503.8 1473.1 504.8 1472.5 505.2 1460.4 505.8 1457.9 506.8 1461.4 507.8 1452.0 508.8 1458.0 509.0 1445.7 509.8 1451.0 510.8 1446.3 511.8 1438.8 512.8 1432.4 513.8 1422.7 514.8 1427.1 515.8 1413.0 516.5 1423.7 516.8 1409.5 517.8 1398.3 518.8 1373.5 519.0 1375.1 519.8 1385.7 520.8 1393.3 521.5 1396.6 521.8 1409.4 522.8 1403.8 523.8 1400.3 524.0 1413.2 524.8 1416.1 525.8 1426.6 526.8 1431.4 527.8 1449.1 528.8 1454.4 529.8 1463.7 530.8 1480.0 531.5 1474.0 531.8 1465.5 532.8 1454.3 533.8 1465.1 534.8 1454.0 535.2 1448.9 535.8 1448.9 536.8 1443.2 537.8 1445.8 538.8 1430.8 539.0 1432.0 539.8 1430.0 540.8 1436.0 541.8 1440.6 542.8 1434.8 543.8 1434.5 544.8 1446.5 545.8 1447.2 546.5 1449.1 546.8 1447.9 547.8 1462.7 548.8 1459.6 549.8 1468.0 550.2 1475.0 550.8 1484.2 551.8 1480.4 552.8 1470.6 553.8 1467.2 554.0 1475.8 554.8 1470.4 555.8 1480.9 556.8 1488.0 557.8 1486.0 558.8 1486.8 559.8 1496.9 560.8 1512.4 561.5 1515.6 561.8 1520.0 562.8 1518.6 563.8 1506.3 564.8 1505.9 565.2 1499.8 565.8 1501.6 566.8 1494.3 567.8 1495.8 568.8 1478.5 569.0 1477.2 569.8 1459.6 570.8 1460.6 571.8 1459.7 572.8 1453.8 573.8 1448.6 574.8 1445.7 575.8 1453.9 576.5 1458.3 576.8 1445.7 577.8 1441.8 578.8 1446.3 579.8 1446.1 580.2 1441.2 580.8 1440.6 581.8 1456.8 582.8 1454.4 583.8 1481.3 584.0 1473.9 584.8 1481.9 585.8 1482.9 586.8 1489.0 587.8 1496.6 588.8 1500.2 589.8 1522.1 590.8 1512.9 591.5 1526.8 591.8 1527.0 592.8 1512.4 593.8 1501.0 594.8 1486.8 595.2 1475.7 595.8 1468.9 596.8 1450.9 597.8 1454.5 598.8 1456.5 599.0 1448.2 599.8 1445.0 600.8 1460.0 601.8 1464.3 602.8 1474.4 603.8 1470.7 604.8 1480.1 605.8 1474.2 606.5 1478.3 606.8 1485.9 607.8 1486.9 608.8 1488.3 609.8 1486.4 610.2 1483.1 610.8 1495.7 611.8 1491.5 612.8 1488.8 613.8 1503.5 614.0 1501.7 614.8 1505.0 615.8 1516.3 616.8 1512.1 617.8 1522.1 618.8 1536.3 619.8 1538.7 620.8 1540.9 621.5 1544.9 621.8 1534.1 622.8 1535.7 623.8 1534.1 624.8 1550.0 625.2 1551.6 625.8 1553.3 626.8 1522.8 627.8 1536.9 628.8 1531.4 629.0 1535.6 629.8 1517.7 630.8 1517.3 631.8 1523.5 632.8 1513.6 633.8 1504.0 634.8 1514.6 635.8 1511.7 636.5 1502.3 636.8 1504.9 637.8 1492.7 638.8 1486.5 639.8 1475.4 640.2 1475.1 640.8 1472.4 641.8 1469.9 642.8 1448.7 643.8 1453.5 644.0 1449.8 644.8 1444.1 645.8 1449.2 646.8 1437.6 647.8 1437.1 648.8 1434.7 649.8 1438.7 650.8 1430.6 651.5 1436.1 651.8 1445.5 652.8 1446.8 653.8 1469.1 654.8 1475.1 655.2 1483.4 655.8 1478.5 656.8 1478.7 657.8 1476.1 658.8 1461.7 659.0 1470.1 659.8 1455.0 660.8 1457.0 661.8 1451.8 662.8 1445.5 663.8 1443.7 664.8 1440.0 665.8 1461.2 666.5 1451.8 666.8 1456.0 667.8 1453.0 668.8 1444.8 669.8 1462.3 670.2 1466.0 670.8 1457.1 671.8 1476.1 672.8 1480.0 673.8 1487.0 674.0 1485.8 674.8 1508.7 675.8 1491.3 676.8 1496.7 677.8 1500.5 678.8 1503.7 679.8 1518.1 680.8 1517.8 681.5 1521.0 681.8 1522.8 682.8 1520.9 683.8 1527.1 684.8 1507.8 685.2 1523.7 685.8 1525.0 686.8 1507.0 687.8 1512.8 688.8 1507.1 689.0 1503.9 689.8 1505.0 690.8 1485.0 691.8 1485.0 692.8 1491.5 693.8 1507.1 694.8 1510.0 695.8 1510.0 696.5 1517.9 696.8 1520.0 697.8 1512.9 698.8 1495.2 699.8 1507.0 700.2 1498.8 700.8 1498.0 701.8 1506.3 702.8 1494.9 703.8 1503.1 704.0 1495.6 704.8 1485.7 705.8 1465.9 706.8 1449.0 707.8 1447.2 708.8 1434.6 709.8 1438.4 710.8 1425.0 711.5 1424.1 711.8 1421.5 712.8 1428.2 713.8 1422.0 714.8 1430.7 715.2 1434.3 715.8 1435.0 716.8 1432.8 717.8 1443.0 718.8 1472.8 719.0 1466.2 719.8 1476.6 720.8 1486.8 721.8 1495.3 722.8 1500.9 723.8 1503.1 724.8 1507.3 725.8 1510.7 726.5 1511.8 726.8 1510.3 727.8 1504.1 728.8 1489.9 729.8 1479.5 730.2 1485.3 730.8 1491.9 731.8 1482.1 732.8 1490.9 733.8 1470.7 734.0 1478.4 734.8 1476.0 735.8 1474.9 736.8 1463.5 737.8 1463.6 738.8 1473.0 739.8 1468.4 740.8 1478.1 741.5 1470.1 741.8 1465.2 742.8 1463.5 743.8 1467.7 744.8 1450.0 745.2 1455.1 745.8 1452.3 746.8 1466.7 747.8 1471.6 748.8 1482.8 749.0 1482.4 749.8 1489.6 750.8 1494.2 751.8 1500.5 752.8 1499.8 753.8 1511.2 754.8 1518.4 755.8 1524.0 756.5 1519.7 756.8 1525.0 757.8 1515.0 758.8 1517.6 759.8 1503.4 760.2 1498.8 760.8 1497.3 761.8 1499.0 762.8 1494.4 763.8 1473.2 764.0 1480.5 764.8 1472.9 765.8 1465.1 766.8 1485.6 767.8 1472.5 768.8 1469.9 769.8 1461.7 770.8 1461.4 771.5 1450.6 771.8 1449.0 772.8 1447.5 773.8 1445.0 774.8 1460.6 775.2 1454.4 775.8 1459.2 776.8 1459.1 777.8 1457.2 778.8 1442.5 779.0 1447.5 779.8 1456.2 780.8 1457.4 781.8 1453.8 782.8 1449.3 783.8 1455.9 784.8 1456.8 785.8 1464.8 786.5 1475.5 786.8 1485.5 787.8 1488.0 788.8 1486.9 789.8 1493.1 790.2 1502.8 790.8 1504.0 791.8 1513.4 792.8 1516.2 793.8 1513.6 794.0 1513.3 794.8 1512.5 795.8 1503.8 796.8 1491.2 797.8 1489.0 798.8 1475.8 799.8 1477.1 800.8 1476.1 801.5 1465.9 801.8 1471.0 802.8 1463.6 803.8 1448.7 804.8 1456.3 805.2 1445.5 805.8 1443.3 806.8 1441.1 807.8 1423.5 808.8 1422.2 809.0 1420.6 809.8 1415.0 810.8 1415.0 811.8 1419.9 812.8 1426.5 813.8 1425.4 814.8 1439.0 815.8 1433.7 816.5 1437.6 816.8 1443.5 817.8 1448.9 818.8 1451.0 819.8 1462.9 820.2 1466.0 820.8 1459.5 821.8 1467.5 822.8 1463.9 823.8 1472.0 824.0 1480.3 824.8 1487.8 825.8 1482.6 826.8 1492.5 827.8 1487.2 828.8 1499.2 829.8 1500.0 830.8 1492.0 831.5 1494.7 831.8 1481.2 832.8 1476.7 833.8 1484.2 834.8 1466.8 835.2 1464.8 835.8 1471.0 836.8 1449.0 837.8 1440.1 838.8 1435.0 839.0 1440.9 839.8 1449.1 840.8 1451.0 841.8 1447.2 842.8 1449.0 843.8 1455.7 844.0 1453.7 844.8 1455.0 845.8 1453.7 846.8 1440.3 847.8 1432.7 848.8 1434.9 849.0 1441.1 849.8 1439.4 850.8 1448.9 851.8 1429.9 852.8 1435.6 853.8 1439.4 854.0 1428.0 854.8 1417.7 855.8 1419.9 856.8 1414.6 857.8 1407.6 858.8 1400.0 859.8 1406.3 860.8 1405.0 861.5 1405.5 861.8 1408.0 862.8 1410.1 863.8 1417.5 864.0 1424.3 864.8 1410.6 865.8 1422.1 866.5 1418.5 866.8 1419.9 867.8 1426.1 868.8 1448.9 869.8 1455.6 870.2 1457.8 870.8 1458.8 871.8 1466.4 872.8 1463.9 873.8 1470.0 874.0 1464.6 874.8 1458.3 875.8 1453.4 876.8 1439.9 877.8 1427.0 878.8 1419.2 879.8 1412.1 880.8 1405.8 881.5 1409.3 881.8 1405.0 882.8 1418.8 883.8 1419.4 884.8 1420.8 885.2 1420.4 885.8 1408.3 886.8 1425.0 887.8 1435.6 888.8 1437.2 889.0 1428.3 889.8 1438.3 890.8 1438.7 891.8 1451.9 892.8 1448.3 893.8 1454.7 894.8 1450.2 895.8 1462.3 896.5 1456.9 896.8 1462.5 897.8 1460.3 898.8 1457.3 899.8 1441.1 900.2 1443.9 900.8 1463.4 901.8 1441.8 902.8 1437.5 903.8 1454.9 904.0 1450.3 904.8 1458.8 905.8 1468.5 906.5 1475.8 906.8 1474.5 907.8 1486.3 908.8 1486.8 909.0 1501.2 909.8 1520.3 910.8 1506.3 911.8 1513.0 912.8 1512.9 913.8 1524.0 914.8 1530.0 915.8 1530.0 916.5 1526.7 916.8 1529.8 917.8 1509.4 918.8 1501.9 919.8 1497.6 920.2 1500.6 920.8 1502.7 921.8 1496.7 922.8 1491.9 923.8 1482.2 924.0 1486.0 924.8 1485.4 925.8 1480.9 926.8 1482.6 927.8 1474.0 928.8 1461.9 929.8 1472.5 930.8 1468.9 931.5 1458.8 931.8 1465.5 932.8 1460.3 933.8 1481.5 934.8 1495.0 935.2 1492.2 935.8 1492.9 936.8 1500.1 937.8 1510.0 938.8 1503.0 939.0 1504.9 939.8 1507.1 940.8 1510.0 941.8 1506.4 942.8 1503.3 943.8 1498.3 944.8 1490.4 945.8 1487.9 946.5 1479.9 946.8 1485.6 947.8 1480.3 948.8 1473.6 949.8 1472.0 950.2 1471.9 950.8 1478.0 951.8 1461.5 952.8 1460.1 953.8 1451.6 954.0 1460.5 954.8 1460.1 955.8 1462.6 956.8 1452.9 957.8 1448.2 958.8 1446.0 959.8 1438.7 960.8 1452.9 961.5 1444.6 961.8 1444.6 962.8 1438.4 963.8 1411.2 964.8 1400.0 965.2 1402.2 965.8 1403.3 966.8 1411.5 967.8 1400.3 968.8 1400.0 969.0 1407.3 969.8 1413.2 970.8 1420.0 971.8 1420.8 972.8 1427.2 973.8 1432.8 974.8 1437.9 975.8 1439.4 976.5 1452.9 976.8 1458.0 977.8 1460.2 978.8 1475.9 979.8 1474.4 980.2 1475.9 980.8 1460.8 981.8 1472.9 982.8 1480.4 983.8 1494.9 984.0 1495.5 984.8 1500.6 985.8 1500.5 986.8 1499.1 987.8 1506.6 988.8 1510.4 989.8 1508.2 990.8 1511.9 991.5 1511.5 991.8 1504.8 992.8 1526.8 993.8 1521.4 994.8 1515.3 995.2 1522.0 995.8 1522.1 996.8 1522.7 997.8 1531.7 998.8 1552.8 999.0 1554.5 999.8 1550.1 1000.8 1546.8 1001.8 1542.8 1002.8 1547.4 1003.8 1536.8 1004.8 1538.5 1005.8 1517.5 1006.5 1510.7 1006.8 1504.3 1007.8 1502.5 1008.8 1498.7 1009.8 1510.5 1010.2 1493.2 1010.8 1496.3 1011.8 1479.5 1012.8 1471.9 1013.8 1470.0 1014.0 1474.6 1014.8 1481.1 1015.8 1477.4 1016.8 1469.6 1017.8 1478.7 1018.8 1474.1 1019.8 1464.8 1020.8 1460.3 1021.5 1450.6 1021.8 1446.9 1022.8 1434.1 1023.8 1417.7 1024.0 1410.9 1024.8 1412.2 1025.8 1419.0 1026.8 1432.5 1027.8 1427.4 1028.8 1445.1 1029.8 1432.6 1030.8 1453.9 1031.5 1449.4 1031.8 1450.3 1032.8 1430.2 1033.8 1440.2 1034.8 1444.5 1035.2 1436.2 1035.8 1425.7 1036.8 1418.4 1037.8 1427.6 1038.8 1423.0 1039.0 1421.4 1039.8 1441.6 1040.8 1451.2 1041.8 1473.2 1042.8 1465.9 1043.8 1465.4 1044.8 1477.6 1045.8 1484.3 1046.5 1485.3 1046.8 1487.6 1047.8 1476.6 1048.8 1490.0 1049.8 1482.9 1050.2 1480.6 1050.8 1468.3 1051.8 1466.6 1052.8 1447.6 1053.8 1440.0 1054.0 1445.5 1054.8 1442.2 1055.8 1442.6 1056.8 1459.5 1057.8 1453.4 1058.8 1459.9 1059.8 1469.9 1060.8 1478.6 1061.5 1481.4 1061.8 1477.2 1062.8 1479.4 1063.8 1493.0 1064.8 1490.7 1065.2 1491.6 1065.8 1487.8 1066.8 1487.0 1067.8 1478.2 1068.8 1491.1 1069.0 1505.2 1069.8 1520.8 1070.8 1510.6 1071.8 1520.1 1072.8 1523.6 1073.8 1515.3 1074.8 1523.8 1075.8 1528.0 1076.5 1524.1 1076.8 1516.0 1077.8 1522.3 1078.8 1510.8 1079.8 1521.7 1080.2 1515.5 1080.8 1518.1 1081.8 1502.4 1082.8 1496.8 1083.8 1501.6 1084.0 1497.1 1084.8 1498.8 1085.8 1504.3 1086.8 1490.0 1087.8 1492.8 1088.8 1510.8 1089.8 1504.5 1090.8 1504.9 1091.5 1501.7 1091.8 1499.5 1092.8 1493.6 1093.8 1514.4 1094.8 1511.0 1095.2 1513.5 1095.8 1518.2 1096.8 1514.7 1097.8 1517.1 1098.8 1513.6 1099.0 1509.9 1099.8 1502.8 1100.8 1489.5 1101.8 1490.9 1102.8 1486.6 1103.8 1495.6 1104.8 1470.7 1105.8 1470.0 1106.5 1475.0 1106.8 1471.4 1107.8 1476.1 1108.8 1495.0 1109.8 1488.9 1110.2 1491.1 1110.8 1494.5 1111.8 1489.8 1112.8 1475.5 1113.8 1469.9 1114.0 1476.2 1114.8 1464.4 1115.8 1461.6 1116.8 1463.7 1117.8 1450.2 1118.8 1451.5 1119.8 1461.3 1120.8 1457.6 1121.5 1444.1 1121.8 1442.1 1122.8 1437.5 1123.8 1451.8 1124.8 1459.4 1125.2 1464.1 1125.8 1474.5 1126.8 1475.9 1127.8 1471.4 1128.8 1474.8 1129.0 1479.8 1129.8 1490.1 1130.8 1491.4 1131.8 1497.4 1132.8 1503.3 1133.8 1507.4 1134.8 1502.2 1135.8 1487.9 1136.5 1492.7 1136.8 1480.0 1137.8 1492.5 1138.8 1473.8 1139.8 1471.0 1140.2 1479.3 1140.8 1483.0 1141.8 1482.7 1142.8 1472.5 1143.8 1464.3 1144.0 1466.0 1144.8 1465.7 1145.8 1453.8 1146.8 1451.3 1147.8 1448.2 1148.8 1452.5 1149.8 1462.9 1150.8 1472.4 1151.5 1482.0 1151.8 1484.8 1152.8 1490.9 1153.8 1491.4 1154.8 1493.8 1155.2 1517.6 1155.8 1505.3 1156.8 1531.1 1157.8 1540.0 1158.8 1539.0 1159.0 1537.6 1159.8 1522.4 1160.8 1520.1 1161.8 1507.9 1162.8 1506.8 1163.8 1498.6 1164.8 1492.7 1165.8 1484.6 1166.5 1491.0 1166.8 1489.1 1167.8 1486.5 1168.8 1475.3 1169.8 1485.5 1170.2 1474.5 1170.8 1473.4 1171.8 1471.8 1172.8 1473.3 1173.8 1475.4 1174.0 1475.8 1174.8 1481.8 1175.8 1474.0 1176.8 1483.5 1177.8 1485.6 1178.8 1500.3 1179.8 1506.9 1180.8 1509.9 1181.5 1520.6 1181.8 1519.2 1182.8 1527.6 1183.8 1525.4 1184.8 1521.6 1185.2 1534.1 1185.8 1526.7 1186.8 1514.2 1187.8 1509.1 1188.8 1487.4 1189.0 1500.7 1189.8 1487.0 1190.8 1448.1 1191.5 1453.8 1191.8 1449.2 1192.8 1465.0 1193.8 1461.4 1194.0 1464.7 1194.8 1439.7 1195.8 1435.2 1196.8 1430.2 1197.8 1427.4 1198.8 1412.2 1199.8 1397.4 1200.8 1394.3 1201.5 1392.0 1201.8 1386.9 1202.8 1399.4 1203.8 1388.8 1204.8 1394.3 1205.2 1403.3 1205.8 1407.6 1206.8 1408.8 1207.8 1398.0 1208.8 1412.6 1209.0 1410.4 1209.8 1415.3 1210.8 1430.0 1211.8 1424.1 1212.8 1441.1 1213.8 1452.5 1214.8 1450.5 1215.8 1447.0 1216.5 1443.3 1216.8 1440.1 1217.8 1439.3 1218.8 1460.6 1219.8 1452.0 1220.2 1457.1 1220.8 1457.3 1221.8 1462.9 1222.8 1482.2 1223.8 1488.4 1224.0 1495.1 1224.8 1500.0 1225.8 1481.3 1226.8 1484.3 1227.8 1471.7 1228.8 1470.0 1229.8 1470.0 1230.8 1474.2 1231.5 1476.8 1231.8 1477.3 1232.8 1478.3 1233.8 1482.5 1234.8 1497.5 1235.2 1493.9 1235.8 1501.4 1236.8 1513.9 1237.8 1510.5 1238.8 1518.7 1239.0 1515.2 1239.8 1518.9 1240.8 1513.6 1241.8 1534.4 1242.8 1525.2 1243.8 1521.5 1244.8 1533.5 1245.8 1531.0 1246.5 1529.9 1246.8 1525.4 1247.8 1535.0 1248.8 1527.1 1249.8 1511.2 1250.2 1527.9 1250.8 1535.0 1251.8 1509.7 1252.8 1507.9 1253.8 1498.4 1254.0 1496.7 1254.8 1496.4 1255.8 1487.5 1256.8 1487.2 1257.8 1464.1 1258.8 1456.4 1259.8 1452.4 1260.2 1433.0 1260.8 1431.7 1261.8 1438.4 1262.8 1447.1 1263.8 1455.3 1264.0 1442.5 1264.8 1433.3 1265.8 1450.7 1266.8 1436.5 1267.8 1450.8 1268.8 1457.8 1269.8 1471.3 1270.8 1473.9 1271.5 1479.2 1271.8 1485.1 1272.8 1492.6 1273.8 1488.2 1274.8 1499.8 1275.2 1501.9 1275.8 1507.8 1276.8 1508.5 1277.8 1506.9 1278.8 1506.8 1279.0 1516.1 1279.8 1520.0 1280.8 1519.9 1281.8 1515.0 1282.8 1511.5 1283.8 1503.0 1284.8 1511.0 1285.8 1510.9 1286.5 1498.4 1286.8 1491.2 1287.8 1504.8 1288.8 1492.4 1289.8 1487.3 1290.2 1490.5 1290.8 1485.0 1291.8 1503.0 1292.8 1499.6 1293.8 1497.4 1294.0 1496.5 1294.8 1494.3 1295.8 1485.0 1296.8 1485.0 1297.8 1500.9 1298.8 1490.4 1299.8 1492.1 1300.8 1485.1 1301.5 1489.6 1301.8 1485.0 1302.8 1509.4 1303.8 1503.5 1304.8 1512.6 1305.2 1512.0 1305.8 1525.0 1306.8 1516.4 1307.8 1516.8 1308.8 1517.4 1309.0 1516.0 1309.8 1521.2 1310.8 1501.3 1311.8 1490.0 1312.8 1493.0 1313.8 1498.5 1314.8 1494.7 1315.8 1511.0 1316.5 1500.7 1316.8 1500.5 1317.8 1495.0 1318.8 1492.0 1319.8 1483.0 1320.2 1483.3 1320.8 1486.7 1321.8 1487.6 1322.8 1472.5 1323.8 1464.5 1324.0 1465.7 1324.8 1465.3 1325.8 1462.9 1326.8 1446.5 1327.8 1436.0 1328.8 1430.1 1329.8 1427.1 1330.8 1424.5 1331.5 1412.1 1331.8 1405.0 1332.8 1414.5 1333.8 1423.6 1334.8 1406.6 1335.2 1427.8 1335.8 1432.5 1336.8 1434.0 1337.8 1436.8 1338.8 1465.0 1339.0 1449.2 1339.8 1449.0 1340.8 1448.1 1341.8 1463.4 1342.8 1463.5 1343.8 1480.8 1344.8 1472.0 1345.8 1465.6 1346.5 1474.4 1346.8 1474.9 1347.8 1494.9 1348.8 1485.0 1349.8 1495.0 1350.2 1489.2 1350.8 1485.5 1351.8 1478.8 1352.8 1481.1 1353.8 1487.1 1354.0 1480.2 1354.8 1489.1 1355.8 1494.5 1356.8 1480.4 1357.8 1500.4 1358.8 1490.8 1359.8 1502.1 1360.8 1489.1 1361.5 1478.3 1361.8 1477.7 1362.8 1462.9 1363.8 1473.7 1364.8 1461.1 1365.2 1466.6 1365.8 1449.7 1366.8 1463.4 1367.8 1443.3 1368.8 1439.6 1369.0 1438.9 1369.8 1435.7 1370.8 1436.8 1371.8 1430.0 1372.8 1432.2 1373.8 1444.4 1374.8 1445.0 1375.8 1450.5 1376.5 1445.9 1376.8 1436.7 1377.8 1444.5 1378.8 1443.3 1379.8 1456.4 1380.2 1456.5 1380.8 1454.1 1381.8 1468.1 1382.8 1469.1 1383.8 1470.8 1384.0 1467.9 1384.8 1465.9 1385.8 1479.1 1386.8 1487.0 1387.8 1490.4 1388.8 1483.4 1389.8 1482.0 1390.8 1470.5 1391.5 1479.3 1391.8 1478.5 1392.8 1470.8 1393.8 1467.6 1394.8 1466.5 1395.2 1465.1 1395.8 1469.4 1396.8 1466.4 1397.8 1447.8 1398.8 1445.0 1399.0 1444.8 1399.8 1449.9 1400.8 1464.0 1401.8 1471.3 1402.8 1468.1 1403.8 1479.0 1404.8 1469.0 1405.8 1478.6 1406.5 1486.0 1406.8 1472.3 1407.8 1470.8 1408.8 1480.7 1409.8 1476.9 1410.2 1477.4 1410.8 1462.7 1411.8 1478.2 1412.8 1453.4 1413.8 1458.6 1414.0 1451.0 1414.8 1462.6 1415.8 1449.0 1416.8 1446.5 1417.8 1446.4 1418.8 1433.0 1419.8 1451.6 1420.8 1437.7 1421.5 1432.3 1421.8 1429.3 1422.8 1421.4 1423.8 1416.4 1424.8 1424.9 1425.2 1417.0 1425.8 1420.2 1426.8 1422.2 1427.8 1422.6 1428.8 1417.8 1429.0 1424.4 1429.8 1422.1 1430.8 1420.0 1431.8 1421.3 1432.8 1428.5 1433.8 1440.4 1434.8 1425.7 1435.8 1440.2 1436.5 1443.2 1436.8 1451.2 1437.8 1440.4 1438.8 1443.9 1439.8 1445.6 1440.2 1448.8 1440.8 1448.7 1441.8 1462.4 1442.8 1455.7 1443.8 1456.1 1444.0 1461.1 1444.8 1467.6 1445.8 1471.2 1446.8 1494.5 1447.8 1501.7 1448.8 1501.2 1449.8 1514.5 1450.2 1530.0 1450.8 1526.2 1451.8 1520.2 1452.8 1508.0 1453.8 1513.9 1454.0 1517.0 1454.8 1504.1 1455.8 1508.2 1456.8 1491.9 1457.8 1499.5 1458.8 1496.5 1459.8 1496.9 1460.8 1486.1 1461.5 1490.4 1461.8 1492.4 1462.8 1483.7 1463.8 1483.3 1464.8 1497.4 1465.2 1486.0 1465.8 1488.7 1466.8 1505.0 1467.8 1490.2 1468.8 1497.3 1469.0 1497.6 1469.8 1488.2 1470.8 1492.3 1471.8 1480.9 1472.8 1482.2 1473.8 1480.3 1474.8 1470.0 1475.8 1477.9 1476.5 1478.0 1476.8 1486.1 1477.8 1472.6 1478.8 1489.7 1479.8 1492.8 1480.2 1496.7 1480.8 1500.9 1481.8 1492.9 1482.8 1488.4 1483.8 1483.6 1484.0 1498.1 1484.8 1495.2 1485.8 1493.6 1486.8 1508.2 1487.8 1509.7 1488.8 1505.4 1489.8 1508.0 1490.8 1508.4 1491.5 1519.6 1491.8 1518.8 1492.8 1521.4 1493.8 1520.8 1494.8 1517.7 1495.2 1515.5 1495.8 1512.9 1496.8 1501.3 1497.8 1484.3 1498.8 1482.2 1499.0 1483.2 1499.8 1478.7 1500.8 1471.7 1501.8 1459.6 1502.8 1461.6 1503.8 1456.6 1504.8 1443.8 1505.8 1450.8 1506.5 1441.4 1506.8 1442.7 1507.8 1451.1 1508.8 1474.1 1509.8 1481.6 1510.2 1477.6 1510.8 1484.3 1511.8 1489.9 1512.8 1493.4 1513.8 1496.6 1514.0 1490.3 1514.8 1487.9 1515.8 1501.8 1516.8 1504.3 1517.8 1508.9 1518.8 1504.1 1519.8 1495.1 1520.8 1493.3 1521.5 1492.1 1521.8 1494.1 1522.8 1483.7 1523.8 1484.7 1524.8 1476.4 1525.2 1465.2 1525.8 1463.0 1526.8 1459.9 1527.8 1469.7 1528.8 1455.1 1529.0 1453.3 1529.8 1445.0 1530.8 1455.2 1531.8 1461.3 1532.8 1462.5 1533.8 1459.2 1534.8 1465.0 1535.8 1460.6 1536.5 1447.8 1536.8 1433.8 1537.8 1454.6 1538.8 1440.1 1539.8 1444.3 1540.2 1440.6 1540.8 1437.0 1541.8 1432.3 1542.8 1415.8 1543.8 1418.7 1544.0 1413.7 1544.8 1430.0 1545.8 1438.6 1546.5 1450.4 1546.8 1454.1 1547.8 1445.0 1548.8 1461.5 1549.8 1449.1 1550.2 1469.8 1550.8 1463.7 1551.8 1474.7 1552.8 1470.4 1553.8 1488.8 1554.0 1477.6 1554.8 1485.3 1555.8 1489.1 1556.8 1487.2 1557.8 1494.5 1558.8 1479.3 1559.8 1496.2 1560.8 1473.2 1561.5 1470.2 1561.8 1467.0 1562.8 1464.1 1563.8 1454.4 1564.8 1453.7 1565.2 1448.8 1565.8 1455.7 1566.8 1456.4 1567.8 1445.0 1568.8 1452.5 1569.0 1454.5 1569.8 1464.4 1570.8 1468.2 1571.8 1474.5 1572.8 1477.2 1573.8 1474.3 1574.8 1469.9 1575.8 1498.1 1576.5 1501.4 1576.8 1499.8 1577.8 1505.1 1578.8 1521.7 1579.8 1535.0 1580.2 1529.2 1580.8 1516.9 1581.8 1515.5 1582.8 1496.9 1583.8 1505.0 1584.0 1495.0 1584.8 1496.1 1585.8 1489.6 1586.8 1493.0 1587.8 1495.9 1588.8 1509.5 1589.8 1528.6 1590.8 1531.1 1591.5 1538.3 1591.8 1538.1 1592.8 1528.5 1593.8 1515.9 1594.8 1514.7 1595.2 1506.7 1595.8 1490.7 1596.8 1501.5 1597.8 1491.3 1598.8 1489.0 1599.0 1495.7 1599.8 1491.2 1600.8 1477.5 1601.8 1478.1 1602.8 1465.9 1603.8 1465.7 1604.8 1468.3 1605.8 1459.0 1606.5 1457.1 1606.8 1450.0 1607.8 1459.8 1608.8 1465.4 1609.8 1479.2 1610.2 1475.2 1610.8 1480.5 1611.8 1500.2 1612.8 1521.4 1613.8 1545.1 1614.0 1546.4 1614.8 1542.6 1615.8 1530.8 1616.8 1521.8 1617.8 1523.8 1618.8 1524.6 1619.8 1513.9 1620.8 1508.4 1621.5 1500.6 1621.8 1508.7 1622.8 1487.4 1623.8 1502.5 1624.8 1472.1 1625.2 1487.7 1625.8 1477.7 1626.8 1486.1 1627.8 1474.6 1628.8 1468.4 1629.0 1464.7 1629.8 1467.5 1630.8 1458.0 1631.8 1442.4 1632.8 1433.3 1633.8 1432.2 1634.8 1445.8 1635.8 1440.6 1636.5 1441.2 1636.8 1445.2 1637.8 1453.3 1638.8 1459.5 1639.8 1465.4 1640.2 1454.8 1640.8 1449.1 1641.8 1453.3 1642.8 1464.7 1643.8 1483.3 1644.0 1472.6 1644.8 1466.1 1645.8 1485.4 1646.8 1483.6 1647.8 1492.2 1648.8 1491.0 1649.8 1510.0 1650.2 1502.1 1650.8 1498.1 1651.8 1490.2 1652.8 1481.3 1653.8 1472.3 1654.0 1462.1 1654.8 1464.9 1655.8 1452.5 1656.8 1454.6 1657.8 1447.8 1658.8 1454.0 1659.8 1467.0 1660.8 1471.3 1661.5 1475.0 1661.8 1474.7 1662.8 1468.2 1663.8 1490.0 1664.8 1490.0 1665.2 1486.2 1665.8 1489.1 1666.8 1474.9 1667.8 1462.6 1668.8 1451.5 1669.0 1449.9 1669.8 1447.3 1670.8 1440.0 1671.8 1454.3 1672.8 1445.1 1673.8 1447.0 1674.8 1445.9 1675.8 1454.2 1676.5 1465.5 1676.8 1469.0 1677.8 1474.8 1678.8 1467.6 1679.8 1478.2 1680.2 1484.1 1680.8 1477.0 1681.8 1485.4 1682.8 1493.9 1683.8 1502.7 1684.0 1499.0 1684.8 1513.5 1685.8 1517.4 1686.8 1511.8 1687.8 1521.8 1688.8 1517.4 1689.8 1511.0 1690.8 1505.4 1691.5 1506.7 1691.8 1503.4 1692.8 1496.5 1693.8 1484.4 1694.8 1474.3 1695.2 1474.6 1695.8 1462.7 1696.8 1472.7 1697.8 1471.2 1698.8 1455.4 1699.0 1452.7 1699.8 1450.0 1700.8 1451.9 1701.8 1465.3 1702.8 1470.2 1703.8 1464.7 1704.8 1464.8 1705.8 1449.5 1706.5 1456.7 1706.8 1457.8 1707.8 1462.7 1708.8 1450.1 1709.8 1447.0 1710.2 1440.5 1710.8 1431.4 1711.8 1427.0 1712.8 1428.4 1713.8 1424.6 1714.0 1422.7 1714.8 1428.2 1715.8 1429.7 1716.8 1424.1 1717.8 1422.4 1718.8 1417.2 1719.8 1425.5 1720.8 1429.4 1721.5 1439.7 1721.8 1434.5 1722.8 1453.9 1723.8 1467.4 1724.8 1480.5 1725.2 1488.9 1725.8 1490.8 1726.8 1482.9 1727.8 1483.8 1728.8 1488.9 1729.0 1478.7 1729.8 1471.9 1730.8 1461.3 1731.8 1466.6 1732.8 1449.6 1733.8 1439.1 1734.8 1436.6 1735.8 1435.7 1736.5 1430.7 1736.8 1424.7 1737.8 1405.7 1738.8 1403.2 1739.8 1398.4 1740.2 1392.2 1740.8 1397.8 1741.8 1397.5 1742.8 1412.6 1743.8 1416.0 1744.0 1420.3 1744.8 1428.4 1745.8 1421.1 1746.8 1445.7 1747.8 1451.1 1748.8 1449.3 1749.8 1462.9 1750.8 1465.0 1751.5 1466.2 1751.8 1470.0 1752.8 1460.7 1753.8 1450.8 1754.8 1447.5 1755.2 1455.1 1755.8 1449.0 1756.8 1448.8 1757.8 1450.8 1758.8 1438.2 1759.0 1450.5 1759.8 1449.7 1760.8 1439.0 1761.8 1436.7 1762.8 1440.4 1763.8 1439.0 1764.8 1439.1 1765.8 1433.3 1766.5 1436.1 1766.8 1442.7 1767.8 1445.0 1768.8 1443.7 1769.8 1445.0 1770.2 1438.9 1770.8 1434.3 1771.8 1430.0 1772.8 1445.0 1773.8 1447.8 1774.0 1439.4 1774.8 1447.8 1775.8 1453.7 1776.8 1441.1 1777.8 1448.7 1778.8 1454.8 1779.8 1447.4 1780.8 1458.2 1781.5 1463.5 1781.8 1461.7 1782.8 1457.5 1783.8 1445.0 1784.8 1445.0 1785.2 1456.7 1785.8 1454.1 1786.8 1448.4 1787.8 1462.3 1788.8 1457.6 1789.0 1447.1 1789.8 1448.1 1790.8 1456.4 1791.8 1451.9 1792.8 1451.0 1793.8 1455.7 1794.0 1453.6 1794.8 1462.6 1795.8 1478.6 1796.8 1497.2 1797.8 1497.1 1798.8 1494.0 1799.8 1485.0 1800.8 1480.9 1801.5 1470.5 1801.8 1469.3 1802.8 1467.8 1803.8 1461.5 1804.8 1436.9 1805.2 1443.0 1805.8 1437.6 1806.8 1451.7 1807.8 1438.3 1808.8 1435.0 1809.0 1438.4 1809.8 1438.6 1810.8 1451.1 1811.8 1470.0 1812.8 1465.1 1813.8 1456.7 1814.8 1458.1 1815.8 1454.0 1816.5 1449.7 1816.8 1439.5 1817.8 1431.7 1818.8 1435.0 1819.8 1429.7 1820.2 1430.8 1820.8 1436.4 1821.8 1424.8 1822.8 1422.5 1823.8 1427.8 1824.0 1422.1 1824.8 1424.9 1825.8 1421.7 1826.8 1405.0 1827.8 1407.9 1828.8 1410.1 1829.8 1416.4 1830.8 1420.1 1831.5 1429.6 1831.8 1439.2 1832.8 1452.9 1833.8 1470.1 1834.0 1466.6 1834.8 1478.7 1835.8 1482.8 1836.8 1489.7 1837.8 1494.9 1838.8 1502.7 1839.8 1508.9 1840.8 1510.8 1841.5 1521.9 1841.8 1526.7 1842.8 1532.1 1843.8 1522.8 1844.8 1542.6 1845.2 1554.0 1845.8 1556.5 1846.8 1540.5 1847.8 1545.5 1848.8 1527.2 1849.0 1527.8 1849.8 1525.0 1850.8 1514.3 1851.8 1522.0 1852.8 1512.2 1853.8 1514.8 1854.8 1501.0 1855.8 1506.1 1856.5 1506.2 1856.8 1507.5 1857.8 1498.8 1858.8 1484.5 1859.8 1476.5 1860.2 1476.9 1860.8 1472.8 1861.8 1456.8 1862.8 1458.8 1863.8 1444.0 1864.0 1441.9 1864.8 1431.8 1865.8 1435.7 1866.8 1429.7 1867.8 1422.4 1868.8 1419.9 1869.8 1421.2 1870.8 1419.7 1871.5 1414.4 1871.8 1414.8 1872.8 1424.6 1873.8 1411.4 1874.8 1407.9 1875.2 1407.4 1875.8 1405.0 1876.8 1420.2 1877.8 1426.2 1878.8 1422.2 1879.0 1427.8 1879.8 1434.2 1880.8 1453.4 1881.5 1464.4 1881.8 1457.1 1882.8 1473.9 1883.8 1496.9 1884.0 1498.8 1884.8 1510.6 1885.8 1514.7 1886.8 1525.0 1887.8 1520.1 1888.8 1505.5 1889.8 1512.8 1890.8 1503.7 1891.5 1495.8 1891.8 1481.3 1892.8 1470.5 1893.8 1476.2 1894.8 1466.8 1895.2 1467.9 1895.8 1455.8 1896.8 1454.2 1897.8 1452.7 1898.8 1446.0 1899.0 1449.7 1899.8 1455.7 1900.8 1451.9 1901.8 1464.1 1902.8 1457.6 1903.8 1464.5 1904.8 1462.4 1905.8 1476.2 1906.5 1480.6 1906.8 1472.0 1907.8 1465.2 1908.8 1474.3 1909.8 1469.7 1910.2 1464.5 1910.8 1464.9 1911.8 1453.5 1912.8 1459.8 1913.8 1458.5 1914.0 1460.4 1914.8 1458.9 1915.8 1450.6 1916.8 1449.2 1917.8 1453.2 1918.8 1451.6 1919.8 1450.7 1920.8 1450.7 1921.5 1440.3 1921.8 1438.6 1922.8 1428.8 1923.8 1423.9 1924.8 1429.5 1925.2 1426.4 1925.8 1420.0 1926.8 1423.3 1927.8 1435.5 1928.8 1432.5 1929.0 1434.0 1929.8 1428.7 1930.8 1438.4 1931.8 1439.8 1932.8 1455.1 1933.8 1453.1 1934.8 1465.8 1935.8 1471.6 1936.5 1470.8 1936.8 1475.2 1937.8 1487.3 1938.8 1486.4 1939.8 1493.2 1940.2 1497.1 1940.8 1499.2 1941.8 1493.4 1942.8 1496.3 1943.8 1493.4 1944.0 1500.7 1944.8 1494.8 1945.8 1500.1 1946.8 1496.8 1947.8 1488.2 1948.8 1473.2 1949.8 1478.8 1950.8 1468.6 1951.5 1469.0 1951.8 1469.2 1952.8 1464.2 1953.8 1460.0 1954.8 1470.8 1955.2 1466.1 1955.8 1472.7 1956.8 1482.3 1957.8 1478.7 1958.8 1470.4 1959.0 1477.4 1959.8 1486.7 1960.8 1490.9 1961.8 1484.7 1962.8 1499.7 1963.8 1510.3 1964.8 1506.1 1965.8 1512.4 1966.5 1518.1 1966.8 1515.2 1967.8 1524.6 1968.8 1502.7 1969.8 1486.5 1970.2 1493.8 1970.8 1498.1 1971.8 1494.4 1972.8 1491.4 1973.8 1460.2 1974.0 1468.5 1974.8 1472.9 1975.8 1478.1 1976.8 1463.8 1977.8 1465.9 1978.8 1463.8 1979.8 1458.5 1980.8 1453.2 1981.5 1452.0 1981.8 1452.2 1982.8 1446.4 1983.8 1430.3 1984.8 1439.3 1985.2 1434.6 1985.8 1434.2 1986.8 1434.1 1987.8 1434.3 1988.8 1441.2 1989.0 1437.1 1989.8 1446.2 1990.8 1452.1 1991.8 1451.1 1992.8 1453.7 1993.8 1445.8 1994.8 1456.1 1995.8 1465.0 1996.5 1459.3 1996.8 1454.9 1997.8 1465.0 1998.8 1453.8 1999.8 1454.2 2000.2 1447.5 2000.8 1437.3 2001.8 1445.3 2002.8 1435.6 2003.8 1449.6 2004.0 1439.9 2004.8 1441.5 2005.8 1451.6 2006.8 1448.6 2007.8 1458.1 2008.8 1448.7 2009.8 1450.1 2010.8 1452.8 2011.5 1448.4 2011.8 1445.0 2012.8 1458.8 2013.8 1454.9 2014.8 1455.4 2015.2 1458.0 2015.8 1454.7 2016.8 1455.4 2017.8 1448.4 2018.8 1445.0 2019.0 1448.3 2019.8 1452.8 2020.8 1462.4 2021.8 1460.7 2022.8 1465.6 2023.8 1462.9 2024.8 1453.2 2025.8 1449.8 2026.5 1447.5 2026.8 1451.2 2027.8 1452.1 2028.8 1455.9 2029.8 1447.0 2030.2 1446.2 2030.8 1444.0 2031.8 1443.2 2032.8 1455.0 2033.8 1455.0 2034.0 1454.2 2034.8 1441.7 2035.8 1452.8 2036.8 1451.5 2037.8 1440.8 2038.8 1445.5 2039.8 1429.7 2040.8 1428.3 2041.5 1425.2 2041.8 1424.3 2042.8 1422.5 2043.8 1431.4 2044.8 1433.6 2045.2 1437.4 2045.8 1445.0 2046.8 1437.5 2047.8 1447.0 2048.8 1455.0 2049.0 1452.3 2049.8 1444.8 2050.8 1445.2 2051.8 1439.9 2052.8 1438.8 2053.8 1446.9 2054.8 1455.7 2055.8 1465.4 2056.5 1463.3 2056.8 1463.1 2057.8 1464.2 2058.8 1487.5 2059.8 1474.7 2060.2 1475.3 2060.8 1473.6 2061.8 1475.8 2062.8 1483.4 2063.8 1510.9 2064.0 1500.9 2064.8 1505.3 2065.8 1531.1 2066.8 1530.1 2067.8 1528.3 2068.8 1533.1 2069.8 1526.9 2070.8 1525.1 2071.5 1521.4 2071.8 1517.3 2072.8 1508.6 2073.8 1526.5 2074.8 1505.0 2075.2 1518.9 2075.8 1520.7 2076.8 1516.6 2077.8 1508.1 2078.8 1508.3" stroke="#00ff00" stroke-dasharray="21.8 21.8"/>
<path d="M247.8 1515.1 248.8 1495.6 249.8 1473.5 250.2 1462.5 250.8 1459.0 251.8 1456.8 252.8 1455.0 253.8 1452.4 254.0 1450.3 254.8 1452.2 255.8 1449.3 256.8 1445.8 257.8 1445.9 258.8 1444.7 259.8 1443.2 260.8 1440.0 261.5 1439.8 261.8 1440.1 262.8 1442.5 263.8 1448.2 264.8 1450.2 265.2 1450.7 265.8 1449.6 266.8 1450.5 267.8 1450.8 268.8 1448.7 269.0 1447.5 269.8 1451.0 270.8 1449.2 271.8 1450.5 272.8 1450.0 273.8 1458.8 274.8 1461.9 275.2 1464.4 275.8 1465.9 276.8 1469.3 277.8 1470.8 278.8 1472.0 279.0 1472.4 279.8 1470.8 280.8 1471.8 281.8 1472.6 282.8 1470.1 283.8 1467.7 284.8 1469.7 285.8 1469.0 286.5 1468.2 286.8 1466.0 287.8 1469.1 288.8 1471.0 289.8 1473.8 290.2 1474.5 290.8 1477.0 291.8 1480.6 292.8 1481.8 293.8 1490.4 294.0 1489.5 294.8 1489.6 295.8 1491.7 296.8 1489.0 297.8 1492.6 298.8 1489.4 299.8 1488.9 300.8 1486.4 301.5 1483.1 301.8 1483.4 302.8 1483.1 303.8 1484.0 304.8 1486.2 305.8 1485.0 306.5 1485.0 306.8 1482.2 307.8 1485.8 308.8 1487.6 309.8 1489.7 310.2 1490.1 310.8 1489.0 311.8 1487.8 312.8 1484.5 313.8 1484.5 314.0 1484.4 314.8 1483.3 315.8 1484.9 316.8 1483.7 317.8 1483.6 318.8 1485.1 319.0 1483.4 319.8 1482.7 320.8 1481.0 321.8 1479.9 322.8 1479.0 323.8 1480.8 324.0 1480.2 324.8 1477.5 325.8 1478.6 326.8 1477.0 327.8 1475.1 328.8 1474.3 329.0 1475.1 329.8 1474.5 330.8 1474.4 331.8 1472.8 332.8 1472.6 333.8 1471.7 334.0 1470.1 334.8 1469.2 335.8 1471.4 336.8 1471.9 337.8 1471.1 338.8 1472.4 339.0 1472.1 339.8 1472.0 340.8 1474.3 341.8 1474.8 342.8 1475.9 343.8 1475.7 344.0 1477.1 344.8 1478.0 345.8 1477.7 346.8 1478.3 347.8 1478.0 348.8 1478.9 349.0 1479.5 349.8 1478.9 350.8 1479.0 351.8 1479.9 352.8 1482.0 353.8 1481.1 354.0 1480.5 354.8 1480.8 355.8 1479.5 356.8 1479.4 357.8 1476.6 358.8 1476.5 359.0 1475.5 359.8 1475.8 360.8 1473.9 361.8 1474.0 362.8 1472.1 363.8 1471.7 364.0 1472.7 364.8 1472.3 365.8 1471.4 366.8 1470.1 367.8 1472.1 368.8 1470.7 369.0 1469.7 369.8 1468.8 370.8 1468.3 371.8 1467.9 372.8 1466.1 373.8 1464.1 374.0 1465.0 374.8 1466.0 375.8 1464.9 376.8 1465.0 377.8 1462.4 378.8 1462.1 379.0 1463.4 379.8 1461.5 380.8 1462.1 381.8 1461.1 382.8 1461.8 383.8 1457.8 384.0 1460.0 384.8 1458.8 385.8 1457.6 386.8 1456.9 387.8 1459.3 388.8 1456.2 389.0 1457.4 389.8 1456.9 390.8 1457.9 391.8 1459.7 392.8 1458.6 393.8 1459.0 394.0 1459.9 394.8 1460.5 395.8 1459.0 396.8 1462.3 397.8 1462.3 398.8 1458.9 399.0 1462.1 399.8 1461.9 400.8 1462.1 401.8 1463.6 402.8 1466.4 403.8 1465.2 404.0 1465.2 404.8 1465.1 405.8 1466.6 406.8 1467.3 407.8 1468.5 408.8 1467.9 409.0 1467.3 409.8 1467.8 410.8 1466.9 411.8 1465.2 412.8 1467.2 413.8 1464.5 414.0 1465.1 414.8 1463.7 415.8 1464.4 416.8 1463.1 417.8 1465.8 418.8 1465.5 419.0 1465.1 419.8 1464.6 420.8 1466.1 421.8 1466.7 422.8 1468.9 423.8 1466.9 424.0 1467.7 424.8 1467.8 425.8 1465.1 426.8 1465.2 427.8 1464.1 428.8 1464.4 429.0 1464.7 429.8 1465.1 430.8 1465.8 431.8 1466.8 432.8 1465.6 433.8 1466.9 434.0 1464.9 434.8 1466.9 435.8 1464.3 436.8 1463.7 437.8 1462.0 438.8 1462.0 439.0 1462.1 439.8 1461.9 440.8 1460.7 441.8 1462.3 442.8 1461.7 443.8 1461.8 444.0 1460.0 444.8 1458.8 445.8 1459.4 446.8 1459.5 447.8 1458.0 448.8 1456.1 449.0 1457.4 449.8 1458.1 450.8 1458.7 451.8 1458.7 452.8 1459.5 453.8 1458.8 454.0 1459.9 454.8 1460.0 455.8 1462.4 456.8 1464.2 457.8 1465.8 458.8 1464.4 459.0 1464.8 459.8 1465.5 460.8 1465.8 461.8 1465.2 462.8 1465.8 463.8 1467.0 464.0 1467.7 464.8 1469.5 465.8 1469.5 466.8 1465.9 467.8 1467.2 468.8 1465.9 469.0 1464.9 469.8 1464.7 470.8 1463.2 471.8 1463.0 472.8 1465.8 473.8 1468.1 474.0 1465.3 474.8 1464.5 475.8 1465.0 476.8 1466.3 477.8 1465.5 478.8 1465.9 479.0 1465.6 479.8 1464.9 480.8 1463.9 481.8 1466.2 482.8 1469.4 483.8 1467.1 484.0 1467.5 484.8 1469.3 485.8 1466.3 486.8 1464.7 487.8 1464.1 488.8 1464.1 489.0 1464.8 489.8 1465.8 490.8 1465.1 491.8 1465.4 492.8 1469.8 493.8 1469.4 494.0 1469.8 494.8 1470.3 495.8 1470.9 496.8 1469.4 497.8 1470.2 498.8 1469.1 499.0 1469.3 499.8 1469.1 500.8 1467.8 501.8 1468.0 502.8 1467.0 503.8 1468.2 504.0 1467.7 504.8 1465.5 505.8 1466.7 506.8 1466.9 507.8 1467.5 508.8 1467.8 509.0 1467.5 509.8 1468.3 510.8 1467.0 511.8 1468.6 512.8 1470.2 513.8 1468.4 514.0 1467.1 514.8 1469.8 515.8 1466.7 516.8 1470.0 517.8 1471.0 518.8 1472.9 519.0 1472.3 519.8 1472.0 520.8 1473.4 521.8 1476.5 522.8 1477.3 523.8 1478.2 524.0 1478.3 524.8 1477.7 525.8 1475.0 526.8 1476.1 527.8 1474.2 528.8 1474.5 529.0 1475.3 529.8 1473.4 530.8 1474.4 531.8 1471.7 532.8 1469.8 533.8 1469.1 534.0 1470.4 534.8 1471.7 535.8 1470.1 536.8 1471.9 537.8 1472.5 538.8 1474.2 539.0 1473.3 539.8 1473.2 540.8 1475.3 541.8 1475.6 542.8 1476.2 543.8 1473.9 544.0 1474.5 544.8 1473.8 545.8 1474.3 546.8 1471.9 547.8 1474.2 548.8 1474.5 549.0 1472.6 549.8 1472.5 550.8 1472.3 551.8 1469.5 552.8 1468.0 553.8 1464.3 554.0 1465.5 554.8 1464.6 555.8 1465.7 556.8 1465.3 557.8 1465.2 558.8 1465.2 559.0 1464.2 559.8 1464.9 560.8 1465.7 561.8 1464.2 562.8 1465.4 563.8 1463.4 564.0 1465.0 564.8 1464.3 565.8 1466.7 566.8 1468.0 567.8 1466.3 568.8 1469.3 569.0 1467.5 569.8 1467.0 570.8 1469.2 571.8 1470.0 572.8 1469.1 573.8 1470.0 574.0 1470.4 574.8 1469.5 575.8 1471.0 576.8 1470.5 577.8 1467.5 578.8 1468.2 579.0 1467.2 579.8 1466.2 580.8 1465.2 581.8 1466.0 582.8 1463.6 583.8 1465.4 584.0 1465.9 584.8 1466.6 585.8 1467.7 586.8 1466.8 587.8 1465.9 588.8 1464.5 589.0 1465.5 589.8 1463.9 590.8 1462.5 591.8 1462.6 592.8 1462.8 593.8 1466.5 594.0 1464.1 594.8 1465.5 595.8 1464.4 596.8 1463.4 597.8 1465.3 598.8 1465.8 599.0 1464.7 599.8 1463.7 600.8 1466.8 601.8 1466.2 602.8 1468.1 603.8 1468.3 604.0 1469.6 604.8 1470.4 605.8 1472.0 606.8 1472.5 607.8 1472.5 608.8 1472.7 609.0 1472.3 609.8 1471.9 610.8 1474.0 611.8 1471.9 612.8 1470.2 613.8 1469.4 614.0 1469.8 614.8 1470.9 615.8 1469.7 616.8 1469.0 617.8 1468.0 618.8 1467.1 619.0 1467.6 619.8 1468.1 620.8 1470.3 621.8 1469.4 622.8 1471.8 623.8 1474.7 624.0 1475.1 624.8 1474.7 625.8 1476.0 626.8 1475.9 627.8 1476.1 628.8 1477.0 629.0 1477.0 629.8 1475.9 630.8 1477.5 631.8 1476.5 632.8 1474.2 633.8 1473.2 634.0 1475.0 634.8 1473.3 635.8 1473.0 636.8 1473.7 637.8 1474.2 638.8 1475.6 639.0 1475.2 639.8 1478.6 640.8 1476.7 641.8 1475.0 642.8 1476.0 643.8 1474.9 644.0 1477.4 644.8 1478.2 645.8 1476.9 646.8 1477.3 647.8 1477.1 648.8 1474.5 649.0 1477.9 649.8 1480.3 650.8 1480.5 651.8 1479.3 652.8 1477.9 653.8 1479.0 654.0 1479.9 654.8 1480.8 655.8 1481.4 656.8 1480.9 657.8 1480.7 658.8 1479.4 659.0 1480.2 659.8 1481.9 660.8 1481.1 661.8 1480.0 662.8 1478.7 663.8 1481.3 664.0 1480.9 664.8 1479.0 665.8 1478.2 666.8 1478.9 667.8 1480.2 668.8 1478.2 669.0 1477.5 669.8 1475.9 670.8 1478.9 671.8 1476.6 672.8 1476.1 673.8 1474.9 674.0 1474.7 674.8 1475.3 675.8 1476.4 676.8 1474.7 677.8 1472.7 678.8 1474.3 679.0 1473.6 679.8 1473.8 680.8 1473.6 681.8 1474.7 682.8 1473.5 683.8 1474.3 684.0 1472.6 684.8 1473.8 685.8 1472.3 686.8 1470.1 687.8 1470.6 688.8 1470.7 689.0 1469.4 689.8 1472.1 690.8 1470.7 691.8 1468.0 692.8 1470.3 693.8 1469.4 694.0 1469.4 694.8 1470.1 695.8 1470.6 696.8 1470.5 697.8 1472.0 698.8 1472.1 699.0 1471.9 699.8 1471.0 700.8 1471.0 701.8 1472.0 702.8 1472.4 703.8 1473.2 704.0 1471.6 704.8 1469.7 705.8 1470.2 706.8 1470.4 707.8 1471.7 708.8 1470.8 709.0 1470.1 709.8 1471.2 710.8 1472.2 711.8 1471.3 712.8 1473.6 713.8 1472.9 714.0 1473.7 714.8 1474.5 715.8 1475.4 716.8 1474.1 717.8 1474.9 718.8 1476.3 719.0 1475.3 719.8 1474.7 720.8 1473.7 721.8 1472.9 722.8 1473.0 723.8 1472.2 724.0 1471.8 724.8 1470.0 725.8 1471.2 726.8 1471.3 727.8 1471.6 728.8 1470.8 729.0 1470.1 729.8 1469.6 730.8 1471.5 731.8 1466.2 732.8 1467.4 733.8 1466.3 734.0 1466.9 734.8 1467.8 735.8 1468.0 736.8 1469.6 737.8 1470.3 738.8 1468.3 739.0 1469.3 739.8 1469.2 740.8 1467.8 741.8 1468.3 742.8 1470.8 743.8 1470.8 744.0 1469.1 744.8 1469.5 745.8 1469.4 746.8 1468.1 747.8 1468.9 748.8 1465.9 749.0 1468.0 749.8 1470.0 750.8 1468.9 751.8 1467.0 752.8 1463.9 753.8 1465.1 754.0 1464.9 754.8 1463.2 755.8 1463.2 756.8 1461.3 757.8 1462.3 758.8 1462.6 759.0 1462.7 759.8 1462.9 760.8 1462.9 761.8 1462.2 762.8 1463.2 763.8 1460.6 764.0 1460.7 764.8 1459.8 765.8 1456.9 766.8 1456.9 767.8 1457.5 768.8 1456.5 769.0 1455.9 769.8 1456.8 770.8 1456.7 771.8 1457.2 772.8 1460.1 773.8 1458.4 774.0 1459.8 774.8 1460.3 775.8 1458.9 776.8 1460.4 777.8 1461.5 778.8 1464.1 779.0 1462.7 779.8 1460.3 780.8 1460.9 781.8 1459.6 782.8 1461.2 783.8 1460.8 784.0 1460.2 784.8 1459.9 785.8 1460.4 786.8 1459.6 787.8 1456.9 788.8 1460.0 789.0 1458.6 789.8 1458.3 790.8 1456.9 791.8 1455.6 792.8 1457.1 793.8 1458.5 794.0 1457.8 794.8 1459.0 795.8 1458.7 796.8 1458.5 797.8 1458.3 798.8 1456.9 799.0 1459.7 799.8 1460.8 800.8 1460.5 801.8 1460.3 802.8 1461.1 803.8 1462.0 804.0 1462.3 804.8 1462.3 805.8 1463.2 806.8 1463.1 807.8 1461.7 808.8 1463.3 809.0 1462.8 809.8 1463.1 810.8 1464.6 811.8 1463.3 812.8 1465.5 813.8 1465.6 814.0 1465.0 814.8 1465.0 815.8 1464.5 816.8 1464.6 817.8 1464.8 818.8 1467.4 819.0 1464.8 819.8 1464.1 820.8 1466.3 821.8 1467.5 822.8 1467.6 823.8 1469.2 824.0 1468.4 824.8 1466.8 825.8 1469.9 826.8 1469.3 827.8 1470.6 828.8 1470.0 829.0 1470.3 829.8 1469.7 830.8 1470.9 831.8 1472.0 832.8 1471.3 833.8 1471.2 834.0 1472.5 834.8 1472.1 835.8 1471.1 836.8 1471.9 837.8 1472.6 838.8 1472.6 839.0 1473.9 839.8 1474.2 840.8 1471.1 841.8 1471.9 842.8 1472.2 843.8 1473.9 844.0 1475.0 844.8 1475.5 845.8 1475.5 846.8 1473.2 847.8 1473.2 848.8 1472.5 849.0 1472.5 849.8 1471.2 850.8 1470.7 851.8 1470.6 852.8 1471.8 853.8 1470.8 854.0 1470.0 854.8 1468.8 855.8 1469.3 856.8 1468.6 857.8 1470.1 858.8 1470.5 859.0 1470.2 859.8 1470.6 860.8 1468.4 861.8 1468.4 862.8 1469.2 863.8 1470.1 864.0 1469.6 864.8 1468.0 865.8 1470.2 866.8 1470.6 867.8 1471.4 868.8 1471.0 869.0 1471.4 869.8 1472.9 870.8 1472.2 871.8 1473.2 872.8 1472.7 873.8 1471.0 874.0 1472.6 874.8 1472.2 875.8 1472.8 876.8 1474.2 877.8 1474.2 878.8 1473.2 879.0 1474.8 879.8 1473.4 880.8 1477.3 881.8 1477.7 882.8 1478.8 883.8 1479.2 884.0 1479.1 884.8 1480.6 885.8 1478.3 886.8 1478.4 887.8 1478.3 888.8 1481.3 889.0 1480.4 889.8 1480.5 890.8 1477.9 891.8 1480.1 892.8 1479.6 893.8 1477.5 894.0 1477.4 894.8 1475.6 895.8 1475.5 896.8 1474.5 897.8 1475.6 898.8 1475.2 899.0 1473.4 899.8 1474.1 900.8 1473.4 901.8 1471.6 902.8 1470.5 903.8 1470.5 904.0 1472.8 904.8 1472.4 905.8 1474.0 906.8 1476.5 907.8 1475.4 908.8 1474.8 909.0 1474.7 909.8 1476.1 910.8 1475.2 911.8 1473.5 912.8 1474.7 913.8 1474.4 914.0 1473.9 914.8 1474.6 915.8 1475.0 916.8 1474.5 917.8 1474.7 918.8 1476.4 919.0 1475.9 919.8 1477.0 920.8 1472.9 921.8 1474.1 922.8 1475.9 923.8 1476.0 924.0 1474.4 924.8 1475.9 925.8 1472.5 926.8 1474.0 927.8 1474.3 928.8 1475.3 929.0 1473.4 929.8 1473.3 930.8 1472.8 931.8 1474.1 932.8 1473.9 933.8 1473.2 934.0 1472.6 934.8 1472.2 935.8 1471.0 936.8 1468.8 937.8 1471.2 938.8 1468.6 939.0 1469.8 939.8 1469.2 940.8 1470.1 941.8 1468.7 942.8 1467.7 943.8 1468.5 944.0 1469.4 944.8 1468.6 945.8 1469.4 946.8 1469.2 947.8 1466.7 948.8 1467.4 949.0 1467.5 949.8 1466.1 950.8 1465.7 951.8 1467.1 952.8 1466.4 953.8 1467.7 954.0 1466.1 954.8 1464.0 955.8 1466.5 956.8 1465.1 957.8 1466.0 958.8 1464.7 959.0 1464.8 959.8 1467.0 960.8 1463.6 961.8 1464.1 962.8 1462.6 963.8 1462.2 964.0 1463.4 964.8 1464.7 965.8 1463.6 966.8 1461.6 967.8 1461.4 968.8 1464.8 969.0 1462.4 969.8 1462.3 970.8 1461.6 971.8 1460.3 972.8 1461.3 973.8 1461.6 974.8 1462.3 975.8 1464.3 976.5 1465.4 976.8 1465.1 977.8 1466.1 978.8 1467.1 979.8 1466.4 980.8 1468.2 981.5 1468.8 981.8 1469.4 982.8 1469.4 983.8 1470.1 984.8 1471.3 985.8 1472.7 986.5 1472.4 986.8 1470.7 987.8 1471.8 988.8 1473.3 989.8 1469.8 990.8 1469.9 991.5 1471.3 991.8 1471.7 992.8 1471.3 993.8 1470.2 994.8 1470.7 995.8 1470.3 996.5 1470.5 996.8 1470.7 997.8 1472.3 998.8 1471.1 999.8 1471.5 1000.8 1471.6 1001.5 1472.3 1001.8 1474.1 1002.8 1471.0 1003.8 1474.2 1004.8 1475.9 1005.8 1477.4 1006.5 1475.4 1006.8 1475.7 1007.8 1476.2 1008.8 1475.3 1009.8 1474.9 1010.8 1475.8 1011.5 1475.7 1011.8 1475.3 1012.8 1475.5 1013.8 1473.5 1014.8 1474.2 1015.8 1474.4 1016.5 1475.3 1016.8 1475.8 1017.8 1474.0 1018.8 1472.9 1019.8 1473.2 1020.8 1471.0 1021.5 1472.5 1021.8 1473.6 1022.8 1473.0 1023.8 1472.7 1024.8 1474.4 1025.8 1475.0 1026.5 1474.2 1026.8 1473.5 1027.8 1471.7 1028.8 1472.2 1029.8 1473.7 1030.8 1473.6 1031.5 1475.1 1031.8 1473.8 1032.8 1474.4 1033.8 1473.3 1034.8 1473.7 1035.8 1474.2 1036.5 1471.8 1036.8 1470.3 1037.8 1468.6 1038.8 1469.2 1039.8 1467.5 1040.8 1468.4 1041.5 1466.6 1041.8 1467.7 1042.8 1464.3 1043.8 1465.9 1044.8 1467.3 1045.8 1468.1 1046.5 1469.0 1046.8 1470.8 1047.8 1469.8 1048.8 1468.6 1049.8 1468.7 1050.8 1469.5 1051.5 1469.9 1051.8 1469.7 1052.8 1471.7 1053.8 1471.0 1054.8 1471.2 1055.8 1472.1 1056.5 1471.4 1056.8 1469.8 1057.8 1472.0 1058.8 1471.2 1059.8 1469.4 1060.8 1469.0 1061.5 1467.8 1061.8 1466.7 1062.8 1464.9 1063.8 1464.7 1064.8 1462.3 1065.8 1464.0 1066.5 1463.2 1066.8 1463.5 1067.8 1461.2 1068.8 1459.9 1069.8 1457.6 1070.8 1458.3 1071.5 1455.7 1071.8 1456.6 1072.8 1454.7 1073.8 1453.9 1074.8 1457.3 1075.8 1454.5 1076.5 1454.8 1076.8 1454.3 1077.8 1455.4 1078.8 1456.9 1079.8 1456.3 1080.8 1456.7 1081.5 1456.2 1081.8 1456.7 1082.8 1456.7 1083.8 1457.9 1084.8 1457.1 1085.8 1458.5 1086.5 1457.5 1086.8 1456.3 1087.8 1455.6 1088.8 1456.6 1089.8 1458.8 1090.8 1457.8 1091.5 1457.7 1091.8 1455.5 1092.8 1454.2 1093.8 1456.9 1094.8 1456.6 1095.8 1456.2 1096.5 1456.0 1096.8 1455.0 1097.8 1456.9 1098.8 1458.9 1099.8 1458.0 1100.8 1457.7 1101.5 1458.6 1101.8 1459.2 1102.8 1458.7 1103.8 1460.7 1104.8 1458.1 1105.8 1460.0 1106.5 1460.2 1106.8 1458.9 1107.8 1460.8 1108.8 1462.1 1109.8 1462.4 1110.8 1462.5 1111.5 1463.7 1111.8 1463.2 1112.8 1462.5 1113.8 1459.3 1114.8 1460.4 1115.8 1459.8 1116.5 1457.7 1116.8 1456.7 1117.8 1457.6 1118.8 1455.5 1119.8 1456.6 1120.8 1457.7 1121.5 1457.9 1121.8 1457.8 1122.8 1458.4 1123.8 1459.8 1124.8 1458.1 1125.8 1460.6 1126.5 1460.4 1126.8 1460.7 1127.8 1460.5 1128.8 1461.3 1129.8 1460.5 1130.8 1461.8 1131.5 1462.2 1131.8 1461.5 1132.8 1461.1 1133.8 1462.9 1134.8 1463.9 1135.8 1463.5 1136.5 1464.4 1136.8 1465.2 1137.8 1466.0 1138.8 1466.2 1139.8 1466.8 1140.8 1467.7 1141.5 1468.5 1141.8 1469.1 1142.8 1467.7 1143.8 1467.0 1144.8 1465.7 1145.8 1464.8 1146.5 1464.3 1146.8 1465.4 1147.8 1463.9 1148.8 1464.4 1149.8 1464.5 1150.8 1461.6 1151.5 1461.4 1151.8 1460.9 1152.8 1462.0 1153.8 1460.4 1154.8 1461.4 1155.8 1461.9 1156.5 1461.5 1156.8 1462.0 1157.8 1463.8 1158.8 1462.2 1159.8 1460.3 1160.8 1461.6 1161.5 1459.9 1161.8 1459.0 1162.8 1458.9 1163.8 1459.9 1164.8 1461.7 1165.8 1461.7 1166.5 1462.3 1166.8 1462.6 1167.8 1460.6 1168.8 1460.6 1169.8 1463.8 1170.8 1465.3 1171.8 1464.7 1172.8 1462.8 1173.8 1462.7 1174.0 1463.4 1174.8 1463.6 1175.8 1463.1 1176.8 1463.3 1177.8 1462.3 1178.8 1462.0 1179.0 1463.9 1179.8 1465.8 1180.8 1463.2 1181.8 1462.2 1182.8 1464.5 1183.8 1464.1 1184.0 1462.1 1184.8 1462.4 1185.8 1462.5 1186.8 1462.0 1187.8 1463.9 1188.8 1464.5 1189.0 1463.1 1189.8 1462.7 1190.8 1463.9 1191.8 1463.7 1192.8 1461.2 1193.8 1460.3 1194.0 1461.0 1194.8 1459.2 1195.8 1459.8 1196.8 1458.8 1197.8 1460.6 1198.8 1460.3 1199.0 1460.3 1199.8 1459.9 1200.8 1458.6 1201.8 1457.8 1202.8 1457.7 1203.8 1456.9 1204.0 1457.7 1204.8 1459.6 1205.8 1456.9 1206.8 1459.2 1207.8 1457.7 1208.8 1456.5 1209.0 1458.9 1209.8 1460.2 1210.8 1459.1 1211.8 1459.7 1212.8 1458.8 1213.8 1458.4 1214.0 1460.0 1214.8 1462.0 1215.8 1458.1 1216.8 1459.3 1217.8 1459.2 1218.8 1458.8 1219.0 1458.8 1219.8 1458.2 1220.8 1458.1 1221.8 1454.8 1222.8 1456.4 1223.8 1456.7 1224.0 1457.4 1224.8 1457.4 1225.8 1457.6 1226.8 1456.3 1227.8 1457.5 1228.8 1456.3 1229.0 1455.8 1229.8 1455.5 1230.8 1456.8 1231.8 1454.9 1232.8 1455.7 1233.8 1456.6 1234.0 1458.0 1234.8 1457.7 1235.8 1459.3 1236.8 1459.5 1237.8 1457.0 1238.8 1457.7 1239.0 1457.1 1239.8 1455.5 1240.8 1457.3 1241.8 1456.9 1242.8 1456.5 1243.8 1457.5 1244.0 1456.3 1244.8 1455.9 1245.8 1457.4 1246.8 1458.1 1247.8 1458.0 1248.8 1459.1 1249.0 1459.3 1249.8 1459.6 1250.8 1460.1 1251.8 1460.4 1252.8 1462.0 1253.8 1463.2 1254.0 1461.7 1254.8 1463.0 1255.8 1461.6 1256.8 1463.8 1257.8 1466.2 1258.8 1465.7 1259.0 1465.4 1259.8 1465.7 1260.8 1465.9 1261.8 1468.2 1262.8 1470.3 1263.8 1471.2 1264.0 1470.1 1264.8 1470.3 1265.8 1471.2 1266.8 1472.7 1267.8 1474.1 1268.8 1473.4 1269.0 1473.9 1269.8 1473.2 1270.8 1475.3 1271.8 1474.0 1272.8 1474.4 1273.8 1476.5 1274.0 1475.3 1274.8 1474.2 1275.8 1475.7 1276.8 1473.8 1277.8 1475.2 1278.8 1472.7 1279.0 1473.2 1279.8 1472.0 1280.8 1471.1 1281.8 1472.5 1282.8 1471.2 1283.8 1471.1 1284.0 1471.0 1284.8 1471.9 1285.8 1470.3 1286.8 1472.5 1287.8 1474.6 1288.8 1471.8 1289.0 1469.6 1289.8 1470.1 1290.8 1470.3 1291.8 1470.0 1292.8 1467.8 1293.8 1469.2 1294.0 1469.0 1294.8 1466.8 1295.8 1469.1 1296.8 1469.6 1297.8 1470.2 1298.8 1467.1 1299.0 1468.4 1299.8 1467.1 1300.8 1469.0 1301.8 1469.1 1302.8 1469.6 1303.8 1469.8 1304.0 1469.9 1304.8 1471.7 1305.8 1471.3 1306.8 1470.9 1307.8 1471.1 1308.8 1473.1 1309.0 1471.4 1309.8 1469.7 1310.8 1470.6 1311.8 1473.9 1312.8 1473.8 1313.8 1474.3 1314.0 1474.0 1314.8 1474.7 1315.8 1473.1 1316.8 1474.2 1317.8 1472.1 1318.8 1472.8 1319.0 1472.6 1319.8 1473.1 1320.8 1473.6 1321.8 1472.8 1322.8 1474.4 1323.8 1472.4 1324.0 1472.3 1324.8 1472.5 1325.8 1471.1 1326.8 1470.6 1327.8 1471.5 1328.8 1471.1 1329.0 1471.5 1329.8 1470.2 1330.8 1470.1 1331.8 1472.7 1332.8 1473.9 1333.8 1472.8 1334.0 1471.8 1334.8 1469.8 1335.8 1472.5 1336.8 1472.0 1337.8 1472.2 1338.8 1469.3 1339.0 1472.3 1339.8 1472.1 1340.8 1474.1 1341.8 1473.6 1342.8 1474.1 1343.8 1473.3 1344.0 1473.2 1344.8 1473.5 1345.8 1473.0 1346.8 1471.8 1347.8 1471.8 1348.8 1470.7 1349.0 1472.3 1349.8 1471.4 1350.8 1470.8 1351.8 1470.7 1352.8 1472.1 1353.8 1471.8 1354.0 1471.0 1354.8 1468.0 1355.8 1469.1 1356.8 1469.5 1357.8 1470.8 1358.8 1469.4 1359.0 1470.1 1359.8 1469.6 1360.8 1469.8 1361.8 1467.7 1362.8 1468.3 1363.8 1469.0 1364.0 1468.8 1364.8 1470.4 1365.8 1469.3 1366.8 1471.2 1367.8 1469.5 1368.8 1469.8 1369.0 1468.3 1369.8 1468.4 1370.8 1468.3 1371.8 1466.0 1372.8 1464.7 1373.8 1463.0 1374.0 1465.0 1374.8 1464.2 1375.8 1466.8 1376.8 1466.3 1377.8 1467.3 1378.8 1465.4 1379.0 1467.5 1379.8 1468.1 1380.8 1470.3 1381.8 1468.4 1382.8 1470.5 1383.8 1472.9 1384.0 1472.4 1384.8 1472.2 1385.8 1470.0 1386.8 1471.0 1387.8 1472.8 1388.8 1471.3 1389.0 1470.1 1389.8 1470.8 1390.8 1471.8 1391.8 1469.4 1392.8 1470.7 1393.8 1469.2 1394.0 1468.6 1394.8 1469.2 1395.8 1469.1 1396.8 1468.6 1397.8 1470.1 1398.8 1470.4 1399.0 1470.1 1399.8 1469.6 1400.8 1468.5 1401.8 1470.3 1402.8 1468.4 1403.8 1469.6 1404.0 1468.8 1404.8 1470.9 1405.8 1469.2 1406.8 1469.4 1407.8 1468.7 1408.8 1467.9 1409.0 1467.3 1409.8 1466.3 1410.8 1467.1 1411.8 1470.8 1412.8 1467.3 1413.8 1466.4 1414.0 1468.2 1414.8 1465.5 1415.8 1468.9 1416.8 1467.8 1417.8 1467.9 1418.8 1467.2 1419.0 1467.7 1419.8 1468.8 1420.8 1467.6 1421.8 1468.0 1422.8 1469.7 1423.8 1469.9 1424.0 1469.6 1424.8 1470.0 1425.8 1469.9 1426.8 1469.4 1427.8 1469.5 1428.8 1468.7 1429.0 1468.4 1429.8 1466.5 1430.8 1464.0 1431.8 1466.4 1432.8 1465.5 1433.8 1465.3 1434.0 1464.9 1434.8 1465.8 1435.8 1466.1 1436.8 1464.0 1437.8 1464.4 1438.8 1465.6 1439.0 1465.7 1439.8 1465.2 1440.8 1464.7 1441.8 1464.1 1442.8 1465.3 1443.8 1464.7 1444.0 1464.5 1444.8 1464.2 1445.8 1464.2 1446.8 1464.4 1447.8 1465.6 1448.8 1465.7 1449.0 1466.2 1449.8 1464.6 1450.8 1465.7 1451.8 1465.4 1452.8 1465.1 1453.8 1467.0 1454.0 1465.3 1454.8 1465.1 1455.8 1463.6 1456.8 1462.9 1457.8 1464.8 1458.8 1464.1 1459.0 1463.1 1459.8 1464.1 1460.8 1463.3 1461.8 1463.1 1462.8 1462.2 1463.8 1462.5 1464.0 1461.4 1464.8 1460.1 1465.8 1461.5 1466.8 1461.7 1467.8 1462.3 1468.8 1460.8 1469.0 1462.1 1469.8 1463.8 1470.8 1466.3 1471.8 1466.3 1472.8 1466.3 1473.8 1468.2 1474.0 1468.2 1474.8 1468.0 1475.8 1468.2 1476.8 1469.6 1477.8 1470.7 1478.8 1469.6 1479.0 1472.5 1479.8 1472.3 1480.8 1472.8 1481.8 1474.1 1482.8 1475.5 1483.8 1475.2 1484.0 1475.2 1484.8 1476.0 1485.8 1475.7 1486.8 1478.2 1487.8 1476.5 1488.8 1476.3 1489.0 1475.6 1489.8 1474.3 1490.8 1477.7 1491.8 1476.9 1492.8 1477.5 1493.8 1477.9 1494.0 1477.4 1494.8 1476.1 1495.8 1477.3 1496.8 1475.8 1497.8 1475.8 1498.8 1474.2 1499.0 1475.9 1499.8 1477.2 1500.8 1475.0 1501.8 1475.9 1502.8 1474.7 1503.8 1474.8 1504.0 1475.1 1504.8 1474.7 1505.8 1474.4 1506.8 1475.1 1507.8 1474.0 1508.8 1475.5 1509.0 1475.6 1509.8 1475.6 1510.8 1475.1 1511.8 1473.9 1512.8 1473.7 1513.8 1473.8 1514.0 1473.3 1514.8 1473.9 1515.8 1472.7 1516.8 1474.4 1517.8 1474.6 1518.8 1473.6 1519.0 1472.8 1519.8 1471.8 1520.8 1469.8 1521.8 1471.4 1522.8 1469.9 1523.8 1470.4 1524.0 1470.4 1524.8 1471.4 1525.8 1471.0 1526.8 1470.2 1527.8 1469.4 1528.8 1472.3 1529.0 1470.3 1529.8 1470.9 1530.8 1470.8 1531.8 1470.2 1532.8 1471.7 1533.8 1471.9 1534.0 1472.4 1534.8 1473.6 1535.8 1472.8 1536.8 1474.1 1537.8 1474.8 1538.8 1474.0 1539.0 1473.4 1539.8 1475.0 1540.8 1472.8 1541.8 1473.7 1542.8 1474.2 1543.8 1474.0 1544.0 1474.5 1544.8 1475.3 1545.8 1476.3 1546.8 1474.9 1547.8 1474.9 1548.8 1474.3 1549.0 1475.1 1549.8 1475.1 1550.8 1473.9 1551.8 1474.5 1552.8 1473.7 1553.8 1473.3 1554.0 1471.6 1554.8 1470.9 1555.8 1471.2 1556.8 1470.7 1557.8 1469.1 1558.8 1467.4 1559.0 1467.6 1559.8 1469.2 1560.8 1467.2 1561.8 1466.9 1562.8 1466.9 1563.8 1466.7 1564.0 1464.7 1564.8 1466.7 1565.8 1466.2 1566.8 1464.2 1567.8 1464.2 1568.8 1464.9 1569.0 1464.6 1569.8 1464.8 1570.8 1464.5 1571.8 1464.3 1572.8 1462.8 1573.8 1462.2 1574.0 1463.9 1574.8 1464.2 1575.8 1462.0 1576.8 1463.9 1577.8 1462.4 1578.8 1463.6 1579.0 1462.2 1579.8 1461.9 1580.8 1462.1 1581.8 1462.8 1582.8 1465.2 1583.8 1462.8 1584.0 1461.6 1584.8 1461.4 1585.8 1461.1 1586.8 1461.7 1587.8 1460.0 1588.8 1459.4 1589.0 1459.8 1589.8 1461.9 1590.8 1461.7 1591.8 1461.1 1592.8 1462.6 1593.8 1462.7 1594.0 1462.6 1594.8 1462.9 1595.8 1462.3 1596.8 1462.3 1597.8 1465.0 1598.8 1463.6 1599.0 1464.6 1599.8 1463.3 1600.8 1462.5 1601.8 1465.7 1602.8 1464.7 1603.8 1464.7 1604.0 1466.1 1604.8 1466.8 1605.8 1467.4 1606.8 1464.3 1607.8 1461.8 1608.8 1464.2 1609.0 1465.0 1609.8 1464.3 1610.8 1462.8 1611.8 1465.4 1612.8 1464.7 1613.8 1464.9 1614.0 1463.9 1614.8 1463.0 1615.8 1462.4 1616.8 1462.5 1617.8 1462.7 1618.8 1463.1 1619.0 1462.2 1619.8 1463.6 1620.8 1461.0 1621.8 1462.4 1622.8 1461.7 1623.8 1460.1 1624.0 1460.8 1624.8 1461.4 1625.8 1463.6 1626.8 1460.5 1627.8 1460.2 1628.8 1459.8 1629.0 1461.2 1629.8 1462.3 1630.8 1462.4 1631.8 1463.2 1632.8 1461.9 1633.8 1463.0 1634.0 1462.4 1634.8 1463.1 1635.8 1463.1 1636.8 1465.5 1637.8 1466.4 1638.8 1467.0 1639.0 1465.4 1639.8 1465.4 1640.8 1464.0 1641.8 1465.4 1642.8 1463.2 1643.8 1464.6 1644.0 1464.8 1644.8 1465.0 1645.8 1464.3 1646.8 1463.7 1647.8 1464.1 1648.8 1464.1 1649.0 1462.6 1649.8 1461.6 1650.8 1459.8 1651.8 1461.8 1652.8 1459.9 1653.8 1459.0 1654.0 1460.1 1654.8 1462.0 1655.8 1459.8 1656.8 1460.1 1657.8 1458.8 1658.8 1459.8 1659.0 1460.0 1659.8 1459.4 1660.8 1459.4 1661.8 1459.9 1662.8 1463.7 1663.8 1464.0 1664.0 1463.2 1664.8 1465.2 1665.8 1462.8 1666.8 1462.5 1667.8 1461.8 1668.8 1463.6 1669.0 1464.0 1669.8 1465.7 1670.8 1466.5 1671.8 1465.1 1672.8 1463.8 1673.8 1464.6 1674.0 1464.5 1674.8 1464.9 1675.8 1465.1 1676.8 1466.7 1677.8 1466.4 1678.8 1467.5 1679.0 1466.2 1679.8 1465.6 1680.8 1465.9 1681.8 1467.4 1682.8 1466.0 1683.8 1468.5 1684.0 1466.1 1684.8 1466.6 1685.8 1464.9 1686.8 1467.0 1687.8 1467.7 1688.8 1468.5 1689.0 1467.5 1689.8 1467.2 1690.8 1467.2 1691.8 1469.2 1692.8 1468.5 1693.8 1469.8 1694.0 1468.9 1694.8 1469.0 1695.8 1469.5 1696.8 1469.6 1697.8 1469.4 1698.8 1469.3 1699.0 1471.5 1699.8 1470.0 1700.8 1469.7 1701.8 1470.1 1702.8 1470.6 1703.8 1467.7 1704.0 1469.5 1704.8 1467.6 1705.8 1469.0 1706.8 1467.8 1707.8 1468.9 1708.8 1470.7 1709.0 1468.2 1709.8 1467.2 1710.8 1466.7 1711.8 1467.3 1712.8 1466.2 1713.8 1466.4 1714.0 1465.8 1714.8 1466.1 1715.8 1466.2 1716.8 1466.6 1717.8 1465.1 1718.8 1465.1 1719.0 1465.4 1719.8 1465.8 1720.8 1462.4 1721.8 1464.2 1722.8 1465.6 1723.8 1462.0 1724.0 1462.5 1724.8 1463.4 1725.8 1460.5 1726.8 1460.3 1727.8 1460.8 1728.8 1460.0 1729.0 1461.1 1729.8 1460.7 1730.8 1462.4 1731.8 1462.4 1732.8 1464.4 1733.8 1464.5 1734.0 1465.1 1734.8 1465.5 1735.8 1467.6 1736.8 1468.9 1737.8 1469.6 1738.8 1471.2 1739.0 1470.1 1739.8 1469.4 1740.8 1471.4 1741.8 1475.2 1742.8 1473.7 1743.8 1475.6 1744.0 1474.1 1744.8 1474.6 1745.8 1473.9 1746.8 1474.1 1747.8 1473.8 1748.8 1475.1 1749.0 1475.0 1749.8 1474.8 1750.8 1476.0 1751.8 1474.7 1752.8 1475.1 1753.8 1474.3 1754.0 1475.3 1754.8 1478.0 1755.8 1477.2 1756.8 1477.7 1757.8 1475.8 1758.8 1474.6 1759.0 1476.7 1759.8 1474.8 1760.8 1477.7 1761.8 1473.0 1762.8 1476.3 1763.8 1473.9 1764.0 1475.0 1764.8 1475.3 1765.8 1474.8 1766.8 1475.5 1767.8 1475.4 1768.8 1473.0 1769.0 1475.1 1769.8 1475.1 1770.8 1474.9 1771.8 1476.4 1772.8 1476.4 1773.8 1478.1 1774.0 1476.9 1774.8 1477.9 1775.8 1476.9 1776.8 1477.0 1777.8 1476.8 1778.8 1475.2 1779.0 1477.7 1779.8 1478.3 1780.8 1478.3 1781.8 1478.0 1782.8 1475.9 1783.8 1476.7 1784.0 1476.5 1784.8 1476.3 1785.8 1476.6 1786.8 1476.1 1787.8 1474.8 1788.8 1474.2 1789.0 1474.8 1789.8 1475.0 1790.8 1474.9 1791.8 1473.9 1792.8 1473.4 1793.8 1475.2 1794.0 1474.1 1794.8 1474.7 1795.8 1475.1 1796.8 1472.1 1797.8 1472.1 1798.8 1471.4 1799.0 1472.2 1799.8 1473.2 1800.8 1473.4 1801.8 1472.5 1802.8 1473.2 1803.8 1473.6 1804.0 1473.1 1804.8 1473.2 1805.8 1471.4 1806.8 1474.6 1807.8 1474.1 1808.8 1474.0 1809.0 1474.7 1809.8 1473.1 1810.8 1473.6 1811.8 1473.7 1812.8 1474.9 1813.8 1474.9 1814.0 1474.8 1814.8 1475.1 1815.8 1475.3 1816.8 1472.3 1817.8 1471.9 1818.8 1471.5 1819.0 1472.3 1819.8 1471.1 1820.8 1472.1 1821.8 1468.9 1822.8 1469.7 1823.8 1469.7 1824.0 1470.1 1824.8 1469.9 1825.8 1468.7 1826.8 1470.3 1827.8 1472.3 1828.8 1473.7 1829.0 1472.6 1829.8 1474.5 1830.8 1474.6 1831.8 1474.4 1832.8 1475.8 1833.8 1474.7 1834.0 1475.6 1834.8 1475.6 1835.8 1475.0 1836.8 1474.5 1837.8 1475.4 1838.8 1475.1 1839.0 1477.0 1839.8 1477.4 1840.8 1476.9 1841.8 1477.7 1842.8 1476.2 1843.8 1476.6 1844.0 1476.3 1844.8 1476.3 1845.8 1477.8 1846.8 1477.6 1847.8 1477.4 1848.8 1475.9 1849.0 1477.5 1849.8 1478.7 1850.8 1479.7 1851.8 1478.8 1852.8 1478.5 1853.8 1477.9 1854.0 1479.7 1854.8 1479.7 1855.8 1480.2 1856.8 1478.5 1857.8 1477.8 1858.8 1478.9 1859.0 1478.7 1859.8 1478.6 1860.8 1477.7 1861.8 1477.6 1862.8 1475.3 1863.8 1476.5 1864.0 1476.4 1864.8 1475.1 1865.8 1476.5 1866.8 1476.1 1867.8 1471.9 1868.8 1473.0 1869.0 1475.0 1869.8 1473.9 1870.8 1472.5 1871.8 1474.8 1872.8 1475.3 1873.8 1472.9 1874.0 1473.8 1874.8 1473.0 1875.8 1474.8 1876.8 1472.4 1877.8 1470.8 1878.8 1472.1 1879.0 1472.6 1879.8 1471.3 1880.8 1469.6 1881.8 1468.6 1882.8 1470.7 1883.8 1471.7 1884.0 1469.9 1884.8 1470.2 1885.8 1469.0 1886.8 1468.5 1887.8 1467.0 1888.8 1465.5 1889.0 1467.0 1889.8 1467.1 1890.8 1468.1 1891.8 1469.0 1892.8 1470.9 1893.8 1469.7 1894.0 1470.7 1894.8 1471.4 1895.8 1470.9 1896.8 1471.8 1897.8 1470.9 1898.8 1469.6 1899.0 1472.1 1899.8 1473.0 1900.8 1472.7 1901.8 1473.0 1902.8 1473.6 1903.8 1474.8 1904.0 1475.4 1904.8 1476.9 1905.8 1477.0 1906.8 1477.6 1907.8 1478.7 1908.8 1480.4 1909.0 1479.0 1909.8 1477.7 1910.8 1478.3 1911.8 1480.5 1912.8 1479.8 1913.8 1477.5 1914.0 1477.3 1914.8 1476.9 1915.8 1478.6 1916.8 1478.9 1917.8 1477.4 1918.8 1475.3 1919.0 1475.9 1919.8 1476.4 1920.8 1476.6 1921.8 1478.2 1922.8 1478.6 1923.8 1478.7 1924.0 1477.6 1924.8 1478.2 1925.8 1479.1 1926.8 1478.3 1927.8 1479.3 1928.8 1481.4 1929.0 1480.3 1929.8 1480.5 1930.8 1482.1 1931.8 1482.1 1932.8 1482.3 1933.8 1482.8 1934.0 1482.6 1934.8 1482.7 1935.8 1485.0 1936.8 1486.7 1937.8 1486.5 1938.8 1488.6 1939.0 1487.5 1939.8 1488.3 1940.8 1487.3 1941.8 1488.3 1942.8 1488.6 1943.8 1488.7 1944.0 1489.5 1944.8 1487.8 1945.8 1486.9 1946.8 1488.3 1947.8 1487.2 1948.8 1485.7 1949.0 1484.9 1949.8 1484.3 1950.8 1485.2 1951.8 1485.0 1952.8 1485.3 1953.8 1484.7 1954.0 1484.9 1954.8 1485.5 1955.8 1484.7 1956.8 1486.0 1957.8 1484.7 1958.8 1484.6 1959.0 1487.7 1959.8 1486.0 1960.8 1486.8 1961.8 1487.6 1962.8 1487.9 1963.8 1488.6 1964.0 1487.4 1964.8 1485.6 1965.8 1485.5 1966.8 1488.0 1967.8 1489.3 1968.8 1489.2 1969.0 1489.1 1969.8 1489.5 1970.8 1489.8 1971.8 1488.3 1972.8 1486.6 1973.8 1488.0 1974.0 1488.7 1974.8 1489.6 1975.8 1491.1 1976.8 1490.5 1977.8 1489.3 1978.8 1490.3 1979.0 1490.0 1979.8 1488.1 1980.8 1488.6 1981.8 1489.2 1982.8 1489.6 1983.8 1489.5 1984.0 1487.7 1984.8 1487.0 1985.8 1486.5 1986.8 1487.9 1987.8 1484.4 1988.8 1484.2 1989.0 1487.2 1989.8 1485.9 1990.8 1486.4 1991.8 1486.8 1992.8 1486.3 1993.8 1485.8 1994.0 1485.9 1994.8 1487.7 1995.8 1485.3 1996.8 1484.4 1997.8 1487.1 1998.8 1484.8 1999.0 1487.1 1999.8 1485.1 2000.8 1485.7 2001.8 1488.8 2002.8 1489.2 2003.8 1491.1 2004.0 1489.6 2004.8 1489.2 2005.8 1489.8 2006.8 1492.0 2007.8 1491.9 2008.8 1489.7 2009.0 1489.9 2009.8 1490.0 2010.8 1488.1 2011.8 1488.2 2012.8 1488.3 2013.8 1488.8 2014.0 1488.6 2014.8 1486.9 2015.8 1486.8 2016.8 1488.9 2017.8 1489.2 2018.8 1490.8 2019.0 1488.4 2019.8 1488.1 2020.8 1488.4 2021.8 1484.8 2022.8 1486.3 2023.8 1485.5 2024.0 1485.0 2024.8 1484.4 2025.8 1483.7 2026.8 1481.2 2027.8 1480.3 2028.8 1479.0 2029.0 1479.6 2029.8 1477.9 2030.8 1477.7 2031.8 1476.5 2032.8 1476.7 2033.8 1479.0 2034.0 1478.4 2034.8 1476.6 2035.8 1479.5 2036.8 1478.9 2037.8 1478.0 2038.8 1477.6 2039.0 1477.0 2039.8 1477.9 2040.8 1477.5 2041.8 1475.9 2042.8 1475.2 2043.8 1474.3 2044.0 1475.9 2044.8 1477.4 2045.8 1476.7 2046.8 1475.3 2047.8 1476.9 2048.8 1477.0 2049.0 1474.9 2049.8 1476.1 2050.8 1474.2 2051.8 1474.0 2052.8 1473.8 2053.8 1473.9 2054.0 1475.0 2054.8 1474.8 2055.8 1475.5 2056.8 1475.1 2057.8 1474.7 2058.8 1474.9 2059.0 1473.3 2059.8 1474.0 2060.8 1474.6 2061.8 1473.5 2062.8 1473.6 2063.8 1474.6 2064.0 1472.2 2064.8 1472.6 2065.8 1470.7 2066.8 1475.0 2067.8 1474.7 2068.8 1474.4 2069.0 1473.2 2069.8 1472.4 2070.8 1472.6 2071.8 1474.5 2072.8 1475.4 2073.8 1474.4 2074.0 1473.6 2074.8 1471.8 2075.8 1473.1 2076.8 1472.9 2077.8 1473.4 2078.8 1473.9" stroke="#0000ff" stroke-width="5.0"/>
</g>
<text transform="translate(248.5 1660.07) scale(1 1.045)" font-size="48.0" fill="#161616" text-anchor="middle">0</text>
<text transform="translate(553.6 1660.07) scale(1 1.045)" font-size="48.0" fill="#161616" text-anchor="middle">200</text>
<text transform="translate(858.6 1660.07) scale(1 1.045)" font-size="48.0" fill="#161616" text-anchor="middle">400</text>
<text transform="translate(1163.7 1660.07) scale(1 1.045)" font-size="48.0" fill="#161616" text-anchor="middle">600</text>
<text transform="translate(1468.7 1660.07) scale(1 1.045)" font-size="48.0" fill="#161616" text-anchor="middle">800</text>
<text transform="translate(1773.8 1660.07) scale(1 1.045)" font-size="48.0" fill="#161616" text-anchor="middle">1000</text>
<text transform="translate(2078.8 1660.07) scale(1 1.045)" font-size="48.0" fill="#161616" text-anchor="middle">1200</text>
<text transform="translate(235.0 1237.57) scale(1 1.045)" font-size="48.0" fill="#161616" text-anchor="end">40</text>
<text transform="translate(235.0 1364.57) scale(1 1.045)" font-size="48.0" fill="#161616" text-anchor="end">20</text>
<text transform="translate(235.0 1491.57) scale(1 1.045)" font-size="48.0" fill="#161616" text-anchor="end">0</text>
<text transform="translate(235.0 1618.57) scale(1 1.045)" font-size="48.0" fill="#161616" text-anchor="end">-20</text>
<text transform="translate(74.6 1407.8) rotate(-90) translate(0 0.85) scale(1 1.045)" font-size="52.7" fill="#161616" text-anchor="middle">Altitude error</text>
<text transform="translate(145.4 1407.8) rotate(-90) translate(0 0.85) scale(1 1.045)" font-size="52.7" fill="#161616" text-anchor="middle">(m)</text>
<text transform="translate(1163.7 141.65) scale(1 1.045)" font-size="52.7" fill="#000" text-anchor="middle">UGV2 Position error curve</text>
<text transform="translate(1163.7 1725.26) scale(1 1.045)" font-size="53.3" fill="#161616" text-anchor="middle">Time(s)</text>
<rect x="1857.4" y="27.1" width="416.7" height="197.7" fill="#fff" stroke="#404040" stroke-width="2.6"/>
<path d="M1873.6 65.9H2041.2" stroke="#ff0000" stroke-width="5.4" stroke-dasharray="21.8 5.5 10.9 5.4"/>
<path d="M1873.6 126.3H2041.2" stroke="#00ff00" stroke-width="5.4" stroke-dasharray="21.8 21.8"/>
<path d="M1873.6 187.2H2042.2" stroke="#0000ff" stroke-width="5.4"/>
<text transform="translate(2055.5 84.92) scale(1 1.045)" font-size="45.0" fill="#000">KF+LM</text>
<text transform="translate(2055.5 145.42) scale(1 1.045)" font-size="45.0" fill="#000">FC-IMM</text>
<text transform="translate(2055.5 205.72) scale(1 1.045)" font-size="45.0" fill="#000">DOC-IMM</text>
</svg></body></html>
